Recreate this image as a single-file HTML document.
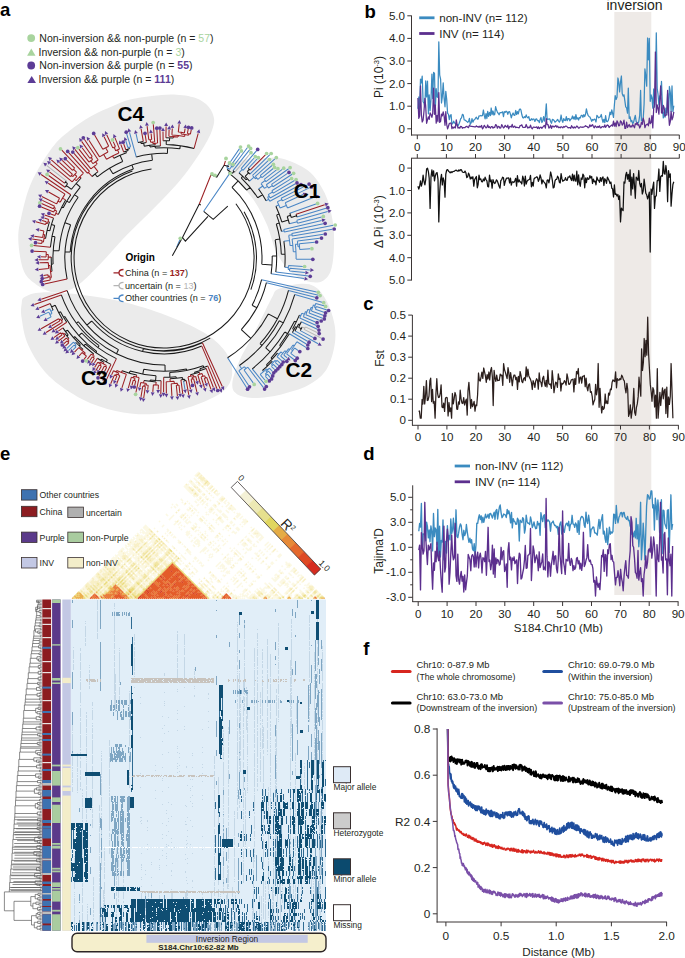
<!DOCTYPE html>
<html><head><meta charset="utf-8"><style>
html,body{margin:0;padding:0;background:#fff;width:685px;height:958px;overflow:hidden}
svg{display:block}
text{font-family:"Liberation Sans", sans-serif}
</style></head><body>
<svg width="685" height="958" viewBox="0 0 685 958">
<rect x="614.3" y="12" width="37" height="583" fill="#eeeae7"/>
<text x="634.5" y="10.2" font-size="14" text-anchor="middle" font-weight="normal" fill="#231f20" >inversion</text>
<line x1="411.5" y1="15.5" x2="411.5" y2="135.5" stroke="#3a3535" stroke-width="1"/>
<line x1="411" y1="135" x2="679.5" y2="135" stroke="#3a3535" stroke-width="1"/>
<line x1="407.3" y1="128.8" x2="411.5" y2="128.8" stroke="#3a3535" stroke-width="1"/>
<text x="405" y="132.8" font-size="11.6" text-anchor="end" font-weight="normal" fill="#231f20" >0</text>
<line x1="407.3" y1="106.2" x2="411.5" y2="106.2" stroke="#3a3535" stroke-width="1"/>
<text x="405" y="110.2" font-size="11.6" text-anchor="end" font-weight="normal" fill="#231f20" >1.0</text>
<line x1="407.3" y1="83.6" x2="411.5" y2="83.6" stroke="#3a3535" stroke-width="1"/>
<text x="405" y="87.6" font-size="11.6" text-anchor="end" font-weight="normal" fill="#231f20" >2.0</text>
<line x1="407.3" y1="61" x2="411.5" y2="61" stroke="#3a3535" stroke-width="1"/>
<text x="405" y="65" font-size="11.6" text-anchor="end" font-weight="normal" fill="#231f20" >3.0</text>
<line x1="407.3" y1="38.4" x2="411.5" y2="38.4" stroke="#3a3535" stroke-width="1"/>
<text x="405" y="42.4" font-size="11.6" text-anchor="end" font-weight="normal" fill="#231f20" >4.0</text>
<line x1="407.3" y1="15.8" x2="411.5" y2="15.8" stroke="#3a3535" stroke-width="1"/>
<text x="405" y="19.8" font-size="11.6" text-anchor="end" font-weight="normal" fill="#231f20" >5.0</text>
<line x1="417.3" y1="135" x2="417.3" y2="139.2" stroke="#3a3535" stroke-width="1"/>
<text x="417.3" y="151" font-size="11.6" text-anchor="middle" font-weight="normal" fill="#231f20" >0</text>
<line x1="446.4" y1="135" x2="446.4" y2="139.2" stroke="#3a3535" stroke-width="1"/>
<text x="446.4" y="151" font-size="11.6" text-anchor="middle" font-weight="normal" fill="#231f20" >10</text>
<line x1="475.5" y1="135" x2="475.5" y2="139.2" stroke="#3a3535" stroke-width="1"/>
<text x="475.5" y="151" font-size="11.6" text-anchor="middle" font-weight="normal" fill="#231f20" >20</text>
<line x1="504.6" y1="135" x2="504.6" y2="139.2" stroke="#3a3535" stroke-width="1"/>
<text x="504.6" y="151" font-size="11.6" text-anchor="middle" font-weight="normal" fill="#231f20" >30</text>
<line x1="533.7" y1="135" x2="533.7" y2="139.2" stroke="#3a3535" stroke-width="1"/>
<text x="533.7" y="151" font-size="11.6" text-anchor="middle" font-weight="normal" fill="#231f20" >40</text>
<line x1="562.9" y1="135" x2="562.9" y2="139.2" stroke="#3a3535" stroke-width="1"/>
<text x="562.9" y="151" font-size="11.6" text-anchor="middle" font-weight="normal" fill="#231f20" >50</text>
<line x1="592" y1="135" x2="592" y2="139.2" stroke="#3a3535" stroke-width="1"/>
<text x="592" y="151" font-size="11.6" text-anchor="middle" font-weight="normal" fill="#231f20" >60</text>
<line x1="621.1" y1="135" x2="621.1" y2="139.2" stroke="#3a3535" stroke-width="1"/>
<text x="621.1" y="151" font-size="11.6" text-anchor="middle" font-weight="normal" fill="#231f20" >70</text>
<line x1="650.2" y1="135" x2="650.2" y2="139.2" stroke="#3a3535" stroke-width="1"/>
<text x="650.2" y="151" font-size="11.6" text-anchor="middle" font-weight="normal" fill="#231f20" >80</text>
<line x1="679.3" y1="135" x2="679.3" y2="139.2" stroke="#3a3535" stroke-width="1"/>
<text x="679.3" y="151" font-size="11.6" text-anchor="middle" font-weight="normal" fill="#231f20" >90</text>
<text transform="rotate(-90 383.3 77)" x="383.3" y="77" font-size="12" text-anchor="middle" fill="#231f20">Pi (10<tspan dy="-4" font-size="7.5">-3</tspan><tspan dy="4">)</tspan></text>
<line x1="419.2" y1="17.8" x2="434.5" y2="17.8" stroke="#3b8bc0" stroke-width="2.8"/>
<line x1="419.2" y1="33.5" x2="434.5" y2="33.5" stroke="#5c2f8e" stroke-width="2.8"/>
<text x="439.2" y="21.8" font-size="11.6" text-anchor="start" font-weight="normal" fill="#231f20" >non-INV (n= 112)</text>
<text x="439.2" y="37.6" font-size="11.6" text-anchor="start" font-weight="normal" fill="#231f20" >INV (n= 114)</text>
<polyline points="417.9,108.7 418.8,97.0 419.6,109.9 420.5,79.1 421.4,82.8 422.2,76.2 423.1,101.7 424.0,103.2 424.9,107.2 425.7,80.9 426.6,96.9 427.5,81.1 428.4,113.8 429.2,94.8 430.1,110.6 431.0,99.1 431.9,74.1 432.7,98.6 433.6,72.3 434.5,73.4 435.3,108.9 436.2,88.7 437.1,97.0 438.0,97.4 438.8,41.8 439.7,75.1 440.6,79.1 441.5,103.0 442.3,97.0 443.2,82.8 444.1,98.3 445.0,106.8 445.8,91.4 446.7,99.4 447.6,113.4 448.4,114.1 449.3,119.6 450.2,115.3 451.1,114.7 451.9,124.2 452.8,123.4 453.7,121.2 454.6,123.0 455.4,123.4 456.3,124.8 457.2,124.7 458.1,125.8 458.9,124.0 459.8,121.8 460.7,118.7 461.5,117.9 462.4,114.3 463.3,115.0 464.2,120.0 465.0,120.1 465.9,120.7 466.8,121.4 467.7,122.3 468.5,121.6 469.4,118.3 470.3,124.3 471.2,122.8 472.0,118.6 472.9,122.2 473.8,120.0 474.6,119.7 475.5,118.2 476.4,117.2 477.3,119.0 478.1,119.0 479.0,115.9 479.9,116.0 480.8,115.5 481.6,115.8 482.5,115.7 483.4,110.0 484.3,115.4 485.1,118.9 486.0,113.6 486.9,118.5 487.7,111.3 488.6,116.3 489.5,112.3 490.4,115.6 491.2,108.0 492.1,114.6 493.0,111.0 493.9,115.0 494.7,114.5 495.6,106.7 496.5,110.1 497.4,112.1 498.2,113.3 499.1,114.8 500.0,112.7 500.8,112.5 501.7,112.5 502.6,111.8 503.5,116.6 504.3,111.6 505.2,112.4 506.1,111.2 507.0,111.8 507.8,114.4 508.7,111.8 509.6,111.6 510.5,114.4 511.3,117.8 512.2,114.8 513.1,113.0 513.9,115.1 514.8,115.3 515.7,110.5 516.6,114.5 517.4,111.6 518.3,113.9 519.2,110.0 520.1,108.9 520.9,109.8 521.8,114.5 522.7,117.6 523.6,118.0 524.4,116.7 525.3,117.6 526.2,114.9 527.0,117.1 527.9,117.9 528.8,116.6 529.7,120.4 530.5,120.4 531.4,118.7 532.3,119.9 533.2,119.0 534.0,119.2 534.9,121.4 535.8,119.1 536.7,118.9 537.5,120.7 538.4,120.6 539.3,122.6 540.1,119.6 541.0,117.5 541.9,122.5 542.8,120.7 543.6,116.7 544.5,121.2 545.4,115.8 546.3,103.9 547.1,119.6 548.0,119.1 548.9,119.2 549.8,118.9 550.6,121.5 551.5,123.3 552.4,119.4 553.2,119.7 554.1,120.5 555.0,122.2 555.9,121.4 556.7,120.7 557.6,119.4 558.5,120.8 559.4,122.1 560.2,120.5 561.1,115.0 562.0,120.3 562.8,122.4 563.7,118.6 564.6,120.3 565.5,120.5 566.3,116.6 567.2,120.7 568.1,118.6 569.0,118.5 569.8,120.9 570.7,119.3 571.6,118.7 572.5,116.0 573.3,118.9 574.2,116.8 575.1,119.6 575.9,114.7 576.8,119.0 577.7,117.8 578.6,120.0 579.4,117.5 580.3,118.0 581.2,115.4 582.1,115.3 582.9,117.4 583.8,114.7 584.7,116.6 585.6,114.0 586.4,108.8 587.3,113.0 588.2,115.6 589.0,116.4 589.9,117.0 590.8,118.9 591.7,121.3 592.5,119.5 593.4,120.2 594.3,119.1 595.2,119.8 596.0,122.0 596.9,115.4 597.8,116.5 598.7,117.8 599.5,117.3 600.4,116.7 601.3,114.5 602.1,118.9 603.0,122.3 603.9,119.3 604.8,122.6 605.6,115.7 606.5,121.4 607.4,121.6 608.3,120.3 609.1,117.3 610.0,112.1 610.9,114.7 611.8,109.9 612.6,113.3 613.5,117.4 614.4,104.7 615.2,95.6 616.1,99.4 617.0,97.3 617.9,78.0 618.7,81.6 619.6,91.9 620.5,82.0 621.4,76.0 622.2,93.5 623.1,96.1 624.0,94.8 624.9,101.2 625.7,106.9 626.6,107.9 627.5,113.2 628.3,88.1 629.2,118.5 630.1,116.8 631.0,121.7 631.8,120.5 632.7,123.6 633.6,122.1 634.5,118.5 635.3,115.3 636.2,121.7 637.1,122.5 638.0,123.3 638.8,121.5 639.7,115.4 640.6,90.4 641.4,120.9 642.3,120.7 643.2,118.7 644.1,104.0 644.9,68.8 645.8,76.2 646.7,86.2 647.6,38.0 648.4,59.8 649.3,38.4 650.2,101.3 651.1,94.8 651.9,97.6 652.8,108.2 653.7,89.0 654.5,107.2 655.4,94.9 656.3,32.8 657.2,88.6 658.0,94.2 658.9,105.0 659.8,95.9 660.7,95.3 661.5,81.4 662.4,105.0 663.3,117.9 664.2,112.0 665.0,117.2 665.9,108.1 666.8,112.8 667.6,93.4 668.5,115.3 669.4,86.5 670.3,92.4 671.1,111.2 672.0,85.9 672.9,111.6 673.8,105.6" fill="none" stroke="#3b8bc0" stroke-width="1.25" stroke-linejoin="round" />
<polyline points="417.9,98.0 418.8,118.4 419.6,116.2 420.5,85.9 421.4,114.9 422.2,122.0 423.1,120.3 424.0,111.0 424.9,98.3 425.7,106.4 426.6,123.3 427.5,119.8 428.4,116.8 429.2,119.3 430.1,112.8 431.0,114.5 431.9,117.4 432.7,113.6 433.6,88.1 434.5,114.3 435.3,105.0 436.2,123.2 437.1,115.4 438.0,121.7 438.8,92.6 439.7,122.4 440.6,121.4 441.5,114.1 442.3,115.9 443.2,111.8 444.1,116.0 445.0,125.3 445.8,111.7 446.7,124.4 447.6,128.8 448.4,126.5 449.3,123.5 450.2,123.2 451.1,123.2 451.9,128.6 452.8,127.0 453.7,128.1 454.6,126.9 455.4,127.9 456.3,119.8 457.2,125.3 458.1,128.2 458.9,127.3 459.8,128.2 460.7,126.3 461.5,126.5 462.4,128.3 463.3,127.6 464.2,127.7 465.0,127.7 465.9,126.6 466.8,126.3 467.7,127.1 468.5,127.6 469.4,125.2 470.3,126.2 471.2,126.3 472.0,126.3 472.9,126.7 473.8,126.7 474.6,126.9 475.5,126.9 476.4,125.8 477.3,126.8 478.1,126.5 479.0,127.4 479.9,126.2 480.8,127.1 481.6,125.5 482.5,128.8 483.4,127.6 484.3,125.3 485.1,126.5 486.0,127.9 486.9,127.2 487.7,125.0 488.6,127.5 489.5,126.7 490.4,128.2 491.2,126.7 492.1,126.5 493.0,128.1 493.9,127.2 494.7,127.5 495.6,124.6 496.5,125.3 497.4,128.2 498.2,126.4 499.1,126.6 500.0,128.3 500.8,127.8 501.7,124.6 502.6,126.2 503.5,127.9 504.3,127.3 505.2,125.3 506.1,126.5 507.0,127.2 507.8,125.2 508.7,128.8 509.6,126.6 510.5,126.4 511.3,127.0 512.2,124.4 513.1,127.4 513.9,126.8 514.8,126.1 515.7,127.7 516.6,127.2 517.4,127.4 518.3,127.6 519.2,127.9 520.1,125.5 520.9,125.5 521.8,124.8 522.7,127.2 523.6,127.5 524.4,127.4 525.3,127.3 526.2,124.5 527.0,126.6 527.9,128.2 528.8,127.2 529.7,127.6 530.5,125.2 531.4,127.8 532.3,128.8 533.2,127.2 534.0,127.2 534.9,127.3 535.8,127.4 536.7,126.8 537.5,128.5 538.4,126.9 539.3,128.7 540.1,127.5 541.0,127.1 541.9,128.3 542.8,127.2 543.6,126.1 544.5,125.4 545.4,128.1 546.3,118.6 547.1,124.5 548.0,124.5 548.9,128.1 549.8,127.4 550.6,125.2 551.5,128.4 552.4,126.1 553.2,126.2 554.1,127.1 555.0,126.2 555.9,125.5 556.7,127.2 557.6,126.1 558.5,127.6 559.4,127.2 560.2,127.9 561.1,126.7 562.0,127.1 562.8,127.9 563.7,126.5 564.6,127.2 565.5,126.2 566.3,126.1 567.2,126.9 568.1,127.8 569.0,127.7 569.8,127.6 570.7,128.3 571.6,125.7 572.5,127.2 573.3,128.0 574.2,126.8 575.1,128.0 575.9,127.3 576.8,126.0 577.7,126.8 578.6,128.2 579.4,127.9 580.3,126.8 581.2,127.0 582.1,127.4 582.9,127.0 583.8,127.1 584.7,126.5 585.6,125.7 586.4,126.5 587.3,126.7 588.2,127.8 589.0,127.2 589.9,124.8 590.8,126.5 591.7,125.5 592.5,124.6 593.4,126.6 594.3,127.8 595.2,125.8 596.0,126.7 596.9,127.6 597.8,126.4 598.7,127.3 599.5,125.8 600.4,127.9 601.3,127.7 602.1,126.5 603.0,126.7 603.9,127.2 604.8,124.9 605.6,127.4 606.5,126.0 607.4,124.9 608.3,125.6 609.1,127.5 610.0,126.4 610.9,125.7 611.8,125.0 612.6,126.0 613.5,121.1 614.4,126.2 615.2,122.9 616.1,126.6 617.0,120.9 617.9,122.5 618.7,125.9 619.6,125.4 620.5,120.9 621.4,121.9 622.2,125.2 623.1,123.7 624.0,120.2 624.9,128.4 625.7,128.3 626.6,122.2 627.5,127.5 628.3,125.9 629.2,124.5 630.1,127.1 631.0,125.8 631.8,127.0 632.7,124.7 633.6,125.9 634.5,127.8 635.3,123.6 636.2,124.6 637.1,122.6 638.0,125.2 638.8,124.7 639.7,128.0 640.6,126.3 641.4,122.4 642.3,124.3 643.2,118.1 644.1,121.2 644.9,127.7 645.8,125.3 646.7,124.6 647.6,123.9 648.4,125.8 649.3,118.2 650.2,123.6 651.1,122.6 651.9,115.6 652.8,127.9 653.7,108.2 654.5,104.6 655.4,52.0 656.3,112.5 657.2,104.9 658.0,107.9 658.9,114.1 659.8,99.2 660.7,85.9 661.5,112.9 662.4,113.2 663.3,105.4 664.2,108.0 665.0,116.0 665.9,115.1 666.8,115.0 667.6,90.4 668.5,112.1 669.4,125.3 670.3,121.5 671.1,111.3 672.0,119.9 672.9,117.3 673.8,111.9" fill="none" stroke="#5c2f8e" stroke-width="1.25" stroke-linejoin="round" />
<line x1="411.5" y1="158.2" x2="411.5" y2="280.5" stroke="#3a3535" stroke-width="1"/>
<line x1="411" y1="158.2" x2="679.5" y2="158.2" stroke="#3a3535" stroke-width="1"/>
<line x1="407.3" y1="168.1" x2="411.5" y2="168.1" stroke="#3a3535" stroke-width="1"/>
<text x="405" y="172.1" font-size="11.6" text-anchor="end" font-weight="normal" fill="#231f20" >0</text>
<line x1="407.3" y1="190.5" x2="411.5" y2="190.5" stroke="#3a3535" stroke-width="1"/>
<text x="405" y="194.5" font-size="11.6" text-anchor="end" font-weight="normal" fill="#231f20" >1.0</text>
<line x1="407.3" y1="212.9" x2="411.5" y2="212.9" stroke="#3a3535" stroke-width="1"/>
<text x="405" y="216.9" font-size="11.6" text-anchor="end" font-weight="normal" fill="#231f20" >2.0</text>
<line x1="407.3" y1="235.3" x2="411.5" y2="235.3" stroke="#3a3535" stroke-width="1"/>
<text x="405" y="239.3" font-size="11.6" text-anchor="end" font-weight="normal" fill="#231f20" >3.0</text>
<line x1="407.3" y1="257.7" x2="411.5" y2="257.7" stroke="#3a3535" stroke-width="1"/>
<text x="405" y="261.7" font-size="11.6" text-anchor="end" font-weight="normal" fill="#231f20" >4.0</text>
<line x1="407.3" y1="280.1" x2="411.5" y2="280.1" stroke="#3a3535" stroke-width="1"/>
<text x="405" y="284.1" font-size="11.6" text-anchor="end" font-weight="normal" fill="#231f20" >5.0</text>
<line x1="417.3" y1="154" x2="417.3" y2="158.2" stroke="#3a3535" stroke-width="1"/>
<line x1="446.4" y1="154" x2="446.4" y2="158.2" stroke="#3a3535" stroke-width="1"/>
<line x1="475.5" y1="154" x2="475.5" y2="158.2" stroke="#3a3535" stroke-width="1"/>
<line x1="504.6" y1="154" x2="504.6" y2="158.2" stroke="#3a3535" stroke-width="1"/>
<line x1="533.7" y1="154" x2="533.7" y2="158.2" stroke="#3a3535" stroke-width="1"/>
<line x1="562.9" y1="154" x2="562.9" y2="158.2" stroke="#3a3535" stroke-width="1"/>
<line x1="592" y1="154" x2="592" y2="158.2" stroke="#3a3535" stroke-width="1"/>
<line x1="621.1" y1="154" x2="621.1" y2="158.2" stroke="#3a3535" stroke-width="1"/>
<line x1="650.2" y1="154" x2="650.2" y2="158.2" stroke="#3a3535" stroke-width="1"/>
<line x1="679.3" y1="154" x2="679.3" y2="158.2" stroke="#3a3535" stroke-width="1"/>
<text transform="rotate(-90 383.3 221.6)" x="383.3" y="221.6" font-size="12" text-anchor="middle" fill="#231f20">Δ Pi (10<tspan dy="-4" font-size="7.5">-3</tspan><tspan dy="4">)</tspan></text>
<polyline points="417.9,186.3 418.8,189.1 419.6,186.5 420.5,180.8 421.4,186.1 422.2,182.9 423.1,175.2 424.0,181.3 424.9,184.9 425.7,179.8 426.6,169.0 427.5,168.1 428.4,171.6 429.2,178.4 430.1,208.4 431.0,177.0 431.9,169.8 432.7,176.1 433.6,170.9 434.5,180.9 435.3,175.9 436.2,173.3 437.1,172.6 438.0,179.3 438.8,221.9 439.7,191.7 440.6,179.7 441.5,174.4 442.3,185.0 443.2,177.8 444.1,181.0 445.0,197.2 445.8,174.1 446.7,170.0 447.6,169.6 448.4,171.0 449.3,171.9 450.2,172.9 451.1,171.7 451.9,172.5 452.8,171.6 453.7,171.4 454.6,171.1 455.4,170.4 456.3,170.2 457.2,170.9 458.1,171.3 458.9,169.9 459.8,170.9 460.7,169.6 461.5,169.9 462.4,172.0 463.3,172.3 464.2,172.5 465.0,171.1 465.9,172.8 466.8,177.6 467.7,176.8 468.5,173.1 469.4,175.1 470.3,179.0 471.2,177.1 472.0,178.6 472.9,176.7 473.8,186.1 474.6,179.7 475.5,178.1 476.4,176.5 477.3,187.8 478.1,184.5 479.0,175.1 479.9,179.5 480.8,178.9 481.6,181.6 482.5,181.8 483.4,179.0 484.3,180.8 485.1,177.1 486.0,179.5 486.9,180.8 487.7,186.4 488.6,186.9 489.5,175.2 490.4,181.6 491.2,180.0 492.1,188.2 493.0,179.6 493.9,182.4 494.7,183.5 495.6,182.3 496.5,179.8 497.4,181.1 498.2,183.5 499.1,186.2 500.0,188.2 500.8,180.7 501.7,179.5 502.6,177.2 503.5,177.7 504.3,185.4 505.2,181.5 506.1,179.0 507.0,178.0 507.8,178.2 508.7,177.9 509.6,183.0 510.5,178.2 511.3,185.1 512.2,181.8 513.1,181.9 513.9,182.5 514.8,180.7 515.7,178.3 516.6,186.1 517.4,175.7 518.3,182.0 519.2,179.9 520.1,182.1 520.9,182.0 521.8,184.0 522.7,176.2 523.6,178.9 524.4,186.0 525.3,176.1 526.2,184.1 527.0,181.4 527.9,180.2 528.8,179.7 529.7,179.2 530.5,175.4 531.4,186.8 532.3,182.4 533.2,186.2 534.0,179.0 534.9,177.9 535.8,177.6 536.7,176.8 537.5,177.3 538.4,181.3 539.3,179.0 540.1,174.9 541.0,178.0 541.9,183.8 542.8,179.9 543.6,181.6 544.5,182.6 545.4,183.8 546.3,187.9 547.1,180.2 548.0,179.8 548.9,182.9 549.8,178.3 550.6,172.0 551.5,175.7 552.4,180.7 553.2,187.9 554.1,187.2 555.0,180.9 555.9,179.3 556.7,179.3 557.6,176.2 558.5,177.9 559.4,182.3 560.2,182.9 561.1,173.6 562.0,178.9 562.8,181.3 563.7,180.4 564.6,180.1 565.5,177.6 566.3,180.1 567.2,180.3 568.1,177.0 569.0,177.2 569.8,175.8 570.7,178.5 571.6,180.5 572.5,174.1 573.3,180.8 574.2,175.1 575.1,181.0 575.9,181.1 576.8,171.2 577.7,184.8 578.6,174.9 579.4,182.7 580.3,186.3 581.2,178.0 582.1,179.3 582.9,174.2 583.8,175.6 584.7,187.8 585.6,178.0 586.4,182.7 587.3,177.7 588.2,179.3 589.0,179.0 589.9,175.6 590.8,178.0 591.7,176.5 592.5,183.5 593.4,179.1 594.3,181.8 595.2,181.1 596.0,184.8 596.9,177.0 597.8,180.0 598.7,180.4 599.5,182.3 600.4,177.6 601.3,181.3 602.1,177.9 603.0,176.9 603.9,185.5 604.8,178.7 605.6,180.1 606.5,183.3 607.4,177.1 608.3,179.0 609.1,180.6 610.0,183.5 610.9,182.0 611.8,188.2 612.6,188.8 613.5,197.0 614.4,184.9 615.2,194.4 616.1,194.0 617.0,196.0 617.9,194.5 618.7,199.5 619.6,195.9 620.5,221.9 621.4,208.2 622.2,209.5 623.1,210.7 624.0,182.0 624.9,183.0 625.7,175.3 626.6,172.3 627.5,179.2 628.3,174.4 629.2,181.4 630.1,169.9 631.0,195.1 631.8,177.2 632.7,188.9 633.6,173.6 634.5,185.5 635.3,198.3 636.2,177.1 637.1,178.5 638.0,180.4 638.8,170.5 639.7,183.7 640.6,186.9 641.4,183.4 642.3,194.0 643.2,191.0 644.1,179.2 644.9,185.3 645.8,193.2 646.7,194.8 647.6,198.9 648.4,196.3 649.3,192.1 650.2,252.1 651.1,189.0 651.9,194.3 652.8,187.0 653.7,182.1 654.5,208.4 655.4,196.3 656.3,195.9 657.2,180.7 658.0,180.7 658.9,169.0 659.8,191.4 660.7,176.5 661.5,175.7 662.4,176.2 663.3,161.4 664.2,173.4 665.0,174.2 665.9,165.5 666.8,173.4 667.6,201.7 668.5,170.6 669.4,177.2 670.3,173.9 671.1,206.2 672.0,193.6 672.9,184.5 673.8,181.8" fill="none" stroke="#111" stroke-width="1.25" stroke-linejoin="round" />
<line x1="412.4" y1="315" x2="412.4" y2="425.5" stroke="#3a3535" stroke-width="1"/>
<line x1="412" y1="425.3" x2="678.8" y2="425.3" stroke="#3a3535" stroke-width="1"/>
<line x1="408.2" y1="420.3" x2="412.4" y2="420.3" stroke="#3a3535" stroke-width="1"/>
<text x="406" y="424.3" font-size="11.6" text-anchor="end" font-weight="normal" fill="#231f20" >0</text>
<line x1="408.2" y1="399.2" x2="412.4" y2="399.2" stroke="#3a3535" stroke-width="1"/>
<text x="406" y="403.2" font-size="11.6" text-anchor="end" font-weight="normal" fill="#231f20" >0.1</text>
<line x1="408.2" y1="378.2" x2="412.4" y2="378.2" stroke="#3a3535" stroke-width="1"/>
<text x="406" y="382.2" font-size="11.6" text-anchor="end" font-weight="normal" fill="#231f20" >0.2</text>
<line x1="408.2" y1="357.2" x2="412.4" y2="357.2" stroke="#3a3535" stroke-width="1"/>
<text x="406" y="361.2" font-size="11.6" text-anchor="end" font-weight="normal" fill="#231f20" >0.3</text>
<line x1="408.2" y1="336.1" x2="412.4" y2="336.1" stroke="#3a3535" stroke-width="1"/>
<text x="406" y="340.1" font-size="11.6" text-anchor="end" font-weight="normal" fill="#231f20" >0.4</text>
<line x1="408.2" y1="315.1" x2="412.4" y2="315.1" stroke="#3a3535" stroke-width="1"/>
<text x="406" y="319.1" font-size="11.6" text-anchor="end" font-weight="normal" fill="#231f20" >0.5</text>
<line x1="418" y1="425.3" x2="418" y2="429.5" stroke="#3a3535" stroke-width="1"/>
<text x="418" y="441.2" font-size="11.6" text-anchor="middle" font-weight="normal" fill="#231f20" >0</text>
<line x1="446.9" y1="425.3" x2="446.9" y2="429.5" stroke="#3a3535" stroke-width="1"/>
<text x="446.9" y="441.2" font-size="11.6" text-anchor="middle" font-weight="normal" fill="#231f20" >10</text>
<line x1="475.9" y1="425.3" x2="475.9" y2="429.5" stroke="#3a3535" stroke-width="1"/>
<text x="475.9" y="441.2" font-size="11.6" text-anchor="middle" font-weight="normal" fill="#231f20" >20</text>
<line x1="504.8" y1="425.3" x2="504.8" y2="429.5" stroke="#3a3535" stroke-width="1"/>
<text x="504.8" y="441.2" font-size="11.6" text-anchor="middle" font-weight="normal" fill="#231f20" >30</text>
<line x1="533.7" y1="425.3" x2="533.7" y2="429.5" stroke="#3a3535" stroke-width="1"/>
<text x="533.7" y="441.2" font-size="11.6" text-anchor="middle" font-weight="normal" fill="#231f20" >40</text>
<line x1="562.6" y1="425.3" x2="562.6" y2="429.5" stroke="#3a3535" stroke-width="1"/>
<text x="562.6" y="441.2" font-size="11.6" text-anchor="middle" font-weight="normal" fill="#231f20" >50</text>
<line x1="591.6" y1="425.3" x2="591.6" y2="429.5" stroke="#3a3535" stroke-width="1"/>
<text x="591.6" y="441.2" font-size="11.6" text-anchor="middle" font-weight="normal" fill="#231f20" >60</text>
<line x1="620.5" y1="425.3" x2="620.5" y2="429.5" stroke="#3a3535" stroke-width="1"/>
<text x="620.5" y="441.2" font-size="11.6" text-anchor="middle" font-weight="normal" fill="#231f20" >70</text>
<line x1="649.4" y1="425.3" x2="649.4" y2="429.5" stroke="#3a3535" stroke-width="1"/>
<text x="649.4" y="441.2" font-size="11.6" text-anchor="middle" font-weight="normal" fill="#231f20" >80</text>
<line x1="678.4" y1="425.3" x2="678.4" y2="429.5" stroke="#3a3535" stroke-width="1"/>
<text x="678.4" y="441.2" font-size="11.6" text-anchor="middle" font-weight="normal" fill="#231f20" >90</text>
<text transform="rotate(-90 383.5 358.5)" x="383.5" y="358.5" font-size="12" text-anchor="middle" fill="#231f20">Fst</text>
<polyline points="418.6,411.5 419.4,411.0 420.3,418.2 421.2,418.2 422.1,399.5 422.9,404.0 423.8,386.4 424.7,404.0 425.5,396.6 426.4,380.6 427.3,400.5 428.1,400.2 429.0,396.0 429.9,380.7 430.7,378.2 431.6,401.6 432.5,389.3 433.3,403.2 434.2,401.5 435.1,418.2 435.9,394.4 436.8,378.7 437.7,394.1 438.5,397.5 439.4,397.1 440.3,393.2 441.1,384.8 442.0,407.0 442.9,407.7 443.7,403.1 444.6,411.4 445.5,398.0 446.4,397.4 447.2,397.8 448.1,416.0 449.0,402.5 449.8,411.6 450.7,407.8 451.6,418.2 452.4,393.5 453.3,403.9 454.2,398.4 455.0,392.5 455.9,395.6 456.8,409.1 457.6,409.3 458.5,401.9 459.4,404.2 460.2,390.2 461.1,399.1 462.0,403.2 462.8,403.5 463.7,397.7 464.6,405.0 465.4,401.8 466.3,399.2 467.2,415.1 468.0,390.7 468.9,382.3 469.8,395.3 470.7,408.3 471.5,399.5 472.4,406.7 473.3,404.5 474.1,401.3 475.0,411.1 475.9,404.9 476.7,405.7 477.6,394.7 478.5,373.0 479.3,380.0 480.2,381.1 481.1,376.9 481.9,372.2 482.8,378.4 483.7,368.0 484.5,371.7 485.4,375.8 486.3,382.3 487.1,374.6 488.0,379.0 488.9,372.0 489.7,380.0 490.6,370.7 491.5,367.5 492.4,377.4 493.2,405.6 494.1,370.4 495.0,378.1 495.8,381.3 496.7,375.2 497.6,380.6 498.4,380.4 499.3,380.3 500.2,374.1 501.0,375.7 501.9,375.1 502.8,385.4 503.6,363.7 504.5,369.8 505.4,372.4 506.2,375.4 507.1,378.6 508.0,367.7 508.8,372.4 509.7,382.3 510.6,372.7 511.4,378.0 512.3,385.7 513.2,378.0 514.0,375.0 514.9,375.0 515.8,379.7 516.7,377.4 517.5,389.4 518.4,376.3 519.3,381.8 520.1,371.5 521.0,375.3 521.9,381.7 522.7,382.7 523.6,378.7 524.5,377.7 525.3,380.7 526.2,366.9 527.1,376.8 527.9,369.2 528.8,375.7 529.7,377.9 530.5,379.4 531.4,382.4 532.3,389.5 533.1,380.7 534.0,383.1 534.9,387.3 535.7,381.2 536.6,378.7 537.5,380.4 538.3,389.2 539.2,372.8 540.1,381.4 541.0,382.4 541.8,386.6 542.7,378.3 543.6,376.2 544.4,382.5 545.3,386.3 546.2,380.4 547.0,387.0 547.9,370.1 548.8,383.7 549.6,384.6 550.5,384.0 551.4,388.4 552.2,370.7 553.1,379.8 554.0,392.7 554.8,386.8 555.7,382.2 556.6,383.0 557.4,387.3 558.3,373.9 559.2,379.3 560.0,378.4 560.9,391.0 561.8,383.1 562.6,384.0 563.5,383.1 564.4,380.7 565.3,382.1 566.1,385.2 567.0,373.8 567.9,378.2 568.7,384.2 569.6,384.3 570.5,382.5 571.3,379.9 572.2,379.7 573.1,379.1 573.9,391.9 574.8,378.6 575.7,384.3 576.5,371.5 577.4,373.8 578.3,368.5 579.1,383.2 580.0,377.7 580.9,377.0 581.7,383.1 582.6,376.4 583.5,376.2 584.3,375.5 585.2,386.6 586.1,378.1 587.0,387.7 587.8,390.8 588.7,384.6 589.6,383.8 590.4,392.3 591.3,391.6 592.2,396.3 593.0,404.9 593.9,401.7 594.8,399.5 595.6,384.4 596.5,394.8 597.4,389.2 598.2,363.5 599.1,407.3 600.0,388.4 600.8,402.8 601.7,412.9 602.6,406.4 603.4,409.4 604.3,408.0 605.2,394.0 606.0,403.5 606.9,401.0 607.8,403.7 608.6,393.1 609.5,395.1 610.4,389.1 611.3,389.6 612.1,382.4 613.0,379.8 613.9,380.9 614.7,381.5 615.6,371.9 616.5,387.8 617.3,378.6 618.2,380.1 619.1,380.1 619.9,378.6 620.8,379.6 621.7,375.2 622.5,376.6 623.4,379.7 624.3,380.8 625.1,387.9 626.0,392.8 626.9,383.4 627.7,389.5 628.6,416.4 629.5,413.4 630.3,404.8 631.2,418.2 632.1,411.2 632.9,406.3 633.8,388.4 634.7,412.6 635.6,415.3 636.4,407.6 637.3,403.9 638.2,396.4 639.0,377.2 639.9,387.0 640.8,396.2 641.6,348.8 642.5,370.5 643.4,362.3 644.2,338.5 645.1,356.6 646.0,340.3 646.8,355.2 647.7,317.2 648.6,353.8 649.4,368.3 650.3,384.4 651.2,392.0 652.0,401.3 652.9,387.7 653.8,390.3 654.6,407.0 655.5,395.2 656.4,418.2 657.3,368.7 658.1,418.2 659.0,405.1 659.9,392.4 660.7,405.5 661.6,395.7 662.5,387.9 663.3,398.8 664.2,390.5 665.1,389.1 665.9,413.6 666.8,387.1 667.7,417.3 668.5,397.0 669.4,404.4 670.3,396.1 671.1,363.5 672.0,390.5 672.9,418.2" fill="none" stroke="#2b1f1d" stroke-width="1.25" stroke-linejoin="round" />
<line x1="412.7" y1="485.3" x2="412.7" y2="602" stroke="#3a3535" stroke-width="1"/>
<line x1="412.3" y1="601.7" x2="678.5" y2="601.7" stroke="#3a3535" stroke-width="1"/>
<line x1="408.2" y1="497.3" x2="412.7" y2="497.3" stroke="#3a3535" stroke-width="1"/>
<text x="406" y="501.3" font-size="11.6" text-anchor="end" font-weight="normal" fill="#231f20" >5.0</text>
<line x1="410.2" y1="509.8" x2="412.7" y2="509.8" stroke="#3a3535" stroke-width="1"/>
<line x1="408.2" y1="522.3" x2="412.7" y2="522.3" stroke="#3a3535" stroke-width="1"/>
<text x="406" y="526.3" font-size="11.6" text-anchor="end" font-weight="normal" fill="#231f20" >3.0</text>
<line x1="410.2" y1="534.8" x2="412.7" y2="534.8" stroke="#3a3535" stroke-width="1"/>
<line x1="408.2" y1="547.3" x2="412.7" y2="547.3" stroke="#3a3535" stroke-width="1"/>
<text x="406" y="551.3" font-size="11.6" text-anchor="end" font-weight="normal" fill="#231f20" >1.0</text>
<line x1="410.2" y1="559.8" x2="412.7" y2="559.8" stroke="#3a3535" stroke-width="1"/>
<line x1="408.2" y1="572.3" x2="412.7" y2="572.3" stroke="#3a3535" stroke-width="1"/>
<text x="406" y="576.3" font-size="11.6" text-anchor="end" font-weight="normal" fill="#231f20" >-1.0</text>
<line x1="410.2" y1="584.8" x2="412.7" y2="584.8" stroke="#3a3535" stroke-width="1"/>
<line x1="408.2" y1="597.3" x2="412.7" y2="597.3" stroke="#3a3535" stroke-width="1"/>
<text x="406" y="601.3" font-size="11.6" text-anchor="end" font-weight="normal" fill="#231f20" >-3.0</text>
<line x1="418.2" y1="601.7" x2="418.2" y2="606" stroke="#3a3535" stroke-width="1"/>
<text x="418.2" y="618" font-size="11.6" text-anchor="middle" font-weight="normal" fill="#231f20" >0</text>
<line x1="447.1" y1="601.7" x2="447.1" y2="606" stroke="#3a3535" stroke-width="1"/>
<text x="447.1" y="618" font-size="11.6" text-anchor="middle" font-weight="normal" fill="#231f20" >10</text>
<line x1="476" y1="601.7" x2="476" y2="606" stroke="#3a3535" stroke-width="1"/>
<text x="476" y="618" font-size="11.6" text-anchor="middle" font-weight="normal" fill="#231f20" >20</text>
<line x1="504.8" y1="601.7" x2="504.8" y2="606" stroke="#3a3535" stroke-width="1"/>
<text x="504.8" y="618" font-size="11.6" text-anchor="middle" font-weight="normal" fill="#231f20" >30</text>
<line x1="533.7" y1="601.7" x2="533.7" y2="606" stroke="#3a3535" stroke-width="1"/>
<text x="533.7" y="618" font-size="11.6" text-anchor="middle" font-weight="normal" fill="#231f20" >40</text>
<line x1="562.6" y1="601.7" x2="562.6" y2="606" stroke="#3a3535" stroke-width="1"/>
<text x="562.6" y="618" font-size="11.6" text-anchor="middle" font-weight="normal" fill="#231f20" >50</text>
<line x1="591.5" y1="601.7" x2="591.5" y2="606" stroke="#3a3535" stroke-width="1"/>
<text x="591.5" y="618" font-size="11.6" text-anchor="middle" font-weight="normal" fill="#231f20" >60</text>
<line x1="620.4" y1="601.7" x2="620.4" y2="606" stroke="#3a3535" stroke-width="1"/>
<text x="620.4" y="618" font-size="11.6" text-anchor="middle" font-weight="normal" fill="#231f20" >70</text>
<line x1="649.2" y1="601.7" x2="649.2" y2="606" stroke="#3a3535" stroke-width="1"/>
<text x="649.2" y="618" font-size="11.6" text-anchor="middle" font-weight="normal" fill="#231f20" >80</text>
<line x1="678.1" y1="601.7" x2="678.1" y2="606" stroke="#3a3535" stroke-width="1"/>
<text x="678.1" y="618" font-size="11.6" text-anchor="middle" font-weight="normal" fill="#231f20" >90</text>
<text x="558.3" y="631.8" font-size="11.6" text-anchor="middle" font-weight="normal" fill="#231f20" >S184.Chr10 (Mb)</text>
<text transform="rotate(-90 383 550.8)" x="383" y="550.8" font-size="12" text-anchor="middle" fill="#231f20">Tajima'D</text>
<line x1="454.7" y1="466" x2="470" y2="466" stroke="#3b8bc0" stroke-width="2.8"/>
<line x1="454.7" y1="481.8" x2="470" y2="481.8" stroke="#5c2f8e" stroke-width="2.8"/>
<text x="475" y="470" font-size="11.6" text-anchor="start" font-weight="normal" fill="#231f20" >non-INV (n= 112)</text>
<text x="475" y="485.8" font-size="11.6" text-anchor="start" font-weight="normal" fill="#231f20" >INV (n= 114)</text>
<polyline points="418.8,531.3 419.6,523.5 420.5,527.0 421.4,503.5 422.2,548.9 423.1,534.0 424.0,534.1 424.8,534.0 425.7,540.7 426.6,522.1 427.4,526.4 428.3,537.9 429.2,530.0 430.0,541.7 430.9,525.9 431.8,531.8 432.6,550.9 433.5,513.5 434.4,536.6 435.2,528.0 436.1,529.9 437.0,544.8 437.8,509.5 438.7,556.8 439.6,526.2 440.4,557.0 441.3,540.5 442.2,542.1 443.0,520.0 443.9,559.8 444.8,554.0 445.6,541.4 446.5,553.0 447.4,525.6 448.2,541.0 449.1,535.4 450.0,539.9 450.8,519.0 451.7,533.7 452.6,529.8 453.4,518.2 454.3,531.7 455.2,537.8 456.0,509.8 456.9,536.3 457.8,537.6 458.6,533.2 459.5,527.2 460.4,523.9 461.2,525.5 462.1,534.1 463.0,539.7 463.8,530.3 464.7,535.6 465.6,533.0 466.4,524.5 467.3,532.1 468.2,538.2 469.0,542.3 469.9,538.2 470.8,542.8 471.6,539.7 472.5,548.9 473.4,550.7 474.2,543.6 475.1,555.8 476.0,544.8 476.8,523.3 477.7,523.4 478.6,517.5 479.4,514.8 480.3,519.5 481.2,515.8 482.0,522.7 482.9,517.1 483.8,522.4 484.6,518.7 485.5,514.1 486.4,517.9 487.2,516.9 488.1,514.3 489.0,518.3 489.8,513.7 490.7,513.5 491.6,515.8 492.4,518.1 493.3,514.8 494.2,512.2 495.0,519.3 495.9,510.7 496.8,509.5 497.6,519.0 498.5,512.7 499.4,507.0 500.2,505.0 501.1,512.8 502.0,517.7 502.8,516.4 503.7,514.0 504.6,514.5 505.4,515.1 506.3,517.5 507.2,509.4 508.0,513.8 508.9,510.8 509.7,514.6 510.6,522.9 511.5,512.4 512.3,527.9 513.2,518.6 514.1,521.1 514.9,521.7 515.8,524.3 516.7,524.1 517.5,518.2 518.4,520.1 519.3,541.0 520.1,520.2 521.0,521.8 521.9,522.5 522.7,517.6 523.6,519.2 524.5,533.0 525.3,529.0 526.2,515.1 527.1,521.4 527.9,523.2 528.8,523.2 529.7,524.5 530.5,516.9 531.4,521.0 532.3,527.6 533.1,525.5 534.0,522.0 534.9,526.3 535.7,528.7 536.6,528.3 537.5,521.4 538.3,524.8 539.2,523.4 540.1,535.3 540.9,512.6 541.8,517.9 542.7,521.6 543.5,515.9 544.4,514.8 545.3,527.6 546.1,522.7 547.0,521.4 547.9,519.8 548.7,520.7 549.6,521.7 550.5,531.2 551.3,523.3 552.2,522.5 553.1,521.0 553.9,523.7 554.8,525.6 555.7,525.5 556.5,527.7 557.4,526.5 558.3,534.4 559.1,527.3 560.0,523.6 560.9,521.9 561.7,534.0 562.6,525.0 563.5,530.9 564.3,532.3 565.2,526.4 566.1,523.8 566.9,523.1 567.8,525.8 568.7,521.3 569.5,530.5 570.4,524.7 571.3,523.6 572.1,515.3 573.0,524.0 573.9,524.3 574.7,527.4 575.6,523.0 576.5,524.8 577.3,532.3 578.2,520.7 579.1,534.4 579.9,521.6 580.8,517.9 581.7,516.4 582.5,516.8 583.4,518.3 584.3,525.6 585.1,527.4 586.0,512.1 586.9,521.3 587.7,523.5 588.6,515.2 589.5,521.3 590.3,536.6 591.2,529.1 592.1,528.8 592.9,526.9 593.8,527.4 594.7,532.8 595.5,533.0 596.4,533.6 597.3,535.1 598.1,526.8 599.0,519.4 599.9,528.6 600.7,522.0 601.6,519.0 602.5,514.6 603.3,534.0 604.2,531.1 605.1,538.7 605.9,542.4 606.8,528.3 607.7,544.5 608.5,537.3 609.4,527.1 610.3,534.2 611.1,531.8 612.0,533.1 612.9,531.7 613.7,514.1 614.6,514.6 615.5,523.4 616.3,505.5 617.2,518.8 618.0,522.8 618.9,517.6 619.8,515.4 620.6,512.8 621.5,512.4 622.4,516.8 623.2,512.7 624.1,512.4 625.0,517.1 625.8,518.1 626.7,519.3 627.6,516.5 628.4,520.6 629.3,520.3 630.2,526.1 631.0,528.1 631.9,534.4 632.8,532.9 633.6,536.9 634.5,531.1 635.4,537.9 636.2,518.3 637.1,538.9 638.0,524.7 638.8,546.7 639.7,534.4 640.6,502.3 641.4,559.8 642.3,545.2 643.2,523.1 644.0,537.1 644.9,559.8 645.8,530.7 646.6,505.6 647.5,494.7 648.4,495.7 649.2,499.1 650.1,498.4 651.0,491.0 651.8,491.0 652.7,507.9 653.6,504.8 654.4,530.0 655.3,498.2 656.2,505.7 657.0,519.6 657.9,500.0 658.8,510.8 659.6,532.6 660.5,516.1 661.4,499.7 662.2,553.5 663.1,510.1 664.0,510.7 664.8,523.5 665.7,526.0 666.6,528.5 667.4,510.4 668.3,509.7 669.2,552.4 670.0,524.1 670.9,494.8 671.8,529.4 672.6,524.0" fill="none" stroke="#3b8bc0" stroke-width="1.35" stroke-linejoin="round" />
<polyline points="418.8,550.1 419.6,545.1 420.5,589.9 421.4,532.6 422.2,545.8 423.1,554.1 424.0,550.6 424.8,502.3 425.7,537.0 426.6,551.7 427.4,564.5 428.3,545.1 429.2,549.8 430.0,547.0 430.9,543.7 431.8,570.6 432.6,589.2 433.5,563.0 434.4,570.3 435.2,551.3 436.1,561.7 437.0,542.2 437.8,556.6 438.7,560.7 439.6,551.3 440.4,568.3 441.3,581.8 442.2,592.2 443.0,557.0 443.9,526.1 444.8,572.0 445.6,567.1 446.5,540.7 447.4,529.1 448.2,538.3 449.1,584.2 450.0,572.2 450.8,553.4 451.7,535.0 452.6,554.0 453.4,559.8 454.3,557.7 455.2,523.3 456.0,575.7 456.9,581.4 457.8,554.2 458.6,579.3 459.5,584.1 460.4,575.9 461.2,571.4 462.1,581.2 463.0,576.3 463.8,592.0 464.7,575.0 465.6,589.8 466.4,583.2 467.3,576.0 468.2,554.5 469.0,556.9 469.9,559.5 470.8,570.7 471.6,556.4 472.5,554.6 473.4,556.8 474.2,567.0 475.1,551.7 476.0,566.9 476.8,556.6 477.7,552.1 478.6,567.9 479.4,557.0 480.3,553.2 481.2,559.9 482.0,572.9 482.9,557.8 483.8,558.4 484.6,561.6 485.5,551.4 486.4,575.3 487.2,555.4 488.1,527.3 489.0,561.6 489.8,560.0 490.7,569.7 491.6,563.4 492.4,545.1 493.3,574.1 494.2,549.0 495.0,577.4 495.9,557.9 496.8,563.7 497.6,559.4 498.5,560.7 499.4,565.1 500.2,564.0 501.1,547.3 502.0,559.8 502.8,552.0 503.7,550.7 504.6,571.5 505.4,569.3 506.3,564.0 507.2,587.3 508.0,550.6 508.9,542.6 509.7,559.7 510.6,557.2 511.5,569.9 512.3,558.0 513.2,560.3 514.1,556.8 514.9,563.7 515.8,561.9 516.7,559.9 517.5,583.5 518.4,561.9 519.3,553.1 520.1,554.5 521.0,579.0 521.9,577.8 522.7,573.0 523.6,568.7 524.5,559.9 525.3,545.5 526.2,568.3 527.1,567.9 527.9,555.3 528.8,554.9 529.7,553.4 530.5,528.5 531.4,580.5 532.3,563.5 533.1,546.0 534.0,550.7 534.9,562.6 535.7,558.5 536.6,554.9 537.5,559.6 538.3,570.7 539.2,551.8 540.1,567.6 540.9,564.7 541.8,561.7 542.7,554.0 543.5,569.6 544.4,567.1 545.3,570.1 546.1,498.5 547.0,556.4 547.9,576.9 548.7,561.8 549.6,563.1 550.5,576.2 551.3,565.3 552.2,558.8 553.1,551.3 553.9,564.5 554.8,556.2 555.7,555.8 556.5,568.6 557.4,572.8 558.3,559.3 559.1,527.3 560.0,554.8 560.9,565.5 561.7,573.6 562.6,511.0 563.5,562.1 564.3,566.4 565.2,574.4 566.1,559.3 566.9,560.5 567.8,560.8 568.7,543.4 569.5,561.6 570.4,565.3 571.3,558.5 572.1,560.6 573.0,570.6 573.9,565.6 574.7,569.4 575.6,567.7 576.5,558.4 577.3,557.5 578.2,563.9 579.1,560.8 579.9,569.0 580.8,563.1 581.7,570.4 582.5,563.9 583.4,532.3 584.3,566.6 585.1,564.6 586.0,560.3 586.9,557.4 587.7,544.6 588.6,558.7 589.5,561.6 590.3,560.2 591.2,564.3 592.1,564.7 592.9,568.5 593.8,582.1 594.7,580.5 595.5,596.0 596.4,576.9 597.3,584.0 598.1,587.4 599.0,583.3 599.9,589.6 600.7,577.2 601.6,555.4 602.5,556.7 603.3,549.8 604.2,571.4 605.1,554.5 605.9,555.1 606.8,576.0 607.7,549.8 608.5,553.6 609.4,544.6 610.3,543.8 611.1,559.6 612.0,555.3 612.9,561.5 613.7,562.0 614.6,574.3 615.5,584.9 616.3,577.3 617.2,577.3 618.0,570.6 618.9,576.9 619.8,585.7 620.6,569.3 621.5,578.2 622.4,582.3 623.2,590.8 624.1,575.3 625.0,566.7 625.8,560.7 626.7,575.4 627.6,576.0 628.4,578.2 629.3,561.0 630.2,550.7 631.0,516.7 631.9,522.3 632.8,545.7 633.6,547.3 634.5,558.3 635.4,572.6 636.2,573.6 637.1,578.2 638.0,550.5 638.8,580.1 639.7,572.9 640.6,567.7 641.4,581.5 642.3,578.6 643.2,596.0 644.0,575.0 644.9,567.9 645.8,555.8 646.6,568.2 647.5,562.3 648.4,550.3 649.2,548.9 650.1,552.1 651.0,536.9 651.8,558.1 652.7,550.6 653.6,537.0 654.4,544.0 655.3,560.1 656.2,596.0 657.0,544.6 657.9,558.3 658.8,561.6 659.6,542.1 660.5,502.3 661.4,560.1 662.2,556.9 663.1,573.0 664.0,534.5 664.8,532.5 665.7,559.9 666.6,559.0 667.4,594.8 668.3,537.9 669.2,560.0 670.0,565.7 670.9,554.2 671.8,596.0 672.6,546.0" fill="none" stroke="#5c2f8e" stroke-width="1.35" stroke-linejoin="round" />
<line x1="437.1" y1="728.3" x2="437.1" y2="922.5" stroke="#3a3535" stroke-width="1"/>
<line x1="436.6" y1="922" x2="667" y2="922" stroke="#3a3535" stroke-width="1"/>
<line x1="432.8" y1="913.8" x2="437.1" y2="913.8" stroke="#3a3535" stroke-width="1"/>
<text x="430.3" y="918" font-size="11.8" text-anchor="end" font-weight="normal" fill="#231f20" >0</text>
<line x1="432.8" y1="867.6" x2="437.1" y2="867.6" stroke="#3a3535" stroke-width="1"/>
<text x="430.3" y="871.8" font-size="11.8" text-anchor="end" font-weight="normal" fill="#231f20" >0.2</text>
<line x1="432.8" y1="821.4" x2="437.1" y2="821.4" stroke="#3a3535" stroke-width="1"/>
<text x="430.3" y="825.6" font-size="11.8" text-anchor="end" font-weight="normal" fill="#231f20" >0.4</text>
<line x1="432.8" y1="775.2" x2="437.1" y2="775.2" stroke="#3a3535" stroke-width="1"/>
<text x="430.3" y="779.4" font-size="11.8" text-anchor="end" font-weight="normal" fill="#231f20" >0.6</text>
<line x1="432.8" y1="729" x2="437.1" y2="729" stroke="#3a3535" stroke-width="1"/>
<text x="430.3" y="733.2" font-size="11.8" text-anchor="end" font-weight="normal" fill="#231f20" >0.8</text>
<line x1="445.9" y1="922" x2="445.9" y2="926.3" stroke="#3a3535" stroke-width="1"/>
<text x="445.9" y="939.5" font-size="11.8" text-anchor="middle" font-weight="normal" fill="#231f20" >0</text>
<line x1="501.1" y1="922" x2="501.1" y2="926.3" stroke="#3a3535" stroke-width="1"/>
<text x="501.1" y="939.5" font-size="11.8" text-anchor="middle" font-weight="normal" fill="#231f20" >0.5</text>
<line x1="556.2" y1="922" x2="556.2" y2="926.3" stroke="#3a3535" stroke-width="1"/>
<text x="556.2" y="939.5" font-size="11.8" text-anchor="middle" font-weight="normal" fill="#231f20" >1.0</text>
<line x1="611.4" y1="922" x2="611.4" y2="926.3" stroke="#3a3535" stroke-width="1"/>
<text x="611.4" y="939.5" font-size="11.8" text-anchor="middle" font-weight="normal" fill="#231f20" >1.5</text>
<line x1="666.6" y1="922" x2="666.6" y2="926.3" stroke="#3a3535" stroke-width="1"/>
<text x="666.6" y="939.5" font-size="11.8" text-anchor="middle" font-weight="normal" fill="#231f20" >2.0</text>
<text x="558.6" y="955.5" font-size="11.7" text-anchor="middle" font-weight="normal" fill="#231f20" >Distance (Mb)</text>
<text x="395" y="826.2" font-size="11.8" text-anchor="start" font-weight="normal" fill="#231f20" >R2</text>
<line x1="392.5" y1="671.5" x2="410.0" y2="671.5" stroke="#d7261f" stroke-width="3.2" stroke-linecap="round"/>
<text x="416.5" y="668.3" font-size="9.8" text-anchor="start" font-weight="normal" fill="#231f20" textLength="73" lengthAdjust="spacingAndGlyphs">Chr10: 0-87.9 Mb</text>
<text x="416.5" y="679.7" font-size="9.8" text-anchor="start" font-weight="normal" fill="#231f20" textLength="98.8" lengthAdjust="spacingAndGlyphs">(The whole chromosome)</text>
<line x1="543.9" y1="671.5" x2="561.4" y2="671.5" stroke="#1f4e9e" stroke-width="3.2" stroke-linecap="round"/>
<text x="567.9" y="668.3" font-size="9.8" text-anchor="start" font-weight="normal" fill="#231f20" textLength="86.5" lengthAdjust="spacingAndGlyphs">Chr10: 69.0-79.0 Mb</text>
<text x="567.9" y="679.7" font-size="9.8" text-anchor="start" font-weight="normal" fill="#231f20" textLength="84.6" lengthAdjust="spacingAndGlyphs">(Within the inversion)</text>
<line x1="392.5" y1="703" x2="410.0" y2="703" stroke="#000000" stroke-width="3.2" stroke-linecap="round"/>
<text x="416.5" y="699.8" font-size="9.8" text-anchor="start" font-weight="normal" fill="#231f20" textLength="86.6" lengthAdjust="spacingAndGlyphs">Chr10: 63.0-73.0 Mb</text>
<text x="416.5" y="711.2" font-size="9.8" text-anchor="start" font-weight="normal" fill="#231f20" textLength="120.7" lengthAdjust="spacingAndGlyphs">(Downstream of the inversion)</text>
<line x1="543.9" y1="703" x2="561.4" y2="703" stroke="#7a4fa8" stroke-width="3.2" stroke-linecap="round"/>
<text x="567.9" y="699.8" font-size="9.8" text-anchor="start" font-weight="normal" fill="#231f20" textLength="86.1" lengthAdjust="spacingAndGlyphs">Chr10: 75.0-85.0 Mb</text>
<text x="567.9" y="711.2" font-size="9.8" text-anchor="start" font-weight="normal" fill="#231f20" textLength="107.7" lengthAdjust="spacingAndGlyphs">(Upstream of the inversion)</text>
<polyline points="447.7,729.0 448.1,759.4 448.5,757.8 448.8,758.9 449.2,757.7 449.5,757.7 449.9,761.1 450.2,761.5 450.6,756.9 450.9,760.4 451.3,760.7 451.6,756.4 452.0,759.6 452.3,757.6 452.7,759.8 453.1,759.0 453.4,762.0 453.8,759.3 454.1,758.1 454.5,760.2 454.8,759.1 455.2,759.7 455.5,763.3 455.9,759.4 456.2,760.5 456.6,762.3 456.9,764.0 457.3,759.3 457.6,761.6 458.0,760.3 458.3,759.4 458.7,760.5 459.1,759.4 459.4,762.5 459.8,760.2 460.1,762.3 460.5,759.6 460.8,760.0 461.2,764.6 461.5,764.4 461.9,764.0 462.2,759.8 462.6,762.9 462.9,761.9 463.3,763.8 463.6,762.7 464.0,763.5 464.4,763.8 464.7,762.5 465.1,762.6 465.4,760.8 465.8,762.1 466.1,760.8 466.5,761.3 466.8,760.6 467.2,762.5 467.5,765.5 467.9,761.5 468.2,761.0 468.6,761.4 468.9,763.5 469.3,762.7 469.6,765.7 470.0,762.2 470.4,763.7 470.7,765.5 471.1,766.8 471.4,762.4 471.8,761.7 472.1,766.9 472.5,762.9 472.8,765.2 473.2,766.8 473.5,766.1 473.9,763.4 474.2,762.9 474.6,767.8 474.9,764.6 475.3,767.9 475.7,764.1 476.0,766.4 476.4,763.3 476.7,762.9 477.1,765.7 477.4,762.9 477.8,767.0 478.1,768.4 478.5,765.5 478.8,768.8 479.2,768.0 479.5,766.8 479.9,765.7 480.2,768.4 480.6,769.2 480.9,764.5 481.3,767.8 481.7,764.1 482.0,764.6 482.4,767.7 482.7,767.3 483.1,767.0 483.4,766.4 483.8,766.7 484.1,767.0 484.5,766.7 484.8,765.0 485.2,767.6 485.5,768.1 485.9,766.5 486.2,769.4 486.6,769.1 487.0,765.3 487.3,768.0 487.7,767.9 488.0,771.1 488.4,768.8 488.7,768.0 489.1,771.3 489.4,767.9 489.8,767.9 490.1,771.3 490.5,768.0 490.8,768.9 491.2,767.6 491.5,769.5 491.9,767.5 492.2,767.3 492.6,771.4 493.0,771.1 493.3,767.6 493.7,765.9 494.0,770.0 494.4,768.8 494.7,768.0 495.1,769.6 495.4,769.3 495.8,769.6 496.1,769.2 496.5,767.9 496.8,769.6 497.2,769.1 497.5,766.8 497.9,771.1 498.3,768.0 498.6,767.0 499.0,769.5 499.3,769.9 499.7,766.6 500.0,769.8 500.4,770.1 500.7,768.7 501.1,767.1 501.4,770.5 501.8,769.2 502.1,769.2 502.5,766.2 502.8,768.5 503.2,766.1 503.5,770.0 503.9,769.0 504.3,767.2 504.6,765.8 505.0,768.3 505.3,769.5 505.7,770.1 506.0,767.7 506.4,769.7 506.7,766.1 507.1,765.9 507.4,769.6 507.8,769.1 508.1,766.0 508.5,766.9 508.8,765.9 509.2,768.6 509.5,769.8 509.9,768.8 510.3,765.9 510.6,768.9 511.0,768.4 511.3,768.0 511.7,768.0 512.0,768.0 512.4,765.0 512.7,769.4 513.1,770.2 513.4,764.8 513.8,765.1 514.1,764.5 514.5,767.7 514.8,764.7 515.2,764.8 515.6,768.8 515.9,765.8 516.3,765.2 516.6,766.2 517.0,767.0 517.3,768.3 517.7,768.0 518.0,768.6 518.4,769.5 518.7,766.5 519.1,768.2 519.4,765.1 519.8,769.5 520.1,764.7 520.5,766.1 520.8,764.9 521.2,765.2 521.6,765.3 521.9,767.4 522.3,770.8 522.6,766.7 523.0,770.2 523.3,769.6 523.7,767.7 524.0,768.6 524.4,769.4 524.7,766.5 525.1,768.6 525.4,770.3 525.8,771.0 526.1,767.6 526.5,770.0 526.9,768.4 527.2,771.0 527.6,772.1 527.9,770.3 528.3,768.8 528.6,772.7 529.0,769.3 529.3,768.7 529.7,769.5 530.0,769.6 530.4,774.4 530.7,771.0 531.1,769.8 531.4,774.7 531.8,773.5 532.1,773.7 532.5,772.4 532.9,773.1 533.2,773.0 533.6,771.4 533.9,776.0 534.3,775.9 534.6,775.6 535.0,775.8 535.3,776.3 535.7,771.2 536.0,772.1 536.4,776.7 536.7,774.4 537.1,775.6 537.4,775.8 537.8,775.8 538.2,774.2 538.5,774.7 538.9,776.2 539.2,777.3 539.6,776.7 539.9,778.0 540.3,775.6 540.6,774.7 541.0,776.7 541.3,778.5 541.7,777.9 542.0,776.8 542.4,775.5 542.7,774.6 543.1,776.9 543.4,774.5 543.8,775.6 544.2,776.7 544.5,777.1 544.9,776.4 545.2,775.3 545.6,777.0 545.9,775.4 546.3,776.8 546.6,778.1 547.0,776.4 547.3,775.6 547.7,779.2 548.0,777.2 548.4,777.2 548.7,774.7 549.1,774.4 549.5,777.7 549.8,774.7 550.2,775.3 550.5,778.4 550.9,777.3 551.2,779.3 551.6,775.3 551.9,776.3 552.3,775.0 552.6,775.6 553.0,776.3 553.3,776.0 553.7,777.0 554.0,779.7 554.4,777.0 554.7,780.4 555.1,779.6 555.5,776.0 555.8,780.3 556.2,780.0 556.5,780.0 556.9,775.5 557.2,779.6 557.6,780.6 557.9,775.9 558.3,780.1 558.6,775.9 559.0,777.0 559.3,776.1 559.7,775.5 560.0,777.7 560.4,776.4 560.8,780.9 561.1,776.7 561.5,778.3 561.8,777.1 562.2,780.7 562.5,777.0 562.9,776.0 563.2,781.1 563.6,779.7 563.9,778.3 564.3,776.8 564.6,780.3 565.0,780.7 565.3,780.3 565.7,778.3 566.0,777.5 566.4,779.7 566.8,779.9 567.1,779.8 567.5,780.1 567.8,779.7 568.2,781.7 568.5,779.4 568.9,776.7 569.2,780.0 569.6,778.1 569.9,781.5 570.3,778.5 570.6,778.2 571.0,778.7 571.3,779.7 571.7,779.9 572.1,779.1 572.4,777.6 572.8,782.0 573.1,782.4 573.5,778.7 573.8,777.7 574.2,780.1 574.5,780.6 574.9,779.0 575.2,782.2 575.6,781.7 575.9,782.2 576.3,780.0 576.6,781.6 577.0,782.1 577.3,779.5 577.7,778.1 578.1,781.9 578.4,779.6 578.8,781.4 579.1,778.9 579.5,780.6 579.8,782.5 580.2,782.8 580.5,784.0 580.9,781.5 581.2,782.1 581.6,783.4 581.9,782.4 582.3,782.7 582.6,780.1 583.0,783.8 583.4,779.0 583.7,782.0 584.1,781.4 584.4,782.3 584.8,780.2 585.1,780.4 585.5,782.0 585.8,782.5 586.2,781.2 586.5,780.5 586.9,783.2 587.2,781.3 587.6,780.1 587.9,783.0 588.3,784.4 588.6,784.5 589.0,781.8 589.4,782.1 589.7,780.5 590.1,781.2 590.4,784.8 590.8,785.2 591.1,784.9 591.5,785.3 591.8,782.4 592.2,781.6 592.5,781.4 592.9,785.2 593.2,781.8 593.6,785.0 593.9,784.5 594.3,782.8 594.7,786.6 595.0,786.6 595.4,782.4 595.7,785.6 596.1,785.3 596.4,784.1 596.8,783.6 597.1,787.6 597.5,785.8 597.8,785.3 598.2,785.1 598.5,786.8 598.9,784.7 599.2,782.7 599.6,786.1 599.9,785.3 600.3,787.8 600.7,787.0 601.0,784.9 601.4,788.2 601.7,783.8 602.1,783.8 602.4,788.6 602.8,783.8 603.1,787.2 603.5,785.0 603.8,785.2 604.2,788.0 604.5,785.9 604.9,786.1 605.2,785.3 605.6,788.5 606.0,785.8 606.3,784.7 606.7,786.5 607.0,787.4 607.4,789.9 607.7,787.8 608.1,788.8 608.4,786.8 608.8,787.1 609.1,787.8 609.5,790.2 609.8,787.6 610.2,787.8 610.5,790.5 610.9,786.5 611.2,787.9 611.6,791.1 612.0,786.6 612.3,791.2 612.7,790.2 613.0,788.1 613.4,788.9 613.7,789.2 614.1,788.8 614.4,790.0 614.8,791.0 615.1,791.8 615.5,792.6 615.8,788.9 616.2,788.8 616.5,790.1 616.9,789.0 617.3,791.2 617.6,791.8 618.0,791.2 618.3,788.4 618.7,793.3 619.0,790.7 619.4,792.2 619.7,789.3 620.1,791.7 620.4,791.9 620.8,791.5 621.1,790.8 621.5,789.5 621.8,792.0 622.2,789.2 622.5,793.5 622.9,792.6 623.3,793.7 623.6,793.7 624.0,789.9 624.3,790.2 624.7,793.4 625.0,793.4 625.4,792.2 625.7,790.4 626.1,790.0 626.4,790.4 626.8,791.4 627.1,794.0 627.5,792.6 627.8,793.9 628.2,792.0 628.6,791.8 628.9,794.0 629.3,793.8 629.6,790.7 630.0,795.1 630.3,790.7 630.7,790.3 631.0,790.0 631.4,793.3 631.7,792.4 632.1,792.3 632.4,792.1 632.8,790.1 633.1,791.9 633.5,794.1 633.8,791.0 634.2,793.2 634.6,792.6 634.9,791.9 635.3,796.2 635.6,791.8 636.0,792.6 636.3,793.7 636.7,793.6 637.0,794.0 637.4,795.7 637.7,793.8 638.1,796.8 638.4,794.2 638.8,793.4 639.1,794.7 639.5,794.1 639.9,791.9 640.2,792.4 640.6,796.9 640.9,793.2 641.3,794.3 641.6,797.7 642.0,796.0 642.3,796.8 642.7,797.8 643.0,795.2 643.4,793.1 643.7,796.7 644.1,793.6 644.4,794.7 644.8,798.1 645.1,794.0 645.5,795.6 645.9,793.8 646.2,795.1 646.6,795.1 646.9,797.5 647.3,794.9 647.6,794.3 648.0,794.8 648.3,797.3 648.7,795.6 649.0,797.2 649.4,799.5 649.7,800.0 650.1,799.9 650.4,799.3 650.8,799.6 651.2,797.7 651.5,796.7 651.9,797.7 652.2,798.5 652.6,797.3 652.9,799.3 653.3,798.5 653.6,796.9 654.0,799.1 654.3,800.5 654.7,796.4 655.0,797.5 655.4,799.7 655.7,799.7 656.1,798.9 656.4,798.6 656.8,800.9 657.2,802.3 657.5,801.2 657.9,798.0 658.2,801.7 658.6,800.0 658.9,801.6 659.3,801.7 659.6,802.0 660.0,800.7 660.3,802.2 660.7,803.1 661.0,802.7 661.4,802.5 661.7,800.7 662.1,803.2" fill="none" stroke="#000" stroke-width="1.9" stroke-linejoin="round" />
<polyline points="447.7,729.0 448.1,764.4 448.5,763.9 448.8,766.4 449.2,766.7 449.5,773.1 449.9,773.1 450.2,775.3 450.6,779.0 450.9,774.0 451.3,779.8 451.6,781.6 452.0,780.2 452.3,783.2 452.7,781.3 453.1,784.1 453.4,786.5 453.8,788.0 454.1,784.7 454.5,788.6 454.8,786.1 455.2,788.6 455.5,786.0 455.9,790.5 456.2,791.2 456.6,791.5 456.9,788.4 457.3,790.0 457.6,792.2 458.0,794.3 458.3,790.9 458.7,789.4 459.1,792.3 459.4,796.5 459.8,796.7 460.1,796.7 460.5,796.6 460.8,797.9 461.2,798.2 461.5,794.7 461.9,793.5 462.2,798.4 462.6,793.8 462.9,797.4 463.3,795.7 463.6,795.4 464.0,795.7 464.4,801.9 464.7,800.6 465.1,799.0 465.4,797.2 465.8,803.2 466.1,802.3 466.5,799.1 466.8,804.2 467.2,802.8 467.5,803.6 467.9,801.8 468.2,800.6 468.6,805.9 468.9,802.6 469.3,802.9 469.6,802.4 470.0,804.4 470.4,802.2 470.7,806.0 471.1,805.8 471.4,807.1 471.8,803.7 472.1,805.8 472.5,807.4 472.8,808.2 473.2,804.8 473.5,805.7 473.9,805.2 474.2,807.4 474.6,806.9 474.9,809.3 475.3,805.8 475.7,810.4 476.0,807.7 476.4,806.0 476.7,806.7 477.1,810.6 477.4,809.9 477.8,806.1 478.1,807.6 478.5,806.2 478.8,806.4 479.2,809.3 479.5,806.6 479.9,807.8 480.2,810.6 480.6,810.5 480.9,812.6 481.3,810.6 481.7,807.2 482.0,812.9 482.4,810.0 482.7,813.1 483.1,813.5 483.4,810.0 483.8,812.8 484.1,814.2 484.5,813.7 484.8,810.6 485.2,811.1 485.5,814.9 485.9,813.6 486.2,809.0 486.6,813.9 487.0,811.8 487.3,812.8 487.7,810.6 488.0,811.8 488.4,810.7 488.7,812.5 489.1,814.8 489.4,815.0 489.8,815.8 490.1,811.0 490.5,815.8 490.8,816.4 491.2,810.4 491.5,815.5 491.9,811.1 492.2,816.5 492.6,814.1 493.0,815.8 493.3,812.0 493.7,813.5 494.0,813.4 494.4,812.7 494.7,812.1 495.1,815.6 495.4,814.1 495.8,815.2 496.1,817.5 496.5,812.9 496.8,814.5 497.2,813.2 497.5,817.3 497.9,815.2 498.3,815.8 498.6,814.2 499.0,818.5 499.3,816.9 499.7,816.1 500.0,818.9 500.4,815.7 500.7,814.5 501.1,816.4 501.4,814.9 501.8,815.2 502.1,817.6 502.5,816.7 502.8,812.5 503.2,816.7 503.5,816.1 503.9,818.3 504.3,817.3 504.6,817.6 505.0,812.6 505.3,813.9 505.7,812.9 506.0,812.1 506.4,814.5 506.7,812.4 507.1,814.9 507.4,815.6 507.8,812.1 508.1,812.4 508.5,812.0 508.8,815.0 509.2,813.1 509.5,815.4 509.9,811.5 510.3,812.0 510.6,816.0 511.0,811.8 511.3,816.6 511.7,817.1 512.0,813.0 512.4,815.7 512.7,814.1 513.1,813.2 513.4,816.9 513.8,812.2 514.1,815.1 514.5,814.0 514.8,814.4 515.2,811.7 515.6,811.5 515.9,814.4 516.3,815.4 516.6,814.0 517.0,813.2 517.3,815.2 517.7,814.6 518.0,810.5 518.4,810.7 518.7,808.8 519.1,808.7 519.4,809.2 519.8,812.3 520.1,813.9 520.5,813.3 520.8,812.6 521.2,812.5 521.6,812.7 521.9,814.2 522.3,811.3 522.6,815.3 523.0,814.5 523.3,812.0 523.7,812.9 524.0,816.5 524.4,817.2 524.7,813.8 525.1,819.3 525.4,818.8 525.8,816.5 526.1,816.8 526.5,819.5 526.9,820.6 527.2,819.9 527.6,816.5 527.9,818.8 528.3,815.8 528.6,817.4 529.0,816.4 529.3,822.9 529.7,822.2 530.0,823.5 530.4,820.9 530.7,821.6 531.1,823.6 531.4,820.5 531.8,823.5 532.1,822.2 532.5,822.7 532.9,819.3 533.2,821.9 533.6,823.0 533.9,824.5 534.3,822.1 534.6,821.0 535.0,820.8 535.3,819.3 535.7,820.1 536.0,823.9 536.4,824.7 536.7,820.8 537.1,820.7 537.4,822.6 537.8,820.6 538.2,822.6 538.5,824.4 538.9,825.3 539.2,826.3 539.6,822.4 539.9,820.9 540.3,821.0 540.6,824.0 541.0,822.9 541.3,821.4 541.7,822.4 542.0,823.9 542.4,825.3 542.7,824.9 543.1,827.3 543.4,827.4 543.8,824.4 544.2,822.6 544.5,825.7 544.9,826.8 545.2,827.3 545.6,826.9 545.9,824.8 546.3,827.3 546.6,824.2 547.0,829.6 547.3,828.7 547.7,827.6 548.0,828.5 548.4,825.9 548.7,826.2 549.1,825.7 549.5,828.0 549.8,832.0 550.2,828.6 550.5,829.0 550.9,829.6 551.2,831.1 551.6,828.6 551.9,827.4 552.3,832.9 552.6,829.4 553.0,831.5 553.3,830.8 553.7,828.5 554.0,828.3 554.4,830.6 554.7,833.7 555.1,829.2 555.5,834.1 555.8,833.0 556.2,830.3 556.5,833.9 556.9,834.3 557.2,829.9 557.6,829.7 557.9,833.6 558.3,832.8 558.6,833.3 559.0,834.1 559.3,833.1 559.7,828.1 560.0,833.7 560.4,832.5 560.8,832.5 561.1,833.1 561.5,829.9 561.8,828.3 562.2,827.5 562.5,828.6 562.9,827.2 563.2,832.2 563.6,830.2 563.9,825.5 564.3,831.1 564.6,829.6 565.0,828.0 565.3,829.1 565.7,827.1 566.0,830.1 566.4,828.7 566.8,823.8 567.1,828.8 567.5,823.6 567.8,828.1 568.2,822.6 568.5,824.5 568.9,824.4 569.2,827.5 569.6,827.8 569.9,823.0 570.3,826.6 570.6,826.6 571.0,822.7 571.3,822.5 571.7,828.1 572.1,822.4 572.4,825.3 572.8,826.5 573.1,828.5 573.5,826.9 573.8,823.2 574.2,828.0 574.5,829.2 574.9,829.3 575.2,829.6 575.6,828.3 575.9,824.9 576.3,830.5 576.6,830.0 577.0,825.3 577.3,825.2 577.7,825.5 578.1,830.4 578.4,829.9 578.8,826.3 579.1,829.5 579.5,828.3 579.8,831.0 580.2,833.1 580.5,831.2 580.9,828.8 581.2,828.8 581.6,830.4 581.9,831.2 582.3,831.0 582.6,831.8 583.0,831.4 583.4,829.7 583.7,834.0 584.1,831.6 584.4,829.6 584.8,830.4 585.1,834.9 585.5,830.0 585.8,831.0 586.2,835.6 586.5,835.1 586.9,835.8 587.2,836.9 587.6,831.1 587.9,834.9 588.3,832.0 588.6,837.0 589.0,837.8 589.4,832.4 589.7,833.0 590.1,831.8 590.4,833.9 590.8,835.0 591.1,833.6 591.5,838.1 591.8,835.3 592.2,836.0 592.5,838.1 592.9,835.2 593.2,837.1 593.6,836.1 593.9,837.0 594.3,837.5 594.7,837.4 595.0,835.9 595.4,833.6 595.7,834.0 596.1,834.6 596.4,834.9 596.8,838.5 597.1,834.2 597.5,838.9 597.8,839.9 598.2,837.6 598.5,836.2 598.9,838.9 599.2,837.0 599.6,839.5 599.9,835.2 600.3,838.6 600.7,838.5 601.0,838.3 601.4,836.2 601.7,835.6 602.1,838.7 602.4,839.3 602.8,838.3 603.1,842.0 603.5,839.8 603.8,837.2 604.2,837.7 604.5,842.5 604.9,837.5 605.2,840.6 605.6,836.9 606.0,841.0 606.3,842.1 606.7,840.0 607.0,838.0 607.4,841.0 607.7,838.3 608.1,839.4 608.4,841.8 608.8,842.3 609.1,841.1 609.5,841.9 609.8,842.2 610.2,840.5 610.5,839.2 610.9,841.2 611.2,844.1 611.6,843.8 612.0,842.9 612.3,841.4 612.7,844.6 613.0,845.1 613.4,843.7 613.7,844.0 614.1,845.8 614.4,842.6 614.8,840.2 615.1,842.9 615.5,841.7 615.8,841.2 616.2,841.1 616.5,840.4 616.9,843.3 617.3,841.6 617.6,845.1 618.0,840.1 618.3,843.2 618.7,842.4 619.0,839.6 619.4,843.4 619.7,843.8 620.1,839.6 620.4,840.9 620.8,844.1 621.1,844.3 621.5,842.1 621.8,844.2 622.2,838.7 622.5,842.7 622.9,842.0 623.3,841.1 623.6,840.2 624.0,840.6 624.3,839.2 624.7,838.8 625.0,840.1 625.4,842.2 625.7,836.3 626.1,838.0 626.4,841.8 626.8,839.4 627.1,837.2 627.5,835.5 627.8,841.4 628.2,841.6 628.6,838.4 628.9,838.6 629.3,835.4 629.6,835.7 630.0,838.8 630.3,838.1 630.7,836.9 631.0,834.8 631.4,839.1 631.7,837.7 632.1,839.5 632.4,835.8 632.8,839.6 633.1,833.6 633.5,836.1 633.8,835.7 634.2,838.7 634.6,837.6 634.9,835.9 635.3,833.5 635.6,835.6 636.0,837.3 636.3,832.9 636.7,835.0 637.0,836.0 637.4,838.1 637.7,837.6 638.1,833.8 638.4,838.8 638.8,836.3 639.1,835.8 639.5,837.6 639.9,835.0 640.2,834.1 640.6,834.5 640.9,835.4 641.3,838.9 641.6,839.9 642.0,837.6 642.3,838.4 642.7,839.2 643.0,834.9 643.4,839.2 643.7,835.4 644.1,834.7 644.4,840.1 644.8,835.0 645.1,838.4 645.5,839.7 645.9,839.9 646.2,841.0 646.6,838.0 646.9,838.9 647.3,835.9 647.6,836.1 648.0,841.2 648.3,839.0 648.7,839.2 649.0,840.6 649.4,840.2 649.7,840.2 650.1,837.5 650.4,839.6 650.8,841.0 651.2,840.2 651.5,838.6 651.9,837.7 652.2,839.6 652.6,836.6 652.9,839.6 653.3,836.5 653.6,836.8 654.0,839.5 654.3,835.6 654.7,837.8 655.0,836.8 655.4,836.3 655.7,835.9 656.1,837.0 656.4,839.4 656.8,834.6 657.2,834.0 657.5,836.2 657.9,835.5 658.2,837.4 658.6,833.2 658.9,834.5 659.3,837.4 659.6,833.4 660.0,832.2 660.3,836.2 660.7,831.9 661.0,835.1 661.4,836.9 661.7,833.4 662.1,835.8" fill="none" stroke="#1f4e9e" stroke-width="1.7" stroke-linejoin="round" />
<polyline points="447.7,729.0 448.1,783.7 448.5,788.2 448.8,793.7 449.2,796.5 449.5,799.5 449.9,804.7 450.2,808.5 450.6,811.2 450.9,813.7 451.3,814.7 451.6,815.6 452.0,816.1 452.3,819.1 452.7,820.7 453.1,819.8 453.4,821.7 453.8,823.4 454.1,822.4 454.5,823.1 454.8,824.8 455.2,824.2 455.5,825.4 455.9,826.3 456.2,828.4 456.6,830.0 456.9,828.3 457.3,828.4 457.6,829.9 458.0,829.8 458.3,829.8 458.7,831.0 459.1,830.0 459.4,830.6 459.8,831.5 460.1,832.6 460.5,831.5 460.8,832.5 461.2,831.6 461.5,833.5 461.9,833.2 462.2,834.0 462.6,833.5 462.9,833.2 463.3,834.8 463.6,835.2 464.0,834.1 464.4,835.1 464.7,834.4 465.1,835.6 465.4,836.0 465.8,834.9 466.1,833.9 466.5,834.3 466.8,835.5 467.2,836.1 467.5,837.3 467.9,836.8 468.2,836.9 468.6,835.2 468.9,837.9 469.3,835.6 469.6,837.2 470.0,837.5 470.4,838.2 470.7,836.3 471.1,838.8 471.4,837.8 471.8,838.2 472.1,839.3 472.5,839.5 472.8,837.4 473.2,838.1 473.5,838.5 473.9,838.2 474.2,840.8 474.6,839.2 474.9,839.2 475.3,841.0 475.7,840.5 476.0,839.1 476.4,841.3 476.7,840.2 477.1,842.1 477.4,840.8 477.8,842.2 478.1,841.7 478.5,842.3 478.8,841.0 479.2,841.5 479.5,842.3 479.9,841.9 480.2,842.7 480.6,841.7 480.9,843.4 481.3,842.7 481.7,842.6 482.0,843.3 482.4,844.4 482.7,844.2 483.1,842.8 483.4,844.2 483.8,842.7 484.1,843.5 484.5,842.3 484.8,842.7 485.2,843.1 485.5,844.3 485.9,845.4 486.2,843.9 486.6,843.4 487.0,843.0 487.3,845.3 487.7,845.5 488.0,843.1 488.4,843.9 488.7,844.8 489.1,844.1 489.4,846.0 489.8,844.9 490.1,844.6 490.5,844.9 490.8,846.3 491.2,846.5 491.5,845.1 491.9,844.4 492.2,846.7 492.6,847.2 493.0,847.1 493.3,845.1 493.7,846.4 494.0,846.2 494.4,844.7 494.7,846.0 495.1,847.1 495.4,845.9 495.8,848.1 496.1,847.3 496.5,846.2 496.8,847.8 497.2,848.4 497.5,847.0 497.9,847.7 498.3,845.8 498.6,848.5 499.0,846.5 499.3,847.8 499.7,846.7 500.0,847.9 500.4,847.3 500.7,848.4 501.1,848.8 501.4,848.2 501.8,847.2 502.1,848.6 502.5,849.0 502.8,848.5 503.2,849.5 503.5,848.9 503.9,848.2 504.3,848.3 504.6,848.2 505.0,849.2 505.3,850.1 505.7,850.1 506.0,849.2 506.4,849.7 506.7,848.6 507.1,849.6 507.4,848.2 507.8,848.7 508.1,848.6 508.5,848.4 508.8,849.1 509.2,849.5 509.5,849.9 509.9,850.7 510.3,848.5 510.6,849.5 511.0,850.7 511.3,848.3 511.7,849.4 512.0,849.3 512.4,849.9 512.7,850.9 513.1,848.3 513.4,850.9 513.8,850.4 514.1,848.5 514.5,851.2 514.8,850.1 515.2,850.2 515.6,851.0 515.9,849.0 516.3,850.6 516.6,851.9 517.0,850.5 517.3,852.0 517.7,849.9 518.0,849.5 518.4,849.5 518.7,852.1 519.1,850.3 519.4,851.4 519.8,851.0 520.1,851.6 520.5,851.6 520.8,852.2 521.2,850.7 521.6,852.4 521.9,849.8 522.3,852.7 522.6,850.0 523.0,852.3 523.3,852.7 523.7,850.7 524.0,851.4 524.4,850.7 524.7,851.4 525.1,851.1 525.4,852.7 525.8,851.0 526.1,851.5 526.5,850.1 526.9,853.0 527.2,852.8 527.6,851.0 527.9,850.3 528.3,851.8 528.6,850.9 529.0,851.4 529.3,851.9 529.7,851.7 530.0,851.3 530.4,853.0 530.7,852.2 531.1,850.9 531.4,852.4 531.8,851.7 532.1,852.4 532.5,852.1 532.9,851.2 533.2,851.0 533.6,850.3 533.9,851.8 534.3,852.6 534.6,852.2 535.0,853.1 535.3,852.5 535.7,851.5 536.0,851.4 536.4,852.6 536.7,852.8 537.1,853.0 537.4,852.8 537.8,851.8 538.2,852.6 538.5,850.7 538.9,851.7 539.2,852.3 539.6,852.1 539.9,853.3 540.3,851.2 540.6,851.3 541.0,852.5 541.3,851.5 541.7,852.9 542.0,853.2 542.4,853.2 542.7,853.4 543.1,852.2 543.4,852.2 543.8,852.0 544.2,854.0 544.5,852.0 544.9,853.0 545.2,853.4 545.6,853.1 545.9,853.3 546.3,854.1 546.6,853.6 547.0,852.9 547.3,852.8 547.7,852.3 548.0,854.5 548.4,852.5 548.7,852.8 549.1,853.2 549.5,852.5 549.8,855.1 550.2,853.2 550.5,852.9 550.9,855.3 551.2,854.0 551.6,853.0 551.9,855.0 552.3,853.4 552.6,853.3 553.0,854.8 553.3,855.8 553.7,855.6 554.0,853.9 554.4,855.2 554.7,855.6 555.1,855.3 555.5,853.9 555.8,856.0 556.2,856.8 556.5,854.0 556.9,856.0 557.2,855.9 557.6,854.2 557.9,856.3 558.3,857.0 558.6,854.7 559.0,856.7 559.3,856.8 559.7,854.8 560.0,857.0 560.4,855.0 560.8,856.8 561.1,857.0 561.5,857.3 561.8,856.4 562.2,856.4 562.5,857.0 562.9,856.7 563.2,857.3 563.6,855.7 563.9,855.3 564.3,855.8 564.6,855.6 565.0,857.8 565.3,857.2 565.7,857.4 566.0,857.5 566.4,855.0 566.8,855.1 567.1,855.1 567.5,856.1 567.8,857.4 568.2,856.4 568.5,857.5 568.9,854.9 569.2,856.8 569.6,856.7 569.9,854.7 570.3,856.9 570.6,854.7 571.0,856.5 571.3,855.4 571.7,857.1 572.1,854.6 572.4,856.1 572.8,856.2 573.1,855.3 573.5,855.4 573.8,856.4 574.2,856.8 574.5,855.4 574.9,857.0 575.2,854.4 575.6,856.0 575.9,856.4 576.3,855.9 576.6,856.5 577.0,855.9 577.3,855.2 577.7,855.6 578.1,855.7 578.4,855.8 578.8,855.2 579.1,854.3 579.5,855.3 579.8,854.3 580.2,855.1 580.5,856.1 580.9,856.0 581.2,853.9 581.6,855.0 581.9,855.3 582.3,855.0 582.6,854.1 583.0,855.6 583.4,855.7 583.7,855.8 584.1,856.9 584.4,855.4 584.8,855.7 585.1,855.7 585.5,855.9 585.8,855.9 586.2,855.3 586.5,856.9 586.9,854.6 587.2,857.3 587.6,855.1 587.9,857.3 588.3,855.5 588.6,857.2 589.0,857.8 589.4,856.5 589.7,855.7 590.1,855.7 590.4,855.7 590.8,855.5 591.1,858.3 591.5,857.4 591.8,858.3 592.2,856.5 592.5,857.5 592.9,856.7 593.2,856.6 593.6,856.1 593.9,857.1 594.3,856.6 594.7,857.6 595.0,859.1 595.4,856.8 595.7,859.3 596.1,859.3 596.4,857.2 596.8,858.9 597.1,857.8 597.5,859.8 597.8,859.4 598.2,857.9 598.5,860.0 598.9,858.7 599.2,857.5 599.6,859.7 599.9,858.3 600.3,858.3 600.7,858.8 601.0,858.4 601.4,858.7 601.7,860.8 602.1,860.4 602.4,859.4 602.8,858.2 603.1,860.5 603.5,859.5 603.8,860.9 604.2,858.9 604.5,860.1 604.9,860.0 605.2,859.6 605.6,861.3 606.0,859.6 606.3,859.5 606.7,859.4 607.0,861.2 607.4,861.4 607.7,861.7 608.1,859.6 608.4,861.0 608.8,861.3 609.1,860.9 609.5,860.5 609.8,861.7 610.2,861.7 610.5,860.5 610.9,860.6 611.2,862.1 611.6,862.8 612.0,860.3 612.3,861.0 612.7,861.5 613.0,862.2 613.4,860.6 613.7,862.2 614.1,863.0 614.4,863.4 614.8,862.7 615.1,862.0 615.5,862.8 615.8,861.2 616.2,862.0 616.5,862.6 616.9,861.9 617.3,862.1 617.6,862.0 618.0,862.3 618.3,862.2 618.7,862.2 619.0,861.2 619.4,863.1 619.7,861.2 620.1,862.7 620.4,861.0 620.8,863.3 621.1,862.0 621.5,862.1 621.8,861.2 622.2,862.7 622.5,862.5 622.9,862.9 623.3,861.5 623.6,861.4 624.0,863.1 624.3,862.6 624.7,862.5 625.0,860.2 625.4,861.6 625.7,861.3 626.1,862.0 626.4,860.9 626.8,860.4 627.1,860.8 627.5,862.8 627.8,861.4 628.2,861.2 628.6,862.5 628.9,860.2 629.3,861.6 629.6,861.6 630.0,860.6 630.3,860.7 630.7,860.9 631.0,859.8 631.4,860.8 631.7,861.3 632.1,862.1 632.4,860.6 632.8,861.1 633.1,860.5 633.5,861.1 633.8,862.0 634.2,861.9 634.6,861.5 634.9,861.7 635.3,859.4 635.6,860.2 636.0,861.2 636.3,859.8 636.7,860.0 637.0,861.8 637.4,859.7 637.7,861.3 638.1,858.9 638.4,861.5 638.8,861.1 639.1,861.2 639.5,859.4 639.9,859.5 640.2,860.2 640.6,861.5 640.9,860.7 641.3,859.8 641.6,861.8 642.0,859.2 642.3,859.4 642.7,859.1 643.0,859.8 643.4,860.1 643.7,859.0 644.1,861.1 644.4,861.0 644.8,861.6 645.1,861.4 645.5,859.5 645.9,861.7 646.2,859.7 646.6,860.8 646.9,859.3 647.3,859.7 647.6,859.9 648.0,859.4 648.3,861.8 648.7,861.1 649.0,860.8 649.4,860.7 649.7,859.9 650.1,859.3 650.4,859.7 650.8,859.2 651.2,859.9 651.5,860.9 651.9,860.4 652.2,859.7 652.6,859.5 652.9,860.8 653.3,860.9 653.6,860.1 654.0,861.3 654.3,859.3 654.7,861.9 655.0,860.0 655.4,860.5 655.7,861.4 656.1,860.2 656.4,860.5 656.8,859.1 657.2,859.3 657.5,860.2 657.9,859.3 658.2,859.3 658.6,861.4 658.9,859.5 659.3,859.4 659.6,859.0 660.0,859.7 660.3,860.8 660.7,861.3 661.0,860.0 661.4,861.3 661.7,859.7 662.1,860.2" fill="none" stroke="#d7261f" stroke-width="1.5" stroke-linejoin="round" />
<polyline points="447.7,729.0 448.1,785.4 448.5,790.7 448.8,794.3 449.2,795.1 449.5,799.5 449.9,804.1 450.2,806.7 450.6,810.4 450.9,811.9 451.3,814.8 451.6,818.2 452.0,817.7 452.3,820.4 452.7,823.3 453.1,827.7 453.4,830.4 453.8,830.2 454.1,831.2 454.5,833.3 454.8,836.5 455.2,835.7 455.5,837.9 455.9,839.9 456.2,840.4 456.6,842.3 456.9,842.9 457.3,843.9 457.6,844.4 458.0,849.5 458.3,849.0 458.7,848.9 459.1,851.6 459.4,853.3 459.8,853.6 460.1,858.5 460.5,856.8 460.8,858.9 461.2,860.6 461.5,863.1 461.9,862.8 462.2,865.3 462.6,864.2 462.9,865.8 463.3,863.5 463.6,864.5 464.0,866.4 464.4,865.8 464.7,867.8 465.1,867.7 465.4,869.8 465.8,867.4 466.1,868.3 466.5,868.8 466.8,872.1 467.2,869.6 467.5,873.4 467.9,871.6 468.2,872.5 468.6,874.8 468.9,873.8 469.3,872.3 469.6,873.9 470.0,875.7 470.4,874.2 470.7,876.6 471.1,874.8 471.4,877.4 471.8,879.3 472.1,876.0 472.5,880.2 472.8,879.8 473.2,878.1 473.5,881.2 473.9,879.9 474.2,879.0 474.6,880.5 474.9,881.9 475.3,880.7 475.7,880.8 476.0,882.2 476.4,882.4 476.7,884.1 477.1,884.2 477.4,882.2 477.8,882.7 478.1,887.1 478.5,886.7 478.8,887.0 479.2,885.1 479.5,888.0 479.9,888.5 480.2,886.5 480.6,889.4 480.9,886.4 481.3,889.0 481.7,887.6 482.0,888.3 482.4,891.2 482.7,888.9 483.1,890.5 483.4,891.4 483.8,892.3 484.1,889.6 484.5,890.3 484.8,891.4 485.2,889.3 485.5,892.1 485.9,891.1 486.2,892.7 486.6,891.7 487.0,889.6 487.3,891.2 487.7,892.8 488.0,892.5 488.4,890.9 488.7,892.5 489.1,890.1 489.4,893.6 489.8,890.3 490.1,891.4 490.5,890.7 490.8,892.7 491.2,894.0 491.5,893.7 491.9,891.8 492.2,894.4 492.6,894.2 493.0,891.5 493.3,891.2 493.7,891.3 494.0,891.5 494.4,892.8 494.7,891.5 495.1,892.3 495.4,893.0 495.8,893.6 496.1,895.4 496.5,895.2 496.8,894.6 497.2,893.8 497.5,895.4 497.9,891.9 498.3,893.6 498.6,893.0 499.0,892.5 499.3,895.3 499.7,892.7 500.0,892.5 500.4,895.4 500.7,896.1 501.1,893.4 501.4,893.1 501.8,893.6 502.1,895.3 502.5,894.6 502.8,896.7 503.2,896.3 503.5,895.6 503.9,894.3 504.3,897.1 504.6,893.7 505.0,897.6 505.3,893.7 505.7,896.9 506.0,894.5 506.4,894.6 506.7,894.1 507.1,896.1 507.4,895.2 507.8,896.8 508.1,894.6 508.5,897.6 508.8,894.3 509.2,895.5 509.5,897.7 509.9,894.0 510.3,896.6 510.6,897.6 511.0,896.8 511.3,897.8 511.7,896.7 512.0,894.9 512.4,893.7 512.7,895.2 513.1,894.3 513.4,894.4 513.8,894.8 514.1,896.2 514.5,896.7 514.8,897.1 515.2,895.5 515.6,896.9 515.9,894.6 516.3,896.4 516.6,895.3 517.0,895.4 517.3,895.0 517.7,897.0 518.0,896.5 518.4,894.7 518.7,896.7 519.1,894.8 519.4,893.5 519.8,895.9 520.1,893.5 520.5,895.0 520.8,893.6 521.2,895.3 521.6,894.3 521.9,894.6 522.3,896.6 522.6,895.3 523.0,895.0 523.3,895.5 523.7,894.7 524.0,893.6 524.4,894.1 524.7,894.0 525.1,896.8 525.4,894.5 525.8,894.8 526.1,893.5 526.5,897.4 526.9,896.7 527.2,893.4 527.6,895.9 527.9,894.5 528.3,895.0 528.6,895.8 529.0,895.7 529.3,895.1 529.7,893.4 530.0,895.3 530.4,894.2 530.7,896.2 531.1,894.5 531.4,895.0 531.8,894.4 532.1,893.9 532.5,897.2 532.9,893.5 533.2,895.0 533.6,896.5 533.9,895.6 534.3,897.1 534.6,896.6 535.0,894.1 535.3,894.6 535.7,894.0 536.0,896.9 536.4,897.1 536.7,896.0 537.1,895.5 537.4,894.6 537.8,896.4 538.2,894.5 538.5,895.2 538.9,896.4 539.2,894.3 539.6,897.3 539.9,895.2 540.3,896.9 540.6,897.6 541.0,895.9 541.3,895.9 541.7,895.6 542.0,896.7 542.4,894.5 542.7,895.2 543.1,897.9 543.4,898.7 543.8,894.8 544.2,897.2 544.5,898.6 544.9,898.4 545.2,896.3 545.6,898.6 545.9,897.9 546.3,896.7 546.6,898.2 547.0,897.0 547.3,895.9 547.7,896.7 548.0,897.5 548.4,897.6 548.7,899.0 549.1,897.7 549.5,897.8 549.8,898.2 550.2,898.7 550.5,897.7 550.9,900.1 551.2,898.1 551.6,897.1 551.9,901.1 552.3,900.3 552.6,897.4 553.0,901.2 553.3,898.3 553.7,899.4 554.0,901.6 554.4,899.4 554.7,902.1 555.1,898.7 555.5,901.1 555.8,898.6 556.2,898.8 556.5,902.1 556.9,901.1 557.2,902.2 557.6,899.8 557.9,902.7 558.3,902.9 558.6,902.8 559.0,899.8 559.3,902.3 559.7,901.9 560.0,901.2 560.4,900.7 560.8,901.2 561.1,898.8 561.5,901.3 561.8,900.6 562.2,898.9 562.5,901.4 562.9,901.5 563.2,898.7 563.6,900.7 563.9,898.2 564.3,898.4 564.6,900.2 565.0,900.2 565.3,901.1 565.7,897.8 566.0,899.5 566.4,899.8 566.8,900.4 567.1,900.1 567.5,897.3 567.8,900.3 568.2,898.4 568.5,898.0 568.9,898.3 569.2,898.3 569.6,898.6 569.9,899.4 570.3,896.7 570.6,896.2 571.0,897.5 571.3,898.7 571.7,895.9 572.1,898.7 572.4,898.7 572.8,896.7 573.1,895.8 573.5,896.7 573.8,898.6 574.2,894.8 574.5,898.2 574.9,897.3 575.2,894.5 575.6,895.2 575.9,895.2 576.3,898.0 576.6,894.6 577.0,896.4 577.3,897.9 577.7,894.6 578.1,893.9 578.4,897.5 578.8,895.7 579.1,893.7 579.5,896.0 579.8,896.0 580.2,893.9 580.5,895.2 580.9,892.8 581.2,893.3 581.6,893.1 581.9,893.8 582.3,896.0 582.6,894.0 583.0,894.5 583.4,894.9 583.7,894.6 584.1,895.7 584.4,896.2 584.8,893.3 585.1,895.6 585.5,896.7 585.8,893.2 586.2,895.1 586.5,894.5 586.9,895.9 587.2,896.8 587.6,896.0 587.9,894.0 588.3,896.4 588.6,893.8 589.0,896.3 589.4,893.9 589.7,896.9 590.1,895.9 590.4,897.2 590.8,897.2 591.1,895.7 591.5,896.4 591.8,895.7 592.2,897.1 592.5,896.7 592.9,896.7 593.2,894.4 593.6,897.8 593.9,896.5 594.3,894.7 594.7,895.9 595.0,897.3 595.4,894.2 595.7,898.0 596.1,897.9 596.4,898.4 596.8,896.7 597.1,895.0 597.5,897.4 597.8,897.5 598.2,895.4 598.5,898.4 598.9,898.7 599.2,896.1 599.6,898.5 599.9,896.7 600.3,898.4 600.7,896.5 601.0,895.5 601.4,897.2 601.7,898.0 602.1,896.6 602.4,896.3 602.8,899.0 603.1,898.3 603.5,897.8 603.8,897.3 604.2,898.3 604.5,896.7 604.9,898.5 605.2,895.8 605.6,898.1 606.0,898.7 606.3,899.4 606.7,899.2 607.0,898.9 607.4,896.2 607.7,898.3 608.1,898.2 608.4,896.2 608.8,896.2 609.1,897.1 609.5,899.4 609.8,899.1 610.2,898.5 610.5,899.6 610.9,899.3 611.2,899.9 611.6,899.9 612.0,897.9 612.3,898.5 612.7,899.3 613.0,899.3 613.4,898.7 613.7,898.5 614.1,901.4 614.4,898.0 614.8,899.7 615.1,900.3 615.5,897.8 615.8,898.7 616.2,900.5 616.5,901.9 616.9,900.3 617.3,900.4 617.6,900.7 618.0,901.9 618.3,900.0 618.7,901.4 619.0,899.4 619.4,900.5 619.7,901.5 620.1,899.4 620.4,901.1 620.8,902.6 621.1,901.9 621.5,902.9 621.8,901.5 622.2,899.5 622.5,899.5 622.9,900.8 623.3,902.9 623.6,902.6 624.0,902.9 624.3,902.3 624.7,901.2 625.0,903.9 625.4,902.0 625.7,902.4 626.1,901.5 626.4,900.9 626.8,902.7 627.1,901.9 627.5,903.4 627.8,902.7 628.2,902.1 628.6,904.6 628.9,902.7 629.3,902.9 629.6,904.3 630.0,904.1 630.3,901.8 630.7,903.8 631.0,904.5 631.4,904.2 631.7,903.3 632.1,903.9 632.4,904.2 632.8,904.4 633.1,904.9 633.5,903.8 633.8,903.5 634.2,905.7 634.6,903.7 634.9,905.0 635.3,902.2 635.6,902.5 636.0,905.9 636.3,903.7 636.7,905.2 637.0,906.3 637.4,903.2 637.7,903.1 638.1,903.7 638.4,904.4 638.8,903.0 639.1,904.6 639.5,903.9 639.9,903.8 640.2,902.8 640.6,902.6 640.9,904.7 641.3,905.0 641.6,903.4 642.0,903.0 642.3,903.8 642.7,901.5 643.0,901.4 643.4,901.9 643.7,902.4 644.1,901.5 644.4,903.4 644.8,900.7 645.1,903.4 645.5,900.0 645.9,900.9 646.2,902.2 646.6,902.4 646.9,900.5 647.3,900.9 647.6,899.8 648.0,902.1 648.3,898.7 648.7,900.4 649.0,900.1 649.4,898.7 649.7,899.1 650.1,899.6 650.4,900.0 650.8,899.2 651.2,900.8 651.5,899.7 651.9,897.1 652.2,899.9 652.6,899.9 652.9,896.5 653.3,898.3 653.6,897.5 654.0,897.1 654.3,896.4 654.7,897.8 655.0,895.8 655.4,898.8 655.7,895.1 656.1,897.2 656.4,895.7 656.8,896.8 657.2,894.8 657.5,896.2 657.9,895.1 658.2,896.2 658.6,893.9 658.9,894.0 659.3,896.3 659.6,893.9 660.0,893.0 660.3,895.8 660.7,895.9 661.0,892.7 661.4,892.5 661.7,895.8 662.1,893.0" fill="none" stroke="#7a4fa8" stroke-width="1.5" stroke-linejoin="round" />
<text x="0" y="16" font-size="18.5" text-anchor="start" font-weight="bold" fill="#000" >a</text>
<text x="364.5" y="17.5" font-size="18.5" text-anchor="start" font-weight="bold" fill="#000" >b</text>
<text x="363.3" y="309.5" font-size="18.5" text-anchor="start" font-weight="bold" fill="#000" >c</text>
<text x="363.3" y="460" font-size="18.5" text-anchor="start" font-weight="bold" fill="#000" >d</text>
<text x="0" y="459.8" font-size="18.5" text-anchor="start" font-weight="bold" fill="#000" >e</text>
<text x="363.3" y="655.3" font-size="18.5" text-anchor="start" font-weight="bold" fill="#000" >f</text>
<circle cx="31.2" cy="38.1" r="3.9" fill="#a8d49e"/>
<path d="M31.3 48.4L35.5 55.8L27.1 55.8Z" fill="#a8d49e"/>
<circle cx="31.2" cy="65.5" r="3.9" fill="#5c3c96"/>
<path d="M31.7 76L36 83L27.4 83Z" fill="#5c3c96"/>
<text x="39.3" y="41.8" font-size="10.5" fill="#231f20">Non-inversion &amp;&amp; non-purple (n = <tspan fill="#a8d49e">57</tspan>)</text>
<text x="38.5" y="55.6" font-size="10.5" fill="#231f20">Inversion &amp;&amp; non-purple (n = <tspan fill="#a8d49e">3</tspan>)</text>
<text x="39.3" y="69.2" font-size="10.5" fill="#231f20">Non-inversion &amp;&amp; purple (n = <tspan fill="#5c3c96" font-weight="bold">55</tspan>)</text>
<text x="38.5" y="83" font-size="10.5" fill="#231f20">Inversion &amp;&amp; purple (n = <tspan fill="#5c3c96" font-weight="bold">111</tspan>)</text>
<path d="M214.0 118.6C214.6 122.2 213.6 125.2 212.5 128.8C211.4 132.5 210.1 135.6 207.4 140.5C204.7 145.4 200.7 152.0 196.3 158.5C191.9 165.0 186.7 172.4 181.0 179.3C175.3 186.2 168.3 193.4 162.0 200.0C155.7 206.6 149.7 212.3 143.0 219.0C136.3 225.7 128.9 232.7 122.0 240.0C115.1 247.3 108.1 255.8 101.4 262.8C94.7 269.8 87.5 277.4 82.0 282.0C76.5 286.6 73.5 288.6 68.4 290.3C63.4 292.0 57.3 293.1 51.7 292.0C46.1 290.9 39.7 287.3 35.0 283.6C30.3 279.9 26.2 277.3 23.4 270.0C20.6 262.7 18.6 249.2 18.3 240.0C18.0 230.8 19.5 224.7 21.7 215.0C23.9 205.3 26.7 192.8 31.7 181.7C36.7 170.6 45.5 156.8 51.7 148.3C58.0 139.8 62.7 136.2 69.2 130.9C75.8 125.6 83.7 120.5 91.0 116.3C98.3 112.1 106.5 108.8 113.0 106.0C119.5 103.2 123.5 101.3 130.0 99.6C136.5 97.9 144.6 96.8 151.9 96.0C159.2 95.2 166.5 94.2 173.8 94.5C181.1 94.8 189.9 96.0 195.7 98.1C201.5 100.2 205.8 103.5 208.8 106.9C211.9 110.3 213.4 114.9 214.0 118.6Z" fill="#ebebeb"/>
<path d="M232.7 162.5C236.0 161.2 241.2 160.2 246.0 159.5C250.8 158.8 255.4 158.6 261.3 158.4C267.2 158.2 273.9 156.4 281.7 158.4C289.5 160.4 301.1 164.9 308.3 170.7C315.5 176.5 320.6 184.6 324.7 193.1C328.8 201.6 331.3 212.5 332.8 221.7C334.3 230.9 334.2 240.1 333.9 248.3C333.6 256.5 332.7 265.4 330.8 270.8C328.9 276.2 326.0 279.1 322.6 281.0C319.2 282.9 314.5 282.7 310.4 282.0C306.3 281.3 302.1 279.6 298.0 277.0C293.9 274.4 289.5 271.1 285.8 266.7C282.1 262.3 278.7 257.2 275.6 250.4C272.5 243.6 270.5 233.3 267.4 225.8C264.3 218.3 260.9 211.5 257.2 205.4C253.5 199.3 249.4 194.1 245.0 189.0C240.6 183.9 233.9 178.4 230.7 174.7C227.5 171.0 225.7 169.0 226.0 167.0C226.3 165.0 229.4 163.8 232.7 162.5Z" fill="#ebebeb"/>
<path d="M277.8 289.3C282.2 287.2 292.7 284.4 298.8 284.0C304.9 283.6 309.9 283.7 314.6 286.6C319.3 289.5 323.5 294.9 326.9 301.5C330.3 308.1 333.6 318.1 334.8 326.0C336.0 333.9 335.5 341.2 333.9 348.8C332.3 356.4 329.5 365.5 325.1 371.6C320.7 377.7 314.9 381.8 307.6 385.6C300.3 389.4 290.1 392.3 281.3 394.4C272.5 396.4 262.3 397.9 255.0 397.9C247.7 397.9 241.3 396.7 237.5 394.4C233.7 392.1 232.0 389.5 232.3 383.9C232.6 378.3 235.8 369.2 239.3 361.0C242.8 352.8 248.9 343.2 253.3 334.8C257.7 326.4 262.3 316.7 265.5 310.3C268.7 303.9 270.6 299.8 272.6 296.3C274.7 292.8 273.4 291.4 277.8 289.3Z" fill="#ebebeb"/>
<path d="M25.0 296.8C28.4 294.9 32.4 292.7 41.9 292.4C51.4 292.1 68.8 293.4 82.2 295.0C95.6 296.6 108.5 298.4 122.5 301.8C136.5 305.2 152.6 310.2 166.0 315.2C179.4 320.2 193.5 326.4 203.0 332.0C212.5 337.6 218.4 343.2 223.2 348.8C228.0 354.4 230.5 360.0 231.6 365.6C232.7 371.2 232.5 377.4 230.0 382.4C227.5 387.4 224.3 391.3 216.5 395.8C208.7 400.3 194.1 406.1 182.9 409.2C171.7 412.3 160.5 414.0 149.3 414.3C138.1 414.6 126.9 413.4 115.7 410.9C104.5 408.4 93.4 405.1 82.2 399.2C71.0 393.3 57.6 384.7 48.6 375.7C39.6 366.7 32.9 354.9 28.4 345.4C23.9 335.9 22.8 325.6 21.7 318.6C20.6 311.6 21.1 307.1 21.7 303.5C22.2 299.9 21.6 298.7 25.0 296.8Z" fill="#ebebeb"/>
<path d="M230.8 165.6A114.1 114.1 0 0 1 232.8 167.0M230.8 165.6L240.3 152.3M232.8 167.0L247.5 147.5M226.7 167.2A110.3 110.3 0 0 1 229.6 169.3M226.7 167.2L239.5 148.6M229.6 169.3L231.8 166.3M233.0 170.6L249.5 149.8M227.2 169.5L228.1 168.3M241.1 168.6A118.0 118.0 0 0 1 243.0 170.3M241.1 168.6L256.6 150.7M243.0 170.3L254.1 158.0M248.3 168.4L257.1 159.0M249.9 174.2L269.9 154.7M260.2 175.6A126.7 126.7 0 0 1 262.0 177.7M260.2 175.6L272.0 165.5M262.0 177.7L273.2 168.5M255.3 176.3A122.5 122.5 0 0 1 257.9 179.3M255.3 176.3L274.9 158.8M257.9 179.3L261.1 176.6M252.5 175.4A121.0 121.0 0 0 1 255.5 178.8M252.5 175.4L268.2 160.7M255.5 178.8L256.7 177.8M249.5 181.1L254.0 177.1M239.0 172.9L242.1 169.5M264.2 179.4A127.4 127.4 0 0 1 265.9 181.6M264.2 179.4L276.5 169.8M265.9 181.6L282.3 169.3M271.5 184.4A130.2 130.2 0 0 1 273.0 186.8M271.5 184.4L287.5 173.4M273.0 186.8L292.1 174.3M266.3 184.7A125.8 125.8 0 0 1 268.6 188.0M266.3 184.7L288.6 168.7M268.6 188.0L272.2 185.6M261.0 183.6A122.3 122.3 0 0 1 264.5 188.4M261.0 183.6L265.1 180.5M264.5 188.4L267.4 186.4M271.8 190.8A127.1 127.1 0 0 1 273.3 193.1M271.8 190.8L290.1 179.4M273.3 193.1L294.5 180.5M268.2 194.6A122.0 122.0 0 0 1 270.2 198.0M268.2 194.6L272.6 192.0M270.2 198.0L295.4 183.8M267.6 197.2A120.1 120.1 0 0 1 269.8 201.2M267.6 197.2L269.2 196.3M269.8 201.2L299.4 185.3M258.6 189.0L262.8 186.0M266.1 200.7L268.7 199.2M281.1 198.3A131.4 131.4 0 0 1 282.4 200.9M281.1 198.3L307.5 184.9M282.4 200.9L309.8 187.6M285.2 202.7A133.2 133.2 0 0 1 287.5 208.0M285.2 202.7L303.0 194.6M287.5 208.0L315.1 196.8M277.3 201.8A126.4 126.4 0 0 1 280.1 208.0M277.3 201.8L281.8 199.6M280.1 208.0L286.3 205.4M297.0 217.1L326.0 208.2M289.8 213.3L315.9 204.0M296.8 220.3A138.0 138.0 0 0 1 297.5 223.2M296.8 220.3L327.7 211.5M297.5 223.2L321.6 216.9M289.4 223.8L297.2 221.7M275.9 206.2L278.7 204.9M283.8 229.5A123.1 123.1 0 0 1 284.4 232.1M283.8 229.5L321.6 220.5M284.4 232.1L323.3 223.7M281.5 231.4L284.1 230.8M291.8 233.4A130.1 130.1 0 0 1 292.3 236.1M291.8 233.4L333.4 225.3M292.3 236.1L332.4 229.3M299.3 243.8A136.0 136.0 0 0 1 299.7 249.4M299.3 243.8L314.8 242.2M299.7 249.4L310.1 248.8M297.4 241.1A134.5 134.5 0 0 1 298.0 246.8M297.4 241.1L319.7 238.3M298.0 246.8L299.5 246.6M295.4 244.2A132.1 132.1 0 0 1 296.1 259.1M295.4 244.2L297.8 243.9M296.1 259.1L311.0 259.2M292.1 239.0A129.5 129.5 0 0 1 293.3 251.8M292.1 239.0L323.5 234.3M293.3 251.8L296.0 251.6M288.7 235.3A126.7 126.7 0 0 1 290.1 245.6M288.7 235.3L292.0 234.7M290.1 245.6L292.8 245.4M289.8 268.3A126.2 126.2 0 0 1 289.5 271.0M289.8 268.3L309.9 269.9M289.5 271.0L304.9 272.6M288.5 265.5A124.7 124.7 0 0 1 288.2 269.5M288.5 265.5L302.8 266.4M288.2 269.5L289.7 269.6M283.9 241.2L289.5 240.5M284.8 267.2L288.3 267.5M275.8 272.0L308.4 276.1M271.1 273.8L304.1 278.6M316.3 306.6A159.9 159.9 0 0 1 315.4 309.3M316.3 306.6L326.9 310.0M315.4 309.3L323.9 312.2M315.7 303.4A158.4 158.4 0 0 1 314.5 307.5M315.7 303.4L323.9 305.8M314.5 307.5L315.9 308.0M313.4 304.9A156.6 156.6 0 0 1 311.4 311.0M313.4 304.9L315.1 305.5M311.4 311.0L323.1 315.2M311.0 307.5A155.1 155.1 0 0 1 309.0 313.1M311.0 307.5L312.4 308.0M309.0 313.1L322.6 318.3M307.8 309.5A152.7 152.7 0 0 1 305.8 314.8M307.8 309.5L310.0 310.3M305.8 314.8L319.5 320.3M305.4 311.6A151.2 151.2 0 0 1 303.3 316.8M305.4 311.6L306.8 312.2M303.3 316.8L315.4 321.9M301.8 313.2A148.4 148.4 0 0 1 299.7 318.1M301.8 313.2L304.4 314.2M299.7 318.1L316.4 325.6M300.3 330.6L313.3 337.6M301.3 321.8L317.3 329.3M295.0 330.9L318.1 343.7M292.4 332.5L307.5 341.3M299.4 315.1L300.7 315.7M294.6 348.0A158.6 158.6 0 0 1 290.7 353.4M294.6 348.0L298.3 350.6M290.7 353.4L295.7 357.1M296.9 341.7A157.1 157.1 0 0 1 291.5 349.8M296.9 341.7L306.3 347.6M291.5 349.8L292.7 350.7M293.0 345.0A155.6 155.6 0 0 1 286.6 353.8M293.0 345.0L294.3 345.8M286.6 353.8L293.9 359.5M288.7 348.6A154.1 154.1 0 0 1 283.7 355.0M288.7 348.6L289.9 349.4M283.7 355.0L287.2 357.9M284.8 350.7A152.3 152.3 0 0 1 280.6 356.0M284.8 350.7L286.2 351.8M280.6 356.0L285.4 360.1M280.9 351.9A149.9 149.9 0 0 1 277.0 356.6M280.9 351.9L282.7 353.4M277.0 356.6L281.8 360.8M277.1 360.3A152.5 152.5 0 0 1 275.2 362.4M277.1 360.3L280.4 363.4M275.2 362.4L278.5 365.4M273.3 364.4A152.5 152.5 0 0 1 271.4 366.3M273.3 364.4L276.6 367.5M271.4 366.3L274.6 369.5M275.1 360.3A151.0 151.0 0 0 1 271.3 364.3M275.1 360.3L276.2 361.4M271.3 364.3L272.4 365.3M267.4 374.2A155.5 155.5 0 0 1 265.2 376.1M267.4 374.2L270.4 377.6M265.2 376.1L268.2 379.5M268.4 371.2A154.0 154.0 0 0 1 265.3 374.0M268.4 371.2L271.5 374.5M265.3 374.0L266.3 375.2M269.4 368.2A152.5 152.5 0 0 1 265.9 371.5M269.4 368.2L272.5 371.5M265.9 371.5L266.9 372.6M266.6 368.8A151.0 151.0 0 0 1 260.2 374.4M266.6 368.8L267.7 369.9M260.2 374.4L264.8 380.0M272.1 361.3L273.2 362.3M262.5 370.5L263.5 371.7M277.5 353.1L279.0 354.3M289.4 333.8L306.3 344.0M252.3 368.8L265.2 385.0M294.7 294.6L322.0 302.2M247.8 367.2A137.7 137.7 0 0 1 244.0 370.0M247.8 367.2L263.5 387.6M244.0 370.0L253.2 382.9M244.5 366.7A135.3 135.3 0 0 1 238.8 370.7M244.5 366.7L245.9 368.6M238.8 370.7L248.5 385.3M239.4 365.5L241.7 368.8M288.5 290.4L315.1 297.3M227.6 357.8L246.7 387.7M266.4 282.7L318.4 295.2M261.6 279.7L316.6 291.9M183.6 381.0L184.9 389.1M76.0 346.8A125.0 125.0 0 0 1 74.2 345.0M76.0 346.8L72.9 350.0M74.2 345.0L68.4 350.7M76.2 344.9A123.5 123.5 0 0 1 73.5 342.1M76.2 344.9L75.1 345.9M73.5 342.1L66.6 348.6M75.9 342.5L74.8 343.5M51.1 316.9A127.3 127.3 0 0 1 48.8 312.1M51.1 316.9L47.1 319.0M48.8 312.1L39.9 316.3M52.0 313.5A125.0 125.0 0 0 1 49.8 308.8M52.0 313.5L49.9 314.5M49.8 308.8L44.8 311.0M53.1 310.1L50.8 311.2M127.9 147.5A116.3 116.3 0 0 1 130.6 146.7M127.9 147.5L125.8 140.9M130.6 146.7L126.7 133.9M129.7 148.5L129.2 147.1M138.0 142.5L136.1 133.9M136.3 157.1L129.5 132.3M176.7 247.1L180 239.5M203.7 211.3L229.2 174.1" fill="none" stroke="#4a86c5" stroke-width="1.05"/>
<path d="M233.0 170.6A111.3 111.3 0 0 1 234.9 172.2M227.2 169.5A108.8 108.8 0 0 1 232.4 173.4M232.4 173.4L234.0 171.4M248.3 168.4A123.0 123.0 0 0 1 250.2 170.2M247.2 171.5A120.0 120.0 0 0 1 249.9 174.2M247.2 171.5L249.3 169.3M245.1 176.4A115.0 115.0 0 0 1 249.5 181.1M245.1 176.4L248.6 172.8M239.0 172.9A113.5 113.5 0 0 1 246.2 179.8M246.2 179.8L247.3 178.7M258.6 189.0A117.1 117.1 0 0 1 266.1 200.7M241.2 177.8A111.3 111.3 0 0 1 257.7 197.8M241.2 177.8L242.7 176.3M257.7 197.8L262.5 194.7M228.8 172.8A107.0 107.0 0 0 1 246.7 190.1M228.8 172.8L229.8 171.4M246.7 190.1L250.0 187.3M296.1 214.2A139.2 139.2 0 0 1 297.0 217.1M289.8 213.3A133.5 133.5 0 0 1 291.2 217.4M291.2 217.4L296.6 215.7M287.2 216.5A130.0 130.0 0 0 1 289.4 223.8M287.2 216.5L290.5 215.3M275.9 206.2A123.3 123.3 0 0 1 281.9 222.1M281.9 222.1L288.4 220.1M276.6 215.1A120.5 120.5 0 0 1 281.5 231.4M276.6 215.1L279.2 214.1M283.9 241.2A121.1 121.1 0 0 1 284.8 267.2M276.3 224.0A117.4 117.4 0 0 1 281.3 254.3M276.3 224.0L279.3 223.1M281.3 254.3L285.0 254.2M275.2 239.8A112.7 112.7 0 0 1 275.8 272.0M275.2 239.8L279.8 239.0M272.2 256.0A108.3 108.3 0 0 1 271.1 273.8M272.2 256.0L276.7 255.9M232.0 187.4A98.0 98.0 0 0 1 261.8 264.2M232.0 187.4L238.2 180.9M261.8 264.2L272.0 264.9M302.2 326.9A154.4 154.4 0 0 1 300.3 330.6M301.3 321.8A151.4 151.4 0 0 1 298.6 327.4M298.6 327.4L301.3 328.8M298.6 324.0A149.9 149.9 0 0 1 295.0 330.9M298.6 324.0L299.9 324.6M295.5 326.7A148.4 148.4 0 0 1 292.4 332.5M295.5 326.7L296.8 327.4M299.4 315.1A146.9 146.9 0 0 1 292.6 328.9M292.6 328.9L294.0 329.6M272.1 361.3A149.5 149.5 0 0 1 262.5 370.5M277.5 353.1A148.0 148.0 0 0 1 266.4 364.9M266.4 364.9L267.4 366.0M289.4 333.8A146.5 146.5 0 0 1 271.0 358.1M271.0 358.1L272.1 359.1M294.5 321.3A145.0 145.0 0 0 1 279.6 345.5M294.5 321.3L296.2 322.1M279.6 345.5L280.8 346.5M284.8 332.0A141.7 141.7 0 0 1 252.3 368.8M284.8 332.0L287.7 333.8M294.7 294.6A135.7 135.7 0 0 1 265.7 347.9M265.7 347.9L270.2 351.8M279.3 320.7A131.3 131.3 0 0 1 239.4 365.5M279.3 320.7L283.2 322.9M288.5 290.4A128.6 128.6 0 0 1 260.0 343.7M260.0 343.7L261.9 345.4M268.3 313.9A118.3 118.3 0 0 1 227.6 357.8M268.3 313.9L277.4 318.7M266.4 282.7A105.4 105.4 0 0 1 241.3 329.6M241.3 329.6L250.8 338.4M261.6 279.7A100.0 100.0 0 0 1 252.1 305.2M252.1 305.2L256.9 307.8M199.4 372.3A119.7 119.7 0 0 1 190.4 374.7M206.1 368.4A118.2 118.2 0 0 1 194.5 372.2M194.5 372.2L194.9 373.6M207.7 365.9A116.4 116.4 0 0 1 199.8 368.8M199.8 368.8L200.4 370.4M186.2 380.6A124.6 124.6 0 0 1 183.6 381.0M184.7 379.3A123.1 123.1 0 0 1 180.9 379.9M184.7 379.3L184.9 380.8M182.5 377.5A120.9 120.9 0 0 1 170.0 378.8M182.5 377.5L182.8 379.6M176.1 376.7A119.3 119.3 0 0 1 163.7 377.3M176.1 376.7L176.3 378.3M203.2 365.7A114.6 114.6 0 0 1 169.7 372.5M203.2 365.7L203.8 367.4M169.7 372.5L169.9 377.2M156.1 382.0A124.2 124.2 0 0 1 144.0 380.6M161.1 380.7A122.7 122.7 0 0 1 150.2 380.0M150.2 380.0L150.0 381.4M136.7 375.1A120.3 120.3 0 0 1 122.1 370.7M156.0 375.8A118.1 118.1 0 0 1 130.0 371.1M156.0 375.8L155.6 380.4M130.0 371.1L129.4 373.2M186.4 368.9A113.1 113.1 0 0 1 143.7 369.3M186.4 368.9L186.7 370.4M143.7 369.3L142.8 374.2M104.0 362.4A120.4 120.4 0 0 1 97.4 358.3M111.0 364.4A118.9 118.9 0 0 1 101.5 359.1M101.5 359.1L100.7 360.4M83.0 349.3A122.0 122.0 0 0 1 75.9 342.5M68.9 338.5A124.6 124.6 0 0 1 64.9 333.5M68.2 335.0A122.9 122.9 0 0 1 62.9 327.9M68.2 335.0L66.9 336.0M80.4 344.9A120.5 120.5 0 0 1 67.4 330.1M80.4 344.9L79.4 345.9M67.4 330.1L65.5 331.5M93.7 354.0A119.0 119.0 0 0 1 74.7 336.7M74.7 336.7L73.6 337.7M107.3 359.9A116.6 116.6 0 0 1 85.4 344.1M107.3 359.9L106.2 361.9M85.4 344.1L83.7 345.9M53.1 310.1A122.5 122.5 0 0 1 50.3 303.6M62.7 319.8A118.6 118.6 0 0 1 55.2 305.3M55.2 305.3L51.6 306.9M66.7 322.3A116.6 116.6 0 0 1 60.5 311.8M60.5 311.8L58.7 312.7M96.7 351.4A115.1 115.1 0 0 1 64.8 316.4M96.7 351.4L95.9 352.6M64.8 316.4L63.5 317.1M116.4 358.6A111.3 111.3 0 0 1 81.7 333.0M81.7 333.0L78.9 335.6M99.1 345.7A109.1 109.1 0 0 1 61.3 294.9M99.1 345.7L97.8 347.5M165.0 364.9A106.9 106.9 0 0 1 78.3 321.8M165.0 364.9L165.1 371.1M78.3 321.8L76.5 323.1M118.5 349.6A102.3 102.3 0 0 1 67.1 290.6M118.5 349.6L116.5 353.7M201.8 346.1A95.9 95.9 0 0 1 91.7 321.0M91.7 321.0L86.9 325.2M202.4 342.7A93.0 93.0 0 0 1 143.3 348.7M143.3 348.7L142.7 351.5M52.0 271.4A112.8 112.8 0 0 1 51.2 257.1M45.5 238.6A120.1 120.1 0 0 1 49.4 221.9M49.8 230.8A117.4 117.4 0 0 1 53.5 218.1M49.8 230.8L47.2 230.2M50.4 247.2A114.1 114.1 0 0 1 54.7 225.4M54.7 225.4L51.5 224.4M53.1 264.1A111.1 111.1 0 0 1 55.0 236.7M53.1 264.1L51.4 264.2M55.0 236.7L52.0 236.2M58.4 214.4A114.3 114.3 0 0 1 65.6 199.9M63.2 207.8A112.7 112.7 0 0 1 70.8 194.7M63.2 207.8L61.7 207.0M64.5 183.2A124.5 124.5 0 0 1 66.3 180.8M65.0 187.2A121.7 121.7 0 0 1 67.6 183.7M67.6 183.7L65.4 182.0M71.5 189.3A115.2 115.2 0 0 1 81.1 178.0M71.5 189.3L66.3 185.5M69.4 202.6A109.7 109.7 0 0 1 80.3 187.1M69.4 202.6L66.8 201.1M80.3 187.1L76.1 183.5M59.1 250.8A105.1 105.1 0 0 1 78.2 197.3M59.1 250.8L53.2 250.4M78.2 197.3L74.5 194.6M67.1 279.1A99.2 99.2 0 0 1 70.6 224.7M70.6 224.7L65.0 222.7M92.1 176.5A108.7 108.7 0 0 1 98.0 171.6M125.8 149.8A114.8 114.8 0 0 1 129.7 148.5M123.7 152.1A113.3 113.3 0 0 1 128.2 150.5M128.2 150.5L127.7 149.1M113.8 158.2A111.8 111.8 0 0 1 126.5 152.7M126.5 152.7L126.0 151.3M97.3 176.8A105.0 105.0 0 0 1 122.7 161.4M97.3 176.8L95.0 174.0M122.7 161.4L120.0 155.3M138.0 142.5A118.4 118.4 0 0 1 143.3 141.4M141.0 143.4A116.9 116.9 0 0 1 146.4 142.4M141.0 143.4L140.7 141.9M144.2 146.2A113.6 113.6 0 0 1 155.3 144.8M144.2 146.2L143.7 142.9M150.0 146.9A111.9 111.9 0 0 1 160.4 146.1M150.0 146.9L149.8 145.3M165.9 137.7A120.4 120.4 0 0 1 173.3 138.0M163.1 140.7A117.3 117.3 0 0 1 169.5 140.8M169.5 140.8L169.6 137.8M166.2 144.4A113.6 113.6 0 0 1 194.1 148.4M166.2 144.4L166.3 140.7M155.3 148.0A110.4 110.4 0 0 1 179.8 148.8M155.3 148.0L155.2 146.4M179.8 148.8L180.3 145.5M136.3 157.1A104.6 104.6 0 0 1 167.4 153.4M167.4 153.4L167.6 147.7M112.9 173.8A98.5 98.5 0 0 1 152.4 160.2M112.9 173.8L109.5 168.2M152.4 160.2L151.7 154.1M70.2 252.0A94.0 94.0 0 0 1 133.4 169.1M70.2 252.0L65.0 251.7M133.4 169.1L131.9 164.9M235.9 203.8A90.0 90.0 0 1 1 151.5 168.9M244.1 211.8A92.5 92.5 0 0 1 250.9 289.6M210.2 338.1A92.5 92.5 0 1 1 132.4 171.1M172.3 255.8L182.5 237.6L199.3 204M182.5 237.6L185.4 241.2L208 216.4M203.7 211.3L213.2 219.3L227.8 206.2M211 174.8L216.8 177L224.1 165.3M199.3 204L200.8 205.2M224.1 165.3L229 166.5" fill="none" stroke="#1a1a1a" stroke-width="1.05"/>
<path d="M234.9 172.2L249.9 154.0M305.4 326.9A157.3 157.3 0 0 1 304.1 329.4M305.4 326.9L317.6 332.8M304.1 329.4L321.5 338.3M302.2 326.9L304.8 328.2M66.3 180.8L46.6 165.3" fill="none" stroke="#b8b8b8" stroke-width="1.05"/>
<path d="M250.2 170.2L265.4 154.8M296.1 214.2L324.7 204.8M206.7 377.4A126.8 126.8 0 0 1 204.3 378.2M206.7 377.4L211.0 389.4M204.3 378.2L205.8 383.0M204.8 375.8A124.7 124.7 0 0 1 201.1 377.0M204.8 375.8L205.5 377.8M201.1 377.0L204.5 387.8M202.0 373.5A121.6 121.6 0 0 1 197.8 374.8M202.0 373.5L203.0 376.4M197.8 374.8L200.6 384.5M193.6 378.7A124.3 124.3 0 0 1 191.1 379.3M193.6 378.7L196.9 391.9M191.1 379.3L192.1 383.7M195.7 376.5A122.7 122.7 0 0 1 192.0 377.4M195.7 376.5L196.9 380.8M192.0 377.4L192.4 379.0M193.5 375.5A121.2 121.2 0 0 1 188.0 376.8M193.5 375.5L193.9 377.0M188.0 376.8L190.5 389.2M199.4 372.3L199.9 374.2M190.4 374.7L190.8 376.2M206.1 368.4L213.4 387.5M207.7 365.9L217.0 388.8M186.2 380.6L188.8 394.9M180.9 379.9L182.8 394.0M179.0 385.0A127.9 127.9 0 0 1 176.3 385.3M179.0 385.0L179.9 393.3M176.3 385.3L177.4 396.0M177.4 383.2A126.0 126.0 0 0 1 171.2 383.7M177.4 383.2L177.6 385.2M171.2 383.7L171.9 395.9M174.1 381.3A123.7 123.7 0 0 1 166.2 381.7M174.1 381.3L174.3 383.5M166.2 381.7L166.4 393.4M170.0 378.8L170.2 381.5M163.7 377.3L163.6 392.3M158.4 385.0A127.1 127.1 0 0 1 153.4 384.7M158.4 385.0L158.2 389.5M153.4 384.7L152.8 391.9M145.4 386.4A129.8 129.8 0 0 1 142.8 386.0M145.4 386.4L143.7 398.0M142.8 386.0L141.0 396.8M148.2 385.3A128.3 128.3 0 0 1 144.3 384.8M148.2 385.3L147.7 389.8M144.3 384.8L144.1 386.2M146.5 383.6A126.8 126.8 0 0 1 140.7 382.6M146.5 383.6L146.3 385.1M140.7 382.6L139.9 387.0M156.1 382.0L155.9 384.9M144.0 380.6L143.6 383.1M161.1 380.7L160.8 393.9M135.7 380.9A126.1 126.1 0 0 1 133.2 380.3M135.7 380.9L134.7 385.3M133.2 380.3L131.9 385.5M135.0 378.2A123.7 123.7 0 0 1 131.3 377.3M135.0 378.2L134.5 380.6M131.3 377.3L128.3 388.2M139.1 377.6A122.2 122.2 0 0 1 133.6 376.3M139.1 377.6L135.9 392.5M133.6 376.3L133.2 377.7M116.9 375.9A127.0 127.0 0 0 1 114.5 374.9M116.9 375.9L115.2 380.1M114.5 374.9L110.7 383.8M119.9 375.5A125.5 125.5 0 0 1 116.2 374.1M119.9 375.5L116.7 383.8M116.2 374.1L115.7 375.5M118.7 373.0A123.6 123.6 0 0 1 113.5 370.8M118.7 373.0L118.0 374.8M113.5 370.8L111.6 374.9M126.4 374.2A122.1 122.1 0 0 1 116.7 370.6M126.4 374.2L121.9 387.8M116.7 370.6L116.1 372.0M136.7 375.1L136.3 377.0M122.1 370.7L121.5 372.5M106.7 367.3A123.4 123.4 0 0 1 104.4 366.1M106.7 367.3L104.4 371.7M104.4 366.1L98.9 376.2M101.4 366.2A125.0 125.0 0 0 1 99.2 364.9M101.4 366.2L99.2 370.1M99.2 364.9L95.7 370.8M101.1 364.3A123.5 123.5 0 0 1 97.8 362.3M101.1 364.3L100.3 365.6M97.8 362.3L94.6 367.5M106.3 365.4A121.9 121.9 0 0 1 100.3 362.0M106.3 365.4L105.6 366.7M100.3 362.0L99.5 363.3M104.0 362.4L103.2 363.7M97.4 358.3L94.4 362.8M111.0 364.4L104.4 377.5M94.4 358.3A122.0 122.0 0 0 1 92.4 356.8M94.4 358.3L91.3 362.8M92.4 356.8L89.8 360.5M94.3 356.3A120.5 120.5 0 0 1 91.3 354.1M94.3 356.3L93.4 357.5M91.3 354.1L87.3 359.3M86.5 356.1A125.0 125.0 0 0 1 82.1 352.5M86.5 356.1L83.7 359.7M82.1 352.5L79.2 355.9M85.3 353.2A123.5 123.5 0 0 1 78.9 347.5M85.3 353.2L84.3 354.3M78.9 347.5L74.5 352.2M83.0 349.3L82.0 350.4M68.8 342.9A127.6 127.6 0 0 1 67.1 340.9M68.8 342.9L65.4 345.9M67.1 340.9L63.7 343.9M69.1 341.0A126.1 126.1 0 0 1 66.5 338.0M69.1 341.0L67.9 341.9M66.5 338.0L63.1 340.8M62.1 334.8A127.6 127.6 0 0 1 60.6 332.7M62.1 334.8L58.5 337.5M60.6 332.7L53.8 337.6M64.9 336.0A126.1 126.1 0 0 1 62.6 332.9M64.9 336.0L58.3 341.1M62.6 332.9L61.4 333.8M68.9 338.5L67.8 339.5M64.9 333.5L63.7 334.4M62.9 327.9L58.3 331.1M93.7 354.0L92.8 355.2M59.9 320.9A121.6 121.6 0 0 1 58.6 318.7M59.9 320.9L51.7 325.8M58.6 318.7L41.1 328.8M62.4 322.2A120.1 120.1 0 0 1 60.5 319.0M62.4 322.2L46.1 332.5M60.5 319.0L59.2 319.8M50.3 303.6L39.1 308.1M62.7 319.8L61.5 320.6M66.7 322.3L55.0 330.1M116.4 358.6L105.8 381.1M61.3 294.9L34.4 304.6M67.1 290.6L41.3 299.3M201.8 346.1L220.2 388.9M202.4 342.7L222.3 386.5M48.4 277.5A117.3 117.3 0 0 1 47.9 274.7M48.4 277.5L43.9 278.3M47.9 274.7L43.5 275.4M50.3 280.0A115.8 115.8 0 0 1 49.6 275.9M50.3 280.0L43.0 281.4M49.6 275.9L48.1 276.1M48.7 268.5A115.8 115.8 0 0 1 48.3 262.4M48.7 268.5L38.8 269.4M48.3 262.4L39.5 262.8M51.4 277.7A114.3 114.3 0 0 1 50.0 265.4M51.4 277.7L50.0 277.9M50.0 265.4L48.5 265.5M46.1 256.9A117.9 117.9 0 0 1 46.3 251.8M46.1 256.9L41.0 256.8M46.3 251.8L33.9 251.2M48.2 259.7A115.8 115.8 0 0 1 48.3 254.4M48.2 259.7L38.5 259.8M48.3 254.4L46.2 254.4M52.0 271.4L50.5 271.5M51.2 257.1L48.2 257.1M41.8 243.4A123.1 123.1 0 0 1 42.1 240.5M41.8 243.4L37.3 242.9M42.1 240.5L32.2 239.1M42.6 237.6A123.1 123.1 0 0 1 43.9 231.0M42.6 237.6L34.3 236.2M43.9 231.0L39.5 230.0M43.4 242.1A121.6 121.6 0 0 1 44.7 234.6M43.4 242.1L41.9 241.9M44.7 234.6L43.2 234.3M45.5 224.6A123.1 123.1 0 0 1 46.4 221.8M45.5 224.6L35.8 221.8M46.4 221.8L42.1 220.4M47.4 223.6A121.6 121.6 0 0 1 48.7 219.4M47.4 223.6L45.9 223.2M48.7 219.4L44.4 218.0M45.5 238.6L44.0 238.3M49.4 221.9L48.0 221.5M53.5 218.1L44.6 214.9M50.4 247.2L33.4 245.6M53.4 208.8A121.0 121.0 0 0 1 54.6 206.2M53.4 208.8L41.5 203.5M54.6 206.2L42.3 200.4M53.7 212.1A119.5 119.5 0 0 1 55.4 208.1M53.7 212.1L41.3 206.9M55.4 208.1L54.0 207.5M54.9 215.6A117.1 117.1 0 0 1 56.7 211.1M54.9 215.6L50.7 214.0M56.7 211.1L54.5 210.1M56.6 203.9A120.2 120.2 0 0 1 59.6 198.3M56.6 203.9L41.8 196.5M59.6 198.3L48.6 192.0M60.2 202.2A117.8 117.8 0 0 1 65.0 194.1M60.2 202.2L58.1 201.1M65.0 194.1L48.2 183.3M58.4 214.4L55.8 213.3M65.6 199.9L62.5 198.1M70.8 194.7L41.1 174.5M64.5 183.2L49.4 171.9M65.0 187.2L48.6 175.5M70.5 176.6A124.0 124.0 0 0 1 72.5 174.4M70.5 176.6L51.3 159.8M72.5 174.4L59.4 162.4M72.6 170.4A126.6 126.6 0 0 1 74.7 168.2M72.6 170.4L62.2 160.4M74.7 168.2L66.5 160.0M72.7 176.6A122.3 122.3 0 0 1 76.7 172.3M72.7 176.6L71.5 175.5M76.7 172.3L73.7 169.3M72.2 181.8A119.3 119.3 0 0 1 76.9 176.5M72.2 181.8L50.2 163.6M76.9 176.5L74.7 174.4M76.2 180.6A117.1 117.1 0 0 1 83.5 173.1M76.2 180.6L74.5 179.1M83.5 173.1L61.8 150.2M81.1 178.0L79.7 176.7M67.1 279.1L44.5 284.1M87.4 173.2A114.2 114.2 0 0 1 89.5 171.4M87.4 173.2L68.9 152.8M89.5 171.4L74.0 153.4M89.9 158.3A124.3 124.3 0 0 1 92.3 156.5M89.9 158.3L82.1 147.7M92.3 156.5L81.6 141.4M89.1 162.1A121.7 121.7 0 0 1 92.6 159.5M89.1 162.1L78.9 149.1M92.6 159.5L91.1 157.4M93.0 163.7A118.0 118.0 0 0 1 98.2 160.0M93.0 163.7L90.8 160.8M98.2 160.0L84.3 139.3M90.9 168.9A115.2 115.2 0 0 1 97.2 164.1M90.9 168.9L74.9 149.4M97.2 164.1L95.6 161.8M92.1 176.5L88.4 172.3M98.0 171.6L94.0 166.4M102.8 149.3A124.7 124.7 0 0 1 108.7 146.2M102.8 149.3L94.6 134.9M108.7 146.2L104.1 136.8M99.6 156.9A119.9 119.9 0 0 1 108.0 152.0M99.6 156.9L88.9 140.2M108.0 152.0L105.7 147.7M112.8 147.9A121.4 121.4 0 0 1 115.5 146.8M112.8 147.9L106.7 134.8M115.5 146.8L113.2 141.6M115.7 150.7A117.7 117.7 0 0 1 119.6 149.1M115.7 150.7L114.2 147.3M119.6 149.1L115.0 137.9M106.5 159.2A114.3 114.3 0 0 1 118.9 153.0M106.5 159.2L103.7 154.4M118.9 153.0L117.6 149.9M125.8 149.8L123.7 143.9M123.7 152.1L120.8 144.4M113.8 158.2L112.6 155.9M143.3 141.4L141.1 129.0M146.4 142.4L145.2 135.0M148.8 139.8A119.2 119.2 0 0 1 151.7 139.5M148.8 139.8L147.1 126.1M151.7 139.5L151.1 133.5M150.6 142.2A116.6 116.6 0 0 1 154.7 141.8M150.6 142.2L150.3 139.6M154.7 141.8L153.3 124.3M152.8 143.5A115.1 115.1 0 0 1 157.6 143.1M152.8 143.5L152.6 142.0M157.6 143.1L156.9 130.0M155.3 144.8L155.2 143.3M160.4 146.1L159.9 129.9M178.3 132.1A126.7 126.7 0 0 1 184.4 132.9M178.3 132.1L179.2 124.1M184.4 132.9L185.1 128.5M187.4 133.5A126.7 126.7 0 0 1 190.4 134.1M187.4 133.5L188.2 129.0M190.4 134.1L191.3 129.7M181.1 134.0A125.2 125.2 0 0 1 188.6 135.2M181.1 134.0L181.3 132.5M188.6 135.2L188.9 133.8M171.9 134.9A123.4 123.4 0 0 1 184.6 136.4M171.9 134.9L172.3 128.5M184.6 136.4L184.9 134.5M168.9 136.2A121.9 121.9 0 0 1 178.1 137.0M168.9 136.2L169.1 129.8M178.1 137.0L178.2 135.5M165.9 137.7L166.1 126.6M173.3 138.0L173.5 136.5M163.1 140.7L163.0 131.6M194.1 148.4L198.2 133.3M199.3 204L211 174.8M224.1 165.3L225.4 161" fill="none" stroke="#9b1f24" stroke-width="1.05"/>
<circle cx="241.4" cy="150.9" r="1.85" fill="#a8d49e"/><circle cx="248.6" cy="146.1" r="1.85" fill="#a8d49e"/><circle cx="240.5" cy="147.1" r="1.85" fill="#a8d49e"/><circle cx="250.6" cy="148.4" r="1.85" fill="#a8d49e"/><circle cx="251.0" cy="152.7" r="1.85" fill="#a8d49e"/><circle cx="257.7" cy="149.4" r="1.85" fill="#5c3c96"/><circle cx="255.3" cy="156.7" r="1.85" fill="#a8d49e"/><circle cx="258.4" cy="157.7" r="1.85" fill="#a8d49e"/><circle cx="266.6" cy="153.5" r="1.85" fill="#a8d49e"/><circle cx="271.2" cy="153.5" r="1.85" fill="#a8d49e"/><circle cx="273.4" cy="164.3" r="1.85" fill="#a8d49e"/><circle cx="274.6" cy="167.4" r="1.85" fill="#a8d49e"/><circle cx="276.3" cy="157.6" r="1.85" fill="#a8d49e"/><circle cx="269.5" cy="159.5" r="1.85" fill="#a8d49e"/><circle cx="277.9" cy="168.7" r="1.85" fill="#a8d49e"/><circle cx="283.7" cy="168.2" r="1.85" fill="#a8d49e"/><circle cx="289.0" cy="172.4" r="1.85" fill="#5c3c96"/><circle cx="293.6" cy="173.3" r="1.85" fill="#a8d49e"/><circle cx="290.1" cy="167.6" r="1.85" fill="#a8d49e"/><circle cx="291.6" cy="178.5" r="1.85" fill="#a8d49e"/><circle cx="296.1" cy="179.6" r="1.85" fill="#a8d49e"/><circle cx="297.0" cy="182.9" r="1.85" fill="#5c3c96"/><circle cx="301.0" cy="184.5" r="1.85" fill="#5c3c96"/><circle cx="309.1" cy="184.1" r="1.85" fill="#5c3c96"/><circle cx="311.4" cy="186.9" r="1.85" fill="#5c3c96"/><path d="M306.7 192.9L304.2 196.1L302.6 192.7Z" fill="#5c3c96"/><path d="M318.9 195.3L316.3 198.4L314.9 194.9Z" fill="#5c3c96"/><path d="M328.6 203.5L325.8 206.4L324.6 202.8Z" fill="#5c3c96"/><circle cx="327.8" cy="207.7" r="1.85" fill="#5c3c96"/><circle cx="317.6" cy="203.4" r="1.85" fill="#a8d49e"/><path d="M331.6 210.4L328.7 213.2L327.6 209.6Z" fill="#5c3c96"/><circle cx="323.3" cy="216.4" r="1.85" fill="#a8d49e"/><path d="M325.6 219.6L322.5 222.2L321.6 218.5Z" fill="#5c3c96"/><circle cx="325.1" cy="223.3" r="1.85" fill="#5c3c96"/><circle cx="335.2" cy="225.0" r="1.85" fill="#a8d49e"/><circle cx="334.2" cy="229.0" r="1.85" fill="#5c3c96"/><circle cx="316.6" cy="242.0" r="1.85" fill="#5c3c96"/><circle cx="311.9" cy="248.7" r="1.85" fill="#a8d49e"/><circle cx="321.5" cy="238.1" r="1.85" fill="#5c3c96"/><circle cx="312.8" cy="259.3" r="1.85" fill="#5c3c96"/><circle cx="325.3" cy="234.0" r="1.85" fill="#5c3c96"/><path d="M314.0 270.3L310.2 271.9L310.5 268.1Z" fill="#5c3c96"/><path d="M309.0 273.0L305.2 274.5L305.6 270.8Z" fill="#5c3c96"/><circle cx="304.6" cy="266.5" r="1.85" fill="#a8d49e"/><circle cx="310.2" cy="276.3" r="1.85" fill="#5c3c96"/><path d="M308.1 279.2L304.3 280.6L304.9 276.8Z" fill="#5c3c96"/><circle cx="328.6" cy="310.5" r="1.85" fill="#5c3c96"/><circle cx="325.6" cy="312.8" r="1.85" fill="#5c3c96"/><circle cx="325.6" cy="306.4" r="1.85" fill="#a8d49e"/><circle cx="324.8" cy="315.8" r="1.85" fill="#5c3c96"/><circle cx="324.3" cy="318.9" r="1.85" fill="#5c3c96"/><circle cx="321.2" cy="321.0" r="1.85" fill="#5c3c96"/><circle cx="317.1" cy="322.6" r="1.85" fill="#5c3c96"/><circle cx="318.1" cy="326.3" r="1.85" fill="#5c3c96"/><circle cx="319.2" cy="333.6" r="1.85" fill="#5c3c96"/><circle cx="323.1" cy="339.1" r="1.85" fill="#5c3c96"/><circle cx="314.9" cy="338.4" r="1.85" fill="#5c3c96"/><circle cx="318.9" cy="330.1" r="1.85" fill="#5c3c96"/><path d="M321.7 345.7L317.6 345.6L319.5 342.3Z" fill="#5c3c96"/><circle cx="309.1" cy="342.2" r="1.85" fill="#5c3c96"/><circle cx="299.8" cy="351.6" r="1.85" fill="#5c3c96"/><circle cx="297.2" cy="358.2" r="1.85" fill="#5c3c96"/><circle cx="307.8" cy="348.5" r="1.85" fill="#5c3c96"/><circle cx="295.3" cy="360.6" r="1.85" fill="#5c3c96"/><path d="M290.4 360.5L286.4 359.7L288.8 356.7Z" fill="#5c3c96"/><circle cx="286.8" cy="361.3" r="1.85" fill="#5c3c96"/><circle cx="283.2" cy="362.0" r="1.85" fill="#5c3c96"/><circle cx="281.8" cy="364.6" r="1.85" fill="#5c3c96"/><circle cx="279.8" cy="366.7" r="1.85" fill="#5c3c96"/><circle cx="277.9" cy="368.8" r="1.85" fill="#5c3c96"/><circle cx="275.8" cy="370.8" r="1.85" fill="#5c3c96"/><circle cx="271.6" cy="378.9" r="1.85" fill="#5c3c96"/><circle cx="269.3" cy="380.9" r="1.85" fill="#5c3c96"/><circle cx="272.7" cy="375.9" r="1.85" fill="#5c3c96"/><circle cx="273.8" cy="372.8" r="1.85" fill="#5c3c96"/><circle cx="266.0" cy="381.3" r="1.85" fill="#a8d49e"/><circle cx="307.8" cy="345.0" r="1.85" fill="#5c3c96"/><circle cx="266.3" cy="386.5" r="1.85" fill="#5c3c96"/><circle cx="323.7" cy="302.7" r="1.85" fill="#a8d49e"/><circle cx="264.6" cy="389.1" r="1.85" fill="#5c3c96"/><circle cx="254.2" cy="384.4" r="1.85" fill="#a8d49e"/><circle cx="249.5" cy="386.8" r="1.85" fill="#5c3c96"/><circle cx="316.8" cy="297.8" r="1.85" fill="#5c3c96"/><circle cx="247.6" cy="389.2" r="1.85" fill="#5c3c96"/><circle cx="320.1" cy="295.6" r="1.85" fill="#a8d49e"/><circle cx="318.3" cy="292.3" r="1.85" fill="#a8d49e"/><path d="M212.4 393.3L209.4 390.6L213.0 389.3Z" fill="#5c3c96"/><path d="M207.1 386.8L204.2 384.0L207.8 382.8Z" fill="#5c3c96"/><path d="M205.7 391.7L202.8 388.8L206.5 387.7Z" fill="#5c3c96"/><path d="M201.8 388.4L198.9 385.5L202.6 384.4Z" fill="#5c3c96"/><path d="M197.8 395.8L195.1 392.8L198.8 391.9Z" fill="#5c3c96"/><circle cx="192.5" cy="385.4" r="1.85" fill="#5c3c96"/><path d="M197.9 384.8L195.1 381.8L198.8 380.8Z" fill="#5c3c96"/><path d="M191.4 393.3L188.8 390.1L192.5 389.3Z" fill="#5c3c96"/><path d="M214.8 391.4L211.8 388.7L215.3 387.3Z" fill="#5c3c96"/><circle cx="217.7" cy="390.5" r="1.85" fill="#5c3c96"/><path d="M189.5 398.9L187.0 395.7L190.7 395.0Z" fill="#5c3c96"/><path d="M185.6 393.2L183.1 389.9L186.9 389.3Z" fill="#5c3c96"/><path d="M183.4 398.0L181.0 394.7L184.8 394.2Z" fill="#5c3c96"/><path d="M180.4 397.3L178.1 394.0L181.9 393.5Z" fill="#5c3c96"/><path d="M177.8 400.1L175.5 396.7L179.3 396.3Z" fill="#5c3c96"/><path d="M172.1 400.0L170.0 396.5L173.8 396.3Z" fill="#5c3c96"/><path d="M166.5 397.5L164.5 393.9L168.3 393.8Z" fill="#5c3c96"/><path d="M163.6 396.4L161.7 392.8L165.5 392.8Z" fill="#5c3c96"/><path d="M158.0 393.6L156.3 389.9L160.1 390.1Z" fill="#5c3c96"/><path d="M152.4 396.0L150.8 392.2L154.6 392.6Z" fill="#5c3c96"/><path d="M143.1 402.0L141.8 398.2L145.5 398.7Z" fill="#5c3c96"/><path d="M140.3 400.9L139.0 397.0L142.8 397.7Z" fill="#5c3c96"/><path d="M147.2 393.8L145.7 390.0L149.5 390.5Z" fill="#5c3c96"/><path d="M139.1 391.1L137.9 387.2L141.6 387.9Z" fill="#5c3c96"/><path d="M160.7 398.0L158.9 394.3L162.7 394.4Z" fill="#5c3c96"/><circle cx="134.3" cy="387.0" r="1.85" fill="#5c3c96"/><path d="M130.9 389.5L129.9 385.5L133.6 386.5Z" fill="#5c3c96"/><path d="M127.3 392.1L126.4 388.2L130.0 389.2Z" fill="#5c3c96"/><circle cx="135.6" cy="394.3" r="1.85" fill="#a8d49e"/><path d="M113.7 383.9L113.3 379.9L116.8 381.3Z" fill="#5c3c96"/><path d="M109.1 387.5L108.8 383.5L112.3 385.0Z" fill="#5c3c96"/><path d="M115.3 387.7L114.8 383.6L118.3 385.0Z" fill="#5c3c96"/><path d="M109.9 378.7L109.7 374.6L113.1 376.2Z" fill="#5c3c96"/><path d="M120.7 391.7L120.0 387.7L123.6 388.9Z" fill="#5c3c96"/><circle cx="103.6" cy="373.2" r="1.85" fill="#a8d49e"/><circle cx="98.0" cy="377.8" r="1.85" fill="#5c3c96"/><path d="M97.1 373.7L97.3 369.6L100.6 371.5Z" fill="#5c3c96"/><path d="M93.5 374.3L93.8 370.2L97.0 372.2Z" fill="#5c3c96"/><path d="M92.4 370.9L92.7 366.9L95.9 368.9Z" fill="#5c3c96"/><path d="M92.2 366.2L92.6 362.2L95.7 364.3Z" fill="#5c3c96"/><path d="M102.6 381.2L102.5 377.1L105.9 378.8Z" fill="#5c3c96"/><path d="M89.0 366.1L89.5 362.1L92.6 364.3Z" fill="#5c3c96"/><path d="M87.3 363.8L87.9 359.7L91.0 362.0Z" fill="#5c3c96"/><circle cx="86.2" cy="360.8" r="1.85" fill="#a8d49e"/><circle cx="82.6" cy="361.1" r="1.85" fill="#5c3c96"/><path d="M76.5 359.0L77.4 355.0L80.3 357.5Z" fill="#5c3c96"/><path d="M71.6 355.2L72.7 351.3L75.5 353.9Z" fill="#5c3c96"/><path d="M70.0 352.9L71.2 349.0L73.9 351.7Z" fill="#5c3c96"/><path d="M65.4 353.5L66.7 349.6L69.3 352.4Z" fill="#5c3c96"/><path d="M63.6 351.4L64.9 347.5L67.5 350.3Z" fill="#5c3c96"/><path d="M62.4 348.7L63.8 344.8L66.3 347.7Z" fill="#5c3c96"/><circle cx="62.3" cy="345.0" r="1.85" fill="#5c3c96"/><path d="M59.9 343.4L61.5 339.7L63.9 342.6Z" fill="#5c3c96"/><path d="M55.3 340.0L57.0 336.3L59.3 339.3Z" fill="#5c3c96"/><path d="M50.5 340.0L52.3 336.3L54.5 339.4Z" fill="#5c3c96"/><path d="M55.1 343.7L56.8 339.9L59.1 342.9Z" fill="#5c3c96"/><path d="M54.9 333.4L56.8 329.8L59.0 332.9Z" fill="#5c3c96"/><path d="M48.2 327.9L50.3 324.4L52.2 327.7Z" fill="#5c3c96"/><path d="M37.6 330.8L39.7 327.4L41.6 330.7Z" fill="#5c3c96"/><path d="M42.7 334.7L44.7 331.2L46.7 334.4Z" fill="#5c3c96"/><path d="M43.5 320.9L45.8 317.5L47.6 320.9Z" fill="#5c3c96"/><path d="M36.2 318.0L38.6 314.8L40.3 318.2Z" fill="#5c3c96"/><path d="M41.1 312.6L43.6 309.5L45.2 312.9Z" fill="#5c3c96"/><path d="M35.3 309.7L37.9 306.6L39.3 310.1Z" fill="#5c3c96"/><path d="M51.5 332.4L53.5 328.8L55.6 332.0Z" fill="#5c3c96"/><circle cx="105.0" cy="382.7" r="1.85" fill="#5c3c96"/><path d="M30.5 306.0L33.3 303.0L34.5 306.5Z" fill="#5c3c96"/><path d="M37.4 300.6L40.2 297.6L41.4 301.2Z" fill="#5c3c96"/><path d="M221.8 392.7L218.6 390.1L222.1 388.6Z" fill="#5c3c96"/><path d="M224.0 390.2L220.8 387.7L224.2 386.1Z" fill="#5c3c96"/><circle cx="42.2" cy="278.6" r="1.85" fill="#5c3c96"/><path d="M39.4 276.0L42.7 273.6L43.3 277.3Z" fill="#5c3c96"/><circle cx="41.3" cy="281.7" r="1.85" fill="#5c3c96"/><path d="M34.7 269.8L38.2 267.5L38.5 271.3Z" fill="#5c3c96"/><path d="M35.4 262.9L39.0 260.9L39.1 264.7Z" fill="#5c3c96"/><path d="M36.9 256.8L40.5 254.9L40.5 258.7Z" fill="#5c3c96"/><circle cx="32.1" cy="251.1" r="1.85" fill="#5c3c96"/><path d="M34.4 259.9L38.0 257.9L38.0 261.7Z" fill="#5c3c96"/><circle cx="35.5" cy="242.7" r="1.85" fill="#5c3c96"/><path d="M28.1 238.5L32.0 237.1L31.4 240.9Z" fill="#5c3c96"/><path d="M30.3 235.5L34.2 234.2L33.5 238.0Z" fill="#5c3c96"/><path d="M35.5 229.2L39.4 228.1L38.6 231.8Z" fill="#5c3c96"/><path d="M31.9 220.7L35.8 219.9L34.8 223.5Z" fill="#5c3c96"/><path d="M38.1 219.2L42.1 218.5L41.0 222.1Z" fill="#5c3c96"/><path d="M40.5 216.7L44.5 216.0L43.3 219.6Z" fill="#5c3c96"/><path d="M40.8 213.5L44.8 212.9L43.5 216.5Z" fill="#5c3c96"/><circle cx="31.6" cy="245.4" r="1.85" fill="#a8d49e"/><circle cx="39.8" cy="202.8" r="1.85" fill="#a8d49e"/><path d="M38.6 198.6L42.7 198.4L41.0 201.9Z" fill="#5c3c96"/><circle cx="39.6" cy="206.2" r="1.85" fill="#5c3c96"/><circle cx="49.0" cy="213.3" r="1.85" fill="#5c3c96"/><path d="M38.1 194.7L42.2 194.6L40.5 198.0Z" fill="#5c3c96"/><path d="M45.0 190.0L49.1 190.1L47.2 193.4Z" fill="#5c3c96"/><path d="M44.7 181.0L48.8 181.4L46.7 184.6Z" fill="#5c3c96"/><path d="M37.7 172.2L41.8 172.6L39.6 175.8Z" fill="#5c3c96"/><path d="M46.2 169.4L50.2 170.0L47.9 173.1Z" fill="#5c3c96"/><path d="M43.4 162.7L47.4 163.5L45.0 166.4Z" fill="#5c3c96"/><circle cx="47.1" cy="174.4" r="1.85" fill="#a8d49e"/><path d="M48.2 157.1L52.1 158.1L49.6 160.9Z" fill="#5c3c96"/><path d="M56.3 159.6L60.3 160.7L57.7 163.5Z" fill="#5c3c96"/><path d="M59.2 157.6L63.2 158.7L60.5 161.4Z" fill="#5c3c96"/><circle cx="65.3" cy="158.7" r="1.85" fill="#5c3c96"/><path d="M47.1 161.0L51.1 161.8L48.6 164.8Z" fill="#5c3c96"/><circle cx="60.5" cy="148.9" r="1.85" fill="#a8d49e"/><circle cx="42.7" cy="284.5" r="1.85" fill="#5c3c96"/><circle cx="67.7" cy="151.4" r="1.85" fill="#5c3c96"/><circle cx="72.8" cy="152.1" r="1.85" fill="#5c3c96"/><path d="M79.6 144.5L83.3 146.2L80.2 148.5Z" fill="#5c3c96"/><path d="M79.2 138.0L82.8 139.9L79.7 142.1Z" fill="#5c3c96"/><circle cx="77.8" cy="147.7" r="1.85" fill="#a8d49e"/><circle cx="83.3" cy="137.8" r="1.85" fill="#5c3c96"/><path d="M72.3 146.2L76.0 147.8L73.1 150.2Z" fill="#5c3c96"/><circle cx="93.7" cy="133.4" r="1.85" fill="#5c3c96"/><path d="M102.3 133.2L105.6 135.5L102.2 137.2Z" fill="#5c3c96"/><path d="M86.7 136.8L90.3 138.8L87.1 140.8Z" fill="#5c3c96"/><path d="M105.0 131.0L108.2 133.5L104.8 135.1Z" fill="#5c3c96"/><circle cx="112.5" cy="139.9" r="1.85" fill="#a8d49e"/><path d="M113.5 134.1L116.6 136.7L113.1 138.2Z" fill="#5c3c96"/><path d="M124.5 137.0L127.4 139.9L123.8 141.1Z" fill="#5c3c96"/><circle cx="126.2" cy="132.2" r="1.85" fill="#5c3c96"/><circle cx="123.1" cy="142.2" r="1.85" fill="#5c3c96"/><path d="M119.3 140.6L122.4 143.3L118.8 144.6Z" fill="#5c3c96"/><path d="M135.1 129.9L137.8 133.0L134.1 133.9Z" fill="#5c3c96"/><path d="M140.4 124.9L142.9 128.1L139.2 128.8Z" fill="#5c3c96"/><circle cx="145.0" cy="133.3" r="1.85" fill="#5c3c96"/><path d="M146.6 122.0L148.9 125.4L145.1 125.8Z" fill="#5c3c96"/><path d="M150.6 129.4L152.9 132.8L149.1 133.2Z" fill="#5c3c96"/><circle cx="153.2" cy="122.5" r="1.85" fill="#a8d49e"/><circle cx="156.8" cy="128.2" r="1.85" fill="#5c3c96"/><circle cx="159.9" cy="128.1" r="1.85" fill="#5c3c96"/><path d="M179.6 120.0L181.1 123.8L177.3 123.4Z" fill="#5c3c96"/><path d="M185.8 124.5L187.1 128.3L183.3 127.7Z" fill="#5c3c96"/><circle cx="188.5" cy="127.3" r="1.85" fill="#5c3c96"/><circle cx="191.7" cy="127.9" r="1.85" fill="#5c3c96"/><path d="M172.5 124.4L174.2 128.1L170.4 127.8Z" fill="#5c3c96"/><path d="M169.3 125.7L171.0 129.4L167.2 129.3Z" fill="#5c3c96"/><path d="M166.2 122.5L168.0 126.1L164.2 126.0Z" fill="#5c3c96"/><path d="M163.0 127.5L164.9 131.1L161.1 131.1Z" fill="#5c3c96"/><path d="M199.3 129.3L200.2 133.3L196.5 132.3Z" fill="#5c3c96"/><path d="M128.4 128.3L131.2 131.3L127.5 132.3Z" fill="#5c3c96"/><circle cx="180.3" cy="238.3" r="1.9" fill="#a8d49e"/><circle cx="212" cy="174" r="1.9" fill="#a8d49e"/><circle cx="215" cy="175.3" r="1.9" fill="#a8d49e"/><circle cx="230.3" cy="173.4" r="1.9" fill="#a8d49e"/><circle cx="226" cy="158.5" r="1.9" fill="#a8d49e"/><circle cx="229.5" cy="163" r="1.9" fill="#a8d49e"/><circle cx="233" cy="164.5" r="1.9" fill="#a8d49e"/>
<text x="117.5" y="121" font-size="20.8" font-weight="bold" fill="#000">C4</text>
<text x="293.8" y="197.8" font-size="20.8" font-weight="bold" fill="#000">C1</text>
<text x="285.4" y="376.8" font-size="20.8" font-weight="bold" fill="#000">C2</text>
<text x="81" y="384.8" font-size="20.8" font-weight="bold" fill="#000">C3</text>
<text x="125.4" y="260.8" font-size="10" font-weight="bold" fill="#000">Origin</text>
<text x="125" y="275.8" font-size="9.1" fill="#231f20">China (n = <tspan fill="#9b1f24" font-weight="bold">137</tspan>)</text>
<text x="125" y="288.6" font-size="9.1" fill="#231f20">uncertain (n = <tspan fill="#b5b5b5">13</tspan>)</text>
<text x="125" y="301.3" font-size="9.1" fill="#231f20">Other countries (n = <tspan fill="#4a86c5" font-weight="bold">76</tspan>)</text>
<path d="M113.5 272.8h5M123.5 269.5c-3 0-4.5 1.6-4.5 3.3s1.5 3.3 4.5 3.3" fill="none" stroke="#9b1f24" stroke-width="1.3"/>
<path d="M113.5 285.6h5M123.5 282.3c-3 0-4.5 1.6-4.5 3.3s1.5 3.3 4.5 3.3" fill="none" stroke="#b5b5b5" stroke-width="1.3"/>
<path d="M113.5 298.3h5M123.5 295.0c-3 0-4.5 1.6-4.5 3.3s1.5 3.3 4.5 3.3" fill="none" stroke="#4a86c5" stroke-width="1.3"/>
<g transform="matrix(0.9969,0.9969,0.9969,-0.9969,70.8,599.2)">
<path d="M0 8h1v1h-1zM0 10h1v4h-1zM0 17h1v4h-1zM0 22h1v3h-1zM0 27h1v2h-1zM0 30h1v3h-1zM0 34h1v3h-1zM0 38h1v1h-1zM0 40h1v3h-1zM0 44h1v1h-1zM0 47h1v5h-1zM0 54h1v1h-1zM0 56h1v1h-1zM0 58h1v3h-1zM0 62h1v1h-1zM0 64h1v1h-1zM0 66h1v1h-1zM0 69h1v2h-1zM0 72h1v3h-1zM0 113h1v2h-1zM0 118h1v2h-1zM0 124h1v4h-1zM1 10h1v1h-1zM1 12h1v1h-1zM1 17h1v1h-1zM1 22h1v2h-1zM1 27h1v1h-1zM1 30h1v1h-1zM1 32h1v1h-1zM1 35h1v1h-1zM1 37h1v2h-1zM1 40h1v9h-1zM1 50h1v2h-1zM1 53h1v2h-1zM1 57h1v1h-1zM1 59h1v4h-1zM1 64h1v1h-1zM1 66h1v1h-1zM1 68h1v1h-1zM1 70h1v1h-1zM1 72h1v3h-1zM1 113h1v4h-1zM1 118h1v1h-1zM1 122h1v1h-1zM1 124h1v1h-1zM2 10h1v3h-1zM2 17h1v1h-1zM2 21h1v3h-1zM2 27h1v4h-1zM2 32h1v1h-1zM2 34h1v2h-1zM2 39h1v1h-1zM2 41h1v4h-1zM2 46h1v4h-1zM2 53h1v1h-1zM2 55h1v6h-1zM2 63h1v4h-1zM2 69h1v2h-1zM2 72h1v3h-1zM2 113h1v3h-1zM2 118h1v2h-1zM2 122h1v1h-1zM2 125h1v3h-1zM3 8h1v1h-1zM3 11h1v2h-1zM3 22h1v2h-1zM3 27h1v1h-1zM3 30h1v1h-1zM3 32h1v1h-1zM3 35h1v3h-1zM3 40h1v1h-1zM3 46h1v3h-1zM3 50h1v1h-1zM3 53h1v1h-1zM3 56h1v1h-1zM3 58h1v3h-1zM3 62h1v6h-1zM3 69h1v2h-1zM3 72h1v3h-1zM3 98h1v1h-1zM3 113h1v2h-1zM3 118h1v2h-1zM3 122h1v1h-1zM3 124h1v1h-1zM4 10h1v1h-1zM4 12h1v1h-1zM4 17h1v1h-1zM4 19h1v1h-1zM4 27h1v1h-1zM4 32h1v1h-1zM4 36h1v6h-1zM4 43h1v4h-1zM4 49h1v4h-1zM4 54h1v5h-1zM4 60h1v4h-1zM4 65h1v3h-1zM4 70h1v4h-1zM4 96h1v1h-1zM4 113h1v2h-1zM4 116h1v1h-1zM4 118h1v2h-1zM4 121h1v2h-1zM4 127h1v1h-1zM5 12h1v1h-1zM5 15h1v1h-1zM5 23h1v1h-1zM5 38h1v1h-1zM5 40h1v1h-1zM5 43h1v1h-1zM5 51h1v1h-1zM5 53h1v3h-1zM5 57h1v1h-1zM5 62h1v2h-1zM5 66h1v8h-1zM5 83h1v1h-1zM5 90h1v1h-1zM5 98h1v1h-1zM5 100h1v1h-1zM5 105h1v1h-1zM5 113h1v2h-1zM5 116h1v1h-1zM5 119h1v1h-1zM5 124h1v1h-1zM6 38h1v2h-1zM6 43h1v1h-1zM6 45h1v1h-1zM6 50h1v6h-1zM6 57h1v1h-1zM6 63h1v1h-1zM6 66h1v1h-1zM6 68h1v2h-1zM6 71h1v1h-1zM6 73h1v1h-1zM6 77h1v1h-1zM6 90h1v1h-1zM6 98h1v1h-1zM6 100h1v1h-1zM6 105h1v1h-1zM6 113h1v2h-1zM6 119h1v1h-1zM6 121h1v1h-1zM6 124h1v1h-1zM7 15h1v1h-1zM7 30h1v1h-1zM7 35h1v1h-1zM7 37h1v4h-1zM7 42h1v1h-1zM7 44h1v1h-1zM7 46h1v1h-1zM7 48h1v1h-1zM7 50h1v5h-1zM7 57h1v3h-1zM7 61h1v3h-1zM7 65h1v1h-1zM7 67h1v1h-1zM7 69h1v2h-1zM7 73h1v1h-1zM7 104h1v1h-1zM7 113h1v4h-1zM7 118h1v1h-1zM7 121h1v2h-1zM7 124h1v2h-1zM7 127h1v1h-1zM8 12h1v1h-1zM8 19h1v1h-1zM8 22h1v2h-1zM8 25h1v1h-1zM8 27h1v1h-1zM8 29h1v1h-1zM8 32h1v1h-1zM8 34h1v3h-1zM8 38h1v2h-1zM8 41h1v3h-1zM8 45h1v5h-1zM8 53h1v2h-1zM8 56h1v1h-1zM8 58h1v8h-1zM8 68h1v1h-1zM8 70h1v1h-1zM8 72h1v3h-1zM8 114h1v3h-1zM8 118h1v2h-1zM8 122h1v1h-1zM8 124h1v2h-1zM9 39h1v2h-1zM9 43h1v1h-1zM9 45h1v2h-1zM9 51h1v2h-1zM9 54h1v2h-1zM9 67h1v2h-1zM9 82h1v2h-1zM9 89h1v5h-1zM9 99h1v1h-1zM9 104h1v1h-1zM9 107h1v1h-1zM9 113h1v1h-1zM9 116h1v1h-1zM9 123h1v1h-1zM10 19h1v4h-1zM10 27h1v1h-1zM10 29h1v2h-1zM10 32h1v1h-1zM10 35h1v4h-1zM10 42h1v1h-1zM10 44h1v1h-1zM10 47h1v2h-1zM10 52h1v1h-1zM10 54h1v3h-1zM10 58h1v9h-1zM10 70h1v5h-1zM10 113h1v2h-1zM10 116h1v1h-1zM10 119h1v1h-1zM10 122h1v1h-1zM10 124h1v2h-1zM11 29h1v1h-1zM11 34h1v1h-1zM11 36h1v1h-1zM11 38h1v4h-1zM11 46h1v1h-1zM11 52h1v3h-1zM11 57h1v2h-1zM11 60h1v4h-1zM11 65h1v7h-1zM11 107h1v1h-1zM11 114h1v1h-1zM11 116h1v1h-1zM11 118h1v2h-1zM11 122h1v1h-1zM12 19h1v2h-1zM12 22h1v2h-1zM12 27h1v2h-1zM12 30h1v1h-1zM12 32h1v1h-1zM12 34h1v3h-1zM12 38h1v5h-1zM12 44h1v1h-1zM12 47h1v3h-1zM12 52h1v5h-1zM12 58h1v5h-1zM12 64h1v2h-1zM12 69h1v4h-1zM12 74h1v1h-1zM13 40h1v1h-1zM13 43h1v1h-1zM13 45h1v1h-1zM13 50h1v4h-1zM13 55h1v1h-1zM13 57h1v1h-1zM13 66h1v4h-1zM13 73h1v1h-1zM13 83h1v1h-1zM13 91h1v1h-1zM13 96h1v3h-1zM13 103h1v1h-1zM13 105h1v1h-1zM13 107h1v1h-1zM13 111h1v1h-1zM13 113h1v1h-1zM13 115h1v2h-1zM13 118h1v2h-1zM13 122h1v1h-1zM13 124h1v4h-1zM14 51h1v2h-1zM14 54h1v2h-1zM14 67h1v1h-1zM14 73h1v1h-1zM14 80h1v1h-1zM14 82h1v2h-1zM14 89h1v3h-1zM14 93h1v1h-1zM14 97h1v1h-1zM14 99h1v2h-1zM14 103h1v2h-1zM14 107h1v1h-1zM14 111h1v1h-1zM14 113h1v2h-1zM14 116h1v1h-1zM14 118h1v1h-1zM14 122h1v1h-1zM14 124h1v1h-1zM15 30h1v2h-1zM15 34h1v6h-1zM15 41h1v2h-1zM15 44h1v1h-1zM15 46h1v2h-1zM15 49h1v2h-1zM15 52h1v2h-1zM15 57h1v9h-1zM15 67h1v2h-1zM15 72h1v3h-1zM16 50h1v1h-1zM16 52h1v1h-1zM16 55h1v1h-1zM16 80h1v1h-1zM16 82h1v1h-1zM16 91h1v3h-1zM16 96h1v2h-1zM16 100h1v1h-1zM16 104h1v1h-1zM16 107h1v1h-1zM16 110h1v2h-1zM16 113h1v2h-1zM16 116h1v1h-1zM16 118h1v2h-1zM16 124h1v1h-1zM16 127h1v1h-1zM17 35h1v1h-1zM17 37h1v2h-1zM17 40h1v1h-1zM17 45h1v2h-1zM17 48h1v4h-1zM17 53h1v1h-1zM17 55h1v2h-1zM17 58h1v1h-1zM17 60h1v3h-1zM17 64h1v3h-1zM17 69h1v1h-1zM17 107h1v1h-1zM17 115h1v1h-1zM17 118h1v1h-1zM18 39h1v1h-1zM18 45h1v1h-1zM18 50h1v3h-1zM18 57h1v1h-1zM18 66h1v1h-1zM18 69h1v1h-1zM18 82h1v2h-1zM18 90h1v1h-1zM18 92h1v1h-1zM18 96h1v3h-1zM18 100h1v1h-1zM18 102h1v1h-1zM18 104h1v2h-1zM18 107h1v1h-1zM18 113h1v4h-1zM18 119h1v1h-1zM18 122h1v1h-1zM19 36h1v3h-1zM19 40h1v1h-1zM19 47h1v3h-1zM19 51h1v3h-1zM19 55h1v1h-1zM19 57h1v1h-1zM19 61h1v8h-1zM19 70h1v1h-1zM19 72h1v2h-1zM19 77h1v1h-1zM19 96h1v1h-1zM19 125h1v1h-1zM19 127h1v1h-1zM20 37h1v1h-1zM20 39h1v2h-1zM20 43h1v1h-1zM20 45h1v2h-1zM20 51h1v5h-1zM20 57h1v1h-1zM20 62h1v2h-1zM20 67h1v3h-1zM20 71h1v1h-1zM20 73h1v1h-1zM20 77h1v1h-1zM20 82h1v2h-1zM20 90h1v1h-1zM20 93h1v1h-1zM20 96h1v3h-1zM20 107h1v1h-1zM20 115h1v2h-1zM20 119h1v1h-1zM20 122h1v1h-1zM20 125h1v2h-1zM21 32h1v1h-1zM21 37h1v1h-1zM21 40h1v1h-1zM21 43h1v1h-1zM21 45h1v2h-1zM21 48h1v1h-1zM21 50h1v3h-1zM21 55h1v1h-1zM21 57h1v1h-1zM21 63h1v1h-1zM21 66h1v4h-1zM21 71h1v1h-1zM21 73h1v1h-1zM21 83h1v1h-1zM21 98h1v1h-1zM21 105h1v1h-1zM21 113h1v1h-1zM21 115h1v1h-1zM21 125h1v3h-1zM22 32h1v1h-1zM22 34h1v2h-1zM22 37h1v2h-1zM22 40h1v5h-1zM22 46h1v4h-1zM22 51h1v1h-1zM22 55h1v2h-1zM22 58h1v5h-1zM22 64h1v2h-1zM22 68h1v1h-1zM22 70h1v2h-1zM22 74h1v1h-1zM23 30h1v1h-1zM23 32h1v1h-1zM23 34h1v5h-1zM23 40h1v7h-1zM23 48h1v4h-1zM23 53h1v1h-1zM23 57h1v2h-1zM23 61h1v5h-1zM23 70h1v1h-1zM23 72h1v3h-1zM24 45h1v2h-1zM24 50h1v3h-1zM24 54h1v2h-1zM24 57h1v1h-1zM24 63h1v1h-1zM24 66h1v4h-1zM24 77h1v1h-1zM24 83h1v1h-1zM24 91h1v2h-1zM24 96h1v1h-1zM24 98h1v1h-1zM24 100h1v1h-1zM24 104h1v1h-1zM24 107h1v1h-1zM24 111h1v1h-1zM24 114h1v3h-1zM24 118h1v2h-1zM24 122h1v1h-1zM24 124h1v4h-1zM25 50h1v1h-1zM25 55h1v1h-1zM25 77h1v1h-1zM25 82h1v2h-1zM25 90h1v4h-1zM25 97h1v2h-1zM25 100h1v1h-1zM25 104h1v1h-1zM25 107h1v1h-1zM25 110h1v1h-1zM25 113h1v2h-1zM25 116h1v1h-1zM25 118h1v1h-1zM25 122h1v1h-1zM25 124h1v1h-1zM25 127h1v1h-1zM26 52h1v1h-1zM26 57h1v1h-1zM26 69h1v1h-1zM26 73h1v1h-1zM26 82h1v1h-1zM26 90h1v3h-1zM26 97h1v1h-1zM26 99h1v1h-1zM26 104h1v1h-1zM26 107h1v1h-1zM26 111h1v1h-1zM26 113h1v4h-1zM26 118h1v2h-1zM26 121h1v1h-1zM26 124h1v1h-1zM27 35h1v1h-1zM27 37h1v4h-1zM27 42h1v1h-1zM27 44h1v2h-1zM27 47h1v4h-1zM27 53h1v1h-1zM27 57h1v2h-1zM27 61h1v1h-1zM27 63h1v4h-1zM27 70h1v1h-1zM27 72h1v3h-1zM28 43h1v1h-1zM28 45h1v1h-1zM28 50h1v4h-1zM28 55h1v1h-1zM28 57h1v1h-1zM28 63h1v1h-1zM28 67h1v3h-1zM28 71h1v1h-1zM28 73h1v1h-1zM28 77h1v1h-1zM28 83h1v1h-1zM28 90h1v1h-1zM28 92h1v1h-1zM28 96h1v2h-1zM28 100h1v1h-1zM28 105h1v1h-1zM28 107h1v1h-1zM28 114h1v2h-1zM28 118h1v1h-1zM28 125h1v3h-1zM29 39h1v2h-1zM29 43h1v1h-1zM29 45h1v2h-1zM29 48h1v1h-1zM29 50h1v2h-1zM29 53h1v3h-1zM29 63h1v1h-1zM29 66h1v2h-1zM29 69h1v1h-1zM29 71h1v1h-1zM29 73h1v1h-1zM29 98h1v1h-1zM29 105h1v1h-1zM29 118h1v1h-1zM29 122h1v1h-1zM29 125h1v1h-1zM30 39h1v2h-1zM30 43h1v9h-1zM30 53h1v2h-1zM30 56h1v3h-1zM30 61h1v2h-1zM30 66h1v2h-1zM30 72h1v1h-1zM30 74h1v1h-1zM30 83h1v1h-1zM30 115h1v1h-1zM30 118h1v2h-1zM30 127h1v1h-1zM31 43h1v1h-1zM31 46h1v1h-1zM31 50h1v6h-1zM31 57h1v1h-1zM31 63h1v1h-1zM31 67h1v3h-1zM31 71h1v1h-1zM31 77h1v1h-1zM31 83h1v1h-1zM31 89h1v2h-1zM31 92h1v2h-1zM31 96h1v1h-1zM31 98h1v1h-1zM31 105h1v1h-1zM31 107h1v1h-1zM31 111h1v1h-1zM31 115h1v1h-1zM31 118h1v2h-1zM31 124h1v4h-1zM32 70h1v1h-1zM32 72h1v3h-1zM33 77h1v1h-1zM33 82h1v1h-1zM33 90h1v4h-1zM33 96h1v2h-1zM33 101h1v1h-1zM33 112h1v2h-1zM33 116h1v1h-1zM33 118h1v2h-1zM33 122h1v1h-1zM33 124h1v3h-1zM34 70h1v1h-1zM34 74h1v2h-1zM34 77h1v1h-1zM34 80h1v1h-1zM34 82h1v2h-1zM34 88h1v1h-1zM34 90h1v1h-1zM34 92h1v2h-1zM34 98h1v1h-1zM34 100h1v1h-1zM34 104h1v1h-1zM34 107h1v1h-1zM34 111h1v1h-1zM34 114h1v1h-1zM34 116h1v1h-1zM34 118h1v2h-1zM34 122h1v1h-1zM34 124h1v1h-1zM34 126h1v2h-1zM35 72h1v1h-1zM35 74h1v1h-1zM35 77h1v1h-1zM35 82h1v2h-1zM35 88h1v1h-1zM35 90h1v4h-1zM35 96h1v1h-1zM35 98h1v1h-1zM35 105h1v1h-1zM35 107h1v1h-1zM35 114h1v2h-1zM35 118h1v2h-1zM35 122h1v1h-1zM35 125h1v3h-1zM36 72h1v1h-1zM36 74h1v1h-1zM36 77h1v1h-1zM36 82h1v2h-1zM36 91h1v2h-1zM36 96h1v2h-1zM36 100h1v1h-1zM36 104h1v2h-1zM36 107h1v1h-1zM36 111h1v1h-1zM36 114h1v2h-1zM36 118h1v2h-1zM36 125h1v3h-1zM37 72h1v1h-1zM37 77h1v1h-1zM37 82h1v1h-1zM37 90h1v2h-1zM37 96h1v1h-1zM37 105h1v1h-1zM37 114h1v2h-1zM37 119h1v1h-1zM37 127h1v1h-1zM38 74h1v1h-1zM38 98h1v1h-1zM38 118h1v1h-1zM38 125h1v1h-1zM40 74h1v1h-1zM40 126h1v1h-1zM41 70h1v3h-1zM41 75h1v1h-1zM41 82h1v2h-1zM41 88h1v6h-1zM41 96h1v1h-1zM41 103h1v2h-1zM41 111h1v1h-1zM41 113h1v2h-1zM41 118h1v2h-1zM41 124h1v4h-1zM42 70h1v1h-1zM42 72h1v1h-1zM42 74h1v2h-1zM42 77h1v1h-1zM42 80h1v1h-1zM42 82h1v2h-1zM42 90h1v4h-1zM42 96h1v3h-1zM42 100h1v1h-1zM42 104h1v2h-1zM42 107h1v1h-1zM42 113h1v1h-1zM42 116h1v1h-1zM42 118h1v2h-1zM42 122h1v1h-1zM42 124h1v4h-1zM44 77h1v1h-1zM44 82h1v2h-1zM44 90h1v1h-1zM44 92h1v2h-1zM44 96h1v1h-1zM44 98h1v1h-1zM44 100h1v1h-1zM44 103h1v1h-1zM44 105h1v1h-1zM44 107h1v1h-1zM44 113h1v1h-1zM44 118h1v2h-1zM44 125h1v3h-1zM46 72h1v1h-1zM46 77h1v1h-1zM46 82h1v2h-1zM46 96h1v1h-1zM46 105h1v1h-1zM46 126h1v1h-1zM47 70h1v1h-1zM47 72h1v2h-1zM47 77h1v1h-1zM47 83h1v1h-1zM47 91h1v2h-1zM47 96h1v3h-1zM47 100h1v2h-1zM47 105h1v1h-1zM47 107h1v1h-1zM47 111h1v1h-1zM47 114h1v2h-1zM47 118h1v2h-1zM47 122h1v1h-1zM47 124h1v4h-1zM48 70h1v1h-1zM48 74h1v1h-1zM48 77h1v1h-1zM48 82h1v1h-1zM48 90h1v1h-1zM48 93h1v1h-1zM48 98h1v1h-1zM48 115h1v1h-1zM48 118h1v2h-1zM48 125h1v3h-1zM49 70h1v1h-1zM49 72h1v1h-1zM49 74h1v1h-1zM49 76h1v2h-1zM49 82h1v2h-1zM49 88h1v1h-1zM49 91h1v2h-1zM49 96h1v2h-1zM49 100h1v1h-1zM49 103h1v3h-1zM49 107h1v1h-1zM49 115h1v2h-1zM49 118h1v2h-1zM49 122h1v1h-1zM49 124h1v3h-1zM53 98h1v1h-1zM54 74h1v1h-1zM54 105h1v1h-1zM54 126h1v1h-1zM56 70h1v1h-1zM56 82h1v1h-1zM56 89h1v5h-1zM56 96h1v2h-1zM56 100h1v2h-1zM56 104h1v2h-1zM56 107h1v1h-1zM56 111h1v1h-1zM56 113h1v2h-1zM56 116h1v1h-1zM56 118h1v2h-1zM56 122h1v1h-1zM56 124h1v1h-1zM56 127h1v1h-1zM57 72h1v1h-1zM58 70h1v1h-1zM58 73h1v2h-1zM58 82h1v2h-1zM58 89h1v1h-1zM58 91h1v3h-1zM58 96h1v1h-1zM58 98h1v2h-1zM58 105h1v1h-1zM58 107h1v1h-1zM58 113h1v3h-1zM58 118h1v2h-1zM58 122h1v1h-1zM58 124h1v4h-1zM59 71h1v1h-1zM59 80h1v1h-1zM59 82h1v1h-1zM59 90h1v1h-1zM59 92h1v2h-1zM59 96h1v3h-1zM59 100h1v1h-1zM59 104h1v1h-1zM59 107h1v1h-1zM59 113h1v2h-1zM59 119h1v1h-1zM59 122h1v1h-1zM59 124h1v1h-1zM59 126h1v2h-1zM60 71h1v1h-1zM60 80h1v1h-1zM60 82h1v2h-1zM60 91h1v3h-1zM60 96h1v4h-1zM60 101h1v1h-1zM60 103h1v1h-1zM60 107h1v1h-1zM60 113h1v3h-1zM60 118h1v2h-1zM60 122h1v1h-1zM60 125h1v1h-1zM60 127h1v1h-1zM61 70h1v1h-1zM61 72h1v1h-1zM61 75h1v1h-1zM61 77h1v1h-1zM61 79h1v1h-1zM61 83h1v1h-1zM61 89h1v1h-1zM61 92h1v1h-1zM61 96h1v3h-1zM61 100h1v1h-1zM61 105h1v1h-1zM61 107h1v1h-1zM61 111h1v1h-1zM61 115h1v1h-1zM61 118h1v2h-1zM61 124h1v4h-1zM62 70h1v1h-1zM62 72h1v1h-1zM62 74h1v1h-1zM62 77h1v1h-1zM62 79h1v1h-1zM62 82h1v2h-1zM62 90h1v4h-1zM62 97h1v1h-1zM62 105h1v1h-1zM62 107h1v1h-1zM62 113h1v1h-1zM62 118h1v1h-1zM62 124h1v4h-1zM63 74h1v1h-1zM63 113h1v1h-1zM63 127h1v1h-1zM64 71h1v1h-1zM64 82h1v1h-1zM64 88h1v1h-1zM64 91h1v2h-1zM64 100h1v1h-1zM64 103h1v2h-1zM64 107h1v1h-1zM64 110h1v2h-1zM64 113h1v4h-1zM64 118h1v2h-1zM64 122h1v1h-1zM64 124h1v4h-1zM65 71h1v1h-1zM65 82h1v1h-1zM65 85h1v1h-1zM65 88h1v2h-1zM65 91h1v3h-1zM65 96h1v3h-1zM65 101h1v1h-1zM65 104h1v1h-1zM65 107h1v1h-1zM65 114h1v2h-1zM65 118h1v1h-1zM65 122h1v1h-1zM65 124h1v4h-1zM66 70h1v1h-1zM66 72h1v1h-1zM66 74h1v1h-1zM66 77h1v1h-1zM66 83h1v1h-1zM66 92h1v1h-1zM66 119h1v1h-1zM67 70h1v2h-1zM67 73h1v2h-1zM67 77h1v1h-1zM68 70h1v1h-1zM68 74h1v2h-1zM69 70h1v1h-1zM69 72h1v3h-1zM69 115h1v1h-1zM70 71h1v1h-1zM70 73h1v1h-1zM70 75h1v2h-1zM70 80h1v1h-1zM70 82h1v2h-1zM70 86h1v1h-1zM70 90h1v1h-1zM70 92h1v1h-1zM70 94h1v1h-1zM70 96h1v3h-1zM70 100h1v1h-1zM70 104h1v1h-1zM70 107h1v1h-1zM70 111h1v1h-1zM70 115h1v2h-1zM70 118h1v2h-1zM70 124h1v4h-1zM71 73h1v2h-1zM71 77h1v1h-1zM71 79h1v1h-1zM71 92h1v1h-1zM71 98h1v1h-1zM71 115h1v1h-1zM72 73h1v1h-1zM72 76h1v1h-1zM72 80h1v1h-1zM72 82h1v1h-1zM72 85h1v1h-1zM72 90h1v4h-1zM72 96h1v1h-1zM72 100h1v1h-1zM72 104h1v2h-1zM72 107h1v1h-1zM72 113h1v1h-1zM72 116h1v1h-1zM72 118h1v2h-1zM72 122h1v1h-1zM72 124h1v4h-1zM73 75h1v1h-1zM73 77h1v1h-1zM73 83h1v1h-1zM74 76h1v1h-1zM74 79h1v2h-1zM74 89h1v3h-1zM74 93h1v1h-1zM74 96h1v2h-1zM74 99h1v2h-1zM74 104h1v1h-1zM74 107h1v1h-1zM74 113h1v3h-1zM74 118h1v2h-1zM74 122h1v1h-1zM74 124h1v3h-1zM75 82h1v2h-1zM75 98h1v1h-1zM75 105h1v1h-1zM77 81h1v1h-1zM77 86h1v1h-1zM77 89h1v5h-1zM77 97h1v1h-1zM77 104h1v1h-1zM77 107h1v1h-1zM77 113h1v2h-1zM77 119h1v1h-1zM77 122h1v1h-1zM77 124h1v1h-1zM78 82h1v2h-1zM79 82h1v2h-1zM79 92h1v1h-1zM79 96h1v1h-1zM79 127h1v1h-1zM80 81h1v1h-1zM80 83h1v2h-1zM80 105h1v1h-1zM80 115h1v1h-1zM81 82h1v3h-1zM82 84h1v2h-1zM82 87h1v1h-1zM82 90h1v3h-1zM82 96h1v1h-1zM82 98h1v1h-1zM82 100h1v1h-1zM82 104h1v2h-1zM82 115h1v1h-1zM82 118h1v2h-1zM82 125h1v3h-1zM83 84h1v3h-1zM83 88h1v4h-1zM83 93h1v1h-1zM83 96h1v2h-1zM83 101h1v1h-1zM83 104h1v1h-1zM83 107h1v1h-1zM83 113h1v2h-1zM83 116h1v1h-1zM83 118h1v2h-1zM83 122h1v1h-1zM83 125h1v3h-1zM84 85h1v1h-1zM84 87h1v2h-1zM85 86h1v1h-1zM85 88h1v2h-1zM85 91h1v1h-1zM85 93h1v1h-1zM86 87h1v1h-1zM86 89h1v3h-1zM86 93h1v1h-1zM87 89h1v1h-1zM88 89h1v5h-1zM88 96h1v1h-1zM88 98h1v1h-1zM89 91h1v4h-1zM89 96h1v1h-1zM89 98h1v1h-1zM89 100h1v1h-1zM89 105h1v1h-1zM89 122h1v1h-1zM89 126h1v1h-1zM90 94h1v1h-1zM90 100h1v1h-1zM90 105h1v1h-1zM90 111h1v1h-1zM90 114h1v2h-1zM90 118h1v2h-1zM90 125h1v2h-1zM91 94h1v1h-1zM91 99h1v5h-1zM91 105h1v1h-1zM91 107h1v1h-1zM91 111h1v1h-1zM91 113h1v1h-1zM91 115h1v1h-1zM91 118h1v1h-1zM91 125h1v3h-1zM92 94h1v2h-1zM92 99h1v3h-1zM92 103h1v2h-1zM92 107h1v1h-1zM92 111h1v4h-1zM92 116h1v1h-1zM92 119h1v1h-1zM92 122h1v1h-1zM92 124h1v2h-1zM92 127h1v1h-1zM93 94h1v1h-1zM93 97h1v1h-1zM93 99h1v2h-1zM93 104h1v1h-1zM93 107h1v1h-1zM93 111h1v5h-1zM93 119h1v1h-1zM93 125h1v3h-1zM94 96h1v3h-1zM94 100h1v2h-1zM94 105h1v1h-1zM94 107h1v1h-1zM95 96h1v4h-1zM96 101h1v1h-1zM96 103h1v2h-1zM96 111h1v1h-1zM96 113h1v4h-1zM96 118h1v2h-1zM96 122h1v1h-1zM96 124h1v3h-1zM97 99h1v1h-1zM97 101h1v4h-1zM97 111h1v1h-1zM97 113h1v4h-1zM97 118h1v1h-1zM97 122h1v1h-1zM97 125h1v3h-1zM98 102h1v2h-1zM98 106h1v1h-1zM98 111h1v3h-1zM98 116h1v1h-1zM98 118h1v1h-1zM98 122h1v1h-1zM99 100h1v1h-1zM99 103h1v1h-1zM99 115h1v1h-1zM99 125h1v1h-1zM100 102h1v2h-1zM100 114h1v3h-1zM100 118h1v1h-1zM100 122h1v1h-1zM100 125h1v3h-1zM101 102h1v3h-1zM101 107h1v1h-1zM101 115h1v2h-1zM101 118h1v1h-1zM102 103h1v3h-1zM102 107h1v1h-1zM102 114h1v2h-1zM102 125h1v2h-1zM103 107h1v1h-1zM103 118h1v2h-1zM103 127h1v1h-1zM104 106h1v1h-1zM104 110h1v5h-1zM104 118h1v2h-1zM104 122h1v1h-1zM104 125h1v3h-1zM105 106h1v1h-1zM105 108h1v1h-1zM105 110h1v1h-1zM105 112h1v1h-1zM105 120h1v2h-1zM105 123h1v1h-1zM106 107h1v1h-1zM107 109h1v2h-1zM107 112h1v1h-1zM107 119h1v1h-1zM107 122h1v1h-1zM107 124h1v1h-1zM108 111h1v2h-1zM109 111h1v1h-1zM110 111h1v1h-1zM110 114h1v2h-1zM110 119h1v1h-1zM110 124h1v1h-1zM111 116h1v1h-1zM111 118h1v2h-1zM111 122h1v1h-1zM111 125h1v3h-1zM112 114h1v1h-1zM112 116h1v1h-1zM112 118h1v2h-1zM112 124h1v1h-1zM112 126h1v1h-1zM113 122h1v1h-1zM113 124h1v1h-1zM113 127h1v1h-1zM114 117h1v1h-1zM114 121h1v1h-1zM114 123h1v2h-1zM115 117h1v1h-1zM115 121h1v1h-1zM116 120h1v5h-1zM116 127h1v1h-1zM117 119h1v1h-1zM118 120h1v1h-1zM118 123h1v1h-1zM119 120h1v2h-1zM119 123h1v1h-1zM120 121h1v2h-1zM120 124h1v1h-1zM120 126h1v2h-1zM121 124h1v1h-1zM121 126h1v2h-1zM123 124h1v1h-1zM123 126h1v2h-1z" fill="#fcf8e4" stroke="#fcf8e4" stroke-width="0.12"/>
<path d="M0 9h1v1h-1zM0 14h1v3h-1zM0 21h1v1h-1zM0 25h1v2h-1zM0 29h1v1h-1zM0 33h1v1h-1zM0 115h1v1h-1zM1 8h1v1h-1zM1 11h1v1h-1zM1 13h1v1h-1zM1 15h1v2h-1zM1 18h1v4h-1zM1 24h1v2h-1zM1 28h1v2h-1zM1 31h1v1h-1zM1 34h1v1h-1zM1 36h1v1h-1zM1 49h1v1h-1zM1 56h1v1h-1zM1 58h1v1h-1zM1 65h1v1h-1zM1 119h1v1h-1zM1 125h1v3h-1zM2 8h1v2h-1zM2 13h1v4h-1zM2 18h1v3h-1zM2 24h1v3h-1zM2 31h1v1h-1zM2 33h1v1h-1zM3 10h1v1h-1zM3 15h1v1h-1zM3 17h1v5h-1zM3 24h1v1h-1zM3 26h1v1h-1zM3 28h1v2h-1zM3 31h1v1h-1zM3 34h1v1h-1zM3 41h1v2h-1zM3 44h1v1h-1zM3 49h1v1h-1zM3 61h1v1h-1zM3 115h1v1h-1zM3 125h1v3h-1zM4 8h1v1h-1zM4 11h1v1h-1zM4 13h1v1h-1zM4 15h1v1h-1zM4 20h1v7h-1zM4 28h1v4h-1zM4 33h1v3h-1zM4 42h1v1h-1zM4 47h1v2h-1zM4 59h1v1h-1zM4 64h1v1h-1zM4 74h1v1h-1zM4 115h1v1h-1zM4 125h1v2h-1zM5 8h1v1h-1zM5 10h1v1h-1zM5 17h1v1h-1zM5 19h1v2h-1zM5 22h1v1h-1zM5 27h1v6h-1zM5 34h1v4h-1zM5 41h1v2h-1zM5 44h1v1h-1zM5 46h1v4h-1zM5 56h1v1h-1zM5 58h1v4h-1zM5 64h1v2h-1zM5 74h1v1h-1zM5 115h1v1h-1zM5 118h1v1h-1zM5 122h1v1h-1zM5 125h1v3h-1zM6 8h1v1h-1zM6 10h1v1h-1zM6 12h1v1h-1zM6 15h1v1h-1zM6 17h1v1h-1zM6 19h1v1h-1zM6 22h1v2h-1zM6 27h1v1h-1zM6 29h1v2h-1zM6 32h1v1h-1zM6 34h1v2h-1zM6 37h1v1h-1zM6 40h1v1h-1zM6 42h1v1h-1zM6 44h1v1h-1zM6 46h1v1h-1zM6 48h1v2h-1zM6 58h1v5h-1zM6 64h1v2h-1zM6 67h1v1h-1zM6 70h1v1h-1zM6 72h1v1h-1zM6 116h1v1h-1zM6 118h1v1h-1zM6 122h1v1h-1zM6 125h1v3h-1zM7 8h1v1h-1zM7 10h1v3h-1zM7 17h1v1h-1zM7 19h1v7h-1zM7 27h1v3h-1zM7 31h1v4h-1zM7 36h1v1h-1zM7 41h1v1h-1zM7 47h1v1h-1zM7 49h1v1h-1zM7 56h1v1h-1zM7 60h1v1h-1zM7 64h1v1h-1zM7 72h1v1h-1zM7 74h1v1h-1zM7 119h1v1h-1zM7 126h1v1h-1zM8 9h1v3h-1zM8 13h1v6h-1zM8 20h1v2h-1zM8 24h1v1h-1zM8 26h1v1h-1zM8 28h1v1h-1zM8 30h1v2h-1zM8 33h1v1h-1zM8 126h1v2h-1zM9 15h1v1h-1zM9 22h1v2h-1zM9 27h1v1h-1zM9 30h1v1h-1zM9 32h1v1h-1zM9 37h1v2h-1zM9 50h1v1h-1zM9 53h1v1h-1zM9 57h1v1h-1zM9 62h1v2h-1zM9 66h1v1h-1zM9 69h1v1h-1zM9 71h1v1h-1zM9 73h1v1h-1zM9 77h1v1h-1zM9 96h1v1h-1zM9 98h1v1h-1zM9 105h1v1h-1zM9 114h1v1h-1zM9 118h1v2h-1zM9 122h1v1h-1zM9 124h1v1h-1zM10 15h1v1h-1zM10 17h1v2h-1zM10 23h1v4h-1zM10 28h1v1h-1zM10 31h1v1h-1zM10 33h1v2h-1zM10 41h1v1h-1zM10 49h1v1h-1zM10 115h1v1h-1zM10 118h1v1h-1zM10 126h1v2h-1zM11 15h1v1h-1zM11 17h1v1h-1zM11 19h1v5h-1zM11 26h1v3h-1zM11 30h1v4h-1zM11 35h1v1h-1zM11 37h1v1h-1zM11 42h1v1h-1zM11 44h1v1h-1zM11 47h1v3h-1zM11 56h1v1h-1zM11 59h1v1h-1zM11 64h1v1h-1zM11 72h1v1h-1zM11 74h1v1h-1zM11 115h1v1h-1zM11 125h1v3h-1zM12 15h1v4h-1zM12 21h1v1h-1zM12 24h1v3h-1zM12 29h1v1h-1zM12 31h1v1h-1zM12 33h1v1h-1zM13 15h1v1h-1zM13 19h1v1h-1zM13 22h1v2h-1zM13 27h1v1h-1zM13 30h1v1h-1zM13 32h1v1h-1zM13 36h1v4h-1zM13 41h1v1h-1zM13 44h1v1h-1zM13 46h1v1h-1zM13 48h1v1h-1zM13 54h1v1h-1zM13 56h1v1h-1zM13 58h1v1h-1zM13 60h1v6h-1zM13 70h1v2h-1zM14 22h1v1h-1zM14 27h1v1h-1zM14 32h1v1h-1zM14 38h1v3h-1zM14 43h1v1h-1zM14 45h1v2h-1zM14 50h1v1h-1zM14 53h1v1h-1zM14 57h1v1h-1zM14 63h1v1h-1zM14 66h1v1h-1zM14 68h1v2h-1zM14 71h1v1h-1zM14 77h1v1h-1zM14 92h1v1h-1zM14 96h1v1h-1zM14 98h1v1h-1zM14 105h1v1h-1zM14 115h1v1h-1zM14 119h1v1h-1zM14 125h1v3h-1zM15 32h1v2h-1zM15 56h1v1h-1zM16 39h1v2h-1zM16 43h1v1h-1zM16 45h1v2h-1zM16 51h1v1h-1zM16 53h1v2h-1zM16 57h1v1h-1zM16 63h1v1h-1zM16 66h1v4h-1zM16 71h1v1h-1zM16 73h1v1h-1zM16 77h1v1h-1zM16 83h1v1h-1zM16 98h1v1h-1zM16 105h1v1h-1zM16 115h1v1h-1zM16 122h1v1h-1zM16 125h1v2h-1zM17 30h1v3h-1zM17 34h1v1h-1zM17 36h1v1h-1zM17 41h1v2h-1zM17 44h1v1h-1zM17 47h1v1h-1zM17 59h1v1h-1zM17 70h1v1h-1zM17 72h1v1h-1zM17 74h1v1h-1zM18 37h1v2h-1zM18 40h1v1h-1zM18 43h1v1h-1zM18 46h1v1h-1zM18 48h1v1h-1zM18 53h1v3h-1zM18 62h1v2h-1zM18 67h1v2h-1zM18 71h1v1h-1zM18 73h1v1h-1zM18 77h1v1h-1zM18 118h1v1h-1zM18 125h1v3h-1zM19 30h1v1h-1zM19 32h1v4h-1zM19 41h1v2h-1zM19 44h1v1h-1zM19 56h1v1h-1zM19 58h1v3h-1zM19 74h1v1h-1zM20 30h1v1h-1zM20 32h1v1h-1zM20 35h1v2h-1zM20 38h1v1h-1zM20 42h1v1h-1zM20 44h1v1h-1zM20 47h1v3h-1zM20 56h1v1h-1zM20 58h1v1h-1zM20 60h1v2h-1zM20 64h1v3h-1zM20 70h1v1h-1zM20 72h1v1h-1zM20 74h1v1h-1zM21 30h1v1h-1zM21 35h1v2h-1zM21 38h1v1h-1zM21 42h1v1h-1zM21 44h1v1h-1zM21 47h1v1h-1zM21 49h1v1h-1zM21 53h1v2h-1zM21 56h1v1h-1zM21 58h1v5h-1zM21 64h1v2h-1zM21 70h1v1h-1zM21 72h1v1h-1zM21 74h1v1h-1zM22 30h1v2h-1zM22 33h1v1h-1zM22 36h1v1h-1zM22 72h1v1h-1zM23 31h1v1h-1zM23 47h1v1h-1zM23 56h1v1h-1zM23 59h1v2h-1zM24 32h1v1h-1zM24 37h1v4h-1zM24 42h1v3h-1zM24 47h1v2h-1zM24 53h1v1h-1zM24 58h1v1h-1zM24 62h1v1h-1zM24 65h1v1h-1zM24 70h1v4h-1zM24 105h1v1h-1zM25 39h1v2h-1zM25 43h1v1h-1zM25 45h1v2h-1zM25 51h1v4h-1zM25 57h1v1h-1zM25 62h1v2h-1zM25 66h1v4h-1zM25 71h1v1h-1zM25 73h1v1h-1zM25 96h1v1h-1zM25 105h1v1h-1zM25 115h1v1h-1zM25 119h1v1h-1zM25 125h1v2h-1zM26 38h1v3h-1zM26 43h1v1h-1zM26 45h1v2h-1zM26 50h1v2h-1zM26 53h1v3h-1zM26 62h1v2h-1zM26 66h1v3h-1zM26 71h1v1h-1zM26 77h1v1h-1zM26 83h1v1h-1zM26 96h1v1h-1zM26 98h1v1h-1zM26 105h1v1h-1zM26 122h1v1h-1zM26 125h1v3h-1zM27 30h1v5h-1zM27 36h1v1h-1zM27 41h1v1h-1zM27 56h1v1h-1zM27 59h1v1h-1zM28 32h1v1h-1zM28 37h1v4h-1zM28 44h1v1h-1zM28 46h1v1h-1zM28 48h1v1h-1zM28 54h1v1h-1zM28 58h1v1h-1zM28 60h1v3h-1zM28 64h1v3h-1zM28 70h1v1h-1zM28 72h1v1h-1zM29 32h1v1h-1zM29 36h1v3h-1zM29 42h1v1h-1zM29 44h1v1h-1zM29 47h1v1h-1zM29 49h1v1h-1zM29 56h1v1h-1zM29 58h1v5h-1zM29 64h1v2h-1zM29 70h1v1h-1zM29 72h1v1h-1zM29 74h1v1h-1zM30 32h1v1h-1zM30 35h1v4h-1zM30 41h1v2h-1zM30 59h1v2h-1zM30 64h1v2h-1zM30 70h1v1h-1zM31 38h1v3h-1zM31 45h1v1h-1zM31 48h1v1h-1zM31 58h1v1h-1zM31 61h1v2h-1zM31 65h1v2h-1zM31 72h1v2h-1zM33 71h1v1h-1zM33 73h1v1h-1zM33 83h1v1h-1zM33 98h1v1h-1zM33 105h1v1h-1zM33 107h1v1h-1zM33 114h1v2h-1zM33 127h1v1h-1zM34 72h1v1h-1zM34 96h1v1h-1zM34 105h1v1h-1zM34 115h1v1h-1zM34 125h1v1h-1zM36 98h1v1h-1zM41 74h1v1h-1zM41 77h1v1h-1zM41 98h1v1h-1zM41 105h1v1h-1zM41 107h1v1h-1zM41 115h1v1h-1zM41 122h1v1h-1zM42 115h1v1h-1zM44 74h1v1h-1zM44 115h1v1h-1zM47 74h1v1h-1zM49 98h1v1h-1zM49 127h1v1h-1zM56 72h1v1h-1zM56 74h1v1h-1zM56 77h1v1h-1zM56 83h1v1h-1zM56 98h1v1h-1zM56 115h1v1h-1zM56 125h1v2h-1zM58 72h1v1h-1zM58 77h1v1h-1zM59 70h1v1h-1zM59 72h1v1h-1zM59 74h1v1h-1zM59 77h1v1h-1zM59 83h1v1h-1zM59 105h1v1h-1zM59 115h1v1h-1zM59 118h1v1h-1zM59 125h1v1h-1zM60 70h1v1h-1zM60 72h1v1h-1zM60 74h1v1h-1zM60 77h1v1h-1zM60 105h1v1h-1zM60 126h1v1h-1zM61 74h1v1h-1zM64 70h1v1h-1zM64 74h1v1h-1zM64 77h1v1h-1zM64 83h1v1h-1zM64 96h1v1h-1zM64 98h1v1h-1zM64 105h1v1h-1zM65 72h1v1h-1zM65 74h1v1h-1zM65 77h1v1h-1zM65 83h1v1h-1zM65 105h1v1h-1zM70 77h1v1h-1zM70 105h1v1h-1zM71 72h1v1h-1zM72 75h1v1h-1zM72 83h1v1h-1zM72 98h1v1h-1zM72 115h1v1h-1zM73 74h1v1h-1zM74 75h1v1h-1zM74 82h1v2h-1zM74 92h1v1h-1zM74 98h1v1h-1zM74 105h1v1h-1zM74 127h1v1h-1zM77 82h1v1h-1zM77 96h1v1h-1zM77 98h1v1h-1zM77 105h1v1h-1zM77 115h1v1h-1zM77 118h1v1h-1zM77 125h1v3h-1zM80 82h1v1h-1zM83 92h1v1h-1zM83 98h1v1h-1zM83 105h1v1h-1zM83 115h1v1h-1zM89 90h1v1h-1zM90 91h1v1h-1zM90 93h1v1h-1zM90 96h1v3h-1zM91 93h1v1h-1zM91 96h1v3h-1zM92 97h1v1h-1zM92 105h1v1h-1zM92 115h1v1h-1zM92 118h1v1h-1zM92 126h1v1h-1zM93 96h1v1h-1zM93 105h1v1h-1zM96 99h1v2h-1zM96 107h1v1h-1zM96 127h1v1h-1zM97 100h1v1h-1zM97 105h1v1h-1zM97 107h1v1h-1zM98 99h1v1h-1zM98 101h1v1h-1zM98 104h1v1h-1zM98 107h1v1h-1zM98 114h1v2h-1zM98 119h1v1h-1zM98 125h1v3h-1zM100 101h1v1h-1zM100 104h1v2h-1zM100 107h1v1h-1zM101 105h1v1h-1zM103 104h1v2h-1zM104 107h1v1h-1zM104 115h1v1h-1zM105 111h1v1h-1zM105 113h1v2h-1zM105 116h1v1h-1zM105 118h1v2h-1zM105 122h1v1h-1zM105 124h1v4h-1zM107 111h1v1h-1zM107 113h1v2h-1zM107 116h1v1h-1zM107 118h1v1h-1zM107 125h1v3h-1zM111 112h1v3h-1zM112 113h1v1h-1zM112 115h1v1h-1zM113 116h1v1h-1zM113 118h1v2h-1zM113 125h1v2h-1zM114 116h1v1h-1zM114 119h1v1h-1zM114 122h1v1h-1zM114 125h1v3h-1zM115 124h1v1h-1zM115 126h1v2h-1zM116 119h1v1h-1zM116 125h1v2h-1zM118 121h1v1h-1zM118 124h1v1h-1zM118 127h1v1h-1zM119 124h1v1h-1zM119 127h1v1h-1zM121 125h1v1h-1zM123 125h1v1h-1z" fill="#f8f0c6" stroke="#f8f0c6" stroke-width="0.12"/>
<path d="M1 9h1v1h-1zM1 14h1v1h-1zM1 26h1v1h-1zM1 33h1v1h-1zM3 9h1v1h-1zM3 13h1v2h-1zM3 16h1v1h-1zM3 25h1v1h-1zM3 33h1v1h-1zM4 9h1v1h-1zM4 14h1v1h-1zM4 16h1v1h-1zM4 18h1v1h-1zM5 11h1v1h-1zM5 13h1v2h-1zM5 16h1v1h-1zM5 18h1v1h-1zM5 21h1v1h-1zM5 24h1v3h-1zM5 33h1v1h-1zM6 11h1v1h-1zM6 18h1v1h-1zM6 20h1v2h-1zM6 24h1v2h-1zM6 28h1v1h-1zM6 31h1v1h-1zM6 33h1v1h-1zM6 36h1v1h-1zM6 41h1v1h-1zM6 47h1v1h-1zM6 56h1v1h-1zM6 74h1v1h-1zM6 115h1v1h-1zM7 9h1v1h-1zM7 13h1v2h-1zM7 16h1v1h-1zM7 18h1v1h-1zM7 26h1v1h-1zM9 17h1v1h-1zM9 19h1v2h-1zM9 29h1v1h-1zM9 34h1v3h-1zM9 41h1v2h-1zM9 44h1v1h-1zM9 47h1v3h-1zM9 56h1v1h-1zM9 58h1v4h-1zM9 64h1v2h-1zM9 70h1v1h-1zM9 72h1v1h-1zM9 74h1v1h-1zM9 115h1v1h-1zM9 125h1v3h-1zM10 16h1v1h-1zM11 16h1v1h-1zM11 18h1v1h-1zM11 24h1v2h-1zM13 17h1v1h-1zM13 20h1v2h-1zM13 28h1v2h-1zM13 31h1v1h-1zM13 33h1v3h-1zM13 42h1v1h-1zM13 47h1v1h-1zM13 49h1v1h-1zM13 59h1v1h-1zM13 72h1v1h-1zM13 74h1v1h-1zM14 15h1v1h-1zM14 17h1v1h-1zM14 23h1v1h-1zM14 29h1v2h-1zM14 35h1v3h-1zM14 42h1v1h-1zM14 44h1v1h-1zM14 47h1v3h-1zM14 58h1v5h-1zM14 64h1v2h-1zM14 70h1v1h-1zM14 72h1v1h-1zM16 30h1v1h-1zM16 32h1v1h-1zM16 36h1v3h-1zM16 42h1v1h-1zM16 44h1v1h-1zM16 47h1v3h-1zM16 56h1v1h-1zM16 58h1v1h-1zM16 60h1v3h-1zM16 64h1v2h-1zM16 70h1v1h-1zM16 72h1v1h-1zM16 74h1v1h-1zM17 33h1v1h-1zM18 30h1v1h-1zM18 32h1v1h-1zM18 35h1v2h-1zM18 41h1v2h-1zM18 44h1v1h-1zM18 47h1v1h-1zM18 56h1v1h-1zM18 58h1v4h-1zM18 64h1v2h-1zM18 70h1v1h-1zM18 72h1v1h-1zM18 74h1v1h-1zM19 31h1v1h-1zM20 31h1v1h-1zM20 33h1v2h-1zM20 41h1v1h-1zM20 59h1v1h-1zM21 31h1v1h-1zM21 33h1v2h-1zM21 41h1v1h-1zM23 33h1v1h-1zM24 30h1v1h-1zM24 35h1v2h-1zM24 41h1v1h-1zM24 49h1v1h-1zM24 56h1v1h-1zM24 59h1v3h-1zM24 64h1v1h-1zM24 74h1v1h-1zM25 32h1v1h-1zM25 37h1v2h-1zM25 42h1v1h-1zM25 44h1v1h-1zM25 47h1v3h-1zM25 56h1v1h-1zM25 58h1v1h-1zM25 60h1v2h-1zM25 64h1v2h-1zM25 70h1v1h-1zM25 72h1v1h-1zM26 30h1v1h-1zM26 32h1v1h-1zM26 37h1v1h-1zM26 42h1v1h-1zM26 44h1v1h-1zM26 47h1v3h-1zM26 58h1v4h-1zM26 64h1v2h-1zM26 70h1v1h-1zM26 72h1v1h-1zM28 30h1v1h-1zM28 34h1v3h-1zM28 41h1v2h-1zM28 47h1v1h-1zM28 49h1v1h-1zM28 56h1v1h-1zM28 59h1v1h-1zM28 74h1v1h-1zM29 30h1v1h-1zM29 34h1v2h-1zM29 41h1v1h-1zM30 31h1v1h-1zM30 34h1v1h-1zM31 32h1v1h-1zM31 37h1v1h-1zM31 42h1v1h-1zM31 44h1v1h-1zM31 47h1v1h-1zM31 49h1v1h-1zM31 56h1v1h-1zM31 59h1v2h-1zM31 64h1v1h-1zM31 70h1v1h-1zM31 74h1v1h-1zM33 70h1v1h-1zM33 72h1v1h-1zM64 72h1v1h-1zM65 70h1v1h-1zM70 72h1v1h-1zM70 74h1v1h-1zM72 77h1v1h-1zM77 83h1v1h-1zM82 83h1v1h-1zM90 92h1v1h-1zM91 92h1v1h-1zM92 93h1v1h-1zM92 96h1v1h-1zM92 98h1v1h-1zM93 98h1v1h-1zM96 105h1v1h-1zM98 100h1v1h-1zM98 105h1v1h-1zM105 115h1v1h-1zM107 115h1v1h-1zM111 115h1v1h-1zM113 114h1v1h-1zM114 118h1v1h-1zM115 122h1v1h-1zM115 125h1v1h-1zM116 118h1v1h-1zM118 122h1v1h-1zM118 125h1v2h-1zM119 122h1v1h-1zM119 125h1v2h-1zM122 124h1v1h-1zM122 126h1v2h-1zM124 127h1v1h-1z" fill="#f1e5a4" stroke="#f1e5a4" stroke-width="0.12"/>
<path d="M0 2h1v1h-1zM0 4h1v2h-1zM0 7h1v1h-1zM1 2h1v1h-1zM1 4h1v1h-1zM1 6h1v1h-1zM2 5h1v1h-1zM5 7h1v1h-1zM5 9h1v1h-1zM6 7h1v1h-1zM6 9h1v1h-1zM6 13h1v2h-1zM6 16h1v1h-1zM6 26h1v1h-1zM9 18h1v1h-1zM9 21h1v1h-1zM9 24h1v3h-1zM9 28h1v1h-1zM9 31h1v1h-1zM9 33h1v1h-1zM13 18h1v1h-1zM13 24h1v3h-1zM14 19h1v3h-1zM14 24h1v1h-1zM14 26h1v1h-1zM14 28h1v1h-1zM14 31h1v1h-1zM14 33h1v2h-1zM14 41h1v1h-1zM14 56h1v1h-1zM14 74h1v1h-1zM16 31h1v1h-1zM16 33h1v3h-1zM16 41h1v1h-1zM16 59h1v1h-1zM18 31h1v1h-1zM18 33h1v2h-1zM18 49h1v1h-1zM24 31h1v1h-1zM24 33h1v2h-1zM25 30h1v2h-1zM25 34h1v3h-1zM25 41h1v1h-1zM25 59h1v1h-1zM25 74h1v1h-1zM26 34h1v3h-1zM26 41h1v1h-1zM26 56h1v1h-1zM26 74h1v1h-1zM28 31h1v1h-1zM28 33h1v1h-1zM29 31h1v1h-1zM29 33h1v1h-1zM30 33h1v1h-1zM31 34h1v3h-1zM31 41h1v1h-1zM32 33h1v37h-1zM33 69h1v1h-1zM33 74h1v1h-1zM34 69h1v1h-1zM35 69h1v1h-1zM36 69h1v1h-1zM37 69h1v1h-1zM38 69h1v1h-1zM39 69h1v1h-1zM40 69h1v1h-1zM41 69h1v1h-1zM42 69h1v1h-1zM43 69h1v1h-1zM44 69h1v1h-1zM45 69h1v1h-1zM46 69h1v1h-1zM47 69h1v1h-1zM48 69h1v1h-1zM49 69h1v1h-1zM50 69h1v1h-1zM51 69h1v1h-1zM52 69h1v1h-1zM53 69h1v1h-1zM54 69h1v1h-1zM55 69h1v1h-1zM56 69h1v1h-1zM57 69h1v1h-1zM58 69h1v1h-1zM59 69h1v1h-1zM60 69h1v1h-1zM61 69h1v1h-1zM62 69h1v1h-1zM63 69h1v1h-1zM64 69h1v1h-1zM65 69h1v1h-1zM66 69h1v1h-1zM67 69h1v1h-1zM68 69h1v1h-1zM72 74h1v1h-1zM74 77h1v1h-1zM104 105h1v1h-1zM105 107h1v1h-1zM113 115h1v1h-1zM114 115h1v1h-1zM115 116h1v1h-1zM115 118h1v2h-1zM118 119h1v1h-1zM122 125h1v1h-1zM124 125h1v2h-1zM125 127h1v1h-1z" fill="#eadb7c" stroke="#eadb7c" stroke-width="0.12"/>
<path d="M0 1h1v1h-1zM0 3h1v1h-1zM0 6h1v1h-1zM1 3h1v1h-1zM1 5h1v1h-1zM1 7h1v1h-1zM2 3h1v2h-1zM2 6h1v2h-1zM3 4h1v4h-1zM4 5h1v3h-1zM5 6h1v1h-1zM9 16h1v1h-1zM13 16h1v1h-1zM14 25h1v1h-1zM15 16h1v2h-1zM15 21h1v6h-1zM16 17h1v1h-1zM16 22h1v1h-1zM16 25h1v2h-1zM16 29h1v1h-1zM17 23h1v1h-1zM18 27h1v2h-1zM19 21h1v2h-1zM19 25h1v1h-1zM21 28h1v1h-1zM23 28h1v2h-1zM24 29h1v1h-1zM25 33h1v1h-1zM26 28h1v1h-1zM26 31h1v1h-1zM26 33h1v1h-1zM27 29h1v1h-1zM28 29h1v1h-1zM31 33h1v1h-1zM96 97h1v2h-1zM108 109h1v2h-1zM109 110h1v1h-1zM121 122h1v1h-1zM125 126h1v1h-1zM126 127h1v1h-1z" fill="#ebb04e" stroke="#ebb04e" stroke-width="0.12"/>
<path d="M9 12h1v1h-1zM9 14h1v1h-1zM10 11h1v3h-1zM11 12h1v1h-1zM12 13h1v1h-1zM13 14h1v1h-1zM14 18h1v1h-1zM15 18h1v3h-1zM15 27h1v3h-1zM16 19h1v3h-1zM16 23h1v2h-1zM16 27h1v2h-1zM17 18h1v5h-1zM17 24h1v6h-1zM18 19h1v8h-1zM18 29h1v1h-1zM19 20h1v1h-1zM19 23h1v2h-1zM19 26h1v4h-1zM20 22h1v1h-1zM20 25h1v2h-1zM20 28h1v2h-1zM21 22h1v1h-1zM21 29h1v1h-1zM22 27h1v3h-1zM23 24h1v1h-1zM23 27h1v1h-1zM24 27h1v2h-1zM25 28h1v2h-1zM26 27h1v1h-1zM26 29h1v1h-1zM27 28h1v1h-1zM33 39h1v1h-1zM33 43h1v1h-1zM33 50h1v1h-1zM33 55h1v1h-1zM33 57h1v1h-1zM34 45h1v1h-1zM34 50h1v2h-1zM34 55h1v1h-1zM34 57h1v1h-1zM34 68h1v1h-1zM35 39h1v1h-1zM35 50h1v2h-1zM35 55h1v1h-1zM35 68h1v1h-1zM36 39h1v1h-1zM36 50h1v3h-1zM36 57h1v1h-1zM36 68h1v1h-1zM37 39h1v1h-1zM37 43h1v1h-1zM37 45h1v1h-1zM37 50h1v1h-1zM37 55h1v1h-1zM38 43h1v1h-1zM38 45h1v1h-1zM38 55h1v1h-1zM39 41h1v1h-1zM39 44h1v3h-1zM39 48h1v3h-1zM39 53h1v1h-1zM39 55h1v3h-1zM39 59h1v1h-1zM39 61h1v1h-1zM39 63h1v4h-1zM40 43h1v1h-1zM40 57h1v1h-1zM40 67h1v1h-1zM41 43h1v1h-1zM41 45h1v1h-1zM41 50h1v1h-1zM41 52h1v1h-1zM41 55h1v1h-1zM41 57h1v1h-1zM42 50h1v1h-1zM42 52h1v1h-1zM42 57h1v1h-1zM43 44h1v1h-1zM43 51h1v4h-1zM43 56h1v6h-1zM43 65h1v2h-1zM44 45h1v1h-1zM44 50h1v1h-1zM44 55h1v1h-1zM45 46h1v2h-1zM45 49h1v2h-1zM45 54h1v2h-1zM45 63h1v4h-1zM45 68h1v1h-1zM46 57h1v1h-1zM46 67h1v1h-1zM47 50h1v1h-1zM47 52h1v1h-1zM47 55h1v1h-1zM47 58h1v2h-1zM48 52h1v1h-1zM48 57h1v3h-1zM48 67h1v2h-1zM49 50h1v1h-1zM49 68h1v1h-1zM50 51h1v3h-1zM50 56h1v1h-1zM50 58h1v1h-1zM50 62h1v2h-1zM50 67h1v1h-1zM51 52h1v1h-1zM51 54h1v1h-1zM51 57h1v1h-1zM51 59h1v2h-1zM51 64h1v1h-1zM51 66h1v2h-1zM52 53h1v4h-1zM52 60h1v1h-1zM52 62h1v4h-1zM52 68h1v1h-1zM54 67h1v1h-1zM55 57h1v1h-1zM55 60h1v3h-1zM55 64h1v2h-1zM55 68h1v1h-1zM57 58h1v2h-1zM57 61h1v1h-1zM57 63h1v1h-1zM57 65h1v2h-1zM58 68h1v1h-1zM60 67h1v1h-1zM61 68h1v1h-1zM63 67h1v2h-1zM65 67h1v1h-1zM66 68h1v1h-1zM75 76h1v1h-1zM76 79h1v1h-1zM77 78h1v3h-1zM97 98h1v1h-1zM121 123h1v1h-1zM122 123h1v1h-1z" fill="#e97d3a" stroke="#e97d3a" stroke-width="0.12"/>
<path d="M9 10h1v2h-1zM9 13h1v1h-1zM10 14h1v1h-1zM11 13h1v2h-1zM12 14h1v1h-1zM14 16h1v1h-1zM16 18h1v1h-1zM20 21h1v1h-1zM20 23h1v2h-1zM20 27h1v1h-1zM21 23h1v5h-1zM22 23h1v4h-1zM23 25h1v2h-1zM24 25h1v2h-1zM25 26h1v2h-1zM33 37h1v2h-1zM33 40h1v2h-1zM33 45h1v3h-1zM33 49h1v1h-1zM33 51h1v4h-1zM33 58h1v7h-1zM33 66h1v3h-1zM34 35h1v7h-1zM34 43h1v2h-1zM34 46h1v4h-1zM34 52h1v3h-1zM34 58h1v10h-1zM35 36h1v3h-1zM35 40h1v1h-1zM35 43h1v7h-1zM35 52h1v3h-1zM35 56h1v12h-1zM36 37h1v2h-1zM36 40h1v10h-1zM36 53h1v3h-1zM36 58h1v6h-1zM36 65h1v3h-1zM37 38h1v1h-1zM37 40h1v3h-1zM37 44h1v1h-1zM37 46h1v4h-1zM37 51h1v4h-1zM37 56h1v13h-1zM38 39h1v4h-1zM38 44h1v1h-1zM38 46h1v9h-1zM38 56h1v13h-1zM39 40h1v1h-1zM39 42h1v2h-1zM39 47h1v1h-1zM39 51h1v2h-1zM39 54h1v1h-1zM39 58h1v1h-1zM39 60h1v1h-1zM39 62h1v1h-1zM39 67h1v2h-1zM40 41h1v2h-1zM40 44h1v13h-1zM40 58h1v9h-1zM40 68h1v1h-1zM41 42h1v1h-1zM41 44h1v1h-1zM41 46h1v2h-1zM41 51h1v1h-1zM41 53h1v2h-1zM41 58h1v6h-1zM41 65h1v4h-1zM42 43h1v7h-1zM42 51h1v1h-1zM42 53h1v4h-1zM42 58h1v11h-1zM43 45h1v6h-1zM43 55h1v1h-1zM43 62h1v3h-1zM43 67h1v2h-1zM44 46h1v3h-1zM44 51h1v4h-1zM44 56h1v3h-1zM44 60h1v4h-1zM44 65h1v4h-1zM45 48h1v1h-1zM45 51h1v3h-1zM45 56h1v7h-1zM45 67h1v1h-1zM46 47h1v10h-1zM46 58h1v9h-1zM46 68h1v1h-1zM47 48h1v2h-1zM47 51h1v1h-1zM47 53h1v2h-1zM47 56h1v2h-1zM47 60h1v4h-1zM47 65h1v4h-1zM48 49h1v3h-1zM48 53h1v4h-1zM48 60h1v7h-1zM49 51h1v17h-1zM50 54h1v2h-1zM50 57h1v1h-1zM50 59h1v3h-1zM50 64h1v3h-1zM50 68h1v1h-1zM51 53h1v1h-1zM51 55h1v2h-1zM51 58h1v1h-1zM51 61h1v3h-1zM51 65h1v1h-1zM51 68h1v1h-1zM52 57h1v3h-1zM52 61h1v1h-1zM52 66h1v2h-1zM53 54h1v15h-1zM54 55h1v12h-1zM54 68h1v1h-1zM55 56h1v1h-1zM55 58h1v2h-1zM55 63h1v1h-1zM55 66h1v2h-1zM56 57h1v2h-1zM56 61h1v8h-1zM57 60h1v1h-1zM57 62h1v1h-1zM57 64h1v1h-1zM57 67h1v2h-1zM58 59h1v5h-1zM58 65h1v3h-1zM59 60h1v9h-1zM60 61h1v4h-1zM60 66h1v1h-1zM60 68h1v1h-1zM61 62h1v6h-1zM62 63h1v6h-1zM63 64h1v3h-1zM64 65h1v4h-1zM65 66h1v1h-1zM65 68h1v1h-1zM66 67h1v1h-1zM67 68h1v1h-1zM75 77h1v4h-1zM76 77h1v2h-1zM76 80h1v1h-1zM78 79h1v2h-1zM79 80h1v1h-1z" fill="#e45c2b" stroke="#e45c2b" stroke-width="0.12"/>
<path d="M33 34h1v3h-1zM33 42h1v1h-1zM33 44h1v1h-1zM33 48h1v1h-1zM33 56h1v1h-1zM33 65h1v1h-1zM34 42h1v1h-1zM34 56h1v1h-1zM35 41h1v2h-1zM36 56h1v1h-1zM36 64h1v1h-1zM41 48h1v2h-1zM41 56h1v1h-1zM41 64h1v1h-1zM44 49h1v1h-1zM44 59h1v1h-1zM44 64h1v1h-1zM47 64h1v1h-1zM56 59h1v2h-1zM58 64h1v1h-1zM60 65h1v1h-1z" fill="#d63f22" stroke="#d63f22" stroke-width="0.12"/>
</g>
<rect x="70.8" y="599.5" width="255.2" height="331.2" fill="#e1eef8"/>
<path d="M71.8 724.6h1.00v6.0h-1.00zM71.8 731.6h1.00v1.0h-1.00zM71.8 733.6h1.00v17.0h-1.00zM71.8 752.6h1.00v1.0h-1.00zM71.8 755.6h1.00v10.0h-1.00zM71.8 766.6h1.00v2.0h-1.00zM71.8 769.6h1.00v1.0h-1.00zM71.8 771.6h1.00v6.0h-1.00zM71.8 778.6h1.00v4.0h-1.00zM71.8 783.6h1.00v1.0h-1.00zM71.8 786.6h1.00v5.0h-1.00zM72.8 646.5h1.00v1.0h-1.00zM72.8 649.5h1.00v9.0h-1.00zM72.8 659.5h1.00v3.0h-1.00zM72.8 663.5h1.00v6.0h-1.00zM73.8 855.7h1.00v1.0h-1.00zM73.8 857.7h1.00v5.0h-1.00zM73.8 870.7h1.00v3.0h-1.00zM73.8 874.7h1.00v2.0h-1.00zM73.8 881.7h1.00v7.0h-1.00zM73.8 891.7h1.00v1.0h-1.00zM73.8 893.7h1.00v1.0h-1.00zM73.8 895.7h1.00v1.0h-1.00zM73.8 897.7h1.00v6.0h-1.00zM73.8 904.7h1.00v11.0h-1.00zM73.8 916.7h1.00v8.0h-1.00zM76.8 752.6h1.00v1.0h-1.00zM76.8 755.6h1.00v11.0h-1.00zM76.8 767.6h1.00v4.0h-1.00zM76.8 772.6h1.00v1.0h-1.00zM76.8 774.6h1.00v2.0h-1.00zM76.8 777.6h1.00v13.0h-1.00zM76.8 791.6h1.00v1.0h-1.00zM78.8 914.7h1.00v5.0h-1.00zM79.8 647.5h1.00v3.0h-1.00zM79.8 652.5h1.00v8.0h-1.00zM79.8 661.5h1.00v8.0h-1.00zM79.8 670.5h1.00v7.0h-1.00zM79.8 678.5h1.00v2.0h-1.00zM79.8 681.5h1.00v8.0h-1.00zM79.8 691.6h1.00v11.0h-1.00zM79.8 704.6h1.00v1.0h-1.00zM79.8 707.6h1.00v9.0h-1.00zM79.8 717.6h1.00v3.0h-1.00zM79.8 721.6h1.00v12.0h-1.00zM79.8 734.6h1.00v13.0h-1.00zM79.8 748.6h1.00v2.0h-1.00zM79.8 751.6h1.00v2.0h-1.00zM79.8 756.6h1.00v2.0h-1.00zM79.8 760.6h1.00v7.0h-1.00zM79.8 769.6h1.00v5.0h-1.00zM79.8 775.6h1.00v4.0h-1.00zM79.8 781.6h1.00v5.0h-1.00zM79.8 787.6h1.00v2.0h-1.00zM81.8 788.6h1.00v2.0h-1.00zM81.8 792.6h1.00v1.0h-1.00zM81.8 794.6h1.00v2.0h-1.00zM81.8 797.6h1.00v9.0h-1.00zM81.8 807.6h1.00v11.0h-1.00zM81.8 819.6h1.00v2.0h-1.00zM81.8 829.6h1.00v25.0h-1.00zM81.8 855.7h1.00v2.0h-1.00zM81.8 882.7h1.00v4.0h-1.00zM81.8 887.7h1.00v8.0h-1.00zM81.8 896.7h1.00v6.0h-1.00zM81.8 904.7h1.00v7.0h-1.00zM81.8 912.7h1.00v9.0h-1.00zM84.8 620.5h1.00v1.0h-1.00zM84.8 622.5h1.00v1.0h-1.00zM84.8 625.5h1.00v11.0h-1.00zM84.8 637.5h1.00v4.0h-1.00zM84.8 642.5h1.00v3.0h-1.00zM85.8 711.6h1.00v2.0h-1.00zM85.8 714.6h1.00v3.0h-1.00zM85.8 718.6h1.00v8.0h-1.00zM85.8 727.6h1.00v5.0h-1.00zM85.8 733.6h1.00v1.0h-1.00zM85.8 735.6h1.00v11.0h-1.00zM85.8 747.6h1.00v6.0h-1.00zM85.8 755.6h1.00v2.0h-1.00zM85.8 758.6h1.00v1.0h-1.00zM85.8 760.6h1.00v1.0h-1.00zM85.8 762.6h1.00v9.0h-1.00zM85.8 776.6h1.00v8.0h-1.00zM85.8 785.6h1.00v4.0h-1.00zM85.8 790.6h1.00v7.0h-1.00zM85.8 808.6h1.00v4.0h-1.00zM85.8 813.6h1.00v5.0h-1.00zM85.8 819.6h1.00v2.0h-1.00zM85.8 838.6h1.00v1.0h-1.00zM86.8 903.7h1.00v1.0h-1.00zM86.8 905.7h1.00v2.0h-1.00zM86.8 908.7h1.00v1.0h-1.00zM86.8 910.7h1.00v2.0h-1.00zM86.8 913.7h1.00v7.0h-1.00zM86.8 929.7h1.00v1.0h-1.00zM88.8 664.5h1.00v1.0h-1.00zM88.8 666.5h1.00v1.0h-1.00zM88.8 669.5h1.00v3.0h-1.00zM88.8 673.5h1.00v5.0h-1.00zM88.8 679.5h1.00v1.0h-1.00zM88.8 681.5h1.00v3.0h-1.00zM88.8 685.6h1.00v3.0h-1.00zM91.8 701.6h1.00v4.0h-1.00zM91.8 707.6h1.00v1.0h-1.00zM91.8 709.6h1.00v10.0h-1.00zM91.8 722.6h1.00v1.0h-1.00zM91.8 724.6h1.00v2.0h-1.00zM91.8 727.6h1.00v5.0h-1.00zM91.8 733.6h1.00v5.0h-1.00zM91.8 739.6h1.00v14.0h-1.00zM91.8 754.6h1.00v9.0h-1.00zM91.8 765.6h1.00v6.0h-1.00zM91.8 775.6h1.00v13.0h-1.00zM91.8 789.6h1.00v16.0h-1.00zM91.8 806.6h1.00v1.0h-1.00zM91.8 808.6h1.00v4.0h-1.00zM91.8 813.6h1.00v4.0h-1.00zM91.8 818.6h1.00v9.0h-1.00zM92.8 876.7h1.00v8.0h-1.00zM92.8 885.7h1.00v5.0h-1.00zM92.8 891.7h1.00v4.0h-1.00zM92.8 896.7h1.00v4.0h-1.00zM92.8 901.7h1.00v7.0h-1.00zM92.8 909.7h1.00v3.0h-1.00zM92.8 913.7h1.00v3.0h-1.00zM92.8 917.7h1.00v2.0h-1.00zM92.8 921.7h1.00v4.0h-1.00zM92.8 926.7h1.00v4.0h-1.00zM96.8 599.5h1.00v10.0h-1.00zM96.8 610.5h1.00v21.0h-1.00zM96.8 632.5h1.00v6.0h-1.00zM98.8 804.6h1.00v6.0h-1.00zM98.8 812.6h1.00v10.0h-1.00zM98.8 823.6h1.00v1.0h-1.00zM98.8 825.6h1.00v6.0h-1.00zM98.8 832.6h1.00v20.0h-1.00zM98.8 853.7h1.00v1.0h-1.00zM98.8 855.7h1.00v15.0h-1.00zM98.8 871.7h1.00v1.0h-1.00zM98.8 873.7h1.00v3.0h-1.00zM98.8 877.7h1.00v4.0h-1.00zM98.8 882.7h1.00v2.0h-1.00zM98.8 885.7h1.00v6.0h-1.00zM98.8 892.7h1.00v21.0h-1.00zM98.8 914.7h1.00v9.0h-1.00zM98.8 924.7h1.00v6.0h-1.00zM100.8 750.6h1.00v1.0h-1.00zM100.8 752.6h1.00v1.0h-1.00zM100.8 754.6h1.00v2.0h-1.00zM100.8 757.6h1.00v3.0h-1.00zM100.8 761.6h1.00v13.0h-1.00zM100.8 775.6h1.00v2.0h-1.00zM100.8 778.6h1.00v3.0h-1.00zM100.8 782.6h1.00v13.0h-1.00zM100.8 796.6h1.00v10.0h-1.00zM100.8 807.6h1.00v3.0h-1.00zM100.8 812.6h1.00v2.0h-1.00zM100.8 815.6h1.00v3.0h-1.00zM100.8 829.6h1.00v4.0h-1.00zM100.8 834.6h1.00v3.0h-1.00zM100.8 849.7h1.00v2.0h-1.00zM100.8 857.7h1.00v8.0h-1.00zM100.8 866.7h1.00v3.0h-1.00zM101.8 921.7h1.00v2.0h-1.00zM101.8 925.7h1.00v3.0h-1.00zM102.8 889.7h1.00v9.0h-1.00zM102.8 899.7h1.00v2.0h-1.00zM102.8 902.7h1.00v5.0h-1.00zM102.8 911.7h1.00v10.0h-1.00zM102.8 927.7h1.00v1.0h-1.00zM103.8 847.6h1.00v2.0h-1.00zM103.8 850.7h1.00v10.0h-1.00zM103.8 861.7h1.00v4.0h-1.00zM103.8 866.7h1.00v6.0h-1.00zM103.8 873.7h1.00v5.0h-1.00zM103.8 881.7h1.00v12.0h-1.00zM103.8 894.7h1.00v1.0h-1.00zM103.8 896.7h1.00v8.0h-1.00zM103.8 905.7h1.00v2.0h-1.00zM103.8 916.7h1.00v14.0h-1.00zM108.8 739.6h1.00v6.0h-1.00zM108.8 746.6h1.00v10.0h-1.00zM108.8 757.6h1.00v10.0h-1.00zM108.8 768.6h1.00v17.0h-1.00zM108.8 786.6h1.00v2.0h-1.00zM108.8 789.6h1.00v2.0h-1.00zM108.8 792.6h1.00v3.0h-1.00zM108.8 796.6h1.00v34.0h-1.00zM108.8 832.6h1.00v4.0h-1.00zM108.8 837.6h1.00v1.0h-1.00zM108.8 839.6h1.00v6.0h-1.00zM108.8 847.6h1.00v6.0h-1.00zM113.8 602.5h1.00v4.0h-1.00zM113.8 607.5h1.00v1.0h-1.00zM113.8 610.5h1.00v1.0h-1.00zM113.8 615.5h1.00v18.0h-1.00zM113.8 634.5h1.00v7.0h-1.00zM113.8 642.5h1.00v6.0h-1.00zM113.8 649.5h1.00v4.0h-1.00zM113.8 654.5h1.00v6.0h-1.00zM113.8 661.5h1.00v5.0h-1.00zM113.8 667.5h1.00v26.0h-1.00zM113.8 694.6h1.00v10.0h-1.00zM114.8 673.5h1.00v9.0h-1.00zM114.8 683.6h1.00v7.0h-1.00zM114.8 691.6h1.00v20.0h-1.00zM115.8 847.6h1.00v6.0h-1.00zM115.8 861.7h1.00v8.0h-1.00zM115.8 870.7h1.00v1.0h-1.00zM115.8 872.7h1.00v7.0h-1.00zM115.8 880.7h1.00v4.0h-1.00zM115.8 885.7h1.00v1.0h-1.00zM115.8 891.7h1.00v4.0h-1.00zM115.8 897.7h1.00v7.0h-1.00zM115.8 905.7h1.00v1.0h-1.00zM115.8 907.7h1.00v5.0h-1.00zM115.8 913.7h1.00v3.0h-1.00zM115.8 918.7h1.00v1.0h-1.00zM115.8 921.7h1.00v3.0h-1.00zM117.8 829.6h1.00v1.0h-1.00zM117.8 833.6h1.00v7.0h-1.00zM117.8 847.6h1.00v2.0h-1.00zM117.8 851.7h1.00v3.0h-1.00zM117.8 857.7h1.00v1.0h-1.00zM117.8 859.7h1.00v7.0h-1.00zM117.8 867.7h1.00v2.0h-1.00zM117.8 874.7h1.00v11.0h-1.00zM117.8 890.7h1.00v7.0h-1.00zM117.8 898.7h1.00v3.0h-1.00zM117.8 903.7h1.00v1.0h-1.00zM117.8 907.7h1.00v3.0h-1.00zM118.8 647.5h1.00v1.0h-1.00zM118.8 649.5h1.00v1.0h-1.00zM118.8 651.5h1.00v31.0h-1.00zM118.8 683.6h1.00v1.0h-1.00zM118.8 686.6h1.00v8.0h-1.00zM118.8 695.6h1.00v4.0h-1.00zM122.8 860.7h1.00v10.0h-1.00zM122.8 875.7h1.00v2.0h-1.00zM122.8 878.7h1.00v4.0h-1.00zM122.8 884.7h1.00v2.0h-1.00zM122.8 891.7h1.00v7.0h-1.00zM122.8 900.7h1.00v2.0h-1.00zM122.8 904.7h1.00v7.0h-1.00zM122.8 917.7h1.00v1.0h-1.00zM122.8 919.7h1.00v2.0h-1.00zM128.8 690.6h1.00v1.0h-1.00zM128.8 692.6h1.00v18.0h-1.00zM128.8 716.6h1.00v1.0h-1.00zM128.8 718.6h1.00v10.0h-1.00zM128.8 729.6h1.00v4.0h-1.00zM128.8 734.6h1.00v11.0h-1.00zM128.8 746.6h1.00v3.0h-1.00zM128.8 750.6h1.00v5.0h-1.00zM128.8 761.6h1.00v9.0h-1.00zM128.8 771.6h1.00v4.0h-1.00zM128.8 776.6h1.00v11.0h-1.00zM133.8 633.5h1.00v7.0h-1.00zM133.8 641.5h1.00v3.0h-1.00zM133.8 646.5h1.00v3.0h-1.00zM133.8 650.5h1.00v6.0h-1.00zM133.8 657.5h1.00v13.0h-1.00zM133.8 671.5h1.00v3.0h-1.00zM133.8 675.5h1.00v1.0h-1.00zM133.8 678.5h1.00v1.0h-1.00zM133.8 686.6h1.00v1.0h-1.00zM139.9 696.6h1.00v1.0h-1.00zM139.9 702.6h1.00v1.0h-1.00zM139.9 736.6h1.00v1.0h-1.00zM139.9 772.6h1.00v1.0h-1.00zM139.9 786.6h1.00v1.0h-1.00zM139.9 816.6h1.00v1.0h-1.00zM139.9 820.6h1.00v1.0h-1.00zM140.9 816.6h1.00v1.0h-1.00zM140.9 819.6h1.00v1.0h-1.00zM140.9 822.6h1.00v1.0h-1.00zM140.9 852.7h1.00v1.0h-1.00zM140.9 863.7h1.00v2.0h-1.00zM140.9 866.7h1.00v1.0h-1.00zM140.9 868.7h1.00v1.0h-1.00zM140.9 876.7h1.00v1.0h-1.00zM140.9 878.7h1.00v1.0h-1.00zM140.9 885.7h1.00v1.0h-1.00zM140.9 892.7h1.00v6.0h-1.00zM140.9 921.7h1.00v7.0h-1.00zM140.9 929.7h1.00v1.0h-1.00zM144.9 869.7h1.00v1.0h-1.00zM144.9 873.7h1.00v1.0h-1.00zM144.9 892.7h1.00v3.0h-1.00zM144.9 907.7h1.00v3.0h-1.00zM146.9 819.6h1.00v2.0h-1.00zM146.9 826.6h1.00v1.0h-1.00zM146.9 829.6h1.00v1.0h-1.00zM146.9 843.6h1.00v1.0h-1.00zM146.9 848.7h1.00v1.0h-1.00zM147.9 892.7h1.00v4.0h-1.00zM147.9 897.7h1.00v1.0h-1.00zM147.9 922.7h1.00v2.0h-1.00zM147.9 925.7h1.00v1.0h-1.00zM150.9 861.7h1.00v1.0h-1.00zM150.9 863.7h1.00v1.0h-1.00zM150.9 876.7h1.00v1.0h-1.00zM150.9 884.7h1.00v1.0h-1.00zM150.9 897.7h1.00v1.0h-1.00zM154.9 764.6h1.00v1.0h-1.00zM154.9 769.6h1.00v1.0h-1.00zM154.9 789.6h1.00v1.0h-1.00zM154.9 797.6h1.00v1.0h-1.00zM158.9 858.7h1.00v1.0h-1.00zM158.9 864.7h1.00v1.0h-1.00zM158.9 866.7h1.00v1.0h-1.00zM158.9 868.7h1.00v1.0h-1.00zM158.9 892.7h1.00v1.0h-1.00zM158.9 894.7h1.00v4.0h-1.00zM161.9 715.6h1.00v1.0h-1.00zM161.9 727.6h1.00v1.0h-1.00zM161.9 740.6h1.00v1.0h-1.00zM161.9 753.6h1.00v1.0h-1.00zM161.9 766.6h1.00v1.0h-1.00zM161.9 777.6h1.00v1.0h-1.00zM161.9 779.6h1.00v1.0h-1.00zM161.9 790.6h1.00v1.0h-1.00zM161.9 803.6h1.00v1.0h-1.00zM161.9 822.6h1.00v1.0h-1.00zM161.9 833.6h1.00v1.0h-1.00zM161.9 837.6h1.00v1.0h-1.00zM161.9 849.7h1.00v1.0h-1.00zM161.9 854.7h1.00v1.0h-1.00zM161.9 882.7h1.00v1.0h-1.00zM163.9 672.5h1.00v3.0h-1.00zM163.9 691.6h1.00v1.0h-1.00zM163.9 700.6h1.00v1.0h-1.00zM163.9 702.6h1.00v1.0h-1.00zM163.9 704.6h1.00v1.0h-1.00zM163.9 724.6h1.00v1.0h-1.00zM163.9 732.6h1.00v1.0h-1.00zM164.9 927.7h1.00v1.0h-1.00zM165.9 809.6h1.00v1.0h-1.00zM165.9 812.6h1.00v1.0h-1.00zM165.9 824.6h1.00v1.0h-1.00zM165.9 834.6h1.00v1.0h-1.00zM165.9 843.6h1.00v1.0h-1.00zM165.9 845.6h1.00v1.0h-1.00zM165.9 852.7h1.00v1.0h-1.00zM165.9 855.7h1.00v1.0h-1.00zM165.9 857.7h1.00v1.0h-1.00zM165.9 864.7h1.00v1.0h-1.00zM167.9 716.6h1.00v1.0h-1.00zM167.9 730.6h1.00v1.0h-1.00zM167.9 751.6h1.00v1.0h-1.00zM167.9 786.6h1.00v1.0h-1.00zM167.9 801.6h1.00v1.0h-1.00zM167.9 817.6h1.00v1.0h-1.00zM167.9 820.6h1.00v1.0h-1.00zM167.9 830.6h1.00v1.0h-1.00zM167.9 844.6h1.00v1.0h-1.00zM170.9 803.6h1.00v1.0h-1.00zM170.9 815.6h1.00v1.0h-1.00zM170.9 837.6h1.00v1.0h-1.00zM170.9 841.6h1.00v1.0h-1.00zM170.9 848.7h1.00v1.0h-1.00zM170.9 869.7h1.00v2.0h-1.00zM170.9 874.7h1.00v1.0h-1.00zM170.9 888.7h1.00v1.0h-1.00zM170.9 892.7h1.00v6.0h-1.00zM170.9 923.7h1.00v1.0h-1.00zM171.9 862.7h1.00v1.0h-1.00zM171.9 892.7h1.00v6.0h-1.00zM173.9 846.6h1.00v1.0h-1.00zM176.9 630.5h1.00v2.0h-1.00zM176.9 633.5h1.00v7.0h-1.00zM176.9 641.5h1.00v1.0h-1.00zM176.9 643.5h1.00v10.0h-1.00zM176.9 655.5h1.00v1.0h-1.00zM176.9 657.5h1.00v4.0h-1.00zM176.9 662.5h1.00v5.0h-1.00zM176.9 668.5h1.00v9.0h-1.00zM176.9 688.6h1.00v1.0h-1.00zM176.9 690.6h1.00v1.0h-1.00zM176.9 709.6h1.00v1.0h-1.00zM176.9 712.6h1.00v1.0h-1.00zM176.9 718.6h1.00v1.0h-1.00zM176.9 729.6h1.00v1.0h-1.00zM176.9 745.6h1.00v1.0h-1.00zM176.9 747.6h1.00v1.0h-1.00zM176.9 751.6h1.00v1.0h-1.00zM176.9 762.6h1.00v1.0h-1.00zM176.9 765.6h1.00v1.0h-1.00zM176.9 767.6h1.00v1.0h-1.00zM176.9 771.6h1.00v1.0h-1.00zM178.9 752.6h1.00v1.0h-1.00zM178.9 756.6h1.00v1.0h-1.00zM178.9 764.6h1.00v1.0h-1.00zM178.9 770.6h1.00v1.0h-1.00zM183.9 633.5h1.00v11.0h-1.00zM183.9 645.5h1.00v1.0h-1.00zM183.9 647.5h1.00v7.0h-1.00zM183.9 656.5h1.00v21.0h-1.00zM183.9 686.6h1.00v1.0h-1.00zM183.9 705.6h1.00v1.0h-1.00zM183.9 725.6h1.00v1.0h-1.00zM183.9 728.6h1.00v1.0h-1.00zM184.9 804.6h1.00v1.0h-1.00zM184.9 820.6h1.00v1.0h-1.00zM184.9 823.6h1.00v1.0h-1.00zM184.9 853.7h1.00v1.0h-1.00zM184.9 858.7h1.00v1.0h-1.00zM184.9 870.7h1.00v2.0h-1.00zM184.9 892.7h1.00v6.0h-1.00zM184.9 904.7h1.00v1.0h-1.00zM185.9 765.6h1.00v2.0h-1.00zM185.9 805.6h1.00v1.0h-1.00zM185.9 823.6h1.00v1.0h-1.00zM185.9 839.6h1.00v1.0h-1.00zM185.9 843.6h1.00v1.0h-1.00zM185.9 846.6h1.00v1.0h-1.00zM185.9 876.7h1.00v1.0h-1.00zM185.9 879.7h1.00v1.0h-1.00zM185.9 889.7h1.00v1.0h-1.00zM185.9 892.7h1.00v6.0h-1.00zM186.9 784.6h1.00v1.0h-1.00zM186.9 816.6h1.00v1.0h-1.00zM186.9 829.6h1.00v1.0h-1.00zM186.9 835.6h1.00v1.0h-1.00zM186.9 842.6h1.00v1.0h-1.00zM186.9 857.7h1.00v1.0h-1.00zM186.9 862.7h1.00v1.0h-1.00zM186.9 882.7h1.00v1.0h-1.00zM186.9 889.7h1.00v1.0h-1.00zM186.9 891.7h1.00v4.0h-1.00zM186.9 896.7h1.00v2.0h-1.00zM186.9 921.7h1.00v4.0h-1.00zM186.9 926.7h1.00v4.0h-1.00zM189.9 778.6h1.00v1.0h-1.00zM189.9 787.6h1.00v1.0h-1.00zM189.9 789.6h1.00v1.0h-1.00zM189.9 796.6h1.00v1.0h-1.00zM189.9 800.6h1.00v1.0h-1.00zM189.9 819.6h1.00v1.0h-1.00zM189.9 843.6h1.00v1.0h-1.00zM190.9 917.7h1.00v2.0h-1.00zM190.9 920.7h1.00v10.0h-1.00zM191.9 752.6h1.00v1.0h-1.00zM191.9 754.6h1.00v1.0h-1.00zM191.9 766.6h1.00v1.0h-1.00zM191.9 778.6h1.00v1.0h-1.00zM191.9 785.6h1.00v1.0h-1.00zM191.9 794.6h1.00v1.0h-1.00zM191.9 802.6h1.00v1.0h-1.00zM191.9 805.6h1.00v1.0h-1.00zM191.9 825.6h1.00v1.0h-1.00zM191.9 852.7h1.00v1.0h-1.00zM191.9 879.7h1.00v2.0h-1.00zM191.9 886.7h1.00v1.0h-1.00zM193.9 668.5h1.00v1.0h-1.00zM193.9 670.5h1.00v4.0h-1.00zM193.9 675.5h1.00v2.0h-1.00zM193.9 685.6h1.00v1.0h-1.00zM193.9 687.6h1.00v1.0h-1.00zM193.9 694.6h1.00v2.0h-1.00zM201.9 728.6h1.00v1.0h-1.00zM201.9 746.6h1.00v1.0h-1.00zM201.9 751.6h1.00v1.0h-1.00zM201.9 763.6h1.00v1.0h-1.00zM201.9 766.6h1.00v1.0h-1.00zM201.9 772.6h1.00v1.0h-1.00zM201.9 780.6h1.00v1.0h-1.00zM201.9 794.6h1.00v1.0h-1.00zM201.9 798.6h1.00v1.0h-1.00zM201.9 835.6h1.00v1.0h-1.00zM201.9 848.7h1.00v1.0h-1.00zM201.9 892.7h1.00v2.0h-1.00zM201.9 896.7h1.00v2.0h-1.00zM201.9 899.7h1.00v1.0h-1.00zM201.9 905.7h1.00v1.0h-1.00zM207.9 692.6h1.00v2.0h-1.00zM207.9 697.6h1.00v1.0h-1.00zM207.9 710.6h1.00v1.0h-1.00zM207.9 720.6h1.00v1.0h-1.00zM207.9 726.6h1.00v1.0h-1.00zM210.9 892.7h1.00v6.0h-1.00zM210.9 904.7h1.00v1.0h-1.00zM210.9 910.7h1.00v1.0h-1.00zM210.9 921.7h1.00v3.0h-1.00zM210.9 926.7h1.00v2.0h-1.00zM210.9 929.7h1.00v1.0h-1.00zM213.9 755.6h1.00v8.0h-1.00zM213.9 764.6h1.00v4.0h-1.00zM213.9 770.6h1.00v5.0h-1.00zM213.9 776.6h1.00v12.0h-1.00zM213.9 789.6h1.00v11.0h-1.00zM213.9 801.6h1.00v5.0h-1.00zM213.9 807.6h1.00v19.0h-1.00zM213.9 828.6h1.00v5.0h-1.00zM213.9 834.6h1.00v8.0h-1.00zM213.9 843.6h1.00v3.0h-1.00zM213.9 848.7h1.00v3.0h-1.00zM213.9 852.7h1.00v2.0h-1.00zM213.9 855.7h1.00v9.0h-1.00zM213.9 865.7h1.00v4.0h-1.00zM213.9 870.7h1.00v8.0h-1.00zM213.9 879.7h1.00v1.0h-1.00zM213.9 881.7h1.00v4.0h-1.00zM213.9 886.7h1.00v4.0h-1.00zM213.9 892.7h1.00v3.0h-1.00zM213.9 897.7h1.00v1.0h-1.00zM213.9 906.7h1.00v1.0h-1.00zM213.9 915.7h1.00v1.0h-1.00zM213.9 922.7h1.00v1.0h-1.00zM213.9 927.7h1.00v1.0h-1.00zM217.9 776.6h1.00v17.0h-1.00zM217.9 812.6h1.00v1.0h-1.00zM217.9 814.6h1.00v10.0h-1.00zM217.9 879.7h1.00v5.0h-1.00zM217.9 888.7h1.00v2.0h-1.00zM217.9 892.7h1.00v4.0h-1.00zM217.9 897.7h1.00v1.0h-1.00zM217.9 900.7h1.00v1.0h-1.00zM217.9 903.7h1.00v15.0h-1.00zM217.9 919.7h1.00v2.0h-1.00zM217.9 926.7h1.00v3.0h-1.00zM219.9 893.7h1.00v1.0h-1.00zM219.9 895.7h1.00v1.0h-1.00zM219.9 897.7h1.00v2.0h-1.00zM219.9 900.7h1.00v3.0h-1.00zM219.9 910.7h1.00v1.0h-1.00zM219.9 919.7h1.00v1.0h-1.00zM219.9 921.7h1.00v6.0h-1.00zM219.9 928.7h1.00v2.0h-1.00zM220.9 920.7h1.00v1.0h-1.00zM222.9 726.6h1.00v2.0h-1.00zM222.9 729.6h1.00v2.0h-1.00zM222.9 732.6h1.00v10.0h-1.00zM222.9 743.6h1.00v2.0h-1.00zM222.9 746.6h1.00v4.0h-1.00zM222.9 751.6h1.00v8.0h-1.00zM222.9 761.6h1.00v24.0h-1.00zM222.9 786.6h1.00v3.0h-1.00zM222.9 794.6h1.00v9.0h-1.00zM222.9 804.6h1.00v2.0h-1.00zM222.9 807.6h1.00v2.0h-1.00zM222.9 810.6h1.00v2.0h-1.00zM222.9 814.6h1.00v2.0h-1.00zM222.9 817.6h1.00v6.0h-1.00zM222.9 826.6h1.00v2.0h-1.00zM222.9 830.6h1.00v2.0h-1.00zM222.9 847.6h1.00v2.0h-1.00zM222.9 850.7h1.00v6.0h-1.00zM222.9 866.7h1.00v11.0h-1.00zM222.9 878.7h1.00v3.0h-1.00zM222.9 883.7h1.00v3.0h-1.00zM222.9 887.7h1.00v3.0h-1.00zM222.9 892.7h1.00v1.0h-1.00zM225.9 894.7h1.00v5.0h-1.00zM225.9 900.7h1.00v3.0h-1.00zM225.9 904.7h1.00v4.0h-1.00zM225.9 909.7h1.00v8.0h-1.00zM225.9 918.7h1.00v2.0h-1.00zM225.9 921.7h1.00v1.0h-1.00zM225.9 928.7h1.00v2.0h-1.00zM226.9 864.7h1.00v4.0h-1.00zM226.9 869.7h1.00v3.0h-1.00zM226.9 873.7h1.00v9.0h-1.00zM226.9 883.7h1.00v5.0h-1.00zM226.9 892.7h1.00v9.0h-1.00zM226.9 903.7h1.00v1.0h-1.00zM226.9 905.7h1.00v2.0h-1.00zM226.9 912.7h1.00v1.0h-1.00zM226.9 915.7h1.00v1.0h-1.00zM226.9 918.7h1.00v3.0h-1.00zM226.9 924.7h1.00v2.0h-1.00zM226.9 927.7h1.00v1.0h-1.00zM227.9 726.6h1.00v3.0h-1.00zM227.9 730.6h1.00v10.0h-1.00zM227.9 741.6h1.00v4.0h-1.00zM227.9 746.6h1.00v7.0h-1.00zM227.9 754.6h1.00v3.0h-1.00zM227.9 759.6h1.00v4.0h-1.00zM227.9 764.6h1.00v4.0h-1.00zM227.9 769.6h1.00v14.0h-1.00zM227.9 784.6h1.00v2.0h-1.00zM227.9 788.6h1.00v7.0h-1.00zM227.9 796.6h1.00v9.0h-1.00zM227.9 806.6h1.00v7.0h-1.00zM227.9 814.6h1.00v3.0h-1.00zM227.9 818.6h1.00v1.0h-1.00zM227.9 821.6h1.00v4.0h-1.00zM227.9 826.6h1.00v10.0h-1.00zM227.9 837.6h1.00v1.0h-1.00zM227.9 847.6h1.00v11.0h-1.00zM227.9 859.7h1.00v3.0h-1.00zM227.9 865.7h1.00v2.0h-1.00zM227.9 868.7h1.00v14.0h-1.00zM227.9 883.7h1.00v3.0h-1.00zM227.9 887.7h1.00v1.0h-1.00zM231.9 886.7h1.00v4.0h-1.00zM231.9 892.7h1.00v4.0h-1.00zM231.9 897.7h1.00v1.0h-1.00zM231.9 900.7h1.00v1.0h-1.00zM231.9 903.7h1.00v6.0h-1.00zM231.9 910.7h1.00v4.0h-1.00zM231.9 916.7h1.00v4.0h-1.00zM233.9 810.6h1.00v4.0h-1.00zM233.9 815.6h1.00v1.0h-1.00zM233.9 817.6h1.00v18.0h-1.00zM233.9 836.6h1.00v8.0h-1.00zM233.9 846.6h1.00v10.0h-1.00zM233.9 857.7h1.00v19.0h-1.00zM233.9 878.7h1.00v1.0h-1.00zM233.9 880.7h1.00v1.0h-1.00zM234.9 892.7h1.00v1.0h-1.00zM234.9 894.7h1.00v4.0h-1.00zM234.9 903.7h1.00v21.0h-1.00zM234.9 925.7h1.00v2.0h-1.00zM234.9 928.7h1.00v2.0h-1.00zM236.9 621.5h1.00v1.0h-1.00zM236.9 623.5h1.00v3.0h-1.00zM236.9 627.5h1.00v5.0h-1.00zM236.9 633.5h1.00v1.0h-1.00zM236.9 635.5h1.00v16.0h-1.00zM236.9 652.5h1.00v2.0h-1.00zM236.9 655.5h1.00v6.0h-1.00zM236.9 664.5h1.00v5.0h-1.00zM236.9 670.5h1.00v1.0h-1.00zM236.9 672.5h1.00v1.0h-1.00zM236.9 674.5h1.00v15.0h-1.00zM236.9 693.6h1.00v3.0h-1.00zM236.9 698.6h1.00v3.0h-1.00zM236.9 702.6h1.00v6.0h-1.00zM236.9 709.6h1.00v6.0h-1.00zM236.9 716.6h1.00v10.0h-1.00zM236.9 727.6h1.00v2.0h-1.00zM236.9 730.6h1.00v10.0h-1.00zM236.9 741.6h1.00v13.0h-1.00zM236.9 755.6h1.00v26.0h-1.00zM236.9 782.6h1.00v3.0h-1.00zM236.9 786.6h1.00v4.0h-1.00zM236.9 791.6h1.00v1.0h-1.00zM236.9 794.6h1.00v2.0h-1.00zM236.9 797.6h1.00v7.0h-1.00zM236.9 806.6h1.00v4.0h-1.00zM236.9 811.6h1.00v7.0h-1.00zM238.9 670.5h1.00v1.0h-1.00zM238.9 672.5h1.00v11.0h-1.00zM238.9 684.6h1.00v4.0h-1.00zM238.9 693.6h1.00v15.0h-1.00zM238.9 709.6h1.00v6.0h-1.00zM238.9 716.6h1.00v5.0h-1.00zM238.9 727.6h1.00v6.0h-1.00zM238.9 734.6h1.00v1.0h-1.00zM238.9 736.6h1.00v3.0h-1.00zM238.9 740.6h1.00v11.0h-1.00zM238.9 752.6h1.00v6.0h-1.00zM238.9 759.6h1.00v6.0h-1.00zM238.9 766.6h1.00v2.0h-1.00zM238.9 769.6h1.00v2.0h-1.00zM238.9 789.6h1.00v1.0h-1.00zM238.9 791.6h1.00v3.0h-1.00zM238.9 795.6h1.00v4.0h-1.00zM238.9 800.6h1.00v3.0h-1.00zM238.9 804.6h1.00v3.0h-1.00zM239.9 693.6h1.00v2.0h-1.00zM239.9 696.6h1.00v6.0h-1.00zM239.9 703.6h1.00v4.0h-1.00zM239.9 708.6h1.00v1.0h-1.00zM239.9 710.6h1.00v1.0h-1.00zM239.9 712.6h1.00v8.0h-1.00zM239.9 721.6h1.00v8.0h-1.00zM239.9 730.6h1.00v4.0h-1.00zM239.9 735.6h1.00v14.0h-1.00zM239.9 750.6h1.00v5.0h-1.00zM239.9 757.6h1.00v2.0h-1.00zM239.9 760.6h1.00v11.0h-1.00zM242.9 681.5h1.00v12.0h-1.00zM242.9 695.6h1.00v5.0h-1.00zM242.9 701.6h1.00v1.0h-1.00zM242.9 703.6h1.00v1.0h-1.00zM242.9 705.6h1.00v10.0h-1.00zM242.9 716.6h1.00v5.0h-1.00zM242.9 722.6h1.00v4.0h-1.00zM242.9 727.6h1.00v1.0h-1.00zM242.9 729.6h1.00v4.0h-1.00zM242.9 734.6h1.00v3.0h-1.00zM242.9 738.6h1.00v9.0h-1.00zM242.9 748.6h1.00v11.0h-1.00zM242.9 761.6h1.00v6.0h-1.00zM242.9 768.6h1.00v1.0h-1.00zM242.9 773.6h1.00v15.0h-1.00zM242.9 789.6h1.00v1.0h-1.00zM242.9 791.6h1.00v6.0h-1.00zM242.9 798.6h1.00v9.0h-1.00zM242.9 808.6h1.00v2.0h-1.00zM242.9 811.6h1.00v3.0h-1.00zM242.9 815.6h1.00v4.0h-1.00zM242.9 820.6h1.00v1.0h-1.00zM242.9 823.6h1.00v14.0h-1.00zM242.9 838.6h1.00v8.0h-1.00zM242.9 848.7h1.00v1.0h-1.00zM242.9 850.7h1.00v8.0h-1.00zM242.9 859.7h1.00v2.0h-1.00zM242.9 862.7h1.00v9.0h-1.00zM242.9 872.7h1.00v10.0h-1.00zM243.9 622.5h1.00v2.0h-1.00zM243.9 627.5h1.00v11.0h-1.00zM243.9 639.5h1.00v7.0h-1.00zM243.9 648.5h1.00v11.0h-1.00zM243.9 660.5h1.00v1.0h-1.00zM243.9 662.5h1.00v3.0h-1.00zM243.9 666.5h1.00v12.0h-1.00zM243.9 680.5h1.00v7.0h-1.00zM243.9 692.6h1.00v2.0h-1.00zM243.9 696.6h1.00v5.0h-1.00zM243.9 702.6h1.00v4.0h-1.00zM243.9 707.6h1.00v3.0h-1.00zM244.9 789.6h1.00v6.0h-1.00zM244.9 796.6h1.00v13.0h-1.00zM244.9 810.6h1.00v3.0h-1.00zM244.9 814.6h1.00v3.0h-1.00zM244.9 818.6h1.00v15.0h-1.00zM244.9 834.6h1.00v10.0h-1.00zM244.9 845.6h1.00v1.0h-1.00zM244.9 847.6h1.00v2.0h-1.00zM245.9 686.6h1.00v2.0h-1.00zM245.9 693.6h1.00v2.0h-1.00zM245.9 696.6h1.00v11.0h-1.00zM245.9 708.6h1.00v5.0h-1.00zM245.9 715.6h1.00v14.0h-1.00zM246.9 690.6h1.00v1.0h-1.00zM246.9 693.6h1.00v12.0h-1.00zM246.9 709.6h1.00v9.0h-1.00zM246.9 720.6h1.00v1.0h-1.00zM246.9 722.6h1.00v3.0h-1.00zM246.9 726.6h1.00v6.0h-1.00zM246.9 733.6h1.00v9.0h-1.00zM246.9 743.6h1.00v1.0h-1.00zM246.9 745.6h1.00v9.0h-1.00zM246.9 755.6h1.00v1.0h-1.00zM246.9 758.6h1.00v2.0h-1.00zM246.9 761.6h1.00v1.0h-1.00zM246.9 763.6h1.00v1.0h-1.00zM246.9 765.6h1.00v16.0h-1.00zM246.9 782.6h1.00v1.0h-1.00zM246.9 784.6h1.00v1.0h-1.00zM246.9 786.6h1.00v4.0h-1.00zM246.9 791.6h1.00v1.0h-1.00zM251.9 907.7h1.00v2.0h-1.00zM251.9 910.7h1.00v9.0h-1.00zM251.9 921.7h1.00v4.0h-1.00zM251.9 926.7h1.00v3.0h-1.00zM252.9 847.6h1.00v1.0h-1.00zM252.9 856.7h1.00v11.0h-1.00zM252.9 869.7h1.00v5.0h-1.00zM252.9 880.7h1.00v7.0h-1.00zM252.9 888.7h1.00v1.0h-1.00zM252.9 890.7h1.00v25.0h-1.00zM252.9 916.7h1.00v5.0h-1.00zM253.9 647.5h1.00v14.0h-1.00zM253.9 662.5h1.00v4.0h-1.00zM253.9 667.5h1.00v1.0h-1.00zM253.9 669.5h1.00v16.0h-1.00zM253.9 686.6h1.00v9.0h-1.00zM253.9 696.6h1.00v3.0h-1.00zM253.9 702.6h1.00v2.0h-1.00zM253.9 705.6h1.00v14.0h-1.00zM253.9 720.6h1.00v7.0h-1.00zM253.9 728.6h1.00v4.0h-1.00zM253.9 733.6h1.00v9.0h-1.00zM253.9 743.6h1.00v4.0h-1.00zM253.9 749.6h1.00v2.0h-1.00zM253.9 752.6h1.00v14.0h-1.00zM253.9 767.6h1.00v3.0h-1.00zM253.9 771.6h1.00v15.0h-1.00zM253.9 787.6h1.00v4.0h-1.00zM253.9 792.6h1.00v1.0h-1.00zM253.9 794.6h1.00v16.0h-1.00zM253.9 811.6h1.00v2.0h-1.00zM253.9 815.6h1.00v13.0h-1.00zM253.9 830.6h1.00v6.0h-1.00zM253.9 837.6h1.00v1.0h-1.00zM253.9 840.6h1.00v6.0h-1.00zM253.9 847.6h1.00v5.0h-1.00zM253.9 853.7h1.00v5.0h-1.00zM253.9 859.7h1.00v2.0h-1.00zM256.9 628.5h1.00v1.0h-1.00zM256.9 632.5h1.00v6.0h-1.00zM256.9 639.5h1.00v2.0h-1.00zM256.9 642.5h1.00v3.0h-1.00zM256.9 646.5h1.00v1.0h-1.00zM256.9 648.5h1.00v7.0h-1.00zM256.9 656.5h1.00v9.0h-1.00zM256.9 666.5h1.00v2.0h-1.00zM256.9 669.5h1.00v5.0h-1.00zM256.9 676.5h1.00v2.0h-1.00zM256.9 679.5h1.00v2.0h-1.00zM256.9 682.6h1.00v8.0h-1.00zM256.9 691.6h1.00v23.0h-1.00zM256.9 715.6h1.00v8.0h-1.00zM256.9 724.6h1.00v2.0h-1.00zM256.9 727.6h1.00v2.0h-1.00zM256.9 730.6h1.00v5.0h-1.00zM256.9 736.6h1.00v20.0h-1.00zM256.9 757.6h1.00v6.0h-1.00zM256.9 764.6h1.00v3.0h-1.00zM256.9 768.6h1.00v5.0h-1.00zM256.9 775.6h1.00v1.0h-1.00zM256.9 777.6h1.00v4.0h-1.00zM256.9 782.6h1.00v4.0h-1.00zM256.9 788.6h1.00v2.0h-1.00zM258.9 895.7h1.00v6.0h-1.00zM258.9 908.7h1.00v7.0h-1.00zM258.9 920.7h1.00v2.0h-1.00zM259.9 691.6h1.00v6.0h-1.00zM259.9 698.6h1.00v8.0h-1.00zM259.9 707.6h1.00v6.0h-1.00zM259.9 714.6h1.00v4.0h-1.00zM259.9 719.6h1.00v1.0h-1.00zM259.9 722.6h1.00v2.0h-1.00zM259.9 727.6h1.00v13.0h-1.00zM259.9 741.6h1.00v5.0h-1.00zM259.9 747.6h1.00v1.0h-1.00zM259.9 749.6h1.00v1.0h-1.00zM259.9 751.6h1.00v7.0h-1.00zM259.9 759.6h1.00v10.0h-1.00zM259.9 770.6h1.00v4.0h-1.00zM259.9 775.6h1.00v6.0h-1.00zM260.9 895.7h1.00v17.0h-1.00zM260.9 913.7h1.00v2.0h-1.00zM260.9 916.7h1.00v5.0h-1.00zM261.9 648.5h1.00v2.0h-1.00zM261.9 651.5h1.00v8.0h-1.00zM261.9 660.5h1.00v2.0h-1.00zM261.9 663.5h1.00v4.0h-1.00zM261.9 669.5h1.00v4.0h-1.00zM261.9 675.5h1.00v2.0h-1.00zM261.9 678.5h1.00v1.0h-1.00zM261.9 681.5h1.00v4.0h-1.00zM261.9 686.6h1.00v13.0h-1.00zM261.9 702.6h1.00v13.0h-1.00zM261.9 718.6h1.00v3.0h-1.00zM261.9 722.6h1.00v1.0h-1.00zM261.9 724.6h1.00v3.0h-1.00zM261.9 728.6h1.00v7.0h-1.00zM261.9 736.6h1.00v1.0h-1.00zM261.9 738.6h1.00v10.0h-1.00zM263.0 726.6h1.00v5.0h-1.00zM263.0 732.6h1.00v9.0h-1.00zM263.0 742.6h1.00v5.0h-1.00zM263.0 749.6h1.00v4.0h-1.00zM263.0 755.6h1.00v26.0h-1.00zM263.0 782.6h1.00v6.0h-1.00zM263.0 789.6h1.00v12.0h-1.00zM263.0 810.6h1.00v3.0h-1.00zM263.0 814.6h1.00v8.0h-1.00zM263.0 823.6h1.00v4.0h-1.00zM263.0 828.6h1.00v1.0h-1.00zM263.0 833.6h1.00v2.0h-1.00zM263.0 838.6h1.00v28.0h-1.00zM263.0 867.7h1.00v1.0h-1.00zM263.0 869.7h1.00v1.0h-1.00zM263.0 880.7h1.00v16.0h-1.00zM263.0 897.7h1.00v4.0h-1.00zM263.0 902.7h1.00v16.0h-1.00zM265.0 880.7h1.00v4.0h-1.00zM265.0 885.7h1.00v3.0h-1.00zM265.0 889.7h1.00v2.0h-1.00zM265.0 892.7h1.00v7.0h-1.00zM265.0 900.7h1.00v2.0h-1.00zM265.0 903.7h1.00v16.0h-1.00zM265.0 920.7h1.00v1.0h-1.00zM265.0 926.7h1.00v1.0h-1.00zM265.0 928.7h1.00v1.0h-1.00zM267.0 638.5h1.00v6.0h-1.00zM267.0 645.5h1.00v23.0h-1.00zM267.0 669.5h1.00v3.0h-1.00zM267.0 673.5h1.00v15.0h-1.00zM267.0 689.6h1.00v4.0h-1.00zM267.0 695.6h1.00v11.0h-1.00zM267.0 707.6h1.00v8.0h-1.00zM267.0 716.6h1.00v4.0h-1.00zM267.0 721.6h1.00v6.0h-1.00zM267.0 729.6h1.00v9.0h-1.00zM267.0 739.6h1.00v9.0h-1.00zM267.0 749.6h1.00v2.0h-1.00zM267.0 753.6h1.00v1.0h-1.00zM268.0 786.6h1.00v4.0h-1.00zM268.0 791.6h1.00v8.0h-1.00zM268.0 800.6h1.00v5.0h-1.00zM268.0 806.6h1.00v4.0h-1.00zM268.0 811.6h1.00v5.0h-1.00zM268.0 817.6h1.00v1.0h-1.00zM268.0 819.6h1.00v5.0h-1.00zM268.0 826.6h1.00v1.0h-1.00zM268.0 830.6h1.00v1.0h-1.00zM268.0 833.6h1.00v23.0h-1.00zM268.0 857.7h1.00v2.0h-1.00zM268.0 860.7h1.00v5.0h-1.00zM268.0 870.7h1.00v6.0h-1.00zM268.0 878.7h1.00v11.0h-1.00zM268.0 890.7h1.00v5.0h-1.00zM268.0 897.7h1.00v4.0h-1.00zM268.0 910.7h1.00v5.0h-1.00zM268.0 916.7h1.00v1.0h-1.00zM270.0 653.5h1.00v23.0h-1.00zM270.0 677.5h1.00v5.0h-1.00zM270.0 683.6h1.00v16.0h-1.00zM270.0 703.6h1.00v7.0h-1.00zM270.0 711.6h1.00v7.0h-1.00zM270.0 720.6h1.00v2.0h-1.00zM270.0 723.6h1.00v3.0h-1.00zM270.0 727.6h1.00v3.0h-1.00zM270.0 731.6h1.00v4.0h-1.00zM270.0 736.6h1.00v3.0h-1.00zM270.0 740.6h1.00v1.0h-1.00zM270.0 742.6h1.00v1.0h-1.00zM270.0 744.6h1.00v3.0h-1.00zM270.0 748.6h1.00v3.0h-1.00zM270.0 752.6h1.00v13.0h-1.00zM270.0 766.6h1.00v6.0h-1.00zM270.0 774.6h1.00v2.0h-1.00zM270.0 777.6h1.00v3.0h-1.00zM270.0 781.6h1.00v3.0h-1.00zM270.0 785.6h1.00v1.0h-1.00zM270.0 787.6h1.00v9.0h-1.00zM270.0 797.6h1.00v10.0h-1.00zM270.0 808.6h1.00v7.0h-1.00zM270.0 818.6h1.00v1.0h-1.00zM270.0 823.6h1.00v2.0h-1.00zM270.0 826.6h1.00v7.0h-1.00zM270.0 834.6h1.00v1.0h-1.00zM272.0 886.7h1.00v13.0h-1.00zM272.0 901.7h1.00v2.0h-1.00zM272.0 904.7h1.00v8.0h-1.00zM272.0 915.7h1.00v4.0h-1.00zM272.0 921.7h1.00v3.0h-1.00zM272.0 926.7h1.00v4.0h-1.00zM273.0 791.6h1.00v1.0h-1.00zM273.0 802.6h1.00v5.0h-1.00zM273.0 808.6h1.00v4.0h-1.00zM273.0 813.6h1.00v2.0h-1.00zM273.0 833.6h1.00v1.0h-1.00zM273.0 835.6h1.00v3.0h-1.00zM273.0 839.6h1.00v1.0h-1.00zM273.0 845.6h1.00v1.0h-1.00zM273.0 850.7h1.00v1.0h-1.00zM273.0 856.7h1.00v5.0h-1.00zM273.0 862.7h1.00v2.0h-1.00zM273.0 865.7h1.00v1.0h-1.00zM273.0 867.7h1.00v11.0h-1.00zM273.0 883.7h1.00v9.0h-1.00zM273.0 893.7h1.00v7.0h-1.00zM273.0 901.7h1.00v7.0h-1.00zM273.0 912.7h1.00v3.0h-1.00zM273.0 919.7h1.00v2.0h-1.00zM273.0 924.7h1.00v2.0h-1.00zM273.0 927.7h1.00v1.0h-1.00zM275.0 735.6h1.00v1.0h-1.00zM275.0 738.6h1.00v3.0h-1.00zM275.0 742.6h1.00v5.0h-1.00zM275.0 748.6h1.00v1.0h-1.00zM275.0 750.6h1.00v4.0h-1.00zM275.0 779.6h1.00v4.0h-1.00zM275.0 784.6h1.00v5.0h-1.00zM275.0 796.6h1.00v1.0h-1.00zM275.0 798.6h1.00v3.0h-1.00zM275.0 805.6h1.00v1.0h-1.00zM275.0 808.6h1.00v5.0h-1.00zM275.0 814.6h1.00v1.0h-1.00zM275.0 830.6h1.00v1.0h-1.00zM275.0 833.6h1.00v5.0h-1.00zM275.0 847.6h1.00v3.0h-1.00zM276.0 688.6h1.00v4.0h-1.00zM276.0 694.6h1.00v6.0h-1.00zM276.0 701.6h1.00v14.0h-1.00zM276.0 717.6h1.00v11.0h-1.00zM276.0 729.6h1.00v17.0h-1.00zM276.0 747.6h1.00v8.0h-1.00zM276.0 757.6h1.00v1.0h-1.00zM276.0 759.6h1.00v2.0h-1.00zM276.0 762.6h1.00v6.0h-1.00zM276.0 769.6h1.00v1.0h-1.00zM276.0 771.6h1.00v10.0h-1.00zM276.0 782.6h1.00v2.0h-1.00zM276.0 785.6h1.00v3.0h-1.00zM276.0 792.6h1.00v16.0h-1.00zM276.0 827.6h1.00v1.0h-1.00zM276.0 831.6h1.00v1.0h-1.00zM276.0 834.6h1.00v12.0h-1.00zM276.0 847.6h1.00v2.0h-1.00zM276.0 850.7h1.00v5.0h-1.00zM277.0 870.7h1.00v2.0h-1.00zM277.0 873.7h1.00v5.0h-1.00zM277.0 883.7h1.00v20.0h-1.00zM277.0 904.7h1.00v1.0h-1.00zM277.0 906.7h1.00v16.0h-1.00zM278.0 622.5h1.00v3.0h-1.00zM278.0 626.5h1.00v15.0h-1.00zM278.0 642.5h1.00v2.0h-1.00zM278.0 645.5h1.00v1.0h-1.00zM278.0 647.5h1.00v8.0h-1.00zM278.0 656.5h1.00v2.0h-1.00zM278.0 659.5h1.00v1.0h-1.00zM278.0 661.5h1.00v7.0h-1.00zM278.0 669.5h1.00v4.0h-1.00zM278.0 675.5h1.00v3.0h-1.00zM278.0 681.5h1.00v1.0h-1.00zM278.0 683.6h1.00v10.0h-1.00zM278.0 695.6h1.00v1.0h-1.00zM278.0 697.6h1.00v11.0h-1.00zM278.0 709.6h1.00v8.0h-1.00zM278.0 718.6h1.00v1.0h-1.00zM278.0 720.6h1.00v1.0h-1.00zM279.0 856.7h1.00v6.0h-1.00zM279.0 863.7h1.00v2.0h-1.00zM279.0 878.7h1.00v11.0h-1.00zM280.0 804.6h1.00v4.0h-1.00zM280.0 815.6h1.00v3.0h-1.00zM280.0 819.6h1.00v4.0h-1.00zM280.0 837.6h1.00v1.0h-1.00zM280.0 846.6h1.00v1.0h-1.00zM280.0 856.7h1.00v1.0h-1.00zM280.0 861.7h1.00v1.0h-1.00zM280.0 871.7h1.00v4.0h-1.00zM280.0 883.7h1.00v12.0h-1.00zM280.0 896.7h1.00v25.0h-1.00zM280.0 922.7h1.00v5.0h-1.00zM280.0 929.7h1.00v1.0h-1.00zM282.0 883.7h1.00v2.0h-1.00zM282.0 886.7h1.00v3.0h-1.00zM282.0 890.7h1.00v1.0h-1.00zM282.0 892.7h1.00v10.0h-1.00zM284.0 908.7h1.00v1.0h-1.00zM284.0 910.7h1.00v1.0h-1.00zM284.0 926.7h1.00v2.0h-1.00zM290.0 659.5h1.00v10.0h-1.00zM290.0 670.5h1.00v5.0h-1.00zM290.0 676.5h1.00v10.0h-1.00zM290.0 687.6h1.00v4.0h-1.00zM290.0 692.6h1.00v14.0h-1.00zM290.0 707.6h1.00v9.0h-1.00zM290.0 718.6h1.00v1.0h-1.00zM290.0 720.6h1.00v13.0h-1.00zM290.0 734.6h1.00v1.0h-1.00zM290.0 736.6h1.00v9.0h-1.00zM290.0 746.6h1.00v5.0h-1.00zM290.0 752.6h1.00v4.0h-1.00zM290.0 757.6h1.00v22.0h-1.00zM290.0 781.6h1.00v4.0h-1.00zM290.0 786.6h1.00v1.0h-1.00zM290.0 797.6h1.00v1.0h-1.00zM290.0 801.6h1.00v4.0h-1.00zM290.0 806.6h1.00v1.0h-1.00zM290.0 809.6h1.00v6.0h-1.00zM290.0 827.6h1.00v1.0h-1.00zM290.0 833.6h1.00v6.0h-1.00zM290.0 840.6h1.00v1.0h-1.00zM290.0 843.6h1.00v1.0h-1.00zM290.0 845.6h1.00v2.0h-1.00zM290.0 849.7h1.00v4.0h-1.00zM290.0 861.7h1.00v1.0h-1.00zM290.0 865.7h1.00v1.0h-1.00zM290.0 867.7h1.00v7.0h-1.00zM290.0 875.7h1.00v3.0h-1.00zM291.0 618.5h1.00v5.0h-1.00zM291.0 624.5h1.00v3.0h-1.00zM291.0 628.5h1.00v2.0h-1.00zM291.0 631.5h1.00v6.0h-1.00zM291.0 638.5h1.00v27.0h-1.00zM291.0 666.5h1.00v17.0h-1.00zM291.0 684.6h1.00v2.0h-1.00zM291.0 687.6h1.00v3.0h-1.00zM291.0 691.6h1.00v2.0h-1.00zM291.0 694.6h1.00v5.0h-1.00zM291.0 702.6h1.00v2.0h-1.00zM291.0 705.6h1.00v3.0h-1.00zM291.0 709.6h1.00v7.0h-1.00zM291.0 717.6h1.00v9.0h-1.00zM291.0 727.6h1.00v5.0h-1.00zM291.0 733.6h1.00v2.0h-1.00zM291.0 736.6h1.00v1.0h-1.00zM293.0 836.6h1.00v2.0h-1.00zM293.0 846.6h1.00v1.0h-1.00zM293.0 849.7h1.00v1.0h-1.00zM293.0 856.7h1.00v5.0h-1.00zM293.0 862.7h1.00v8.0h-1.00zM293.0 875.7h1.00v3.0h-1.00zM293.0 883.7h1.00v4.0h-1.00zM293.0 888.7h1.00v5.0h-1.00zM293.0 894.7h1.00v7.0h-1.00zM293.0 908.7h1.00v4.0h-1.00zM293.0 915.7h1.00v6.0h-1.00zM295.0 752.6h1.00v8.0h-1.00zM295.0 761.6h1.00v2.0h-1.00zM295.0 764.6h1.00v2.0h-1.00zM295.0 767.6h1.00v8.0h-1.00zM295.0 778.6h1.00v6.0h-1.00zM295.0 785.6h1.00v6.0h-1.00zM295.0 792.6h1.00v8.0h-1.00zM295.0 801.6h1.00v10.0h-1.00zM295.0 812.6h1.00v4.0h-1.00zM295.0 817.6h1.00v2.0h-1.00zM295.0 820.6h1.00v6.0h-1.00zM295.0 827.6h1.00v1.0h-1.00zM295.0 829.6h1.00v5.0h-1.00zM295.0 835.6h1.00v7.0h-1.00zM295.0 843.6h1.00v2.0h-1.00zM295.0 846.6h1.00v4.0h-1.00zM295.0 852.7h1.00v3.0h-1.00zM295.0 856.7h1.00v4.0h-1.00zM295.0 861.7h1.00v10.0h-1.00zM295.0 872.7h1.00v4.0h-1.00zM295.0 877.7h1.00v3.0h-1.00zM295.0 881.7h1.00v2.0h-1.00zM295.0 884.7h1.00v7.0h-1.00zM295.0 892.7h1.00v6.0h-1.00zM295.0 900.7h1.00v1.0h-1.00zM295.0 908.7h1.00v3.0h-1.00zM295.0 915.7h1.00v4.0h-1.00zM295.0 924.7h1.00v2.0h-1.00zM296.0 702.6h1.00v16.0h-1.00zM296.0 719.6h1.00v4.0h-1.00zM296.0 724.6h1.00v2.0h-1.00zM298.0 839.6h1.00v3.0h-1.00zM298.0 843.6h1.00v1.0h-1.00zM298.0 845.6h1.00v2.0h-1.00zM298.0 851.7h1.00v1.0h-1.00zM298.0 857.7h1.00v2.0h-1.00zM298.0 862.7h1.00v1.0h-1.00zM298.0 874.7h1.00v2.0h-1.00zM298.0 883.7h1.00v16.0h-1.00zM301.0 773.6h1.00v9.0h-1.00zM301.0 789.6h1.00v1.0h-1.00zM301.0 792.6h1.00v1.0h-1.00zM301.0 794.6h1.00v6.0h-1.00zM301.0 815.6h1.00v1.0h-1.00zM301.0 817.6h1.00v1.0h-1.00zM301.0 824.6h1.00v1.0h-1.00zM301.0 833.6h1.00v1.0h-1.00zM301.0 835.6h1.00v3.0h-1.00zM301.0 842.6h1.00v1.0h-1.00zM301.0 847.6h1.00v1.0h-1.00zM301.0 856.7h1.00v1.0h-1.00zM301.0 858.7h1.00v1.0h-1.00zM301.0 860.7h1.00v1.0h-1.00zM301.0 862.7h1.00v7.0h-1.00zM301.0 870.7h1.00v5.0h-1.00zM301.0 883.7h1.00v6.0h-1.00zM301.0 890.7h1.00v3.0h-1.00zM304.0 762.6h1.00v1.0h-1.00zM304.0 765.6h1.00v3.0h-1.00zM304.0 769.6h1.00v1.0h-1.00zM304.0 771.6h1.00v6.0h-1.00zM304.0 778.6h1.00v6.0h-1.00zM304.0 785.6h1.00v3.0h-1.00zM304.0 790.6h1.00v4.0h-1.00zM309.0 614.5h1.00v8.0h-1.00zM309.0 623.5h1.00v2.0h-1.00zM309.0 626.5h1.00v13.0h-1.00zM309.0 640.5h1.00v5.0h-1.00zM309.0 646.5h1.00v3.0h-1.00zM309.0 650.5h1.00v27.0h-1.00zM309.0 678.5h1.00v3.0h-1.00zM309.0 683.6h1.00v2.0h-1.00zM309.0 686.6h1.00v1.0h-1.00zM309.0 688.6h1.00v2.0h-1.00zM309.0 692.6h1.00v1.0h-1.00zM309.0 694.6h1.00v12.0h-1.00zM309.0 707.6h1.00v2.0h-1.00zM309.0 710.6h1.00v5.0h-1.00zM309.0 716.6h1.00v5.0h-1.00zM311.0 789.6h1.00v3.0h-1.00zM311.0 815.6h1.00v7.0h-1.00zM311.0 823.6h1.00v1.0h-1.00zM311.0 826.6h1.00v1.0h-1.00zM311.0 832.6h1.00v1.0h-1.00zM311.0 838.6h1.00v9.0h-1.00zM311.0 852.7h1.00v2.0h-1.00zM311.0 856.7h1.00v11.0h-1.00zM311.0 869.7h1.00v2.0h-1.00zM311.0 872.7h1.00v1.0h-1.00zM311.0 874.7h1.00v14.0h-1.00zM311.0 889.7h1.00v7.0h-1.00zM311.0 897.7h1.00v1.0h-1.00zM311.0 904.7h1.00v1.0h-1.00zM311.0 908.7h1.00v6.0h-1.00zM311.0 915.7h1.00v4.0h-1.00zM311.0 920.7h1.00v1.0h-1.00zM313.0 868.7h1.00v1.0h-1.00zM313.0 870.7h1.00v4.0h-1.00zM313.0 875.7h1.00v4.0h-1.00zM313.0 880.7h1.00v1.0h-1.00zM313.0 882.7h1.00v2.0h-1.00zM313.0 885.7h1.00v3.0h-1.00zM313.0 889.7h1.00v2.0h-1.00zM313.0 892.7h1.00v1.0h-1.00zM313.0 901.7h1.00v7.0h-1.00zM313.0 919.7h1.00v1.0h-1.00zM314.0 651.5h1.00v10.0h-1.00zM314.0 662.5h1.00v1.0h-1.00zM314.0 664.5h1.00v4.0h-1.00zM314.0 669.5h1.00v3.0h-1.00zM314.0 673.5h1.00v1.0h-1.00zM314.0 675.5h1.00v3.0h-1.00zM314.0 679.5h1.00v2.0h-1.00zM314.0 682.6h1.00v1.0h-1.00zM314.0 684.6h1.00v25.0h-1.00zM314.0 710.6h1.00v12.0h-1.00zM314.0 723.6h1.00v2.0h-1.00zM314.0 726.6h1.00v4.0h-1.00zM314.0 731.6h1.00v7.0h-1.00zM314.0 739.6h1.00v1.0h-1.00zM314.0 741.6h1.00v2.0h-1.00zM314.0 744.6h1.00v3.0h-1.00zM314.0 748.6h1.00v4.0h-1.00zM314.0 753.6h1.00v2.0h-1.00zM314.0 756.6h1.00v17.0h-1.00zM314.0 775.6h1.00v5.0h-1.00zM317.0 618.5h1.00v3.0h-1.00zM317.0 639.5h1.00v4.0h-1.00zM317.0 646.5h1.00v14.0h-1.00zM317.0 661.5h1.00v5.0h-1.00zM317.0 667.5h1.00v2.0h-1.00zM317.0 670.5h1.00v6.0h-1.00zM317.0 678.5h1.00v4.0h-1.00zM317.0 683.6h1.00v8.0h-1.00zM317.0 692.6h1.00v2.0h-1.00zM317.0 706.6h1.00v8.0h-1.00zM317.0 716.6h1.00v2.0h-1.00zM317.0 719.6h1.00v6.0h-1.00zM317.0 726.6h1.00v7.0h-1.00zM317.0 734.6h1.00v1.0h-1.00zM317.0 736.6h1.00v6.0h-1.00zM317.0 744.6h1.00v7.0h-1.00zM317.0 752.6h1.00v7.0h-1.00zM317.0 778.6h1.00v5.0h-1.00zM319.0 820.6h1.00v3.0h-1.00zM319.0 824.6h1.00v6.0h-1.00zM319.0 831.6h1.00v2.0h-1.00zM319.0 849.7h1.00v16.0h-1.00zM319.0 875.7h1.00v6.0h-1.00zM319.0 882.7h1.00v7.0h-1.00zM319.0 890.7h1.00v4.0h-1.00zM319.0 895.7h1.00v3.0h-1.00zM319.0 908.7h1.00v4.0h-1.00zM319.0 913.7h1.00v6.0h-1.00zM319.0 920.7h1.00v1.0h-1.00zM319.0 929.7h1.00v1.0h-1.00zM320.0 808.6h1.00v1.0h-1.00zM320.0 810.6h1.00v14.0h-1.00zM320.0 825.6h1.00v6.0h-1.00zM320.0 832.6h1.00v3.0h-1.00zM320.0 836.6h1.00v3.0h-1.00zM320.0 847.6h1.00v1.0h-1.00zM320.0 849.7h1.00v7.0h-1.00zM320.0 864.7h1.00v11.0h-1.00zM320.0 878.7h1.00v6.0h-1.00zM320.0 885.7h1.00v3.0h-1.00zM320.0 889.7h1.00v4.0h-1.00zM320.0 898.7h1.00v3.0h-1.00zM320.0 910.7h1.00v4.0h-1.00zM320.0 921.7h1.00v8.0h-1.00zM322.0 645.5h1.00v3.0h-1.00zM322.0 649.5h1.00v1.0h-1.00zM322.0 651.5h1.00v11.0h-1.00zM322.0 663.5h1.00v17.0h-1.00zM322.0 682.6h1.00v10.0h-1.00zM322.0 693.6h1.00v3.0h-1.00zM322.0 697.6h1.00v3.0h-1.00zM322.0 701.6h1.00v8.0h-1.00zM322.0 710.6h1.00v2.0h-1.00zM322.0 713.6h1.00v3.0h-1.00zM322.0 717.6h1.00v1.0h-1.00zM322.0 719.6h1.00v10.0h-1.00zM322.0 730.6h1.00v10.0h-1.00zM322.0 741.6h1.00v9.0h-1.00zM322.0 751.6h1.00v1.0h-1.00zM322.0 753.6h1.00v8.0h-1.00zM322.0 808.6h1.00v2.0h-1.00zM322.0 811.6h1.00v2.0h-1.00z" fill="#c4d7e6" shape-rendering="crispEdges"/>
<path d="M71.8 599.5h1.00v3.0h-1.00zM71.8 619.5h1.00v8.0h-1.00zM71.8 671.5h1.00v17.0h-1.00zM71.8 711.6h1.00v13.0h-1.00zM71.8 750.6h1.00v2.0h-1.00zM78.8 807.6h1.00v4.0h-1.00zM78.8 824.6h1.00v1.0h-1.00zM78.8 893.7h1.00v7.0h-1.00zM78.8 901.7h1.00v1.0h-1.00zM78.8 911.7h1.00v1.0h-1.00zM78.8 919.7h1.00v3.0h-1.00zM83.8 921.7h1.00v9.0h-1.00zM85.8 921.7h1.00v9.0h-1.00zM88.8 921.7h1.00v9.0h-1.00zM89.8 796.6h1.00v1.0h-1.00zM89.8 808.6h1.00v1.0h-1.00zM89.8 823.6h1.00v2.0h-1.00zM89.8 834.6h1.00v1.0h-1.00zM89.8 846.6h1.00v6.0h-1.00zM89.8 866.7h1.00v7.0h-1.00zM89.8 907.7h1.00v7.0h-1.00zM95.8 921.7h1.00v9.0h-1.00zM96.8 923.7h1.00v7.0h-1.00zM99.8 599.5h1.00v29.0h-1.00zM99.8 641.5h1.00v37.0h-1.00zM99.8 681.5h1.00v9.0h-1.00zM99.8 773.6h1.00v21.0h-1.00zM99.8 817.6h1.00v10.0h-1.00zM99.8 862.7h1.00v45.0h-1.00zM99.8 916.7h1.00v5.0h-1.00zM99.8 922.7h1.00v1.0h-1.00zM99.8 925.7h1.00v1.0h-1.00zM100.8 818.6h1.00v11.0h-1.00zM100.8 833.6h1.00v1.0h-1.00zM100.8 837.6h1.00v12.0h-1.00zM100.8 851.7h1.00v6.0h-1.00zM100.8 886.7h1.00v2.0h-1.00zM100.8 906.7h1.00v2.0h-1.00zM100.8 913.7h1.00v3.0h-1.00zM104.8 921.7h1.00v8.0h-1.00zM109.8 704.6h1.00v6.0h-1.00zM109.8 752.6h1.00v9.0h-1.00zM110.8 699.6h1.00v11.0h-1.00zM110.8 746.6h1.00v14.0h-1.00zM110.8 795.6h1.00v6.0h-1.00zM110.8 810.6h1.00v1.0h-1.00zM110.8 812.6h1.00v9.0h-1.00zM110.8 833.6h1.00v7.0h-1.00zM110.8 847.6h1.00v10.0h-1.00zM110.8 861.7h1.00v9.0h-1.00zM111.8 611.5h1.00v4.0h-1.00zM111.8 753.6h1.00v8.0h-1.00zM111.8 795.6h1.00v4.0h-1.00zM111.8 800.6h1.00v15.0h-1.00zM111.8 816.6h1.00v4.0h-1.00zM111.8 828.6h1.00v5.0h-1.00zM111.8 840.6h1.00v6.0h-1.00zM111.8 847.6h1.00v28.0h-1.00zM112.8 704.6h1.00v3.0h-1.00zM112.8 708.6h1.00v2.0h-1.00zM112.8 711.6h1.00v4.0h-1.00zM112.8 746.6h1.00v6.0h-1.00zM112.8 757.6h1.00v2.0h-1.00zM112.8 801.6h1.00v1.0h-1.00zM112.8 803.6h1.00v6.0h-1.00zM112.8 810.6h1.00v7.0h-1.00zM112.8 828.6h1.00v2.0h-1.00zM112.8 831.6h1.00v2.0h-1.00zM112.8 848.7h1.00v1.0h-1.00zM112.8 850.7h1.00v3.0h-1.00zM112.8 854.7h1.00v9.0h-1.00zM112.8 864.7h1.00v6.0h-1.00zM112.8 871.7h1.00v4.0h-1.00zM112.8 923.7h1.00v7.0h-1.00zM113.8 611.5h1.00v4.0h-1.00zM113.8 704.6h1.00v5.0h-1.00zM113.8 750.6h1.00v9.0h-1.00zM113.8 795.6h1.00v1.0h-1.00zM113.8 797.6h1.00v4.0h-1.00zM113.8 817.6h1.00v14.0h-1.00zM113.8 833.6h1.00v13.0h-1.00zM113.8 847.6h1.00v2.0h-1.00zM113.8 864.7h1.00v2.0h-1.00zM113.8 870.7h1.00v15.0h-1.00zM113.8 892.7h1.00v6.0h-1.00zM113.8 922.7h1.00v8.0h-1.00zM114.8 743.6h1.00v3.0h-1.00zM114.8 752.6h1.00v2.0h-1.00zM114.8 755.6h1.00v6.0h-1.00zM114.8 795.6h1.00v15.0h-1.00zM114.8 817.6h1.00v29.0h-1.00zM114.8 857.7h1.00v14.0h-1.00zM114.8 872.7h1.00v3.0h-1.00zM114.8 921.7h1.00v7.0h-1.00zM115.8 611.5h1.00v4.0h-1.00zM115.8 699.6h1.00v3.0h-1.00zM115.8 703.6h1.00v5.0h-1.00zM115.8 709.6h1.00v1.0h-1.00zM115.8 743.6h1.00v9.0h-1.00zM115.8 753.6h1.00v4.0h-1.00zM115.8 758.6h1.00v3.0h-1.00zM115.8 801.6h1.00v1.0h-1.00zM115.8 803.6h1.00v9.0h-1.00zM115.8 813.6h1.00v3.0h-1.00zM115.8 821.6h1.00v7.0h-1.00zM115.8 829.6h1.00v4.0h-1.00zM115.8 853.7h1.00v8.0h-1.00zM116.8 611.5h1.00v4.0h-1.00zM116.8 710.6h1.00v9.0h-1.00zM116.8 743.6h1.00v3.0h-1.00zM116.8 750.6h1.00v9.0h-1.00zM116.8 795.6h1.00v15.0h-1.00zM116.8 817.6h1.00v4.0h-1.00zM116.8 828.6h1.00v6.0h-1.00zM116.8 835.6h1.00v10.0h-1.00zM116.8 846.6h1.00v7.0h-1.00zM116.8 857.7h1.00v10.0h-1.00zM116.8 868.7h1.00v4.0h-1.00zM116.8 873.7h1.00v2.0h-1.00zM117.8 611.5h1.00v4.0h-1.00zM117.8 699.6h1.00v4.0h-1.00zM117.8 704.6h1.00v6.0h-1.00zM117.8 746.6h1.00v2.0h-1.00zM117.8 749.6h1.00v8.0h-1.00zM117.8 810.6h1.00v19.0h-1.00zM117.8 830.6h1.00v3.0h-1.00zM117.8 840.6h1.00v6.0h-1.00zM117.8 854.7h1.00v3.0h-1.00zM117.8 870.7h1.00v1.0h-1.00zM117.8 872.7h1.00v2.0h-1.00zM118.8 611.5h1.00v1.0h-1.00zM118.8 613.5h1.00v2.0h-1.00zM118.8 699.6h1.00v11.0h-1.00zM118.8 743.6h1.00v18.0h-1.00zM119.8 681.5h1.00v3.0h-1.00zM119.8 711.6h1.00v5.0h-1.00zM119.8 743.6h1.00v3.0h-1.00zM119.8 750.6h1.00v11.0h-1.00zM119.8 795.6h1.00v2.0h-1.00zM119.8 798.6h1.00v3.0h-1.00zM119.8 810.6h1.00v23.0h-1.00zM119.8 846.6h1.00v9.0h-1.00zM119.8 856.7h1.00v1.0h-1.00zM119.8 870.7h1.00v5.0h-1.00zM119.8 921.7h1.00v6.0h-1.00zM120.8 699.6h1.00v4.0h-1.00zM120.8 710.6h1.00v2.0h-1.00zM120.8 713.6h1.00v6.0h-1.00zM120.8 743.6h1.00v3.0h-1.00zM120.8 751.6h1.00v4.0h-1.00zM120.8 757.6h1.00v4.0h-1.00zM120.8 795.6h1.00v7.0h-1.00zM120.8 803.6h1.00v9.0h-1.00zM120.8 813.6h1.00v1.0h-1.00zM120.8 815.6h1.00v5.0h-1.00zM120.8 821.6h1.00v18.0h-1.00zM120.8 840.6h1.00v4.0h-1.00zM120.8 845.6h1.00v1.0h-1.00zM120.8 847.6h1.00v28.0h-1.00zM121.8 611.5h1.00v4.0h-1.00zM121.8 699.6h1.00v5.0h-1.00zM121.8 716.6h1.00v3.0h-1.00zM121.8 747.6h1.00v7.0h-1.00zM121.8 755.6h1.00v6.0h-1.00zM121.8 795.6h1.00v12.0h-1.00zM121.8 808.6h1.00v24.0h-1.00zM121.8 833.6h1.00v2.0h-1.00zM121.8 836.6h1.00v9.0h-1.00zM121.8 853.7h1.00v4.0h-1.00zM121.8 858.7h1.00v3.0h-1.00zM121.8 921.7h1.00v7.0h-1.00zM121.8 929.7h1.00v1.0h-1.00zM122.8 704.6h1.00v3.0h-1.00zM122.8 708.6h1.00v11.0h-1.00zM122.8 750.6h1.00v7.0h-1.00zM122.8 795.6h1.00v6.0h-1.00zM122.8 810.6h1.00v27.0h-1.00zM122.8 838.6h1.00v2.0h-1.00zM122.8 841.6h1.00v5.0h-1.00zM122.8 847.6h1.00v8.0h-1.00zM122.8 856.7h1.00v4.0h-1.00zM122.8 870.7h1.00v5.0h-1.00zM122.8 921.7h1.00v2.0h-1.00zM122.8 924.7h1.00v6.0h-1.00zM123.8 611.5h1.00v3.0h-1.00zM123.8 699.6h1.00v5.0h-1.00zM123.8 755.6h1.00v4.0h-1.00zM123.8 795.6h1.00v2.0h-1.00zM123.8 798.6h1.00v3.0h-1.00zM123.8 846.6h1.00v2.0h-1.00zM123.8 849.7h1.00v4.0h-1.00zM123.8 854.7h1.00v3.0h-1.00zM124.8 699.6h1.00v5.0h-1.00zM124.8 710.6h1.00v6.0h-1.00zM124.8 744.6h1.00v2.0h-1.00zM124.8 752.6h1.00v9.0h-1.00zM124.8 817.6h1.00v4.0h-1.00zM125.8 611.5h1.00v4.0h-1.00zM125.8 699.6h1.00v5.0h-1.00zM125.8 710.6h1.00v6.0h-1.00zM125.8 833.6h1.00v7.0h-1.00zM125.8 847.6h1.00v6.0h-1.00zM125.8 857.7h1.00v4.0h-1.00zM125.8 921.7h1.00v9.0h-1.00zM126.8 796.6h1.00v15.0h-1.00zM126.8 812.6h1.00v3.0h-1.00zM126.8 816.6h1.00v11.0h-1.00zM126.8 829.6h1.00v7.0h-1.00zM126.8 837.6h1.00v10.0h-1.00zM126.8 849.7h1.00v3.0h-1.00zM126.8 853.7h1.00v5.0h-1.00zM126.8 859.7h1.00v9.0h-1.00zM126.8 869.7h1.00v6.0h-1.00zM127.8 612.5h1.00v3.0h-1.00zM127.8 704.6h1.00v1.0h-1.00zM127.8 706.6h1.00v4.0h-1.00zM127.8 711.6h1.00v5.0h-1.00zM127.8 746.6h1.00v6.0h-1.00zM127.8 795.6h1.00v25.0h-1.00zM127.8 821.6h1.00v11.0h-1.00zM127.8 833.6h1.00v13.0h-1.00zM127.8 847.6h1.00v7.0h-1.00zM127.8 855.7h1.00v20.0h-1.00zM128.8 611.5h1.00v4.0h-1.00zM128.8 710.6h1.00v6.0h-1.00zM128.8 755.6h1.00v6.0h-1.00zM128.8 795.6h1.00v14.0h-1.00zM128.8 812.6h1.00v12.0h-1.00zM128.8 825.6h1.00v21.0h-1.00zM128.8 847.6h1.00v11.0h-1.00zM128.8 859.7h1.00v16.0h-1.00zM129.8 699.6h1.00v4.0h-1.00zM129.8 710.6h1.00v9.0h-1.00zM129.8 747.6h1.00v1.0h-1.00zM129.8 751.6h1.00v10.0h-1.00zM131.8 921.7h1.00v9.0h-1.00zM133.8 921.7h1.00v9.0h-1.00zM134.9 921.7h1.00v3.0h-1.00zM134.9 925.7h1.00v5.0h-1.00zM135.9 921.7h1.00v2.0h-1.00zM135.9 924.7h1.00v1.0h-1.00zM135.9 927.7h1.00v3.0h-1.00zM144.9 895.7h1.00v12.0h-1.00zM144.9 914.7h1.00v4.0h-1.00zM144.9 921.7h1.00v6.0h-1.00zM149.9 921.7h1.00v9.0h-1.00zM150.9 892.7h1.00v5.0h-1.00zM150.9 923.7h1.00v4.0h-1.00zM150.9 928.7h1.00v1.0h-1.00zM152.9 921.7h1.00v3.0h-1.00zM152.9 925.7h1.00v5.0h-1.00zM153.9 921.7h1.00v9.0h-1.00zM154.9 922.7h1.00v8.0h-1.00zM158.9 921.7h1.00v2.0h-1.00zM158.9 924.7h1.00v5.0h-1.00zM162.9 921.7h1.00v7.0h-1.00zM163.9 894.7h1.00v4.0h-1.00zM171.9 921.7h1.00v9.0h-1.00zM172.9 921.7h1.00v8.0h-1.00zM173.9 921.7h1.00v9.0h-1.00zM178.9 921.7h1.00v4.0h-1.00zM178.9 928.7h1.00v2.0h-1.00zM182.9 896.7h1.00v2.0h-1.00zM182.9 921.7h1.00v8.0h-1.00zM183.9 922.7h1.00v5.0h-1.00zM183.9 928.7h1.00v2.0h-1.00zM184.9 921.7h1.00v9.0h-1.00zM192.9 921.7h1.00v6.0h-1.00zM192.9 929.7h1.00v1.0h-1.00zM193.9 921.7h1.00v1.0h-1.00zM193.9 923.7h1.00v7.0h-1.00zM194.9 666.5h1.00v4.0h-1.00zM194.9 921.7h1.00v9.0h-1.00zM196.9 921.7h1.00v9.0h-1.00zM200.9 921.7h1.00v9.0h-1.00zM203.9 921.7h1.00v9.0h-1.00zM206.9 923.7h1.00v7.0h-1.00zM207.9 921.7h1.00v6.0h-1.00zM208.9 924.7h1.00v5.0h-1.00zM209.9 922.7h1.00v8.0h-1.00zM213.9 921.7h1.00v1.0h-1.00zM213.9 923.7h1.00v4.0h-1.00zM213.9 928.7h1.00v2.0h-1.00zM214.9 921.7h1.00v9.0h-1.00zM215.9 599.5h1.00v1.0h-1.00zM215.9 609.5h1.00v1.0h-1.00zM215.9 634.5h1.00v3.0h-1.00zM215.9 675.5h1.00v9.0h-1.00zM215.9 720.6h1.00v16.0h-1.00zM215.9 749.6h1.00v6.0h-1.00zM215.9 780.6h1.00v4.0h-1.00zM217.9 921.7h1.00v5.0h-1.00zM218.9 921.7h1.00v9.0h-1.00zM220.9 921.7h1.00v1.0h-1.00zM220.9 924.7h1.00v6.0h-1.00zM222.9 789.6h1.00v5.0h-1.00zM222.9 813.6h1.00v1.0h-1.00zM222.9 824.6h1.00v2.0h-1.00zM222.9 828.6h1.00v2.0h-1.00zM222.9 832.6h1.00v6.0h-1.00zM222.9 856.7h1.00v9.0h-1.00zM222.9 881.7h1.00v2.0h-1.00zM222.9 911.7h1.00v8.0h-1.00zM225.9 827.6h1.00v11.0h-1.00zM225.9 851.7h1.00v9.0h-1.00zM225.9 877.7h1.00v5.0h-1.00zM225.9 922.7h1.00v3.0h-1.00zM228.9 641.5h1.00v5.0h-1.00zM228.9 719.6h1.00v14.0h-1.00zM228.9 773.6h1.00v5.0h-1.00zM230.9 922.7h1.00v2.0h-1.00zM230.9 927.7h1.00v3.0h-1.00zM231.9 921.7h1.00v3.0h-1.00zM231.9 925.7h1.00v5.0h-1.00zM232.9 689.6h1.00v4.0h-1.00zM233.9 923.7h1.00v4.0h-1.00zM233.9 928.7h1.00v2.0h-1.00zM234.9 689.6h1.00v4.0h-1.00zM234.9 699.6h1.00v3.0h-1.00zM235.9 921.7h1.00v9.0h-1.00zM236.9 689.6h1.00v4.0h-1.00zM236.9 922.7h1.00v8.0h-1.00zM237.9 690.6h1.00v3.0h-1.00zM237.9 789.6h1.00v9.0h-1.00zM237.9 832.6h1.00v4.0h-1.00zM237.9 842.6h1.00v4.0h-1.00zM237.9 857.7h1.00v22.0h-1.00zM237.9 880.7h1.00v10.0h-1.00zM237.9 892.7h1.00v1.0h-1.00zM237.9 920.7h1.00v6.0h-1.00zM237.9 927.7h1.00v1.0h-1.00zM238.9 614.5h1.00v10.0h-1.00zM238.9 632.5h1.00v5.0h-1.00zM238.9 649.5h1.00v3.0h-1.00zM238.9 659.5h1.00v9.0h-1.00zM238.9 688.6h1.00v5.0h-1.00zM238.9 722.6h1.00v5.0h-1.00zM238.9 751.6h1.00v1.0h-1.00zM238.9 758.6h1.00v1.0h-1.00zM238.9 771.6h1.00v18.0h-1.00zM240.9 689.6h1.00v4.0h-1.00zM241.9 699.6h1.00v3.0h-1.00zM243.9 619.5h1.00v3.0h-1.00zM243.9 624.5h1.00v3.0h-1.00zM243.9 687.6h1.00v4.0h-1.00zM243.9 776.6h1.00v5.0h-1.00zM243.9 787.6h1.00v2.0h-1.00zM243.9 923.7h1.00v4.0h-1.00zM243.9 928.7h1.00v1.0h-1.00zM244.9 689.6h1.00v3.0h-1.00zM245.9 689.6h1.00v4.0h-1.00zM246.9 689.6h1.00v1.0h-1.00zM246.9 691.6h1.00v2.0h-1.00zM247.9 921.7h1.00v9.0h-1.00zM250.9 699.6h1.00v3.0h-1.00zM251.9 699.6h1.00v3.0h-1.00zM253.9 699.6h1.00v3.0h-1.00zM253.9 921.7h1.00v9.0h-1.00zM255.9 699.6h1.00v3.0h-1.00zM255.9 854.7h1.00v26.0h-1.00zM255.9 910.7h1.00v5.0h-1.00zM255.9 927.7h1.00v2.0h-1.00zM256.9 924.7h1.00v3.0h-1.00zM256.9 928.7h1.00v2.0h-1.00zM257.9 700.6h1.00v1.0h-1.00zM260.9 921.7h1.00v9.0h-1.00zM261.9 699.6h1.00v3.0h-1.00zM265.0 699.6h1.00v3.0h-1.00zM265.0 921.7h1.00v5.0h-1.00zM265.0 927.7h1.00v1.0h-1.00zM265.0 929.7h1.00v1.0h-1.00zM268.0 699.6h1.00v3.0h-1.00zM268.0 921.7h1.00v9.0h-1.00zM269.0 699.6h1.00v3.0h-1.00zM270.0 699.6h1.00v3.0h-1.00zM270.0 922.7h1.00v1.0h-1.00zM270.0 924.7h1.00v6.0h-1.00zM271.0 921.7h1.00v4.0h-1.00zM271.0 927.7h1.00v3.0h-1.00zM272.0 699.6h1.00v3.0h-1.00zM274.0 699.6h1.00v3.0h-1.00zM274.0 921.7h1.00v1.0h-1.00zM274.0 923.7h1.00v2.0h-1.00zM274.0 926.7h1.00v4.0h-1.00zM275.0 608.5h1.00v3.0h-1.00zM275.0 641.5h1.00v8.0h-1.00zM275.0 655.5h1.00v4.0h-1.00zM275.0 663.5h1.00v1.0h-1.00zM275.0 724.6h1.00v11.0h-1.00zM275.0 754.6h1.00v24.0h-1.00zM275.0 789.6h1.00v7.0h-1.00zM275.0 821.6h1.00v2.0h-1.00zM275.0 850.7h1.00v6.0h-1.00zM275.0 865.7h1.00v20.0h-1.00zM275.0 893.7h1.00v2.0h-1.00zM275.0 919.7h1.00v11.0h-1.00zM278.0 921.7h1.00v4.0h-1.00zM278.0 926.7h1.00v1.0h-1.00zM278.0 928.7h1.00v2.0h-1.00zM280.0 699.6h1.00v3.0h-1.00zM281.0 700.6h1.00v2.0h-1.00zM281.0 816.6h1.00v1.0h-1.00zM281.0 824.6h1.00v9.0h-1.00zM281.0 890.7h1.00v1.0h-1.00zM281.0 904.7h1.00v7.0h-1.00zM283.0 921.7h1.00v1.0h-1.00zM283.0 923.7h1.00v3.0h-1.00zM283.0 927.7h1.00v3.0h-1.00zM285.0 921.7h1.00v6.0h-1.00zM285.0 928.7h1.00v2.0h-1.00zM289.0 699.6h1.00v3.0h-1.00zM289.0 853.7h1.00v1.0h-1.00zM289.0 882.7h1.00v44.0h-1.00zM290.0 807.6h1.00v2.0h-1.00zM290.0 841.6h1.00v2.0h-1.00zM290.0 853.7h1.00v3.0h-1.00zM290.0 882.7h1.00v1.0h-1.00zM290.0 885.7h1.00v12.0h-1.00zM291.0 699.6h1.00v3.0h-1.00zM292.0 608.5h1.00v7.0h-1.00zM292.0 668.5h1.00v6.0h-1.00zM292.0 723.6h1.00v37.0h-1.00zM292.0 770.6h1.00v4.0h-1.00zM292.0 788.6h1.00v1.0h-1.00zM293.0 699.6h1.00v3.0h-1.00zM293.0 921.7h1.00v2.0h-1.00zM293.0 925.7h1.00v5.0h-1.00zM295.0 611.5h1.00v6.0h-1.00zM295.0 634.5h1.00v2.0h-1.00zM295.0 660.5h1.00v14.0h-1.00zM295.0 921.7h1.00v3.0h-1.00zM295.0 926.7h1.00v1.0h-1.00zM295.0 928.7h1.00v2.0h-1.00zM297.0 599.5h1.00v8.0h-1.00zM297.0 695.6h1.00v38.0h-1.00zM297.0 739.6h1.00v15.0h-1.00zM298.0 699.6h1.00v3.0h-1.00zM298.0 921.7h1.00v5.0h-1.00zM298.0 927.7h1.00v3.0h-1.00zM299.0 921.7h1.00v6.0h-1.00zM299.0 928.7h1.00v2.0h-1.00zM308.0 684.6h1.00v34.0h-1.00zM308.0 719.6h1.00v2.0h-1.00zM308.0 724.6h1.00v7.0h-1.00zM308.0 745.6h1.00v14.0h-1.00zM308.0 921.7h1.00v4.0h-1.00zM308.0 927.7h1.00v2.0h-1.00zM309.0 921.7h1.00v9.0h-1.00zM310.0 682.6h1.00v21.0h-1.00zM311.0 599.5h1.00v1.0h-1.00zM311.0 644.5h1.00v1.0h-1.00zM311.0 664.5h1.00v18.0h-1.00zM311.0 733.6h1.00v13.0h-1.00zM311.0 751.6h1.00v8.0h-1.00zM312.0 922.7h1.00v6.0h-1.00zM313.0 921.7h1.00v9.0h-1.00zM315.0 639.5h1.00v31.0h-1.00zM315.0 673.5h1.00v25.0h-1.00zM315.0 707.6h1.00v21.0h-1.00zM315.0 737.6h1.00v22.0h-1.00zM315.0 784.6h1.00v32.0h-1.00zM315.0 838.6h1.00v7.0h-1.00zM315.0 847.6h1.00v70.0h-1.00zM315.0 920.7h1.00v8.0h-1.00zM315.0 929.7h1.00v1.0h-1.00zM316.0 673.5h1.00v5.0h-1.00zM316.0 680.5h1.00v7.0h-1.00zM316.0 702.6h1.00v7.0h-1.00zM316.0 712.6h1.00v10.0h-1.00zM316.0 724.6h1.00v68.0h-1.00zM316.0 799.6h1.00v1.0h-1.00zM316.0 801.6h1.00v7.0h-1.00zM316.0 814.6h1.00v1.0h-1.00zM316.0 818.6h1.00v1.0h-1.00zM316.0 820.6h1.00v2.0h-1.00zM316.0 823.6h1.00v1.0h-1.00zM316.0 855.7h1.00v15.0h-1.00zM316.0 876.7h1.00v1.0h-1.00zM316.0 878.7h1.00v52.0h-1.00zM317.0 694.6h1.00v12.0h-1.00zM317.0 742.6h1.00v1.0h-1.00zM318.0 639.5h1.00v16.0h-1.00zM318.0 657.5h1.00v7.0h-1.00zM318.0 689.6h1.00v32.0h-1.00zM318.0 729.6h1.00v20.0h-1.00zM318.0 785.6h1.00v3.0h-1.00zM318.0 801.6h1.00v7.0h-1.00zM318.0 814.6h1.00v1.0h-1.00zM318.0 880.7h1.00v13.0h-1.00zM319.0 668.5h1.00v5.0h-1.00zM319.0 674.5h1.00v9.0h-1.00zM319.0 691.6h1.00v1.0h-1.00zM319.0 716.6h1.00v9.0h-1.00zM319.0 740.6h1.00v23.0h-1.00zM319.0 774.6h1.00v3.0h-1.00zM319.0 834.6h1.00v1.0h-1.00zM319.0 838.6h1.00v11.0h-1.00zM319.0 865.7h1.00v9.0h-1.00zM319.0 922.7h1.00v7.0h-1.00zM321.0 639.5h1.00v9.0h-1.00zM321.0 658.5h1.00v12.0h-1.00zM321.0 688.6h1.00v31.0h-1.00zM321.0 732.6h1.00v35.0h-1.00zM321.0 773.6h1.00v1.0h-1.00zM321.0 786.6h1.00v2.0h-1.00zM321.0 792.6h1.00v3.0h-1.00zM321.0 797.6h1.00v4.0h-1.00zM321.0 807.6h1.00v17.0h-1.00zM321.0 833.6h1.00v26.0h-1.00zM321.0 864.7h1.00v10.0h-1.00zM321.0 906.7h1.00v5.0h-1.00zM321.0 922.7h1.00v8.0h-1.00zM325.0 922.7h1.00v1.0h-1.00zM325.0 924.7h1.00v6.0h-1.00z" fill="#7fa6c3" shape-rendering="crispEdges"/>
<path d="M70.8 753.6h1.00v2.0h-1.00zM70.8 822.6h1.00v7.0h-1.00zM70.8 862.7h1.00v8.0h-1.00zM70.8 921.7h1.00v2.0h-1.00zM70.8 925.7h1.00v1.0h-1.00zM71.8 753.6h1.00v2.0h-1.00zM71.8 822.6h1.00v7.0h-1.00zM71.8 862.7h1.00v8.0h-1.00zM71.8 921.7h1.00v2.0h-1.00zM71.8 925.7h1.00v1.0h-1.00zM72.8 753.6h1.00v2.0h-1.00zM72.8 822.6h1.00v7.0h-1.00zM72.8 838.6h1.00v10.0h-1.00zM72.8 862.7h1.00v4.0h-1.00zM72.8 867.7h1.00v3.0h-1.00zM72.8 876.7h1.00v4.0h-1.00zM73.8 753.6h1.00v2.0h-1.00zM73.8 822.6h1.00v5.0h-1.00zM73.8 828.6h1.00v1.0h-1.00zM73.8 838.6h1.00v10.0h-1.00zM73.8 862.7h1.00v8.0h-1.00zM73.8 876.7h1.00v5.0h-1.00zM74.8 753.6h1.00v2.0h-1.00zM74.8 838.6h1.00v3.0h-1.00zM74.8 842.6h1.00v7.0h-1.00zM74.8 850.7h1.00v22.0h-1.00zM74.8 873.7h1.00v8.0h-1.00zM75.8 753.6h1.00v2.0h-1.00zM75.8 822.6h1.00v4.0h-1.00zM75.8 827.6h1.00v4.0h-1.00zM75.8 832.6h1.00v3.0h-1.00zM75.8 836.6h1.00v45.0h-1.00zM76.8 753.6h1.00v2.0h-1.00zM76.8 822.6h1.00v42.0h-1.00zM76.8 865.7h1.00v16.0h-1.00zM77.8 753.6h1.00v2.0h-1.00zM77.8 822.6h1.00v56.0h-1.00zM77.8 879.7h1.00v2.0h-1.00zM77.8 922.7h1.00v8.0h-1.00zM78.8 753.6h1.00v2.0h-1.00zM78.8 822.6h1.00v2.0h-1.00zM78.8 825.6h1.00v36.0h-1.00zM78.8 862.7h1.00v19.0h-1.00zM78.8 922.7h1.00v8.0h-1.00zM79.8 753.6h1.00v2.0h-1.00zM79.8 822.6h1.00v8.0h-1.00zM79.8 831.6h1.00v50.0h-1.00zM80.8 753.6h1.00v2.0h-1.00zM80.8 822.6h1.00v5.0h-1.00zM80.8 828.6h1.00v2.0h-1.00zM80.8 831.6h1.00v50.0h-1.00zM81.8 753.6h1.00v2.0h-1.00zM81.8 822.6h1.00v5.0h-1.00zM81.8 828.6h1.00v1.0h-1.00zM81.8 857.7h1.00v24.0h-1.00zM81.8 921.7h1.00v3.0h-1.00zM81.8 925.7h1.00v1.0h-1.00zM81.8 927.7h1.00v3.0h-1.00zM82.8 753.6h1.00v2.0h-1.00zM82.8 829.6h1.00v6.0h-1.00zM82.8 836.6h1.00v12.0h-1.00zM82.8 921.7h1.00v3.0h-1.00zM82.8 925.7h1.00v1.0h-1.00zM82.8 927.7h1.00v3.0h-1.00zM83.8 753.6h1.00v2.0h-1.00zM83.8 829.6h1.00v26.0h-1.00zM83.8 856.7h1.00v6.0h-1.00zM83.8 871.7h1.00v5.0h-1.00zM84.8 753.6h1.00v2.0h-1.00zM84.8 771.6h1.00v4.0h-1.00zM84.8 797.6h1.00v10.0h-1.00zM84.8 822.6h1.00v25.0h-1.00zM84.8 848.7h1.00v7.0h-1.00zM84.8 856.7h1.00v6.0h-1.00zM84.8 863.7h1.00v15.0h-1.00zM84.8 879.7h1.00v2.0h-1.00zM85.8 753.6h1.00v2.0h-1.00zM85.8 771.6h1.00v4.0h-1.00zM85.8 797.6h1.00v10.0h-1.00zM85.8 822.6h1.00v8.0h-1.00zM85.8 831.6h1.00v7.0h-1.00zM85.8 839.6h1.00v8.0h-1.00zM85.8 848.7h1.00v4.0h-1.00zM85.8 853.7h1.00v7.0h-1.00zM85.8 861.7h1.00v17.0h-1.00zM85.8 879.7h1.00v2.0h-1.00zM86.8 771.6h1.00v4.0h-1.00zM86.8 797.6h1.00v10.0h-1.00zM86.8 822.6h1.00v8.0h-1.00zM86.8 831.6h1.00v7.0h-1.00zM86.8 839.6h1.00v8.0h-1.00zM86.8 848.7h1.00v4.0h-1.00zM86.8 853.7h1.00v7.0h-1.00zM86.8 861.7h1.00v10.0h-1.00zM86.8 872.7h1.00v6.0h-1.00zM86.8 879.7h1.00v2.0h-1.00zM86.8 921.7h1.00v4.0h-1.00zM86.8 926.7h1.00v2.0h-1.00zM87.8 771.6h1.00v4.0h-1.00zM87.8 797.6h1.00v10.0h-1.00zM87.8 921.7h1.00v4.0h-1.00zM87.8 926.7h1.00v2.0h-1.00zM88.8 771.6h1.00v4.0h-1.00zM88.8 797.6h1.00v10.0h-1.00zM89.8 771.6h1.00v4.0h-1.00zM89.8 797.6h1.00v10.0h-1.00zM90.8 771.6h1.00v4.0h-1.00zM90.8 797.6h1.00v10.0h-1.00zM90.8 922.7h1.00v1.0h-1.00zM90.8 928.7h1.00v2.0h-1.00zM91.8 771.6h1.00v4.0h-1.00zM91.8 922.7h1.00v1.0h-1.00zM91.8 928.7h1.00v2.0h-1.00zM92.8 771.6h1.00v4.0h-1.00zM93.8 771.6h1.00v4.0h-1.00zM94.8 771.6h1.00v4.0h-1.00zM95.8 771.6h1.00v4.0h-1.00zM96.8 771.6h1.00v4.0h-1.00zM97.8 771.6h1.00v4.0h-1.00zM98.8 771.6h1.00v4.0h-1.00zM101.8 907.7h1.00v4.0h-1.00zM101.8 923.7h1.00v1.0h-1.00zM101.8 929.7h1.00v1.0h-1.00zM102.8 907.7h1.00v4.0h-1.00zM102.8 923.7h1.00v1.0h-1.00zM102.8 929.7h1.00v1.0h-1.00zM103.8 904.7h1.00v1.0h-1.00zM103.8 907.7h1.00v9.0h-1.00zM104.8 904.7h1.00v1.0h-1.00zM104.8 908.7h1.00v8.0h-1.00zM104.8 929.7h1.00v1.0h-1.00zM105.8 911.7h1.00v5.0h-1.00zM105.8 923.7h1.00v1.0h-1.00zM105.8 925.7h1.00v5.0h-1.00zM106.8 904.7h1.00v2.0h-1.00zM106.8 911.7h1.00v5.0h-1.00zM106.8 923.7h1.00v1.0h-1.00zM106.8 925.7h1.00v5.0h-1.00zM107.8 904.7h1.00v2.0h-1.00zM110.8 886.7h1.00v4.0h-1.00zM110.8 911.7h1.00v1.0h-1.00zM110.8 913.7h1.00v3.0h-1.00zM110.8 921.7h1.00v1.0h-1.00zM110.8 924.7h1.00v2.0h-1.00zM110.8 927.7h1.00v3.0h-1.00zM111.8 886.7h1.00v4.0h-1.00zM111.8 911.7h1.00v5.0h-1.00zM111.8 921.7h1.00v1.0h-1.00zM111.8 924.7h1.00v2.0h-1.00zM111.8 927.7h1.00v3.0h-1.00zM112.8 886.7h1.00v4.0h-1.00zM112.8 904.7h1.00v3.0h-1.00zM112.8 911.7h1.00v5.0h-1.00zM113.8 886.7h1.00v1.0h-1.00zM113.8 888.7h1.00v1.0h-1.00zM113.8 904.7h1.00v3.0h-1.00zM114.8 916.7h1.00v2.0h-1.00zM114.8 919.7h1.00v2.0h-1.00zM114.8 928.7h1.00v2.0h-1.00zM115.8 886.7h1.00v4.0h-1.00zM115.8 916.7h1.00v2.0h-1.00zM115.8 919.7h1.00v2.0h-1.00zM115.8 924.7h1.00v1.0h-1.00zM115.8 928.7h1.00v2.0h-1.00zM116.8 886.7h1.00v4.0h-1.00zM116.8 904.7h1.00v3.0h-1.00zM116.8 924.7h1.00v1.0h-1.00zM116.8 928.7h1.00v2.0h-1.00zM117.8 886.7h1.00v4.0h-1.00zM117.8 904.7h1.00v3.0h-1.00zM118.8 886.7h1.00v4.0h-1.00zM118.8 904.7h1.00v7.0h-1.00zM118.8 916.7h1.00v4.0h-1.00zM119.8 886.7h1.00v4.0h-1.00zM119.8 907.7h1.00v7.0h-1.00zM119.8 915.7h1.00v5.0h-1.00zM120.8 886.7h1.00v4.0h-1.00zM120.8 907.7h1.00v7.0h-1.00zM120.8 915.7h1.00v5.0h-1.00zM121.8 886.7h1.00v4.0h-1.00zM122.8 886.7h1.00v4.0h-1.00zM123.8 886.7h1.00v4.0h-1.00zM123.8 904.7h1.00v1.0h-1.00zM123.8 906.7h1.00v1.0h-1.00zM124.8 886.7h1.00v4.0h-1.00zM124.8 904.7h1.00v3.0h-1.00zM125.8 904.7h1.00v3.0h-1.00zM125.8 912.7h1.00v9.0h-1.00zM126.8 769.6h1.00v15.0h-1.00zM126.8 886.7h1.00v4.0h-1.00zM126.8 904.7h1.00v4.0h-1.00zM126.8 909.7h1.00v2.0h-1.00zM126.8 912.7h1.00v9.0h-1.00zM127.8 769.6h1.00v15.0h-1.00zM127.8 886.7h1.00v4.0h-1.00zM127.8 907.7h1.00v1.0h-1.00zM127.8 909.7h1.00v2.0h-1.00zM127.8 923.7h1.00v4.0h-1.00zM127.8 928.7h1.00v2.0h-1.00zM128.8 923.7h1.00v4.0h-1.00zM128.8 928.7h1.00v2.0h-1.00zM129.8 796.6h1.00v11.0h-1.00zM129.8 886.7h1.00v1.0h-1.00zM129.8 888.7h1.00v2.0h-1.00zM129.8 904.7h1.00v3.0h-1.00zM129.8 917.7h1.00v4.0h-1.00zM130.8 643.5h1.00v22.0h-1.00zM130.8 692.6h1.00v1.0h-1.00zM130.8 698.6h1.00v15.0h-1.00zM130.8 715.6h1.00v14.0h-1.00zM130.8 734.6h1.00v13.0h-1.00zM130.8 784.6h1.00v1.0h-1.00zM130.8 787.6h1.00v2.0h-1.00zM130.8 796.6h1.00v11.0h-1.00zM130.8 886.7h1.00v4.0h-1.00zM130.8 898.7h1.00v23.0h-1.00zM131.8 643.5h1.00v22.0h-1.00zM131.8 692.6h1.00v1.0h-1.00zM131.8 698.6h1.00v15.0h-1.00zM131.8 715.6h1.00v14.0h-1.00zM131.8 734.6h1.00v13.0h-1.00zM131.8 784.6h1.00v1.0h-1.00zM131.8 787.6h1.00v2.0h-1.00zM131.8 796.6h1.00v11.0h-1.00zM131.8 886.7h1.00v4.0h-1.00zM131.8 898.7h1.00v23.0h-1.00zM132.8 796.6h1.00v11.0h-1.00zM132.8 886.7h1.00v4.0h-1.00zM132.8 898.7h1.00v23.0h-1.00zM133.8 887.7h1.00v3.0h-1.00zM133.8 898.7h1.00v9.0h-1.00zM134.9 887.7h1.00v1.0h-1.00zM134.9 889.7h1.00v1.0h-1.00zM134.9 898.7h1.00v9.0h-1.00zM134.9 911.7h1.00v10.0h-1.00zM135.9 911.7h1.00v10.0h-1.00zM136.9 887.7h1.00v3.0h-1.00zM136.9 898.7h1.00v23.0h-1.00zM137.9 887.7h1.00v3.0h-1.00zM137.9 898.7h1.00v23.0h-1.00zM138.9 887.7h1.00v3.0h-1.00zM138.9 898.7h1.00v23.0h-1.00zM139.9 898.7h1.00v15.0h-1.00zM139.9 914.7h1.00v7.0h-1.00zM140.9 898.7h1.00v23.0h-1.00zM141.9 898.7h1.00v22.0h-1.00zM142.9 898.7h1.00v19.0h-1.00zM142.9 918.7h1.00v5.0h-1.00zM142.9 924.7h1.00v1.0h-1.00zM142.9 926.7h1.00v2.0h-1.00zM143.9 898.7h1.00v19.0h-1.00zM143.9 918.7h1.00v5.0h-1.00zM143.9 924.7h1.00v1.0h-1.00zM143.9 926.7h1.00v2.0h-1.00zM145.9 898.7h1.00v2.0h-1.00zM145.9 901.7h1.00v20.0h-1.00zM146.9 898.7h1.00v2.0h-1.00zM146.9 901.7h1.00v21.0h-1.00zM146.9 924.7h1.00v1.0h-1.00zM146.9 927.7h1.00v3.0h-1.00zM147.9 898.7h1.00v24.0h-1.00zM147.9 924.7h1.00v1.0h-1.00zM147.9 926.7h1.00v4.0h-1.00zM148.9 898.7h1.00v24.0h-1.00zM148.9 924.7h1.00v1.0h-1.00zM148.9 926.7h1.00v4.0h-1.00zM149.9 898.7h1.00v19.0h-1.00zM149.9 918.7h1.00v3.0h-1.00zM150.9 898.7h1.00v23.0h-1.00zM150.9 922.7h1.00v1.0h-1.00zM150.9 929.7h1.00v1.0h-1.00zM151.9 898.7h1.00v7.0h-1.00zM151.9 906.7h1.00v4.0h-1.00zM151.9 911.7h1.00v5.0h-1.00zM151.9 917.7h1.00v4.0h-1.00zM151.9 922.7h1.00v1.0h-1.00zM151.9 929.7h1.00v1.0h-1.00zM152.9 898.7h1.00v23.0h-1.00zM153.9 898.7h1.00v23.0h-1.00zM154.9 898.7h1.00v3.0h-1.00zM154.9 902.7h1.00v19.0h-1.00zM155.9 898.7h1.00v9.0h-1.00zM155.9 911.7h1.00v1.0h-1.00zM155.9 913.7h1.00v1.0h-1.00zM155.9 915.7h1.00v6.0h-1.00zM156.9 898.7h1.00v21.0h-1.00zM156.9 921.7h1.00v4.0h-1.00zM156.9 926.7h1.00v4.0h-1.00zM157.9 898.7h1.00v8.0h-1.00zM157.9 907.7h1.00v18.0h-1.00zM157.9 926.7h1.00v4.0h-1.00zM158.9 898.7h1.00v23.0h-1.00zM158.9 923.7h1.00v1.0h-1.00zM158.9 929.7h1.00v1.0h-1.00zM159.9 898.7h1.00v3.0h-1.00zM159.9 902.7h1.00v19.0h-1.00zM160.9 898.7h1.00v3.0h-1.00zM160.9 902.7h1.00v6.0h-1.00zM160.9 909.7h1.00v12.0h-1.00zM161.9 898.7h1.00v3.0h-1.00zM161.9 902.7h1.00v7.0h-1.00zM161.9 910.7h1.00v11.0h-1.00zM162.9 907.7h1.00v14.0h-1.00zM163.9 898.7h1.00v21.0h-1.00zM163.9 920.7h1.00v1.0h-1.00zM164.9 898.7h1.00v26.0h-1.00zM164.9 928.7h1.00v2.0h-1.00zM165.9 907.7h1.00v1.0h-1.00zM165.9 909.7h1.00v15.0h-1.00zM165.9 928.7h1.00v2.0h-1.00zM166.9 898.7h1.00v23.0h-1.00zM167.9 898.7h1.00v26.0h-1.00zM167.9 927.7h1.00v1.0h-1.00zM168.9 898.7h1.00v32.0h-1.00zM169.9 898.7h1.00v13.0h-1.00zM169.9 921.7h1.00v9.0h-1.00zM170.9 898.7h1.00v20.0h-1.00zM170.9 919.7h1.00v4.0h-1.00zM170.9 924.7h1.00v6.0h-1.00zM171.9 898.7h1.00v23.0h-1.00zM172.9 898.7h1.00v3.0h-1.00zM172.9 902.7h1.00v19.0h-1.00zM173.9 898.7h1.00v9.0h-1.00zM173.9 911.7h1.00v10.0h-1.00zM174.9 898.7h1.00v6.0h-1.00zM174.9 905.7h1.00v10.0h-1.00zM174.9 916.7h1.00v7.0h-1.00zM174.9 925.7h1.00v1.0h-1.00zM174.9 927.7h1.00v3.0h-1.00zM175.9 898.7h1.00v3.0h-1.00zM175.9 902.7h1.00v9.0h-1.00zM175.9 921.7h1.00v2.0h-1.00zM175.9 925.7h1.00v1.0h-1.00zM175.9 927.7h1.00v3.0h-1.00zM176.9 898.7h1.00v23.0h-1.00zM177.9 898.7h1.00v11.0h-1.00zM177.9 910.7h1.00v11.0h-1.00zM177.9 925.7h1.00v3.0h-1.00zM178.9 898.7h1.00v13.0h-1.00zM178.9 912.7h1.00v9.0h-1.00zM178.9 925.7h1.00v3.0h-1.00zM179.9 898.7h1.00v10.0h-1.00zM179.9 909.7h1.00v12.0h-1.00zM180.9 898.7h1.00v23.0h-1.00zM181.9 898.7h1.00v23.0h-1.00zM182.9 898.7h1.00v23.0h-1.00zM183.9 898.7h1.00v23.0h-1.00zM184.9 898.7h1.00v6.0h-1.00zM184.9 905.7h1.00v16.0h-1.00zM185.9 898.7h1.00v8.0h-1.00zM185.9 907.7h1.00v14.0h-1.00zM186.9 898.7h1.00v23.0h-1.00zM187.9 898.7h1.00v32.0h-1.00zM188.9 898.7h1.00v13.0h-1.00zM188.9 921.7h1.00v9.0h-1.00zM189.9 921.7h1.00v9.0h-1.00zM190.9 898.7h1.00v1.0h-1.00zM190.9 900.7h1.00v1.0h-1.00zM190.9 902.7h1.00v9.0h-1.00zM191.9 898.7h1.00v3.0h-1.00zM191.9 902.7h1.00v19.0h-1.00zM192.9 898.7h1.00v3.0h-1.00zM192.9 902.7h1.00v5.0h-1.00zM192.9 908.7h1.00v13.0h-1.00zM193.9 907.7h1.00v14.0h-1.00zM194.9 907.7h1.00v4.0h-1.00zM195.9 898.7h1.00v23.0h-1.00zM196.9 898.7h1.00v23.0h-1.00zM197.9 898.7h1.00v22.0h-1.00zM197.9 923.7h1.00v3.0h-1.00zM197.9 927.7h1.00v2.0h-1.00zM198.9 898.7h1.00v23.0h-1.00zM198.9 923.7h1.00v6.0h-1.00zM199.9 898.7h1.00v23.0h-1.00zM199.9 925.7h1.00v4.0h-1.00zM200.9 898.7h1.00v23.0h-1.00zM201.9 898.7h1.00v1.0h-1.00zM201.9 900.7h1.00v5.0h-1.00zM201.9 906.7h1.00v7.0h-1.00zM201.9 914.7h1.00v6.0h-1.00zM201.9 923.7h1.00v4.0h-1.00zM201.9 928.7h1.00v2.0h-1.00zM202.9 898.7h1.00v1.0h-1.00zM202.9 900.7h1.00v5.0h-1.00zM202.9 906.7h1.00v5.0h-1.00zM202.9 912.7h1.00v9.0h-1.00zM202.9 923.7h1.00v4.0h-1.00zM202.9 928.7h1.00v2.0h-1.00zM203.9 907.7h1.00v11.0h-1.00zM203.9 919.7h1.00v2.0h-1.00zM204.9 898.7h1.00v6.0h-1.00zM204.9 905.7h1.00v22.0h-1.00zM205.9 898.7h1.00v29.0h-1.00zM206.9 898.7h1.00v23.0h-1.00zM206.9 922.7h1.00v1.0h-1.00zM207.9 898.7h1.00v2.0h-1.00zM207.9 901.7h1.00v9.0h-1.00zM207.9 911.7h1.00v10.0h-1.00zM208.9 898.7h1.00v21.0h-1.00zM209.9 898.7h1.00v4.0h-1.00zM209.9 903.7h1.00v18.0h-1.00zM210.9 898.7h1.00v4.0h-1.00zM210.9 903.7h1.00v1.0h-1.00zM210.9 905.7h1.00v5.0h-1.00zM210.9 911.7h1.00v10.0h-1.00zM211.9 907.7h1.00v4.0h-1.00zM212.9 907.7h1.00v8.0h-1.00zM212.9 916.7h1.00v5.0h-1.00zM213.9 898.7h1.00v5.0h-1.00zM213.9 907.7h1.00v8.0h-1.00zM213.9 916.7h1.00v5.0h-1.00zM214.9 898.7h1.00v5.0h-1.00zM214.9 911.7h1.00v4.0h-1.00zM214.9 916.7h1.00v5.0h-1.00zM215.9 921.7h1.00v6.0h-1.00zM216.9 898.7h1.00v2.0h-1.00zM216.9 901.7h1.00v2.0h-1.00zM216.9 921.7h1.00v6.0h-1.00zM217.9 794.6h1.00v13.0h-1.00zM217.9 811.6h1.00v1.0h-1.00zM217.9 824.6h1.00v9.0h-1.00zM217.9 852.7h1.00v12.0h-1.00zM217.9 873.7h1.00v6.0h-1.00zM217.9 898.7h1.00v2.0h-1.00zM217.9 901.7h1.00v2.0h-1.00zM218.9 684.6h1.00v26.0h-1.00zM218.9 716.6h1.00v37.0h-1.00zM218.9 794.6h1.00v13.0h-1.00zM218.9 811.6h1.00v1.0h-1.00zM218.9 824.6h1.00v9.0h-1.00zM218.9 852.7h1.00v12.0h-1.00zM218.9 873.7h1.00v6.0h-1.00zM218.9 898.7h1.00v1.0h-1.00zM218.9 901.7h1.00v2.0h-1.00zM218.9 907.7h1.00v3.0h-1.00zM218.9 911.7h1.00v8.0h-1.00zM219.9 684.6h1.00v26.0h-1.00zM219.9 716.6h1.00v38.0h-1.00zM219.9 757.6h1.00v1.0h-1.00zM219.9 852.7h1.00v3.0h-1.00zM219.9 861.7h1.00v3.0h-1.00zM219.9 873.7h1.00v6.0h-1.00zM219.9 907.7h1.00v3.0h-1.00zM219.9 911.7h1.00v8.0h-1.00zM220.9 684.6h1.00v13.0h-1.00zM220.9 709.6h1.00v6.0h-1.00zM220.9 718.6h1.00v19.0h-1.00zM220.9 738.6h1.00v16.0h-1.00zM220.9 757.6h1.00v1.0h-1.00zM220.9 899.7h1.00v4.0h-1.00zM220.9 907.7h1.00v3.0h-1.00zM221.9 684.6h1.00v13.0h-1.00zM221.9 709.6h1.00v6.0h-1.00zM221.9 718.6h1.00v2.0h-1.00zM221.9 725.6h1.00v3.0h-1.00zM221.9 738.6h1.00v2.0h-1.00zM221.9 742.6h1.00v2.0h-1.00zM221.9 838.6h1.00v8.0h-1.00zM221.9 899.7h1.00v4.0h-1.00zM221.9 919.7h1.00v2.0h-1.00zM222.9 838.6h1.00v8.0h-1.00zM222.9 919.7h1.00v2.0h-1.00zM223.9 838.6h1.00v8.0h-1.00zM223.9 912.7h1.00v1.0h-1.00zM223.9 915.7h1.00v6.0h-1.00zM224.9 838.6h1.00v8.0h-1.00zM224.9 912.7h1.00v1.0h-1.00zM224.9 915.7h1.00v6.0h-1.00zM224.9 925.7h1.00v3.0h-1.00zM225.9 838.6h1.00v9.0h-1.00zM225.9 925.7h1.00v3.0h-1.00zM226.9 838.6h1.00v9.0h-1.00zM226.9 911.7h1.00v1.0h-1.00zM226.9 913.7h1.00v2.0h-1.00zM226.9 916.7h1.00v2.0h-1.00zM226.9 921.7h1.00v3.0h-1.00zM226.9 926.7h1.00v1.0h-1.00zM226.9 928.7h1.00v2.0h-1.00zM227.9 838.6h1.00v8.0h-1.00zM227.9 911.7h1.00v1.0h-1.00zM227.9 913.7h1.00v2.0h-1.00zM227.9 916.7h1.00v2.0h-1.00zM227.9 921.7h1.00v3.0h-1.00zM227.9 926.7h1.00v1.0h-1.00zM227.9 928.7h1.00v2.0h-1.00zM228.9 838.6h1.00v8.0h-1.00zM229.9 838.6h1.00v8.0h-1.00zM229.9 921.7h1.00v1.0h-1.00zM229.9 924.7h1.00v3.0h-1.00zM230.9 838.6h1.00v8.0h-1.00zM230.9 898.7h1.00v2.0h-1.00zM230.9 901.7h1.00v2.0h-1.00zM230.9 921.7h1.00v1.0h-1.00zM230.9 924.7h1.00v3.0h-1.00zM231.9 838.6h1.00v8.0h-1.00zM231.9 898.7h1.00v2.0h-1.00zM231.9 901.7h1.00v2.0h-1.00zM231.9 924.7h1.00v1.0h-1.00zM232.9 898.7h1.00v2.0h-1.00zM232.9 901.7h1.00v2.0h-1.00zM234.9 898.7h1.00v2.0h-1.00zM234.9 901.7h1.00v2.0h-1.00zM235.9 898.7h1.00v2.0h-1.00zM235.9 901.7h1.00v2.0h-1.00zM236.9 904.7h1.00v3.0h-1.00zM237.9 904.7h1.00v3.0h-1.00zM237.9 908.7h1.00v1.0h-1.00zM237.9 910.7h1.00v3.0h-1.00zM237.9 915.7h1.00v5.0h-1.00zM237.9 926.7h1.00v1.0h-1.00zM237.9 929.7h1.00v1.0h-1.00zM238.9 611.5h1.00v3.0h-1.00zM238.9 908.7h1.00v1.0h-1.00zM238.9 910.7h1.00v3.0h-1.00zM238.9 915.7h1.00v5.0h-1.00zM238.9 921.7h1.00v1.0h-1.00zM238.9 923.7h1.00v7.0h-1.00zM239.9 611.5h1.00v3.0h-1.00zM239.9 833.6h1.00v4.0h-1.00zM239.9 838.6h1.00v2.0h-1.00zM239.9 921.7h1.00v1.0h-1.00zM239.9 923.7h1.00v6.0h-1.00zM240.9 611.5h1.00v3.0h-1.00zM240.9 833.6h1.00v4.0h-1.00zM240.9 838.6h1.00v2.0h-1.00zM240.9 921.7h1.00v9.0h-1.00zM241.9 921.7h1.00v5.0h-1.00zM241.9 927.7h1.00v3.0h-1.00zM242.9 769.6h1.00v4.0h-1.00zM242.9 921.7h1.00v3.0h-1.00zM242.9 925.7h1.00v1.0h-1.00zM242.9 927.7h1.00v3.0h-1.00zM243.9 769.6h1.00v4.0h-1.00zM243.9 921.7h1.00v2.0h-1.00zM243.9 927.7h1.00v1.0h-1.00zM243.9 929.7h1.00v1.0h-1.00zM244.9 769.6h1.00v4.0h-1.00zM245.9 921.7h1.00v4.0h-1.00zM245.9 926.7h1.00v4.0h-1.00zM246.9 706.6h1.00v3.0h-1.00zM246.9 921.7h1.00v4.0h-1.00zM246.9 926.7h1.00v4.0h-1.00zM247.9 706.6h1.00v3.0h-1.00zM248.9 706.6h1.00v3.0h-1.00zM248.9 921.7h1.00v3.0h-1.00zM248.9 928.7h1.00v2.0h-1.00zM249.9 921.7h1.00v3.0h-1.00zM249.9 928.7h1.00v2.0h-1.00zM254.9 921.7h1.00v1.0h-1.00zM254.9 925.7h1.00v2.0h-1.00zM255.9 915.7h1.00v1.0h-1.00zM255.9 917.7h1.00v2.0h-1.00zM255.9 921.7h1.00v1.0h-1.00zM255.9 923.7h1.00v1.0h-1.00zM255.9 925.7h1.00v2.0h-1.00zM256.9 915.7h1.00v1.0h-1.00zM256.9 917.7h1.00v2.0h-1.00zM256.9 921.7h1.00v1.0h-1.00zM256.9 923.7h1.00v1.0h-1.00zM256.9 927.7h1.00v1.0h-1.00zM257.9 901.7h1.00v7.0h-1.00zM257.9 921.7h1.00v9.0h-1.00zM258.9 901.7h1.00v7.0h-1.00zM258.9 922.7h1.00v8.0h-1.00zM259.9 922.7h1.00v1.0h-1.00zM259.9 924.7h1.00v6.0h-1.00zM260.9 801.6h1.00v6.0h-1.00zM260.9 808.6h1.00v2.0h-1.00zM260.9 824.6h1.00v2.0h-1.00zM260.9 827.6h1.00v3.0h-1.00zM261.9 801.6h1.00v6.0h-1.00zM261.9 808.6h1.00v2.0h-1.00zM261.9 824.6h1.00v2.0h-1.00zM261.9 827.6h1.00v3.0h-1.00zM261.9 875.7h1.00v5.0h-1.00zM263.0 801.6h1.00v6.0h-1.00zM263.0 808.6h1.00v2.0h-1.00zM263.0 875.7h1.00v5.0h-1.00zM265.0 841.6h1.00v1.0h-1.00zM265.0 843.6h1.00v4.0h-1.00zM266.0 795.6h1.00v6.0h-1.00zM266.0 810.6h1.00v8.0h-1.00zM266.0 841.6h1.00v1.0h-1.00zM266.0 843.6h1.00v4.0h-1.00zM266.0 921.7h1.00v1.0h-1.00zM266.0 924.7h1.00v1.0h-1.00zM266.0 926.7h1.00v4.0h-1.00zM267.0 795.6h1.00v6.0h-1.00zM267.0 810.6h1.00v8.0h-1.00zM267.0 831.6h1.00v2.0h-1.00zM267.0 921.7h1.00v1.0h-1.00zM267.0 924.7h1.00v1.0h-1.00zM267.0 926.7h1.00v4.0h-1.00zM268.0 824.6h1.00v2.0h-1.00zM268.0 827.6h1.00v3.0h-1.00zM268.0 831.6h1.00v2.0h-1.00zM269.0 815.6h1.00v3.0h-1.00zM269.0 819.6h1.00v4.0h-1.00zM269.0 824.6h1.00v2.0h-1.00zM269.0 827.6h1.00v3.0h-1.00zM269.0 831.6h1.00v2.0h-1.00zM270.0 815.6h1.00v3.0h-1.00zM270.0 819.6h1.00v4.0h-1.00zM270.0 908.7h1.00v4.0h-1.00zM270.0 914.7h1.00v5.0h-1.00zM271.0 908.7h1.00v4.0h-1.00zM271.0 914.7h1.00v5.0h-1.00zM272.0 914.7h1.00v1.0h-1.00zM275.0 815.6h1.00v6.0h-1.00zM275.0 823.6h1.00v4.0h-1.00zM275.0 828.6h1.00v2.0h-1.00zM275.0 832.6h1.00v1.0h-1.00zM275.0 856.7h1.00v9.0h-1.00zM275.0 886.7h1.00v7.0h-1.00zM276.0 815.6h1.00v12.0h-1.00zM276.0 828.6h1.00v3.0h-1.00zM276.0 832.6h1.00v1.0h-1.00zM276.0 856.7h1.00v9.0h-1.00zM276.0 866.7h1.00v1.0h-1.00zM276.0 868.7h1.00v2.0h-1.00zM276.0 886.7h1.00v7.0h-1.00zM277.0 815.6h1.00v4.0h-1.00zM277.0 820.6h1.00v9.0h-1.00zM277.0 830.6h1.00v3.0h-1.00zM277.0 840.6h1.00v24.0h-1.00zM277.0 866.7h1.00v4.0h-1.00zM277.0 878.7h1.00v1.0h-1.00zM277.0 880.7h1.00v3.0h-1.00zM278.0 801.6h1.00v9.0h-1.00zM278.0 811.6h1.00v8.0h-1.00zM278.0 820.6h1.00v1.0h-1.00zM278.0 822.6h1.00v11.0h-1.00zM278.0 840.6h1.00v24.0h-1.00zM278.0 865.7h1.00v10.0h-1.00zM278.0 878.7h1.00v1.0h-1.00zM278.0 880.7h1.00v3.0h-1.00zM279.0 801.6h1.00v9.0h-1.00zM279.0 811.6h1.00v4.0h-1.00zM279.0 824.6h1.00v4.0h-1.00zM279.0 829.6h1.00v8.0h-1.00zM279.0 838.6h1.00v18.0h-1.00zM279.0 865.7h1.00v13.0h-1.00zM280.0 792.6h1.00v1.0h-1.00zM280.0 794.6h1.00v7.0h-1.00zM280.0 808.6h1.00v7.0h-1.00zM280.0 824.6h1.00v4.0h-1.00zM280.0 829.6h1.00v8.0h-1.00zM280.0 838.6h1.00v8.0h-1.00zM280.0 847.6h1.00v9.0h-1.00zM280.0 857.7h1.00v4.0h-1.00zM280.0 862.7h1.00v8.0h-1.00zM280.0 875.7h1.00v3.0h-1.00zM280.0 879.7h1.00v3.0h-1.00zM281.0 792.6h1.00v1.0h-1.00zM281.0 794.6h1.00v7.0h-1.00zM281.0 808.6h1.00v8.0h-1.00zM281.0 817.6h1.00v7.0h-1.00zM281.0 833.6h1.00v4.0h-1.00zM281.0 838.6h1.00v8.0h-1.00zM281.0 847.6h1.00v23.0h-1.00zM281.0 879.7h1.00v3.0h-1.00zM281.0 925.7h1.00v1.0h-1.00zM281.0 928.7h1.00v2.0h-1.00zM282.0 815.6h1.00v1.0h-1.00zM282.0 817.6h1.00v7.0h-1.00zM282.0 856.7h1.00v19.0h-1.00zM282.0 878.7h1.00v5.0h-1.00zM282.0 925.7h1.00v1.0h-1.00zM282.0 928.7h1.00v2.0h-1.00zM283.0 801.6h1.00v6.0h-1.00zM283.0 808.6h1.00v7.0h-1.00zM283.0 857.7h1.00v8.0h-1.00zM283.0 866.7h1.00v2.0h-1.00zM283.0 869.7h1.00v6.0h-1.00zM283.0 878.7h1.00v2.0h-1.00zM283.0 881.7h1.00v2.0h-1.00zM283.0 915.7h1.00v6.0h-1.00zM284.0 801.6h1.00v14.0h-1.00zM284.0 878.7h1.00v2.0h-1.00zM284.0 881.7h1.00v2.0h-1.00zM284.0 893.7h1.00v8.0h-1.00zM284.0 912.7h1.00v1.0h-1.00zM284.0 914.7h1.00v7.0h-1.00zM285.0 646.5h1.00v3.0h-1.00zM285.0 802.6h1.00v6.0h-1.00zM285.0 839.6h1.00v6.0h-1.00zM285.0 887.7h1.00v14.0h-1.00zM285.0 912.7h1.00v1.0h-1.00zM285.0 914.7h1.00v1.0h-1.00zM286.0 646.5h1.00v3.0h-1.00zM286.0 802.6h1.00v2.0h-1.00zM286.0 805.6h1.00v3.0h-1.00zM286.0 839.6h1.00v6.0h-1.00zM286.0 887.7h1.00v6.0h-1.00zM286.0 898.7h1.00v3.0h-1.00zM286.0 915.7h1.00v3.0h-1.00zM286.0 919.7h1.00v2.0h-1.00zM287.0 646.5h1.00v3.0h-1.00zM287.0 699.6h1.00v2.0h-1.00zM287.0 802.6h1.00v2.0h-1.00zM287.0 805.6h1.00v3.0h-1.00zM287.0 839.6h1.00v6.0h-1.00zM287.0 878.7h1.00v5.0h-1.00zM287.0 901.7h1.00v1.0h-1.00zM287.0 903.7h1.00v1.0h-1.00zM287.0 905.7h1.00v3.0h-1.00zM287.0 915.7h1.00v3.0h-1.00zM287.0 919.7h1.00v2.0h-1.00zM288.0 699.6h1.00v2.0h-1.00zM288.0 865.7h1.00v5.0h-1.00zM288.0 878.7h1.00v5.0h-1.00zM288.0 901.7h1.00v1.0h-1.00zM288.0 903.7h1.00v1.0h-1.00zM288.0 905.7h1.00v3.0h-1.00zM289.0 856.7h1.00v5.0h-1.00zM289.0 862.7h1.00v2.0h-1.00zM289.0 865.7h1.00v5.0h-1.00zM289.0 878.7h1.00v4.0h-1.00zM290.0 856.7h1.00v5.0h-1.00zM290.0 862.7h1.00v2.0h-1.00zM290.0 919.7h1.00v2.0h-1.00zM291.0 865.7h1.00v2.0h-1.00zM291.0 868.7h1.00v2.0h-1.00zM291.0 898.7h1.00v3.0h-1.00zM291.0 908.7h1.00v4.0h-1.00zM291.0 915.7h1.00v6.0h-1.00zM292.0 801.6h1.00v7.0h-1.00zM292.0 815.6h1.00v4.0h-1.00zM292.0 820.6h1.00v4.0h-1.00zM292.0 865.7h1.00v2.0h-1.00zM292.0 868.7h1.00v2.0h-1.00zM292.0 898.7h1.00v3.0h-1.00zM292.0 902.7h1.00v10.0h-1.00zM292.0 915.7h1.00v6.0h-1.00zM293.0 788.6h1.00v4.0h-1.00zM293.0 801.6h1.00v7.0h-1.00zM293.0 815.6h1.00v18.0h-1.00zM293.0 878.7h1.00v5.0h-1.00zM293.0 901.7h1.00v7.0h-1.00zM293.0 912.7h1.00v3.0h-1.00zM293.0 923.7h1.00v2.0h-1.00zM294.0 788.6h1.00v4.0h-1.00zM294.0 816.6h1.00v6.0h-1.00zM294.0 823.6h1.00v10.0h-1.00zM294.0 878.7h1.00v5.0h-1.00zM294.0 901.7h1.00v3.0h-1.00zM294.0 905.7h1.00v1.0h-1.00zM294.0 907.7h1.00v1.0h-1.00zM294.0 912.7h1.00v3.0h-1.00zM294.0 923.7h1.00v2.0h-1.00zM295.0 901.7h1.00v7.0h-1.00zM295.0 912.7h1.00v3.0h-1.00zM296.0 775.6h1.00v3.0h-1.00zM296.0 901.7h1.00v7.0h-1.00zM296.0 912.7h1.00v3.0h-1.00zM297.0 775.6h1.00v3.0h-1.00zM297.0 788.6h1.00v9.0h-1.00zM297.0 798.6h1.00v3.0h-1.00zM297.0 808.6h1.00v1.0h-1.00zM297.0 810.6h1.00v5.0h-1.00zM297.0 876.7h1.00v2.0h-1.00zM297.0 926.7h1.00v1.0h-1.00zM298.0 775.6h1.00v3.0h-1.00zM298.0 788.6h1.00v9.0h-1.00zM298.0 798.6h1.00v3.0h-1.00zM298.0 802.6h1.00v22.0h-1.00zM298.0 847.6h1.00v4.0h-1.00zM298.0 852.7h1.00v5.0h-1.00zM298.0 859.7h1.00v3.0h-1.00zM298.0 863.7h1.00v11.0h-1.00zM298.0 876.7h1.00v2.0h-1.00zM298.0 919.7h1.00v2.0h-1.00zM298.0 926.7h1.00v1.0h-1.00zM299.0 775.6h1.00v3.0h-1.00zM299.0 788.6h1.00v1.0h-1.00zM299.0 790.6h1.00v3.0h-1.00zM299.0 794.6h1.00v6.0h-1.00zM299.0 802.6h1.00v22.0h-1.00zM299.0 833.6h1.00v18.0h-1.00zM299.0 852.7h1.00v22.0h-1.00zM299.0 875.7h1.00v3.0h-1.00zM299.0 919.7h1.00v2.0h-1.00zM300.0 701.6h1.00v2.0h-1.00zM300.0 729.6h1.00v3.0h-1.00zM300.0 759.6h1.00v8.0h-1.00zM300.0 768.6h1.00v5.0h-1.00zM300.0 775.6h1.00v2.0h-1.00zM300.0 784.6h1.00v5.0h-1.00zM300.0 792.6h1.00v1.0h-1.00zM300.0 794.6h1.00v6.0h-1.00zM300.0 815.6h1.00v9.0h-1.00zM300.0 825.6h1.00v22.0h-1.00zM300.0 856.7h1.00v18.0h-1.00zM300.0 875.7h1.00v8.0h-1.00zM300.0 899.7h1.00v2.0h-1.00zM301.0 701.6h1.00v2.0h-1.00zM301.0 729.6h1.00v3.0h-1.00zM301.0 759.6h1.00v8.0h-1.00zM301.0 768.6h1.00v5.0h-1.00zM301.0 784.6h1.00v5.0h-1.00zM301.0 790.6h1.00v2.0h-1.00zM301.0 801.6h1.00v6.0h-1.00zM301.0 808.6h1.00v7.0h-1.00zM301.0 816.6h1.00v1.0h-1.00zM301.0 818.6h1.00v6.0h-1.00zM301.0 825.6h1.00v8.0h-1.00zM301.0 838.6h1.00v4.0h-1.00zM301.0 843.6h1.00v4.0h-1.00zM301.0 875.7h1.00v8.0h-1.00zM301.0 899.7h1.00v2.0h-1.00zM302.0 729.6h1.00v3.0h-1.00zM302.0 788.6h1.00v1.0h-1.00zM302.0 790.6h1.00v2.0h-1.00zM302.0 801.6h1.00v6.0h-1.00zM302.0 808.6h1.00v16.0h-1.00zM302.0 833.6h1.00v1.0h-1.00zM302.0 836.6h1.00v2.0h-1.00zM302.0 856.7h1.00v1.0h-1.00zM302.0 858.7h1.00v10.0h-1.00zM302.0 869.7h1.00v1.0h-1.00zM302.0 875.7h1.00v3.0h-1.00zM303.0 801.6h1.00v5.0h-1.00zM303.0 808.6h1.00v11.0h-1.00zM303.0 820.6h1.00v3.0h-1.00zM303.0 833.6h1.00v1.0h-1.00zM303.0 836.6h1.00v2.0h-1.00zM303.0 856.7h1.00v1.0h-1.00zM303.0 858.7h1.00v10.0h-1.00zM303.0 869.7h1.00v1.0h-1.00zM305.0 801.6h1.00v7.0h-1.00zM305.0 833.6h1.00v2.0h-1.00zM305.0 836.6h1.00v10.0h-1.00zM305.0 857.7h1.00v1.0h-1.00zM305.0 859.7h1.00v15.0h-1.00zM305.0 875.7h1.00v4.0h-1.00zM305.0 880.7h1.00v1.0h-1.00zM305.0 882.7h1.00v1.0h-1.00zM306.0 801.6h1.00v7.0h-1.00zM306.0 833.6h1.00v2.0h-1.00zM306.0 836.6h1.00v11.0h-1.00zM306.0 857.7h1.00v1.0h-1.00zM306.0 859.7h1.00v20.0h-1.00zM306.0 880.7h1.00v3.0h-1.00zM307.0 801.6h1.00v7.0h-1.00zM307.0 824.6h1.00v2.0h-1.00zM307.0 827.6h1.00v18.0h-1.00zM307.0 846.6h1.00v1.0h-1.00zM307.0 865.7h1.00v14.0h-1.00zM307.0 880.7h1.00v3.0h-1.00zM308.0 824.6h1.00v2.0h-1.00zM308.0 827.6h1.00v11.0h-1.00zM308.0 875.7h1.00v2.0h-1.00zM309.0 808.6h1.00v7.0h-1.00zM309.0 833.6h1.00v3.0h-1.00zM309.0 837.6h1.00v1.0h-1.00zM309.0 857.7h1.00v1.0h-1.00zM309.0 859.7h1.00v1.0h-1.00zM309.0 861.7h1.00v4.0h-1.00zM309.0 870.7h1.00v8.0h-1.00zM310.0 792.6h1.00v9.0h-1.00zM310.0 804.6h1.00v11.0h-1.00zM310.0 825.6h1.00v1.0h-1.00zM310.0 827.6h1.00v5.0h-1.00zM310.0 833.6h1.00v5.0h-1.00zM310.0 847.6h1.00v5.0h-1.00zM310.0 854.7h1.00v2.0h-1.00zM310.0 857.7h1.00v1.0h-1.00zM310.0 859.7h1.00v1.0h-1.00zM310.0 861.7h1.00v4.0h-1.00zM310.0 870.7h1.00v8.0h-1.00zM311.0 610.5h1.00v3.0h-1.00zM311.0 759.6h1.00v18.0h-1.00zM311.0 779.6h1.00v10.0h-1.00zM311.0 792.6h1.00v10.0h-1.00zM311.0 803.6h1.00v12.0h-1.00zM311.0 824.6h1.00v2.0h-1.00zM311.0 827.6h1.00v5.0h-1.00zM311.0 833.6h1.00v5.0h-1.00zM311.0 847.6h1.00v5.0h-1.00zM311.0 854.7h1.00v2.0h-1.00zM311.0 898.7h1.00v1.0h-1.00zM311.0 900.7h1.00v1.0h-1.00zM312.0 610.5h1.00v3.0h-1.00zM312.0 759.6h1.00v18.0h-1.00zM312.0 779.6h1.00v10.0h-1.00zM312.0 801.6h1.00v1.0h-1.00zM312.0 803.6h1.00v5.0h-1.00zM312.0 815.6h1.00v3.0h-1.00zM312.0 819.6h1.00v3.0h-1.00zM312.0 823.6h1.00v4.0h-1.00zM312.0 828.6h1.00v3.0h-1.00zM312.0 838.6h1.00v9.0h-1.00zM312.0 865.7h1.00v3.0h-1.00zM312.0 869.7h1.00v1.0h-1.00zM312.0 898.7h1.00v3.0h-1.00zM312.0 912.7h1.00v3.0h-1.00zM313.0 610.5h1.00v3.0h-1.00zM313.0 759.6h1.00v15.0h-1.00zM313.0 808.6h1.00v10.0h-1.00zM313.0 819.6h1.00v3.0h-1.00zM313.0 823.6h1.00v6.0h-1.00zM313.0 830.6h1.00v2.0h-1.00zM313.0 838.6h1.00v9.0h-1.00zM313.0 856.7h1.00v12.0h-1.00zM313.0 869.7h1.00v1.0h-1.00zM313.0 898.7h1.00v3.0h-1.00zM313.0 912.7h1.00v3.0h-1.00zM313.0 916.7h1.00v3.0h-1.00zM314.0 808.6h1.00v10.0h-1.00zM314.0 819.6h1.00v3.0h-1.00zM314.0 823.6h1.00v1.0h-1.00zM314.0 826.6h1.00v3.0h-1.00zM314.0 831.6h1.00v1.0h-1.00zM314.0 838.6h1.00v9.0h-1.00zM314.0 856.7h1.00v9.0h-1.00zM314.0 916.7h1.00v3.0h-1.00zM314.0 928.7h1.00v1.0h-1.00zM315.0 928.7h1.00v1.0h-1.00zM316.0 599.5h1.00v19.0h-1.00zM316.0 621.5h1.00v18.0h-1.00zM316.0 808.6h1.00v3.0h-1.00zM316.0 812.6h1.00v2.0h-1.00zM316.0 875.7h1.00v1.0h-1.00zM316.0 877.7h1.00v1.0h-1.00zM317.0 599.5h1.00v19.0h-1.00zM317.0 621.5h1.00v18.0h-1.00zM317.0 759.6h1.00v19.0h-1.00zM317.0 784.6h1.00v1.0h-1.00zM317.0 789.6h1.00v3.0h-1.00zM317.0 808.6h1.00v3.0h-1.00zM317.0 812.6h1.00v2.0h-1.00zM317.0 875.7h1.00v1.0h-1.00zM317.0 877.7h1.00v1.0h-1.00zM317.0 893.7h1.00v5.0h-1.00zM317.0 901.7h1.00v2.0h-1.00zM317.0 904.7h1.00v4.0h-1.00zM318.0 599.5h1.00v19.0h-1.00zM318.0 621.5h1.00v18.0h-1.00zM318.0 759.6h1.00v19.0h-1.00zM318.0 784.6h1.00v1.0h-1.00zM318.0 789.6h1.00v3.0h-1.00zM318.0 808.6h1.00v3.0h-1.00zM318.0 812.6h1.00v2.0h-1.00zM318.0 893.7h1.00v5.0h-1.00zM318.0 901.7h1.00v2.0h-1.00zM318.0 904.7h1.00v4.0h-1.00zM319.0 789.6h1.00v3.0h-1.00zM319.0 901.7h1.00v7.0h-1.00zM320.0 901.7h1.00v7.0h-1.00zM320.0 915.7h1.00v1.0h-1.00zM320.0 918.7h1.00v1.0h-1.00zM321.0 788.6h1.00v4.0h-1.00zM321.0 801.6h1.00v4.0h-1.00zM321.0 806.6h1.00v1.0h-1.00zM321.0 824.6h1.00v4.0h-1.00zM321.0 829.6h1.00v4.0h-1.00zM321.0 915.7h1.00v1.0h-1.00zM321.0 918.7h1.00v1.0h-1.00zM322.0 761.6h1.00v25.0h-1.00zM322.0 788.6h1.00v4.0h-1.00zM322.0 801.6h1.00v4.0h-1.00zM322.0 806.6h1.00v2.0h-1.00zM322.0 824.6h1.00v4.0h-1.00zM322.0 829.6h1.00v4.0h-1.00zM322.0 919.7h1.00v2.0h-1.00zM323.0 761.6h1.00v25.0h-1.00zM323.0 801.6h1.00v4.0h-1.00zM323.0 806.6h1.00v2.0h-1.00zM323.0 919.7h1.00v2.0h-1.00zM324.0 793.6h1.00v7.0h-1.00zM324.0 815.6h1.00v3.0h-1.00zM324.0 819.6h1.00v3.0h-1.00zM324.0 823.6h1.00v1.0h-1.00zM324.0 901.7h1.00v7.0h-1.00zM325.0 793.6h1.00v7.0h-1.00zM325.0 815.6h1.00v3.0h-1.00zM325.0 819.6h1.00v3.0h-1.00zM325.0 823.6h1.00v1.0h-1.00zM325.0 901.7h1.00v7.0h-1.00z" fill="#0f4e73" shape-rendering="crispEdges"/>
<path d="M85.8 678.5h1.00v2.0h-1.00zM86.8 678.5h1.00v3.0h-1.00zM88.8 678.5h1.00v1.0h-1.00zM88.8 680.5h1.00v1.0h-1.00zM89.8 678.5h1.00v2.0h-1.00zM90.8 678.5h1.00v3.0h-1.00zM91.8 678.5h1.00v3.0h-1.00zM92.8 678.5h1.00v3.0h-1.00zM93.8 678.5h1.00v3.0h-1.00zM94.8 679.5h1.00v2.0h-1.00zM96.8 678.5h1.00v3.0h-1.00zM99.8 678.5h1.00v3.0h-1.00zM130.8 677.5h1.00v1.0h-1.00zM130.8 679.5h1.00v3.0h-1.00zM131.8 677.5h1.00v5.0h-1.00zM131.8 775.6h1.00v1.0h-1.00zM132.8 677.5h1.00v5.0h-1.00zM132.8 774.6h1.00v2.0h-1.00zM133.8 677.5h1.00v1.0h-1.00zM133.8 679.5h1.00v3.0h-1.00zM133.8 774.6h1.00v2.0h-1.00zM134.9 677.5h1.00v5.0h-1.00zM135.9 677.5h1.00v5.0h-1.00zM135.9 774.6h1.00v1.0h-1.00zM136.9 677.5h1.00v5.0h-1.00zM136.9 774.6h1.00v2.0h-1.00zM137.9 677.5h1.00v3.0h-1.00zM137.9 681.5h1.00v1.0h-1.00zM137.9 774.6h1.00v2.0h-1.00zM138.9 677.5h1.00v5.0h-1.00zM138.9 774.6h1.00v1.0h-1.00zM139.9 677.5h1.00v1.0h-1.00zM139.9 679.5h1.00v3.0h-1.00zM139.9 774.6h1.00v1.0h-1.00zM139.9 890.7h1.00v1.0h-1.00zM140.9 677.5h1.00v5.0h-1.00zM140.9 775.6h1.00v1.0h-1.00zM140.9 890.7h1.00v1.0h-1.00zM141.9 677.5h1.00v5.0h-1.00zM141.9 774.6h1.00v2.0h-1.00zM141.9 890.7h1.00v2.0h-1.00zM142.9 678.5h1.00v4.0h-1.00zM142.9 774.6h1.00v2.0h-1.00zM142.9 890.7h1.00v1.0h-1.00zM143.9 677.5h1.00v4.0h-1.00zM143.9 890.7h1.00v2.0h-1.00zM144.9 677.5h1.00v5.0h-1.00zM144.9 775.6h1.00v1.0h-1.00zM144.9 890.7h1.00v2.0h-1.00zM145.9 677.5h1.00v3.0h-1.00zM145.9 681.5h1.00v1.0h-1.00zM145.9 774.6h1.00v1.0h-1.00zM145.9 890.7h1.00v1.0h-1.00zM146.9 677.5h1.00v5.0h-1.00zM146.9 774.6h1.00v1.0h-1.00zM146.9 890.7h1.00v2.0h-1.00zM147.9 677.5h1.00v5.0h-1.00zM147.9 774.6h1.00v1.0h-1.00zM147.9 890.7h1.00v2.0h-1.00zM148.9 677.5h1.00v5.0h-1.00zM148.9 774.6h1.00v1.0h-1.00zM148.9 890.7h1.00v2.0h-1.00zM149.9 677.5h1.00v5.0h-1.00zM149.9 890.7h1.00v2.0h-1.00zM150.9 677.5h1.00v2.0h-1.00zM150.9 681.5h1.00v1.0h-1.00zM150.9 774.6h1.00v2.0h-1.00zM150.9 890.7h1.00v2.0h-1.00zM151.9 677.5h1.00v5.0h-1.00zM151.9 774.6h1.00v2.0h-1.00zM151.9 890.7h1.00v2.0h-1.00zM152.9 677.5h1.00v1.0h-1.00zM152.9 679.5h1.00v3.0h-1.00zM152.9 774.6h1.00v1.0h-1.00zM152.9 890.7h1.00v2.0h-1.00zM153.9 677.5h1.00v5.0h-1.00zM153.9 775.6h1.00v1.0h-1.00zM153.9 890.7h1.00v2.0h-1.00zM154.9 677.5h1.00v3.0h-1.00zM154.9 681.5h1.00v1.0h-1.00zM154.9 774.6h1.00v1.0h-1.00zM154.9 891.7h1.00v1.0h-1.00zM155.9 677.5h1.00v5.0h-1.00zM155.9 774.6h1.00v2.0h-1.00zM155.9 890.7h1.00v2.0h-1.00zM156.9 677.5h1.00v1.0h-1.00zM156.9 679.5h1.00v3.0h-1.00zM156.9 774.6h1.00v1.0h-1.00zM156.9 890.7h1.00v2.0h-1.00zM157.9 677.5h1.00v5.0h-1.00zM157.9 774.6h1.00v2.0h-1.00zM158.9 677.5h1.00v5.0h-1.00zM158.9 774.6h1.00v1.0h-1.00zM158.9 890.7h1.00v2.0h-1.00zM159.9 677.5h1.00v5.0h-1.00zM159.9 775.6h1.00v1.0h-1.00zM159.9 890.7h1.00v2.0h-1.00zM160.9 677.5h1.00v5.0h-1.00zM160.9 774.6h1.00v1.0h-1.00zM160.9 890.7h1.00v2.0h-1.00zM161.9 677.5h1.00v2.0h-1.00zM161.9 680.5h1.00v2.0h-1.00zM162.9 677.5h1.00v1.0h-1.00zM162.9 679.5h1.00v1.0h-1.00zM162.9 681.5h1.00v1.0h-1.00zM162.9 775.6h1.00v1.0h-1.00zM162.9 891.7h1.00v1.0h-1.00zM163.9 677.5h1.00v5.0h-1.00zM163.9 774.6h1.00v1.0h-1.00zM163.9 890.7h1.00v2.0h-1.00zM164.9 677.5h1.00v5.0h-1.00zM164.9 774.6h1.00v1.0h-1.00zM164.9 890.7h1.00v2.0h-1.00zM165.9 677.5h1.00v5.0h-1.00zM165.9 774.6h1.00v2.0h-1.00zM165.9 890.7h1.00v2.0h-1.00zM166.9 677.5h1.00v5.0h-1.00zM166.9 890.7h1.00v2.0h-1.00zM167.9 677.5h1.00v3.0h-1.00zM167.9 681.5h1.00v1.0h-1.00zM167.9 775.6h1.00v1.0h-1.00zM167.9 890.7h1.00v2.0h-1.00zM168.9 677.5h1.00v4.0h-1.00zM168.9 774.6h1.00v2.0h-1.00zM168.9 891.7h1.00v1.0h-1.00zM169.9 677.5h1.00v5.0h-1.00zM169.9 774.6h1.00v2.0h-1.00zM169.9 890.7h1.00v2.0h-1.00zM170.9 677.5h1.00v1.0h-1.00zM170.9 679.5h1.00v3.0h-1.00zM170.9 774.6h1.00v2.0h-1.00zM170.9 890.7h1.00v2.0h-1.00zM171.9 677.5h1.00v4.0h-1.00zM171.9 890.7h1.00v2.0h-1.00zM172.9 677.5h1.00v5.0h-1.00zM172.9 774.6h1.00v2.0h-1.00zM172.9 890.7h1.00v2.0h-1.00zM173.9 677.5h1.00v5.0h-1.00zM173.9 775.6h1.00v1.0h-1.00zM173.9 890.7h1.00v2.0h-1.00zM174.9 677.5h1.00v5.0h-1.00zM174.9 775.6h1.00v1.0h-1.00zM174.9 890.7h1.00v2.0h-1.00zM175.9 677.5h1.00v5.0h-1.00zM175.9 890.7h1.00v2.0h-1.00zM176.9 677.5h1.00v3.0h-1.00zM176.9 681.5h1.00v1.0h-1.00zM176.9 775.6h1.00v1.0h-1.00zM176.9 890.7h1.00v2.0h-1.00zM177.9 677.5h1.00v4.0h-1.00zM177.9 775.6h1.00v1.0h-1.00zM177.9 891.7h1.00v1.0h-1.00zM178.9 677.5h1.00v5.0h-1.00zM178.9 774.6h1.00v2.0h-1.00zM178.9 890.7h1.00v1.0h-1.00zM179.9 677.5h1.00v3.0h-1.00zM179.9 681.5h1.00v1.0h-1.00zM179.9 774.6h1.00v2.0h-1.00zM179.9 890.7h1.00v2.0h-1.00zM180.9 677.5h1.00v5.0h-1.00zM180.9 774.6h1.00v2.0h-1.00zM180.9 890.7h1.00v2.0h-1.00zM181.9 677.5h1.00v5.0h-1.00zM181.9 775.6h1.00v1.0h-1.00zM181.9 890.7h1.00v2.0h-1.00zM182.9 678.5h1.00v4.0h-1.00zM182.9 774.6h1.00v2.0h-1.00zM182.9 890.7h1.00v2.0h-1.00zM183.9 677.5h1.00v5.0h-1.00zM183.9 774.6h1.00v1.0h-1.00zM183.9 890.7h1.00v2.0h-1.00zM184.9 677.5h1.00v2.0h-1.00zM184.9 680.5h1.00v2.0h-1.00zM184.9 891.7h1.00v1.0h-1.00zM185.9 677.5h1.00v3.0h-1.00zM185.9 681.5h1.00v1.0h-1.00zM185.9 890.7h1.00v2.0h-1.00zM186.9 678.5h1.00v3.0h-1.00zM186.9 890.7h1.00v1.0h-1.00zM187.9 678.5h1.00v4.0h-1.00zM187.9 774.6h1.00v2.0h-1.00zM187.9 890.7h1.00v2.0h-1.00zM188.9 677.5h1.00v5.0h-1.00zM188.9 774.6h1.00v2.0h-1.00zM188.9 890.7h1.00v2.0h-1.00zM189.9 677.5h1.00v5.0h-1.00zM189.9 774.6h1.00v1.0h-1.00zM189.9 890.7h1.00v2.0h-1.00zM190.9 677.5h1.00v2.0h-1.00zM190.9 681.5h1.00v1.0h-1.00zM190.9 774.6h1.00v2.0h-1.00zM190.9 890.7h1.00v1.0h-1.00zM191.9 677.5h1.00v5.0h-1.00zM191.9 774.6h1.00v2.0h-1.00zM191.9 890.7h1.00v2.0h-1.00zM192.9 678.5h1.00v4.0h-1.00zM192.9 774.6h1.00v2.0h-1.00zM192.9 890.7h1.00v2.0h-1.00zM193.9 677.5h1.00v5.0h-1.00zM193.9 774.6h1.00v2.0h-1.00zM193.9 890.7h1.00v2.0h-1.00zM194.9 677.5h1.00v5.0h-1.00zM194.9 890.7h1.00v2.0h-1.00zM195.9 678.5h1.00v4.0h-1.00zM195.9 775.6h1.00v1.0h-1.00zM196.9 677.5h1.00v5.0h-1.00zM196.9 891.7h1.00v1.0h-1.00zM197.9 677.5h1.00v5.0h-1.00zM197.9 775.6h1.00v1.0h-1.00zM197.9 890.7h1.00v1.0h-1.00zM198.9 677.5h1.00v3.0h-1.00zM198.9 681.5h1.00v1.0h-1.00zM198.9 774.6h1.00v2.0h-1.00zM198.9 890.7h1.00v2.0h-1.00zM199.9 677.5h1.00v5.0h-1.00zM199.9 774.6h1.00v1.0h-1.00zM199.9 890.7h1.00v1.0h-1.00zM200.9 677.5h1.00v5.0h-1.00zM200.9 774.6h1.00v2.0h-1.00zM200.9 890.7h1.00v2.0h-1.00zM201.9 677.5h1.00v5.0h-1.00zM201.9 774.6h1.00v1.0h-1.00zM201.9 891.7h1.00v1.0h-1.00zM202.9 677.5h1.00v3.0h-1.00zM202.9 681.5h1.00v1.0h-1.00zM202.9 774.6h1.00v1.0h-1.00zM202.9 890.7h1.00v2.0h-1.00zM203.9 677.5h1.00v5.0h-1.00zM203.9 774.6h1.00v1.0h-1.00zM203.9 891.7h1.00v1.0h-1.00zM204.9 677.5h1.00v5.0h-1.00zM204.9 774.6h1.00v2.0h-1.00zM204.9 890.7h1.00v2.0h-1.00zM205.9 678.5h1.00v2.0h-1.00zM205.9 681.5h1.00v1.0h-1.00zM205.9 774.6h1.00v1.0h-1.00zM205.9 891.7h1.00v1.0h-1.00zM206.9 678.5h1.00v4.0h-1.00zM206.9 775.6h1.00v1.0h-1.00zM206.9 890.7h1.00v2.0h-1.00zM207.9 677.5h1.00v5.0h-1.00zM207.9 775.6h1.00v1.0h-1.00zM207.9 890.7h1.00v2.0h-1.00zM208.9 677.5h1.00v2.0h-1.00zM208.9 680.5h1.00v2.0h-1.00zM208.9 890.7h1.00v1.0h-1.00zM209.9 678.5h1.00v3.0h-1.00zM209.9 774.6h1.00v2.0h-1.00zM209.9 890.7h1.00v2.0h-1.00zM210.9 677.5h1.00v2.0h-1.00zM210.9 680.5h1.00v2.0h-1.00zM210.9 774.6h1.00v2.0h-1.00zM210.9 890.7h1.00v2.0h-1.00zM211.9 677.5h1.00v5.0h-1.00zM211.9 774.6h1.00v2.0h-1.00zM211.9 890.7h1.00v2.0h-1.00zM212.9 677.5h1.00v5.0h-1.00zM212.9 774.6h1.00v1.0h-1.00zM212.9 890.7h1.00v1.0h-1.00zM213.9 890.7h1.00v2.0h-1.00zM214.9 891.7h1.00v1.0h-1.00zM215.9 890.7h1.00v2.0h-1.00zM216.9 890.7h1.00v2.0h-1.00zM217.9 890.7h1.00v2.0h-1.00zM218.9 890.7h1.00v1.0h-1.00zM219.9 890.7h1.00v2.0h-1.00zM220.9 890.7h1.00v2.0h-1.00zM221.9 890.7h1.00v2.0h-1.00zM222.9 890.7h1.00v2.0h-1.00zM223.9 890.7h1.00v2.0h-1.00zM224.9 890.7h1.00v2.0h-1.00zM225.9 890.7h1.00v2.0h-1.00zM226.9 890.7h1.00v2.0h-1.00zM227.9 678.5h1.00v3.0h-1.00zM227.9 890.7h1.00v2.0h-1.00zM228.9 679.5h1.00v1.0h-1.00zM228.9 890.7h1.00v2.0h-1.00zM229.9 890.7h1.00v2.0h-1.00zM230.9 890.7h1.00v2.0h-1.00zM231.9 890.7h1.00v2.0h-1.00zM232.9 678.5h1.00v3.0h-1.00zM232.9 890.7h1.00v2.0h-1.00zM233.9 890.7h1.00v2.0h-1.00zM234.9 678.5h1.00v2.0h-1.00zM234.9 891.7h1.00v1.0h-1.00zM235.9 890.7h1.00v1.0h-1.00zM236.9 890.7h1.00v2.0h-1.00zM237.9 678.5h1.00v3.0h-1.00zM237.9 890.7h1.00v2.0h-1.00zM238.9 890.7h1.00v2.0h-1.00zM239.9 679.5h1.00v2.0h-1.00zM242.9 679.5h1.00v2.0h-1.00zM243.9 678.5h1.00v2.0h-1.00zM244.9 678.5h1.00v3.0h-1.00zM254.9 679.5h1.00v1.0h-1.00zM261.9 679.5h1.00v2.0h-1.00zM263.0 680.5h1.00v1.0h-1.00zM268.0 678.5h1.00v3.0h-1.00zM273.0 678.5h1.00v3.0h-1.00zM274.0 679.5h1.00v2.0h-1.00zM275.0 678.5h1.00v1.0h-1.00zM275.0 680.5h1.00v1.0h-1.00zM276.0 678.5h1.00v3.0h-1.00zM278.0 678.5h1.00v1.0h-1.00zM278.0 680.5h1.00v1.0h-1.00zM280.0 678.5h1.00v3.0h-1.00zM281.0 678.5h1.00v2.0h-1.00zM283.0 678.5h1.00v1.0h-1.00zM283.0 680.5h1.00v1.0h-1.00zM285.0 678.5h1.00v1.0h-1.00zM285.0 680.5h1.00v1.0h-1.00zM286.0 678.5h1.00v1.0h-1.00zM286.0 680.5h1.00v1.0h-1.00zM294.0 678.5h1.00v3.0h-1.00zM295.0 678.5h1.00v2.0h-1.00zM303.0 678.5h1.00v2.0h-1.00zM304.0 678.5h1.00v2.0h-1.00z" fill="#c8c3bd" shape-rendering="crispEdges"/>
<path d="M99.8 846.6h1.00v1.0h-1.00zM102.8 846.6h1.00v1.0h-1.00zM104.8 846.6h1.00v1.0h-1.00zM105.8 846.6h1.00v1.0h-1.00zM106.8 846.6h1.00v1.0h-1.00zM107.8 846.6h1.00v1.0h-1.00zM108.8 846.6h1.00v1.0h-1.00zM109.8 846.6h1.00v1.0h-1.00zM110.8 846.6h1.00v1.0h-1.00zM111.8 846.6h1.00v1.0h-1.00zM112.8 846.6h1.00v1.0h-1.00zM113.8 846.6h1.00v1.0h-1.00zM114.8 846.6h1.00v1.0h-1.00zM115.8 846.6h1.00v1.0h-1.00zM117.8 846.6h1.00v1.0h-1.00zM118.8 846.6h1.00v1.0h-1.00zM120.8 846.6h1.00v1.0h-1.00zM121.8 846.6h1.00v1.0h-1.00zM122.8 846.6h1.00v1.0h-1.00zM124.8 846.6h1.00v1.0h-1.00zM125.8 846.6h1.00v1.0h-1.00zM127.8 846.6h1.00v1.0h-1.00zM128.8 846.6h1.00v1.0h-1.00zM131.8 846.6h1.00v1.0h-1.00zM132.8 846.6h1.00v1.0h-1.00zM133.8 846.6h1.00v1.0h-1.00zM134.9 846.6h1.00v1.0h-1.00zM135.9 846.6h1.00v1.0h-1.00zM136.9 846.6h1.00v1.0h-1.00zM138.9 846.6h1.00v1.0h-1.00zM139.9 846.6h1.00v1.0h-1.00zM142.9 846.6h1.00v1.0h-1.00zM144.9 846.6h1.00v1.0h-1.00zM145.9 846.6h1.00v1.0h-1.00zM146.9 846.6h1.00v1.0h-1.00zM148.9 846.6h1.00v1.0h-1.00zM151.9 846.6h1.00v1.0h-1.00zM153.9 846.6h1.00v1.0h-1.00zM154.9 846.6h1.00v1.0h-1.00zM156.9 846.6h1.00v1.0h-1.00zM159.9 846.6h1.00v1.0h-1.00zM160.9 846.6h1.00v1.0h-1.00zM161.9 846.6h1.00v1.0h-1.00zM162.9 846.6h1.00v1.0h-1.00zM167.9 846.6h1.00v1.0h-1.00zM168.9 846.6h1.00v1.0h-1.00zM170.9 846.6h1.00v1.0h-1.00zM171.9 846.6h1.00v1.0h-1.00zM174.9 846.6h1.00v1.0h-1.00zM176.9 846.6h1.00v1.0h-1.00zM178.9 846.6h1.00v1.0h-1.00zM179.9 846.6h1.00v1.0h-1.00zM180.9 846.6h1.00v1.0h-1.00zM181.9 846.6h1.00v1.0h-1.00zM182.9 846.6h1.00v1.0h-1.00zM184.9 846.6h1.00v1.0h-1.00zM187.9 846.6h1.00v1.0h-1.00zM190.9 846.6h1.00v1.0h-1.00zM192.9 846.6h1.00v1.0h-1.00zM193.9 846.6h1.00v1.0h-1.00zM194.9 846.6h1.00v1.0h-1.00zM195.9 846.6h1.00v1.0h-1.00zM196.9 846.6h1.00v1.0h-1.00zM198.9 846.6h1.00v1.0h-1.00zM199.9 846.6h1.00v1.0h-1.00zM200.9 846.6h1.00v1.0h-1.00zM202.9 846.6h1.00v1.0h-1.00zM204.9 846.6h1.00v1.0h-1.00zM205.9 846.6h1.00v1.0h-1.00zM206.9 846.6h1.00v1.0h-1.00zM207.9 846.6h1.00v1.0h-1.00zM208.9 846.6h1.00v1.0h-1.00zM209.9 846.6h1.00v1.0h-1.00zM211.9 846.6h1.00v1.0h-1.00zM213.9 846.6h1.00v1.0h-1.00zM214.9 846.6h1.00v1.0h-1.00zM215.9 846.6h1.00v1.0h-1.00zM217.9 846.6h1.00v1.0h-1.00zM218.9 846.6h1.00v1.0h-1.00zM219.9 846.6h1.00v1.0h-1.00zM221.9 846.6h1.00v1.0h-1.00zM222.9 846.6h1.00v1.0h-1.00zM224.9 846.6h1.00v1.0h-1.00zM227.9 846.6h1.00v1.0h-1.00zM228.9 846.6h1.00v1.0h-1.00zM229.9 846.6h1.00v1.0h-1.00zM230.9 846.6h1.00v1.0h-1.00zM231.9 846.6h1.00v1.0h-1.00zM232.9 846.6h1.00v1.0h-1.00zM234.9 846.6h1.00v1.0h-1.00zM237.9 846.6h1.00v1.0h-1.00zM238.9 846.6h1.00v1.0h-1.00zM242.9 846.6h1.00v1.0h-1.00zM244.9 846.6h1.00v1.0h-1.00zM247.9 846.6h1.00v1.0h-1.00zM248.9 846.6h1.00v1.0h-1.00z" fill="#ffffff" shape-rendering="crispEdges"/>
<path d="M70.8 829.6h1.00v19.0h-1.00zM70.8 857.7h1.00v3.0h-1.00zM70.8 861.7h1.00v1.0h-1.00zM70.8 876.7h1.00v5.0h-1.00zM70.8 923.7h1.00v2.0h-1.00zM70.8 928.7h1.00v1.0h-1.00zM71.8 849.7h1.00v3.0h-1.00zM71.8 853.7h1.00v4.0h-1.00zM71.8 870.7h1.00v6.0h-1.00zM71.8 926.7h1.00v2.0h-1.00zM71.8 929.7h1.00v1.0h-1.00zM72.8 829.6h1.00v9.0h-1.00zM73.8 924.7h1.00v6.0h-1.00zM75.8 922.7h1.00v1.0h-1.00zM75.8 924.7h1.00v6.0h-1.00zM80.8 830.6h1.00v1.0h-1.00zM81.8 827.6h1.00v1.0h-1.00zM82.8 924.7h1.00v1.0h-1.00zM82.8 926.7h1.00v1.0h-1.00zM83.8 855.7h1.00v1.0h-1.00zM85.8 847.6h1.00v1.0h-1.00zM85.8 878.7h1.00v1.0h-1.00zM86.8 830.6h1.00v1.0h-1.00zM86.8 838.6h1.00v1.0h-1.00zM86.8 852.7h1.00v1.0h-1.00zM86.8 860.7h1.00v1.0h-1.00zM86.8 925.7h1.00v1.0h-1.00zM86.8 928.7h1.00v1.0h-1.00zM90.8 923.7h1.00v2.0h-1.00zM91.8 921.7h1.00v1.0h-1.00zM91.8 926.7h1.00v1.0h-1.00zM96.8 921.7h1.00v2.0h-1.00zM99.8 907.7h1.00v9.0h-1.00zM99.8 921.7h1.00v1.0h-1.00zM99.8 923.7h1.00v2.0h-1.00zM99.8 926.7h1.00v3.0h-1.00zM101.8 911.7h1.00v2.0h-1.00zM101.8 914.7h1.00v7.0h-1.00zM102.8 921.7h1.00v2.0h-1.00zM102.8 924.7h1.00v3.0h-1.00zM102.8 928.7h1.00v1.0h-1.00zM104.8 905.7h1.00v2.0h-1.00zM104.8 916.7h1.00v5.0h-1.00zM105.8 924.7h1.00v1.0h-1.00zM106.8 907.7h1.00v4.0h-1.00zM107.8 906.7h1.00v1.0h-1.00zM110.8 904.7h1.00v3.0h-1.00zM111.8 916.7h1.00v5.0h-1.00zM111.8 922.7h1.00v2.0h-1.00zM111.8 926.7h1.00v1.0h-1.00zM113.8 907.7h1.00v4.0h-1.00zM114.8 918.7h1.00v1.0h-1.00zM115.8 925.7h1.00v3.0h-1.00zM116.8 922.7h1.00v2.0h-1.00zM118.8 920.7h1.00v10.0h-1.00zM120.8 904.7h1.00v3.0h-1.00zM120.8 914.7h1.00v1.0h-1.00zM120.8 920.7h1.00v9.0h-1.00zM122.8 911.7h1.00v5.0h-1.00zM122.8 923.7h1.00v1.0h-1.00zM124.8 921.7h1.00v4.0h-1.00zM124.8 926.7h1.00v4.0h-1.00zM125.8 911.7h1.00v1.0h-1.00zM127.8 908.7h1.00v1.0h-1.00zM127.8 921.7h1.00v2.0h-1.00zM127.8 927.7h1.00v1.0h-1.00zM130.8 616.5h1.00v12.0h-1.00zM130.8 685.6h1.00v7.0h-1.00zM130.8 693.6h1.00v5.0h-1.00zM130.8 789.6h1.00v2.0h-1.00zM130.8 921.7h1.00v1.0h-1.00zM130.8 923.7h1.00v5.0h-1.00zM130.8 929.7h1.00v1.0h-1.00zM131.8 636.5h1.00v7.0h-1.00zM131.8 665.5h1.00v9.0h-1.00zM131.8 713.6h1.00v2.0h-1.00zM131.8 729.6h1.00v5.0h-1.00zM131.8 747.6h1.00v28.0h-1.00zM131.8 776.6h1.00v8.0h-1.00zM131.8 785.6h1.00v2.0h-1.00zM132.8 921.7h1.00v3.0h-1.00zM132.8 927.7h1.00v3.0h-1.00zM134.9 886.7h1.00v1.0h-1.00zM134.9 907.7h1.00v4.0h-1.00zM135.9 923.7h1.00v1.0h-1.00zM135.9 925.7h1.00v2.0h-1.00zM136.9 886.7h1.00v1.0h-1.00zM138.9 886.7h1.00v1.0h-1.00zM139.9 921.7h1.00v6.0h-1.00zM139.9 928.7h1.00v2.0h-1.00zM142.9 925.7h1.00v1.0h-1.00zM142.9 928.7h1.00v1.0h-1.00zM143.9 917.7h1.00v1.0h-1.00zM143.9 923.7h1.00v1.0h-1.00zM143.9 929.7h1.00v1.0h-1.00zM145.9 900.7h1.00v1.0h-1.00zM146.9 925.7h1.00v1.0h-1.00zM148.9 922.7h1.00v2.0h-1.00zM148.9 925.7h1.00v1.0h-1.00zM150.9 921.7h1.00v1.0h-1.00zM150.9 927.7h1.00v1.0h-1.00zM151.9 923.7h1.00v4.0h-1.00zM154.9 921.7h1.00v1.0h-1.00zM156.9 925.7h1.00v1.0h-1.00zM160.9 921.7h1.00v3.0h-1.00zM160.9 925.7h1.00v1.0h-1.00zM160.9 927.7h1.00v3.0h-1.00zM161.9 901.7h1.00v1.0h-1.00zM164.9 924.7h1.00v3.0h-1.00zM165.9 927.7h1.00v1.0h-1.00zM174.9 923.7h1.00v2.0h-1.00zM174.9 926.7h1.00v1.0h-1.00zM177.9 921.7h1.00v4.0h-1.00zM177.9 928.7h1.00v2.0h-1.00zM180.9 921.7h1.00v9.0h-1.00zM183.9 921.7h1.00v1.0h-1.00zM183.9 927.7h1.00v1.0h-1.00zM185.9 921.7h1.00v9.0h-1.00zM189.9 911.7h1.00v5.0h-1.00zM189.9 917.7h1.00v4.0h-1.00zM190.9 901.7h1.00v1.0h-1.00zM191.9 921.7h1.00v5.0h-1.00zM192.9 901.7h1.00v1.0h-1.00zM192.9 927.7h1.00v2.0h-1.00zM195.9 921.7h1.00v5.0h-1.00zM195.9 927.7h1.00v3.0h-1.00zM198.9 921.7h1.00v2.0h-1.00zM198.9 929.7h1.00v1.0h-1.00zM201.9 927.7h1.00v1.0h-1.00zM202.9 899.7h1.00v1.0h-1.00zM202.9 905.7h1.00v1.0h-1.00zM202.9 921.7h1.00v2.0h-1.00zM204.9 927.7h1.00v3.0h-1.00zM207.9 927.7h1.00v3.0h-1.00zM210.9 902.7h1.00v1.0h-1.00zM212.9 915.7h1.00v1.0h-1.00zM213.9 903.7h1.00v3.0h-1.00zM214.9 801.6h1.00v7.0h-1.00zM214.9 834.6h1.00v12.0h-1.00zM214.9 847.6h1.00v5.0h-1.00zM214.9 867.7h1.00v12.0h-1.00zM214.9 915.7h1.00v1.0h-1.00zM215.9 903.7h1.00v4.0h-1.00zM216.9 900.7h1.00v1.0h-1.00zM216.9 911.7h1.00v3.0h-1.00zM216.9 915.7h1.00v4.0h-1.00zM216.9 927.7h1.00v3.0h-1.00zM217.9 807.6h1.00v4.0h-1.00zM217.9 833.6h1.00v13.0h-1.00zM217.9 847.6h1.00v5.0h-1.00zM217.9 864.7h1.00v9.0h-1.00zM218.9 710.6h1.00v6.0h-1.00zM218.9 812.6h1.00v4.0h-1.00zM218.9 822.6h1.00v2.0h-1.00zM218.9 910.7h1.00v1.0h-1.00zM219.9 754.6h1.00v3.0h-1.00zM219.9 835.6h1.00v11.0h-1.00zM219.9 847.6h1.00v5.0h-1.00zM219.9 864.7h1.00v9.0h-1.00zM219.9 903.7h1.00v4.0h-1.00zM220.9 898.7h1.00v1.0h-1.00zM220.9 910.7h1.00v1.0h-1.00zM220.9 922.7h1.00v2.0h-1.00zM221.9 697.6h1.00v12.0h-1.00zM221.9 715.6h1.00v3.0h-1.00zM221.9 737.6h1.00v1.0h-1.00zM221.9 911.7h1.00v8.0h-1.00zM222.9 907.7h1.00v4.0h-1.00zM223.9 846.6h1.00v1.0h-1.00zM223.9 898.7h1.00v5.0h-1.00zM224.9 904.7h1.00v8.0h-1.00zM224.9 913.7h1.00v2.0h-1.00zM224.9 921.7h1.00v4.0h-1.00zM224.9 928.7h1.00v2.0h-1.00zM226.9 907.7h1.00v4.0h-1.00zM227.9 898.7h1.00v9.0h-1.00zM227.9 915.7h1.00v1.0h-1.00zM227.9 918.7h1.00v1.0h-1.00zM227.9 920.7h1.00v1.0h-1.00zM227.9 924.7h1.00v2.0h-1.00zM227.9 927.7h1.00v1.0h-1.00zM229.9 922.7h1.00v2.0h-1.00zM229.9 927.7h1.00v1.0h-1.00zM229.9 929.7h1.00v1.0h-1.00zM230.9 900.7h1.00v1.0h-1.00zM230.9 907.7h1.00v14.0h-1.00zM232.9 900.7h1.00v1.0h-1.00zM232.9 903.7h1.00v6.0h-1.00zM232.9 910.7h1.00v1.0h-1.00zM233.9 911.7h1.00v8.0h-1.00zM233.9 920.7h1.00v3.0h-1.00zM235.9 900.7h1.00v1.0h-1.00zM235.9 907.7h1.00v4.0h-1.00zM236.9 903.7h1.00v1.0h-1.00zM237.9 907.7h1.00v1.0h-1.00zM237.9 913.7h1.00v1.0h-1.00zM238.9 898.7h1.00v5.0h-1.00zM238.9 909.7h1.00v1.0h-1.00zM238.9 914.7h1.00v1.0h-1.00zM238.9 920.7h1.00v1.0h-1.00zM238.9 922.7h1.00v1.0h-1.00zM239.9 689.6h1.00v4.0h-1.00zM239.9 788.6h1.00v6.0h-1.00zM240.9 795.6h1.00v2.0h-1.00zM240.9 798.6h1.00v3.0h-1.00zM240.9 810.6h1.00v8.0h-1.00zM240.9 830.6h1.00v2.0h-1.00zM240.9 837.6h1.00v1.0h-1.00zM240.9 848.7h1.00v2.0h-1.00zM240.9 851.7h1.00v3.0h-1.00zM240.9 855.7h1.00v1.0h-1.00zM240.9 861.7h1.00v13.0h-1.00zM240.9 880.7h1.00v3.0h-1.00zM240.9 898.7h1.00v5.0h-1.00zM241.9 911.7h1.00v3.0h-1.00zM241.9 915.7h1.00v6.0h-1.00zM242.9 926.7h1.00v1.0h-1.00zM243.9 833.6h1.00v1.0h-1.00zM243.9 835.6h1.00v5.0h-1.00zM243.9 903.7h1.00v4.0h-1.00zM243.9 912.7h1.00v9.0h-1.00zM245.9 833.6h1.00v7.0h-1.00zM245.9 848.7h1.00v8.0h-1.00zM245.9 874.7h1.00v6.0h-1.00zM245.9 911.7h1.00v3.0h-1.00zM245.9 915.7h1.00v4.0h-1.00zM245.9 925.7h1.00v1.0h-1.00zM246.9 903.7h1.00v8.0h-1.00zM247.9 919.7h1.00v2.0h-1.00zM248.9 810.6h1.00v5.0h-1.00zM248.9 816.6h1.00v1.0h-1.00zM248.9 868.7h1.00v6.0h-1.00zM248.9 924.7h1.00v3.0h-1.00zM249.9 833.6h1.00v3.0h-1.00zM249.9 837.6h1.00v3.0h-1.00zM249.9 849.7h1.00v7.0h-1.00zM249.9 876.7h1.00v3.0h-1.00zM250.9 824.6h1.00v9.0h-1.00zM250.9 856.7h1.00v5.0h-1.00zM250.9 868.7h1.00v6.0h-1.00zM251.9 880.7h1.00v3.0h-1.00zM251.9 898.7h1.00v9.0h-1.00zM251.9 919.7h1.00v2.0h-1.00zM252.9 801.6h1.00v6.0h-1.00zM252.9 808.6h1.00v2.0h-1.00zM252.9 848.7h1.00v8.0h-1.00zM252.9 874.7h1.00v6.0h-1.00zM252.9 921.7h1.00v9.0h-1.00zM253.9 886.7h1.00v1.0h-1.00zM253.9 888.7h1.00v5.0h-1.00zM253.9 898.7h1.00v3.0h-1.00zM253.9 912.7h1.00v6.0h-1.00zM253.9 919.7h1.00v2.0h-1.00zM254.9 927.7h1.00v3.0h-1.00zM255.9 886.7h1.00v12.0h-1.00zM255.9 916.7h1.00v1.0h-1.00zM255.9 922.7h1.00v1.0h-1.00zM255.9 924.7h1.00v1.0h-1.00zM257.9 886.7h1.00v7.0h-1.00zM258.9 915.7h1.00v5.0h-1.00zM260.9 807.6h1.00v1.0h-1.00zM260.9 810.6h1.00v14.0h-1.00zM260.9 826.6h1.00v1.0h-1.00zM260.9 833.6h1.00v2.0h-1.00zM260.9 836.6h1.00v4.0h-1.00zM260.9 856.7h1.00v5.0h-1.00zM260.9 880.7h1.00v3.0h-1.00zM261.9 788.6h1.00v7.0h-1.00zM261.9 796.6h1.00v2.0h-1.00zM261.9 799.6h1.00v2.0h-1.00zM261.9 830.6h1.00v3.0h-1.00zM261.9 840.6h1.00v8.0h-1.00zM261.9 861.7h1.00v7.0h-1.00zM261.9 923.7h1.00v3.0h-1.00zM261.9 927.7h1.00v3.0h-1.00zM263.0 807.6h1.00v1.0h-1.00zM263.0 868.7h1.00v1.0h-1.00zM263.0 871.7h1.00v4.0h-1.00zM264.0 795.6h1.00v6.0h-1.00zM264.0 810.6h1.00v3.0h-1.00zM264.0 814.6h1.00v4.0h-1.00zM264.0 824.6h1.00v6.0h-1.00zM264.0 921.7h1.00v4.0h-1.00zM264.0 926.7h1.00v4.0h-1.00zM265.0 788.6h1.00v7.0h-1.00zM265.0 830.6h1.00v3.0h-1.00zM265.0 848.7h1.00v1.0h-1.00zM265.0 851.7h1.00v5.0h-1.00zM266.0 801.6h1.00v9.0h-1.00zM266.0 840.6h1.00v1.0h-1.00zM266.0 842.6h1.00v1.0h-1.00zM266.0 847.6h1.00v1.0h-1.00zM267.0 818.6h1.00v5.0h-1.00zM267.0 830.6h1.00v1.0h-1.00zM267.0 848.7h1.00v8.0h-1.00zM267.0 880.7h1.00v3.0h-1.00zM267.0 922.7h1.00v2.0h-1.00zM267.0 925.7h1.00v1.0h-1.00zM268.0 865.7h1.00v5.0h-1.00zM268.0 876.7h1.00v2.0h-1.00zM268.0 901.7h1.00v7.0h-1.00zM269.0 818.6h1.00v1.0h-1.00zM269.0 826.6h1.00v1.0h-1.00zM269.0 830.6h1.00v1.0h-1.00zM269.0 878.7h1.00v5.0h-1.00zM269.0 893.7h1.00v5.0h-1.00zM270.0 833.6h1.00v1.0h-1.00zM270.0 835.6h1.00v3.0h-1.00zM270.0 847.6h1.00v3.0h-1.00zM270.0 851.7h1.00v4.0h-1.00zM270.0 870.7h1.00v5.0h-1.00zM270.0 898.7h1.00v10.0h-1.00zM270.0 912.7h1.00v2.0h-1.00zM270.0 919.7h1.00v3.0h-1.00zM270.0 923.7h1.00v1.0h-1.00zM271.0 801.6h1.00v2.0h-1.00zM271.0 804.6h1.00v1.0h-1.00zM271.0 806.6h1.00v2.0h-1.00zM271.0 886.7h1.00v2.0h-1.00zM271.0 889.7h1.00v1.0h-1.00zM271.0 925.7h1.00v2.0h-1.00zM272.0 912.7h1.00v2.0h-1.00zM272.0 919.7h1.00v2.0h-1.00zM273.0 792.6h1.00v9.0h-1.00zM273.0 815.6h1.00v18.0h-1.00zM273.0 838.6h1.00v1.0h-1.00zM273.0 840.6h1.00v5.0h-1.00zM273.0 846.6h1.00v4.0h-1.00zM273.0 851.7h1.00v5.0h-1.00zM273.0 878.7h1.00v5.0h-1.00zM273.0 908.7h1.00v4.0h-1.00zM273.0 915.7h1.00v4.0h-1.00zM273.0 921.7h1.00v3.0h-1.00zM273.0 928.7h1.00v2.0h-1.00zM274.0 808.6h1.00v1.0h-1.00zM274.0 810.6h1.00v2.0h-1.00zM274.0 813.6h1.00v2.0h-1.00zM274.0 925.7h1.00v1.0h-1.00zM275.0 801.6h1.00v4.0h-1.00zM275.0 806.6h1.00v2.0h-1.00zM275.0 827.6h1.00v1.0h-1.00zM275.0 831.6h1.00v1.0h-1.00zM275.0 838.6h1.00v9.0h-1.00zM275.0 915.7h1.00v4.0h-1.00zM276.0 788.6h1.00v4.0h-1.00zM276.0 808.6h1.00v7.0h-1.00zM276.0 865.7h1.00v1.0h-1.00zM276.0 870.7h1.00v8.0h-1.00zM276.0 901.7h1.00v5.0h-1.00zM276.0 907.7h1.00v5.0h-1.00zM276.0 919.7h1.00v2.0h-1.00zM277.0 792.6h1.00v1.0h-1.00zM277.0 794.6h1.00v7.0h-1.00zM277.0 833.6h1.00v1.0h-1.00zM277.0 835.6h1.00v5.0h-1.00zM277.0 879.7h1.00v1.0h-1.00zM277.0 922.7h1.00v8.0h-1.00zM278.0 810.6h1.00v1.0h-1.00zM278.0 819.6h1.00v1.0h-1.00zM278.0 864.7h1.00v1.0h-1.00zM278.0 886.7h1.00v7.0h-1.00zM278.0 908.7h1.00v4.0h-1.00zM278.0 915.7h1.00v4.0h-1.00zM279.0 837.6h1.00v1.0h-1.00zM279.0 922.7h1.00v8.0h-1.00zM280.0 828.6h1.00v1.0h-1.00zM280.0 878.7h1.00v1.0h-1.00zM280.0 882.7h1.00v1.0h-1.00zM281.0 788.6h1.00v4.0h-1.00zM281.0 837.6h1.00v1.0h-1.00zM281.0 846.6h1.00v1.0h-1.00zM281.0 893.7h1.00v5.0h-1.00zM281.0 919.7h1.00v2.0h-1.00zM281.0 923.7h1.00v1.0h-1.00zM281.0 926.7h1.00v2.0h-1.00zM282.0 816.6h1.00v1.0h-1.00zM282.0 875.7h1.00v3.0h-1.00zM282.0 921.7h1.00v2.0h-1.00zM282.0 924.7h1.00v1.0h-1.00zM283.0 793.6h1.00v6.0h-1.00zM283.0 800.6h1.00v1.0h-1.00zM283.0 848.7h1.00v5.0h-1.00zM283.0 854.7h1.00v2.0h-1.00zM284.0 880.7h1.00v1.0h-1.00zM284.0 901.7h1.00v7.0h-1.00zM284.0 913.7h1.00v1.0h-1.00zM284.0 921.7h1.00v5.0h-1.00zM284.0 928.7h1.00v2.0h-1.00zM285.0 838.6h1.00v1.0h-1.00zM285.0 845.6h1.00v2.0h-1.00zM285.0 886.7h1.00v1.0h-1.00zM286.0 815.6h1.00v8.0h-1.00zM286.0 847.6h1.00v9.0h-1.00zM286.0 870.7h1.00v5.0h-1.00zM286.0 918.7h1.00v1.0h-1.00zM286.0 921.7h1.00v1.0h-1.00zM286.0 923.7h1.00v2.0h-1.00zM286.0 926.7h1.00v3.0h-1.00zM287.0 801.6h1.00v1.0h-1.00zM287.0 804.6h1.00v1.0h-1.00zM287.0 838.6h1.00v1.0h-1.00zM287.0 845.6h1.00v2.0h-1.00zM287.0 902.7h1.00v1.0h-1.00zM287.0 904.7h1.00v1.0h-1.00zM287.0 912.7h1.00v3.0h-1.00zM288.0 788.6h1.00v4.0h-1.00zM288.0 824.6h1.00v8.0h-1.00zM288.0 833.6h1.00v5.0h-1.00zM288.0 875.7h1.00v3.0h-1.00zM288.0 886.7h1.00v1.0h-1.00zM288.0 888.7h1.00v2.0h-1.00zM288.0 891.7h1.00v2.0h-1.00zM288.0 894.7h1.00v4.0h-1.00zM288.0 921.7h1.00v7.0h-1.00zM289.0 838.6h1.00v15.0h-1.00zM289.0 854.7h1.00v2.0h-1.00zM289.0 861.7h1.00v1.0h-1.00zM289.0 870.7h1.00v5.0h-1.00zM290.0 788.6h1.00v9.0h-1.00zM290.0 798.6h1.00v3.0h-1.00zM290.0 815.6h1.00v12.0h-1.00zM290.0 828.6h1.00v5.0h-1.00zM290.0 864.7h1.00v1.0h-1.00zM290.0 901.7h1.00v7.0h-1.00zM290.0 912.7h1.00v3.0h-1.00zM291.0 893.7h1.00v5.0h-1.00zM291.0 922.7h1.00v2.0h-1.00zM291.0 926.7h1.00v3.0h-1.00zM292.0 856.7h1.00v1.0h-1.00zM292.0 858.7h1.00v7.0h-1.00zM292.0 867.7h1.00v1.0h-1.00zM292.0 875.7h1.00v3.0h-1.00zM293.0 792.6h1.00v9.0h-1.00zM293.0 808.6h1.00v7.0h-1.00zM293.0 838.6h1.00v8.0h-1.00zM293.0 847.6h1.00v2.0h-1.00zM293.0 850.7h1.00v6.0h-1.00zM293.0 870.7h1.00v5.0h-1.00zM294.0 865.7h1.00v5.0h-1.00zM294.0 898.7h1.00v3.0h-1.00zM294.0 908.7h1.00v4.0h-1.00zM294.0 915.7h1.00v4.0h-1.00zM294.0 921.7h1.00v2.0h-1.00zM294.0 925.7h1.00v5.0h-1.00zM295.0 919.7h1.00v2.0h-1.00zM297.0 797.6h1.00v1.0h-1.00zM297.0 835.6h1.00v12.0h-1.00zM297.0 875.7h1.00v1.0h-1.00zM297.0 886.7h1.00v6.0h-1.00zM297.0 893.7h1.00v8.0h-1.00zM297.0 921.7h1.00v5.0h-1.00zM298.0 801.6h1.00v1.0h-1.00zM298.0 824.6h1.00v9.0h-1.00zM298.0 878.7h1.00v5.0h-1.00zM298.0 901.7h1.00v7.0h-1.00zM298.0 912.7h1.00v3.0h-1.00zM299.0 851.7h1.00v1.0h-1.00zM300.0 773.6h1.00v2.0h-1.00zM300.0 778.6h1.00v6.0h-1.00zM300.0 793.6h1.00v1.0h-1.00zM300.0 800.6h1.00v1.0h-1.00zM300.0 824.6h1.00v1.0h-1.00zM300.0 874.7h1.00v1.0h-1.00zM300.0 898.7h1.00v1.0h-1.00zM300.0 912.7h1.00v2.0h-1.00zM300.0 915.7h1.00v4.0h-1.00zM301.0 767.6h1.00v1.0h-1.00zM301.0 807.6h1.00v1.0h-1.00zM301.0 848.7h1.00v8.0h-1.00zM301.0 893.7h1.00v2.0h-1.00zM301.0 896.7h1.00v2.0h-1.00zM302.0 789.6h1.00v1.0h-1.00zM302.0 792.6h1.00v9.0h-1.00zM302.0 834.6h1.00v2.0h-1.00zM302.0 857.7h1.00v1.0h-1.00zM302.0 886.7h1.00v2.0h-1.00zM302.0 889.7h1.00v4.0h-1.00zM302.0 912.7h1.00v6.0h-1.00zM303.0 807.6h1.00v1.0h-1.00zM303.0 847.6h1.00v9.0h-1.00zM303.0 870.7h1.00v5.0h-1.00zM303.0 921.7h1.00v9.0h-1.00zM304.0 908.7h1.00v4.0h-1.00zM304.0 915.7h1.00v4.0h-1.00zM305.0 788.6h1.00v6.0h-1.00zM305.0 795.6h1.00v6.0h-1.00zM305.0 815.6h1.00v3.0h-1.00zM305.0 819.6h1.00v10.0h-1.00zM305.0 830.6h1.00v3.0h-1.00zM305.0 835.6h1.00v1.0h-1.00zM305.0 856.7h1.00v1.0h-1.00zM305.0 858.7h1.00v1.0h-1.00zM305.0 879.7h1.00v1.0h-1.00zM306.0 809.6h1.00v1.0h-1.00zM306.0 811.6h1.00v4.0h-1.00zM307.0 759.6h1.00v30.0h-1.00zM307.0 792.6h1.00v9.0h-1.00zM307.0 826.6h1.00v1.0h-1.00zM307.0 847.6h1.00v9.0h-1.00zM307.0 879.7h1.00v1.0h-1.00zM308.0 925.7h1.00v1.0h-1.00zM309.0 761.6h1.00v6.0h-1.00zM309.0 788.6h1.00v2.0h-1.00zM309.0 791.6h1.00v1.0h-1.00zM309.0 838.6h1.00v9.0h-1.00zM309.0 860.7h1.00v1.0h-1.00zM309.0 865.7h1.00v5.0h-1.00zM309.0 878.7h1.00v5.0h-1.00zM309.0 901.7h1.00v7.0h-1.00zM310.0 826.6h1.00v1.0h-1.00zM310.0 832.6h1.00v1.0h-1.00zM310.0 853.7h1.00v1.0h-1.00zM310.0 856.7h1.00v1.0h-1.00zM310.0 858.7h1.00v1.0h-1.00zM310.0 886.7h1.00v2.0h-1.00zM310.0 889.7h1.00v4.0h-1.00zM310.0 908.7h1.00v4.0h-1.00zM310.0 919.7h1.00v2.0h-1.00zM311.0 777.6h1.00v2.0h-1.00zM311.0 802.6h1.00v1.0h-1.00zM311.0 901.7h1.00v3.0h-1.00zM311.0 905.7h1.00v3.0h-1.00zM311.0 921.7h1.00v3.0h-1.00zM311.0 925.7h1.00v5.0h-1.00zM312.0 789.6h1.00v3.0h-1.00zM312.0 822.6h1.00v1.0h-1.00zM312.0 832.6h1.00v1.0h-1.00zM312.0 868.7h1.00v1.0h-1.00zM312.0 870.7h1.00v5.0h-1.00zM312.0 876.7h1.00v2.0h-1.00zM312.0 919.7h1.00v1.0h-1.00zM313.0 833.6h1.00v5.0h-1.00zM313.0 893.7h1.00v5.0h-1.00zM313.0 908.7h1.00v4.0h-1.00zM313.0 915.7h1.00v1.0h-1.00zM313.0 920.7h1.00v1.0h-1.00zM314.0 801.6h1.00v7.0h-1.00zM314.0 818.6h1.00v1.0h-1.00zM314.0 822.6h1.00v1.0h-1.00zM314.0 829.6h1.00v1.0h-1.00zM314.0 832.6h1.00v1.0h-1.00zM314.0 870.7h1.00v5.0h-1.00zM314.0 876.7h1.00v2.0h-1.00zM314.0 921.7h1.00v2.0h-1.00zM314.0 924.7h1.00v4.0h-1.00zM314.0 929.7h1.00v1.0h-1.00zM316.0 792.6h1.00v7.0h-1.00zM316.0 800.6h1.00v1.0h-1.00zM316.0 811.6h1.00v1.0h-1.00zM316.0 815.6h1.00v3.0h-1.00zM316.0 819.6h1.00v1.0h-1.00zM316.0 822.6h1.00v1.0h-1.00zM316.0 824.6h1.00v4.0h-1.00zM316.0 830.6h1.00v3.0h-1.00zM316.0 870.7h1.00v5.0h-1.00zM317.0 785.6h1.00v4.0h-1.00zM317.0 814.6h1.00v1.0h-1.00zM317.0 833.6h1.00v14.0h-1.00zM317.0 876.7h1.00v1.0h-1.00zM317.0 886.7h1.00v7.0h-1.00zM317.0 898.7h1.00v3.0h-1.00zM317.0 903.7h1.00v1.0h-1.00zM317.0 908.7h1.00v7.0h-1.00zM317.0 919.7h1.00v2.0h-1.00zM318.0 778.6h1.00v6.0h-1.00zM318.0 811.6h1.00v1.0h-1.00zM318.0 815.6h1.00v1.0h-1.00zM318.0 817.6h1.00v7.0h-1.00zM318.0 865.7h1.00v2.0h-1.00zM318.0 868.7h1.00v2.0h-1.00zM318.0 915.7h1.00v4.0h-1.00zM318.0 921.7h1.00v7.0h-1.00zM319.0 788.6h1.00v1.0h-1.00zM319.0 792.6h1.00v9.0h-1.00zM319.0 833.6h1.00v1.0h-1.00zM319.0 835.6h1.00v3.0h-1.00zM319.0 898.7h1.00v3.0h-1.00zM320.0 839.6h1.00v8.0h-1.00zM320.0 856.7h1.00v8.0h-1.00zM320.0 875.7h1.00v3.0h-1.00zM320.0 893.7h1.00v5.0h-1.00zM320.0 916.7h1.00v2.0h-1.00zM320.0 919.7h1.00v2.0h-1.00zM321.0 805.6h1.00v1.0h-1.00zM321.0 828.6h1.00v1.0h-1.00zM321.0 898.7h1.00v3.0h-1.00zM321.0 921.7h1.00v1.0h-1.00zM322.0 786.6h1.00v2.0h-1.00zM322.0 792.6h1.00v6.0h-1.00zM322.0 799.6h1.00v2.0h-1.00zM322.0 815.6h1.00v7.0h-1.00zM322.0 823.6h1.00v1.0h-1.00zM322.0 834.6h1.00v13.0h-1.00zM322.0 856.7h1.00v4.0h-1.00zM322.0 861.7h1.00v5.0h-1.00zM322.0 867.7h1.00v16.0h-1.00zM322.0 901.7h1.00v1.0h-1.00zM322.0 903.7h1.00v5.0h-1.00zM322.0 922.7h1.00v1.0h-1.00zM322.0 924.7h1.00v6.0h-1.00zM323.0 759.6h1.00v2.0h-1.00zM323.0 805.6h1.00v1.0h-1.00zM324.0 822.6h1.00v1.0h-1.00zM324.0 824.6h1.00v9.0h-1.00zM324.0 898.7h1.00v3.0h-1.00zM324.0 908.7h1.00v1.0h-1.00zM324.0 910.7h1.00v2.0h-1.00zM324.0 921.7h1.00v9.0h-1.00zM325.0 759.6h1.00v1.0h-1.00zM325.0 778.6h1.00v7.0h-1.00zM325.0 800.6h1.00v1.0h-1.00zM325.0 818.6h1.00v1.0h-1.00zM325.0 838.6h1.00v18.0h-1.00zM325.0 870.7h1.00v5.0h-1.00zM325.0 886.7h1.00v12.0h-1.00zM325.0 919.7h1.00v2.0h-1.00z" fill="#2f6b93" shape-rendering="crispEdges"/>
<g transform="translate(234.35,484.4) rotate(46.5)">
<rect x="0.00" y="-4.35" width="12.38" height="8.7" fill="#ffffff"/>
<rect x="12.08" y="-4.35" width="12.38" height="8.7" fill="#f4f1d6"/>
<rect x="24.16" y="-4.35" width="12.38" height="8.7" fill="#ede9b4"/>
<rect x="36.24" y="-4.35" width="12.38" height="8.7" fill="#e6e08e"/>
<rect x="48.32" y="-4.35" width="12.38" height="8.7" fill="#e0d660"/>
<rect x="60.40" y="-4.35" width="12.38" height="8.7" fill="#e4ac46"/>
<rect x="72.48" y="-4.35" width="12.38" height="8.7" fill="#e68a38"/>
<rect x="84.56" y="-4.35" width="12.38" height="8.7" fill="#e4692d"/>
<rect x="96.64" y="-4.35" width="12.38" height="8.7" fill="#de4a25"/>
<rect x="108.72" y="-4.35" width="12.38" height="8.7" fill="#d62c1f"/>
<rect x="0" y="-4.35" width="120.8" height="8.7" fill="none" stroke="#4a4444" stroke-width="0.8"/>
<text x="0" y="-6.5" font-size="8.5" fill="#231f20" text-anchor="middle">0</text>
<text x="67" y="-5.5" font-size="14" fill="#231f20" text-anchor="middle">R<tspan dy="-5" font-size="7">2</tspan></text>
<text x="121" y="-6.5" font-size="8.5" fill="#231f20" text-anchor="middle">1.0</text>
</g>
<rect x="42.3" y="599.5" width="8.8" height="331.2" fill="#8c1c20"/>
<rect x="42.3" y="608" width="8.8" height="1.2" fill="#e8e4e4"/>
<rect x="42.3" y="617.5" width="8.8" height="1.2" fill="#e8e4e4"/>
<rect x="42.3" y="623.8" width="8.8" height="1.2" fill="#e8e4e4"/>
<rect x="42.3" y="637" width="8.8" height="1.2" fill="#e8e4e4"/>
<rect x="42.3" y="646.8" width="8.8" height="2.0" fill="#3e72b0"/>
<rect x="42.3" y="686.6" width="8.8" height="2.0" fill="#3e72b0"/>
<rect x="42.3" y="711" width="8.8" height="2.0" fill="#3e72b0"/>
<rect x="42.3" y="723" width="8.8" height="1.2" fill="#e8e4e4"/>
<rect x="42.3" y="733" width="8.8" height="2.0" fill="#3e72b0"/>
<rect x="42.3" y="739" width="8.8" height="2.0" fill="#3e72b0"/>
<rect x="42.3" y="753.6" width="8.8" height="2.0" fill="#3e72b0"/>
<rect x="42.3" y="769" width="8.8" height="2.0" fill="#3e72b0"/>
<rect x="42.3" y="780" width="8.8" height="3.0" fill="#3e72b0"/>
<rect x="42.3" y="783" width="8.8" height="2.6" fill="#bdbdbd"/>
<rect x="42.3" y="790" width="8.8" height="6.5" fill="#3e72b0"/>
<rect x="42.3" y="799" width="8.8" height="2.0" fill="#3e72b0"/>
<rect x="42.3" y="801" width="8.8" height="8.0" fill="#3e72b0"/>
<rect x="42.3" y="820" width="8.8" height="3.0" fill="#3e72b0"/>
<rect x="42.3" y="825.8" width="8.8" height="2.7" fill="#3e72b0"/>
<rect x="42.3" y="828.5" width="8.8" height="10.0" fill="#3e72b0"/>
<rect x="42.3" y="846" width="8.8" height="12.6" fill="#3e72b0"/>
<rect x="42.3" y="858.6" width="8.8" height="1.9" fill="#bdbdbd"/>
<rect x="42.3" y="860.5" width="8.8" height="12.5" fill="#3e72b0"/>
<rect x="42.3" y="873" width="8.8" height="2.0" fill="#bdbdbd"/>
<rect x="42.3" y="881.5" width="8.8" height="2.5" fill="#3e72b0"/>
<rect x="42.3" y="886" width="8.8" height="13.0" fill="#3e72b0"/>
<rect x="42.3" y="900.6" width="8.8" height="11.0" fill="#3e72b0"/>
<rect x="42.3" y="911.6" width="8.8" height="2.7" fill="#bdbdbd"/>
<rect x="42.3" y="914.3" width="8.8" height="9.2" fill="#3e72b0"/>
<rect x="42.3" y="925.3" width="8.8" height="5.4" fill="#3e72b0"/>
<rect x="42.3" y="661" width="8.8" height="1.2" fill="#e8e4e4"/>
<rect x="42.3" y="672" width="8.8" height="1.2" fill="#e8e4e4"/>
<rect x="42.3" y="700" width="8.8" height="1.2" fill="#e8e4e4"/>
<rect x="42.3" y="762" width="8.8" height="1.2" fill="#e8e4e4"/>
<rect x="42.3" y="893" width="8.8" height="1.5" fill="#bdbdbd"/>
<rect x="42.3" y="906" width="8.8" height="1.0" fill="#8c1c20"/>
<rect x="52.1" y="599.5" width="8.5" height="331.2" fill="#5b3a8a"/>
<rect x="52.1" y="599.5" width="8.5" height="3.5" fill="#a9cc9f"/>
<rect x="52.1" y="644.2" width="8.5" height="1.4" fill="#a9cc9f"/>
<rect x="52.1" y="678" width="8.5" height="2.6" fill="#a9cc9f"/>
<rect x="52.1" y="682.4" width="8.5" height="1.6" fill="#a9cc9f"/>
<rect x="52.1" y="764.6" width="8.5" height="1.8" fill="#a9cc9f"/>
<rect x="52.1" y="771" width="8.5" height="14.6" fill="#a9cc9f"/>
<rect x="52.1" y="797.4" width="8.5" height="4.6" fill="#a9cc9f"/>
<rect x="52.1" y="804.7" width="8.5" height="18.3" fill="#a9cc9f"/>
<rect x="52.1" y="843" width="8.5" height="1.8" fill="#a9cc9f"/>
<rect x="52.1" y="845.7" width="8.5" height="2.9" fill="#a9cc9f"/>
<rect x="52.1" y="867.8" width="8.5" height="1.8" fill="#a9cc9f"/>
<rect x="52.1" y="870.5" width="8.5" height="1.8" fill="#a9cc9f"/>
<rect x="52.1" y="882.4" width="8.5" height="4.6" fill="#a9cc9f"/>
<rect x="52.1" y="888" width="8.5" height="1.7" fill="#a9cc9f"/>
<rect x="52.1" y="890.6" width="8.5" height="11.0" fill="#a9cc9f"/>
<rect x="52.1" y="909.8" width="8.5" height="1.8" fill="#a9cc9f"/>
<rect x="52.1" y="914.3" width="8.5" height="16.4" fill="#a9cc9f"/>
<rect x="62.3" y="599.5" width="8.5" height="331.2" fill="#c3c8e4"/>
<rect x="62.3" y="677.8" width="8.5" height="5.3" fill="#f3edc9"/>
<rect x="62.3" y="764.6" width="8.5" height="1.8" fill="#f3edc9"/>
<rect x="62.3" y="768" width="8.5" height="17.6" fill="#f3edc9"/>
<rect x="62.3" y="787.4" width="8.5" height="3.6" fill="#f3edc9"/>
<rect x="62.3" y="795.6" width="8.5" height="135.1" fill="#f3edc9"/>
<path d="M41.8 601.7H39.3V603.2H41.8M41.8 600.2H36.6V602.4H39.3M36.6 601.3H38.8M41.8 604.6H38.3V601.3H38.8M41.8 607.6H39.2V609.0H41.8M41.8 606.1H37.6V608.3H39.2M41.8 612.0H40.5V613.4H41.8M41.8 610.5H39.0V612.7H40.5M37.6 607.2H35.7V611.6H39.0M35.7 609.4H37.6V604.6H38.3M41.8 614.9H39.9V616.4H41.8M39.9 615.6H36.7V609.4H37.6M41.8 617.8H36.3V615.6H36.7M41.8 619.3H40.6V620.7H41.8M40.6 620.0H36.0V617.8H36.3M41.8 622.2H39.9V623.7H41.8M39.9 622.9H35.6V620.0H36.0M41.8 625.1H39.0V626.6H41.8M39.0 625.9H35.2V622.9H35.6M41.8 628.1H40.3V629.5H41.8M41.8 632.5H39.2V633.9H41.8M41.8 631.0H37.7V633.2H39.2M40.3 628.8H35.4V632.1H37.7M35.4 630.5H34.6V625.9H35.2M41.8 635.4H40.4V636.9H41.8M40.4 636.1H33.9V630.5H34.6M41.8 638.3H33.6V636.1H33.9M41.8 639.8H39.2V641.3H41.8M39.2 640.5H33.3V638.3H33.6M41.8 642.7H39.0V644.2H41.8M39.0 643.5H32.9V640.5H33.3M41.8 647.1H40.0V648.6H41.8M41.8 645.7H38.5V647.9H40.0M38.5 646.8H32.5V643.5H32.9M41.8 650.1H40.3V651.5H41.8M40.3 650.8H32.0V646.8H32.5M41.8 653.0H38.9V654.5H41.8M38.9 653.7H31.6V650.8H32.0M41.8 655.9H40.1V657.4H41.8M41.8 660.3H39.9V661.8H41.8M41.8 658.9H38.5V661.1H39.9M40.1 656.7H37.0V660.0H38.5M37.0 658.3H31.0V653.7H31.6M41.8 663.2H30.3V658.3H31.0M41.8 664.7H40.1V666.2H41.8M41.8 667.6H39.5V669.1H41.8M40.1 665.4H38.3V668.4H39.5M38.3 666.9H29.8V663.2H30.3M41.8 670.6H40.5V672.0H41.8M41.8 673.5H40.0V675.0H41.8M40.5 671.3H38.2V674.2H40.0M38.2 672.8H29.1V666.9H29.8M41.8 676.4H40.3V677.9H41.8M41.8 679.4H39.7V680.8H41.8M40.3 677.2H38.2V680.1H39.7M38.2 678.6H28.3V672.8H29.1M41.8 683.8H38.8V685.2H41.8M41.8 682.3H37.6V684.5H38.8M37.6 683.4H27.7V678.6H28.3M41.8 686.7H39.1V688.2H41.8M41.8 689.6H40.6V691.1H41.8M39.1 687.4H36.5V690.4H40.6M36.5 688.9H27.0V683.4H27.7M41.8 692.6H39.9V694.0H41.8M41.8 695.5H39.1V697.0H41.8M39.9 693.3H37.1V696.2H39.1M37.1 694.8H26.2V688.9H27.0M41.8 698.4H39.5V699.9H41.8M39.5 699.2H25.6V694.8H26.2M41.8 701.4H40.4V702.8H41.8M40.4 702.1H25.3V699.2H25.6M41.8 704.3H38.9V705.7H41.8M38.9 705.0H25.0V702.1H25.3M41.8 708.7H40.0V710.1H41.8M41.8 707.2H38.1V709.4H40.0M41.8 713.1H39.7V714.5H41.8M41.8 711.6H37.1V713.8H39.7M38.1 708.3H35.7V712.7H37.1M35.7 710.5H24.4V705.0H25.0M41.8 716.0H39.1V717.5H41.8M41.8 718.9H40.5V720.4H41.8M39.1 716.7H36.2V719.7H40.5M36.2 718.2H23.7V710.5H24.4M41.8 721.9H23.3V718.2H23.7M41.8 723.3H40.0V724.8H41.8M40.0 724.1H23.1V721.9H23.3M41.8 726.3H38.9V727.7H41.8M41.8 729.2H40.0V730.7H41.8M38.9 727.0H36.1V729.9H40.0M36.1 728.5H22.7V724.1H23.1M41.8 732.1H22.3V728.5H22.7M41.8 735.1H39.4V736.5H41.8M41.8 733.6H37.6V735.8H39.4M37.6 734.7H22.0V732.1H22.3M41.8 738.0H21.7V734.7H22.0M41.8 739.5H39.3V740.9H41.8M39.3 740.2H21.5V738.0H21.7M41.8 743.9H38.8V745.3H41.8M41.8 742.4H37.3V744.6H38.8M37.3 743.5H21.2V740.2H21.5M41.8 746.8H20.8V743.5H21.2M41.8 748.2H20.7V746.8H20.8M41.8 749.7H40.5V751.2H41.8M41.8 754.1H39.3V755.6H41.8M41.8 752.6H37.4V754.8H39.3M40.5 750.4H35.8V753.7H37.4M35.8 752.1H20.3V748.2H20.7M41.8 757.0H40.3V758.5H41.8M41.8 761.4H38.8V762.9H41.8M41.8 760.0H36.5V762.2H38.8M40.3 757.8H33.8V761.1H36.5M33.8 759.4H19.6V752.1H20.3M41.8 764.4H39.1V765.8H41.8M41.8 767.3H40.4V768.8H41.8M39.1 765.1H36.6V768.0H40.4M36.6 766.6H18.8V759.4H19.6M41.8 770.2H39.5V771.7H41.8M39.5 771.0H18.4V766.6H18.8M41.8 773.2H40.4V774.6H41.8M41.8 777.6H39.8V779.0H41.8M41.8 776.1H38.3V778.3H39.8M40.4 773.9H35.6V777.2H38.3M35.6 775.5H17.9V771.0H18.4M41.8 782.0H40.3V783.4H41.8M41.8 780.5H37.5V782.7H40.3M37.5 781.6H17.3V775.5H17.9M41.8 784.9H38.8V786.3H41.8M38.8 785.6H16.9V781.6H17.3M41.8 789.3H38.9V790.7H41.8M41.8 787.8H36.4V790.0H38.9M41.8 793.7H40.0V795.1H41.8M41.8 792.2H38.3V794.4H40.0M36.4 788.9H34.4V793.3H38.3M34.4 791.1H16.4V785.6H16.9M41.8 796.6H40.4V798.1H41.8M40.4 797.3H16.0V791.1H16.4M41.8 799.5H39.5V801.0H41.8M39.5 800.3H15.8V797.3H16.0M41.8 803.9H39.0V805.4H41.8M41.8 802.5H37.5V804.7H39.0M41.8 808.3H39.7V809.8H41.8M41.8 806.9H37.6V809.1H39.7M37.5 803.6H35.3V808.0H37.6M35.3 805.8H15.5V800.3H15.8M41.8 811.3H40.5V812.7H41.8M41.8 814.2H39.2V815.7H41.8M40.5 812.0H37.3V814.9H39.2M37.3 813.5H15.0V805.8H15.5M41.8 817.1H14.8V813.5H15.0M41.8 820.1H39.9V821.5H41.8M41.8 818.6H37.5V820.8H39.9M37.5 819.7H14.6V817.1H14.8M41.8 824.5H39.1V825.9H41.8M41.8 823.0H37.4V825.2H39.1M37.4 824.1H14.3V819.7H14.6M41.8 828.8H38.9V830.3H41.8M41.8 827.4H37.1V829.6H38.9M37.1 828.5H14.0V824.1H14.3M41.8 831.8H39.6V833.2H41.8M39.6 832.5H13.8V828.5H14.0M41.8 834.7H13.6V832.5H13.8M41.8 837.6H39.6V839.1H41.8M41.8 836.2H38.0V838.4H39.6M41.8 842.0H39.4V843.5H41.8M41.8 840.6H37.4V842.8H39.4M38.0 837.3H34.7V841.7H37.4M34.7 839.5H13.3V834.7H13.6M41.8 845.0H40.0V846.4H41.8M41.8 847.9H39.4V849.4H41.8M40.0 845.7H36.9V848.6H39.4M36.9 847.2H12.8V839.5H13.3M41.8 850.8H40.0V852.3H41.8M41.8 855.2H39.1V856.7H41.8M41.8 853.8H36.3V856.0H39.1M40.0 851.6H33.9V854.9H36.3M33.9 853.2H12.4V847.2H12.8M41.8 858.2H38.9V859.6H41.8M41.8 861.1H39.7V862.6H41.8M38.9 858.9H36.7V861.8H39.7M36.7 860.4H12.0V853.2H12.4M41.8 864.0H40.2V865.5H41.8M40.2 864.8H11.6V860.4H12.0M41.8 867.0H38.9V868.4H41.8M41.8 869.9H39.7V871.3H41.8M38.9 867.7H36.5V870.6H39.7M36.5 869.1H11.2V864.8H11.6M41.8 872.8H40.3V874.3H41.8M41.8 877.2H39.2V878.7H41.8M41.8 875.7H36.9V877.9H39.2M40.3 873.5H34.6V876.8H36.9M34.6 875.2H10.7V869.1H11.2M41.8 880.1H40.1V881.6H41.8M41.8 884.5H39.6V886.0H41.8M41.8 883.1H36.8V885.3H39.6M40.1 880.9H35.2V884.2H36.8M35.2 882.5H10.1V875.2H10.7M41.8 887.5H9.6V882.5H10.1M41.8 888.9H40.3V890.4H41.8M40.3 889.7H9.5V887.5H9.6M41.8 891.9H9.3V889.7H9.5M41.8 894.8H39.5V896.3H41.8M41.8 893.3H38.0V895.5H39.5M41.8 899.2H39.2V900.7H41.8M41.8 897.7H37.7V899.9H39.2M38.0 894.4H35.2V898.8H37.7M41.8 903.6H38.8V905.1H41.8M41.8 902.1H35.9V904.3H38.8M41.8 906.5H40.3V908.0H41.8M41.8 909.5H39.0V910.9H41.8M40.3 907.3H37.6V910.2H39.0M35.9 903.2H32.9V908.7H37.6M35.2 896.6H30.8V906.0H32.9M41.8 913.8H39.6V915.3H41.8M41.8 912.4H37.7V914.6H39.6M41.8 918.2H40.0V919.7H41.8M41.8 916.8H37.6V919.0H40.0M37.7 913.5H36.2V917.9H37.6M41.8 922.6H40.2V924.1H41.8M41.8 921.2H37.7V923.4H40.2M41.8 925.6H39.9V927.0H41.8M41.8 928.5H40.0V930.0H41.8M39.9 926.3H37.0V929.2H40.0M37.7 922.3H34.3V927.8H37.0M36.2 915.7H31.5V925.0H34.3M30.8 901.3H14V920.4H31.5M9.3 891.9H4.4V910.8H14M41.8 820.1H17.3M41.8 823.0H16.6M41.8 825.9H18.0M41.8 828.8H16.2M41.8 831.8H15.0M41.8 834.7H14.8M41.8 837.6H15.5M41.8 840.6H17.1M41.8 843.5H14.2M41.8 846.4H14.3M41.8 849.4H13.2M41.8 852.3H14.1M41.8 855.2H14.6M41.8 858.2H14.3M41.8 861.1H13.8M41.8 864.0H12.3M41.8 867.0H12.9M41.8 869.9H13.1M41.8 872.8H11.7M41.8 875.7H11.2M41.8 878.7H10.8M41.8 881.6H13.4M41.8 884.5H12.5M41.8 887.5H11.2M41.8 890.4H10.7" fill="none" stroke="#5a5a5a" stroke-width="0.7"/>
<rect x="21.4" y="489.7" width="15.6" height="10.4" fill="#3e72b0" stroke="#3a3030" stroke-width="0.8"/>
<text x="39.6" y="498.1" font-size="8.7" fill="#231f20">Other countries</text>
<rect x="21.4" y="506.29999999999995" width="15.6" height="10.4" fill="#8c1c20" stroke="#3a3030" stroke-width="0.8"/>
<text x="39.6" y="514.6999999999999" font-size="8.7" fill="#231f20">China</text>
<rect x="67.80000000000001" y="507.09999999999997" width="15.6" height="10.4" fill="#b0b0b0" stroke="#3a3030" stroke-width="0.8"/>
<text x="86.0" y="515.5" font-size="8.7" fill="#231f20">uncertain</text>
<rect x="21.4" y="532.1" width="15.6" height="10.4" fill="#5b3a8a" stroke="#3a3030" stroke-width="0.8"/>
<text x="39.6" y="540.5" font-size="8.7" fill="#231f20">Purple</text>
<rect x="67.80000000000001" y="532.1" width="15.6" height="10.4" fill="#a9cc9f" stroke="#3a3030" stroke-width="0.8"/>
<text x="86.0" y="540.5" font-size="8.7" fill="#231f20">non-Purple</text>
<rect x="21.4" y="557.6" width="15.6" height="10.4" fill="#c3c8e4" stroke="#3a3030" stroke-width="0.8"/>
<text x="39.6" y="566.0" font-size="8.7" fill="#231f20">INV</text>
<rect x="67.80000000000001" y="557.6" width="15.6" height="10.4" fill="#f3edc9" stroke="#3a3030" stroke-width="0.8"/>
<text x="86.0" y="566.0" font-size="8.7" fill="#231f20">non-INV</text>
<rect x="333.5" y="766.7" width="17" height="16" fill="#deeaf6" stroke="#3a3030" stroke-width="1"/>
<text x="333.5" y="790.2" font-size="8.4" fill="#231f20">Major allele</text>
<rect x="333.5" y="812.8" width="17" height="16" fill="#cccccc" stroke="#3a3030" stroke-width="1"/>
<text x="333.5" y="836.3" font-size="8.4" fill="#231f20">Heterozygote</text>
<rect x="333.5" y="858.8" width="17" height="16" fill="#0b4a6e" stroke="#3a3030" stroke-width="1"/>
<text x="333.5" y="882.3" font-size="8.4" fill="#231f20">Minor allele</text>
<rect x="333.5" y="904.7" width="17" height="16" fill="#ffffff" stroke="#3a3030" stroke-width="1"/>
<text x="333.5" y="928.2" font-size="8.4" fill="#231f20">Missing</text>
<rect x="72" y="933.3" width="254" height="18.5" rx="5" ry="5" fill="#f5efcc" stroke="#2d2626" stroke-width="1.4"/>
<rect x="146.4" y="934.8" width="161.3" height="8" fill="#c3c8e4"/>
<text x="227" y="941.6" font-size="8.3" text-anchor="middle" fill="#231f20">Inversion Region</text>
<text x="198.5" y="950.2" font-size="8" text-anchor="middle" font-weight="bold" fill="#231f20">S184.Chr10:62-82 Mb</text>
</svg></body></html>
